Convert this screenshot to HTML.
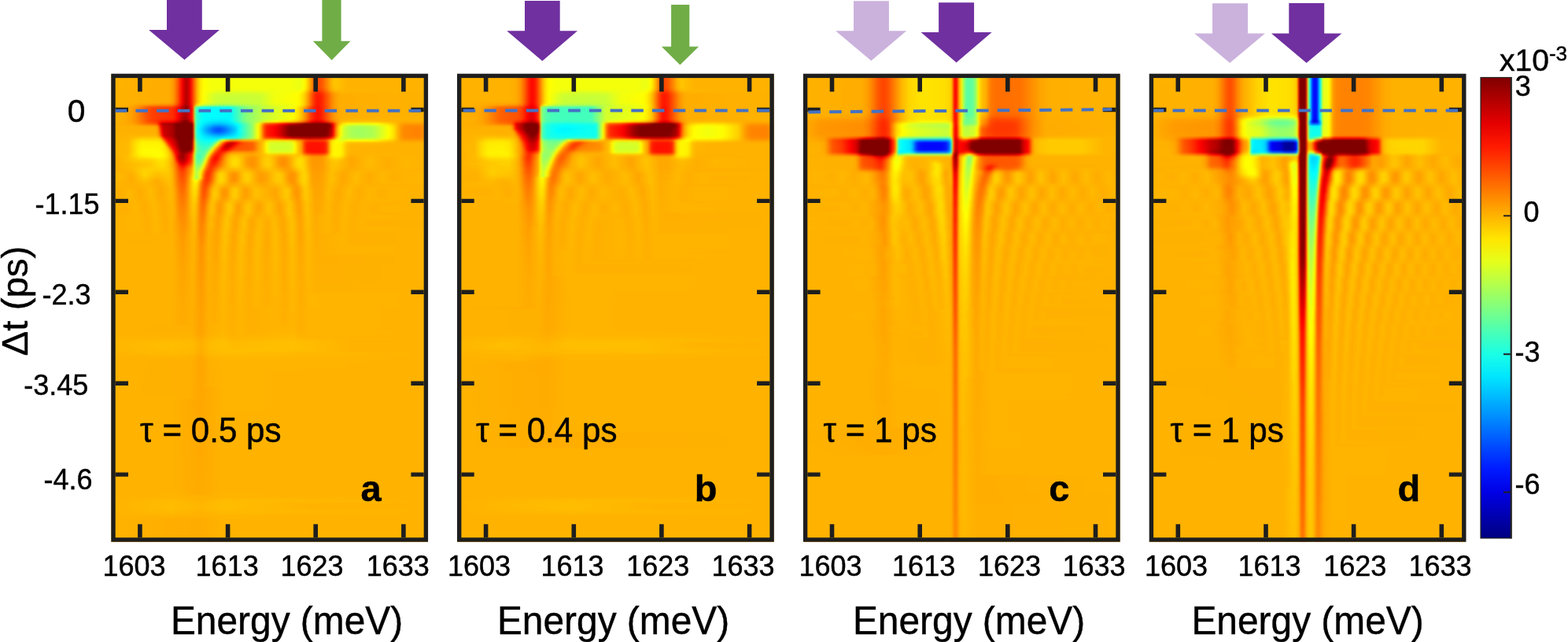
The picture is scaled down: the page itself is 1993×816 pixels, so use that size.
<!DOCTYPE html>
<html><head><meta charset="utf-8"><style>
html,body{margin:0;padding:0;background:#fff;}
body{width:1993px;height:816px;position:relative;overflow:hidden;}
.hm{position:absolute;overflow:hidden;}
.hm div{width:100%;}
svg{position:absolute;left:0;top:0;}
text{font-family:'Liberation Sans', Arial, sans-serif;fill:#000;stroke:#000;stroke-width:0.45px;}
</style></head><body>
<div class="hm" style="left:141.3px;top:93.7px;width:402.8px;height:595.0px"><div style="margin:-4px 0 0 0;filter:blur(1.2px)"><div style="height:3.00px;background:linear-gradient(90deg,#ffb300 0.0%,#ffad00 18.4%,#ffa000 19.4%,#ff8b00 20.1%,#ff5c00 21.1%,#ff0700 22.3%,#e20000 22.8%,#ba0000 23.6%,#b80000 24.1%,#d00000 24.6%,#fa0000 25.1%,#ff8300 26.6%,#ffba00 27.3%,#ffe900 28.3%,#ff0 29.3%,#f5ff0a 31.5%,#f5ff0a 56.6%,#ebff14 59.6%,#faff05 60.8%,#fffd00 61.0%,#ffdf00 61.8%,#ff6500 64.0%,#ff4e00 64.8%,#ff4800 65.5%,#ff5b00 66.7%,#ffb300 69.5%,#ffc500 70.7%,#ffb300 74.7%,#ffb300 100.0%)"></div><div style="height:12.00px;background:linear-gradient(90deg,#ffb300 0.0%,#ffad00 18.4%,#ffa000 19.4%,#ff8b00 20.1%,#ff5b00 21.1%,#ff0700 22.3%,#e20000 22.8%,#ba0000 23.6%,#b80000 24.1%,#d00000 24.6%,#fa0000 25.1%,#ff8300 26.6%,#ffba00 27.3%,#ffe900 28.3%,#ff0 29.3%,#f5ff0a 31.5%,#f5ff0a 56.6%,#ebff14 59.6%,#faff05 60.8%,#fffd00 61.0%,#ffdf00 61.8%,#ff6500 64.0%,#ff4e00 64.8%,#ff4800 65.5%,#ff5b00 66.7%,#ffb300 69.5%,#ffc500 70.7%,#ffb300 74.7%,#ffb300 100.0%)"></div><div style="height:3.00px;background:linear-gradient(90deg,#ffb300 0.0%,#ffad00 18.4%,#ffa000 19.4%,#ff8200 20.3%,#ff4c00 21.3%,#ff0700 22.3%,#f40000 22.6%,#c40000 23.3%,#b60000 23.8%,#c10000 24.3%,#fa0000 25.1%,#ff8300 26.6%,#ffba00 27.3%,#ffe900 28.3%,#ff0 29.3%,#f5ff0a 31.5%,#f5ff0a 56.6%,#ebff14 59.6%,#faff05 60.8%,#fffd00 61.0%,#ffdf00 61.8%,#ff6500 64.0%,#ff4e00 64.8%,#ff4800 65.5%,#ff5b00 66.7%,#ffb300 69.5%,#ffc500 70.7%,#ffb300 74.7%,#ffb200 100.0%)"></div><div style="height:3.00px;background:linear-gradient(90deg,#ffb200 0.0%,#ffad00 18.4%,#ffa000 19.4%,#ff8200 20.3%,#ff4c00 21.3%,#ff0700 22.3%,#f40000 22.6%,#c40000 23.3%,#b60000 23.8%,#c10000 24.3%,#fa0000 25.1%,#ff8300 26.6%,#ffba00 27.3%,#ffe900 28.3%,#ff0 29.3%,#f5ff0a 31.8%,#f5ff0a 56.6%,#ebff14 59.6%,#faff05 60.8%,#fffc00 61.0%,#ffde00 61.8%,#ff6500 64.0%,#ff4e00 64.8%,#ff4700 65.5%,#ff5b00 66.7%,#ffb200 69.5%,#ffc500 70.7%,#ffb300 74.7%,#ffb200 100.0%)"></div><div style="height:3.00px;background:linear-gradient(90deg,#ffb200 0.0%,#ffad00 18.4%,#ffa000 19.4%,#ff8200 20.3%,#ff4c00 21.3%,#ff0700 22.3%,#f40000 22.6%,#c40000 23.3%,#b60000 23.8%,#c10000 24.3%,#fa0000 25.1%,#ff8300 26.6%,#ffba00 27.3%,#ffea00 28.3%,#ff0 29.3%,#f4ff0b 32.5%,#f5ff0a 56.6%,#edff12 59.6%,#fdff02 60.8%,#ffdb00 61.8%,#ff6200 64.0%,#ff4b00 64.8%,#f40 65.5%,#ff5700 66.7%,#ffaf00 69.5%,#ffc200 70.7%,#ffb300 74.7%,#ffb200 100.0%)"></div><div style="height:3.00px;background:linear-gradient(90deg,#ffb200 0.0%,#ffad00 18.4%,#ffa000 19.4%,#ff8200 20.3%,#ff4c00 21.3%,#ff0700 22.3%,#f40000 22.6%,#c40000 23.3%,#b60000 23.8%,#c10000 24.3%,#fa0000 25.1%,#ff8300 26.6%,#ffba00 27.3%,#ffea00 28.3%,#feff01 29.3%,#ecff13 33.3%,#eaff15 43.7%,#f5ff0a 59.1%,#ff0 60.3%,#ffd800 61.5%,#ff5300 64.0%,#ff3c00 64.8%,#ff3500 65.5%,#ff4800 66.7%,#ffa700 69.7%,#ffb800 71.0%,#ffb200 100.0%)"></div><div style="height:3.00px;background:linear-gradient(90deg,#ffb200 0.0%,#ffad00 18.4%,#ffa000 19.4%,#ff8200 20.3%,#ff4c00 21.3%,#ff0700 22.3%,#f40000 22.6%,#c40000 23.3%,#b60000 23.8%,#c10000 24.3%,#fa0000 25.1%,#ff8300 26.6%,#ffba00 27.3%,#ffeb00 28.3%,#fcff03 29.3%,#e1ff1e 32.0%,#d8ff27 33.7%,#d5ff2a 43.4%,#d9ff26 47.4%,#f2ff0d 51.6%,#feff01 59.1%,#fff200 60.0%,#ffd700 61.0%,#fa0 62.0%,#ff3c00 64.0%,#ff2500 64.8%,#ff1e00 65.5%,#ff3200 66.7%,#ff9700 70.0%,#ffaf00 72.0%,#ffb200 100.0%)"></div><div style="height:3.00px;background:linear-gradient(90deg,#ffb200 0.0%,#ffad00 18.4%,#ffa000 19.4%,#ff8200 20.3%,#ff4c00 21.3%,#ff0700 22.3%,#f40000 22.6%,#c40000 23.3%,#b60000 23.8%,#c10000 24.3%,#fa0000 25.1%,#ff8300 26.6%,#ffba00 27.3%,#ffe200 28.0%,#ff0 29.0%,#dcff23 31.8%,#ceff31 33.5%,#caff35 40.4%,#cdff32 46.9%,#f0ff0f 51.4%,#ff0 58.8%,#fff100 59.8%,#ffd800 60.8%,#ffaf00 61.8%,#ff3400 64.0%,#ff1d00 64.8%,#ff1600 65.5%,#ff2a00 66.7%,#ff9000 70.0%,#ffa500 71.2%,#ffae00 72.5%,#ffb200 100.0%)"></div><div style="height:3.00px;background:linear-gradient(90deg,#ffb200 0.0%,#ffad00 18.4%,#ffa000 19.4%,#ff8200 20.3%,#ff4c00 21.3%,#ff0700 22.3%,#f40000 22.6%,#c40000 23.3%,#b60000 23.8%,#c10000 24.3%,#fa0000 25.1%,#ff8300 26.6%,#ffba00 27.3%,#ffe200 28.0%,#ff0 29.0%,#d8ff27 32.0%,#cf3 33.5%,#c7ff38 40.4%,#cbff34 46.9%,#f0ff0f 51.4%,#fffe00 58.8%,#fff000 59.8%,#ffd700 60.8%,#ffae00 61.8%,#f30 64.0%,#ff1c00 64.8%,#ff1500 65.5%,#ff2800 66.7%,#ff8f00 70.0%,#ffa400 71.2%,#ffae00 72.5%,#ffb200 100.0%)"></div><div style="height:3.00px;background:linear-gradient(90deg,#ffb200 0.0%,#ffad00 18.4%,#ffa000 19.4%,#ff8100 20.3%,#ff4c00 21.3%,#ff0700 22.3%,#f40000 22.6%,#c40000 23.3%,#b60000 23.8%,#c10000 24.3%,#fa0000 25.1%,#ff8300 26.6%,#ffba00 27.3%,#ffe200 28.0%,#ff0 29.0%,#d8ff27 32.0%,#cf3 33.5%,#c7ff38 40.4%,#cbff34 46.9%,#f0ff0f 51.4%,#fffe00 58.8%,#fff000 59.8%,#ffd700 60.8%,#ffae00 61.8%,#f30 64.0%,#ff1b00 64.8%,#ff1500 65.5%,#ff2800 66.7%,#ff8f00 70.0%,#ffa400 71.2%,#ffae00 72.5%,#ffb200 100.0%)"></div><div style="height:3.00px;background:linear-gradient(90deg,#ffb200 0.0%,#ffab00 18.4%,#ff9e00 19.4%,#ff7f00 20.3%,#ff4a00 21.3%,#ff0500 22.3%,#c30000 23.3%,#b50000 23.8%,#c00000 24.3%,#f90000 25.1%,#ff8400 26.6%,#fb0 27.3%,#ffe300 28.0%,#feff01 29.0%,#cdff32 33.3%,#c6ff39 38.2%,#caff35 46.7%,#efff10 51.4%,#fffe00 58.8%,#fff000 59.8%,#ffd700 60.8%,#ffae00 61.8%,#ff3200 64.0%,#ff1b00 64.8%,#ff1500 65.5%,#ff2800 66.7%,#ff8f00 70.0%,#ffa400 71.2%,#ffae00 72.5%,#ffb200 100.0%)"></div><div style="height:3.00px;background:linear-gradient(90deg,#ffb200 0.0%,#ffae00 6.0%,#ff9000 12.4%,#ff8600 18.6%,#ff7800 19.6%,#ff6200 20.3%,#ff3f00 21.1%,#ff0200 22.1%,#b40000 23.3%,#a80000 23.8%,#b60000 24.3%,#f10000 25.1%,#ff0b00 25.3%,#ff3b00 25.8%,#ff5800 26.1%,#ffaf00 26.6%,#ffe600 27.3%,#fcff03 27.8%,#d4ff2b 29.0%,#b0ff4f 32.0%,#a3ff5c 34.0%,#a0ff5f 37.2%,#beff41 46.7%,#e6ff19 51.4%,#f1ff0e 57.1%,#feff01 58.8%,#fff000 59.8%,#ffd500 60.8%,#fa0 61.8%,#ff3100 64.0%,#ff1b00 64.8%,#ff1400 65.5%,#ff2800 66.7%,#ff8f00 70.0%,#ffa400 71.2%,#ffae00 72.5%,#ffb200 100.0%)"></div><div style="height:3.00px;background:linear-gradient(90deg,#ffb200 0.0%,#ffa700 5.7%,#ff9500 7.7%,#ff5e00 11.2%,#ff4b00 12.9%,#ff3c00 19.1%,#ff2c00 20.1%,#ff0900 21.1%,#fc0000 21.3%,#9f0000 23.1%,#8e0000 23.8%,#a00000 24.3%,#f50000 25.3%,#ff0d00 25.6%,#ff2300 25.8%,#ff5e00 26.1%,#f4ff0b 26.3%,#70ff8f 26.6%,#45ffba 27.3%,#23ffdc 28.3%,#13ffec 29.3%,#0cfff3 30.8%,#05fffa 37.2%,#80ff7f 42.4%,#beff41 48.1%,#f0ff0f 56.8%,#fffd00 58.1%,#ffe200 59.3%,#fb0 60.5%,#ff3100 63.5%,#ff1700 64.5%,#ff1000 65.3%,#ff1600 66.0%,#ff2700 66.7%,#ff8f00 70.0%,#ffa400 71.2%,#ffae00 72.5%,#ffb200 100.0%)"></div><div style="height:3.00px;background:linear-gradient(90deg,#ffb200 0.0%,#ffae00 3.7%,#ffa200 6.2%,#ff9200 7.7%,#f50 11.2%,#ff4000 12.9%,#ff2f00 19.4%,#ff1b00 20.3%,#f00 21.1%,#a00 22.8%,#950000 23.6%,#960000 23.8%,#a70000 24.3%,#f40000 25.3%,#ff0b00 25.6%,#ff2000 25.8%,#ff5d00 26.1%,#e6ff19 26.3%,#57ffa8 26.6%,#2fffd0 27.3%,#16ffe9 28.0%,#00feff 29.8%,#00fcff 37.5%,#82ff7d 42.4%,#c5ff3a 48.1%,#ff0 57.6%,#ffe000 59.1%,#ffba00 60.3%,#ff9200 61.3%,#ff3c00 63.0%,#ff2c00 63.5%,#ff1500 64.5%,#ff0f00 65.3%,#ff1600 66.0%,#ff2700 66.7%,#ff8f00 70.0%,#ffa400 71.2%,#ffae00 72.5%,#ffb200 100.0%)"></div><div style="height:3.00px;background:linear-gradient(90deg,#ffb200 0.0%,#ffae00 3.7%,#ffa200 6.2%,#ff9100 7.7%,#ff5400 11.2%,#ff4000 12.9%,#ff2f00 19.4%,#ff2100 20.1%,#f00 21.1%,#bc0000 22.6%,#ae0000 23.1%,#a00 23.6%,#bd0000 24.3%,#fc0000 25.3%,#ff2300 25.8%,#ff5f00 26.1%,#e5ff1a 26.3%,#57ffa8 26.6%,#2fffd0 27.3%,#15ffea 28.0%,#00feff 29.8%,#00fbff 37.5%,#82ff7d 42.4%,#c5ff3a 48.1%,#ff0 57.6%,#ffe000 59.1%,#ffba00 60.3%,#ff9100 61.3%,#ff3c00 63.0%,#ff2c00 63.5%,#ff1500 64.5%,#ff0f00 65.3%,#ff1600 66.0%,#ff2700 66.7%,#ff8f00 70.0%,#ffa400 71.2%,#ffae00 72.5%,#ffb200 100.0%)"></div><div style="height:3.00px;background:linear-gradient(90deg,#ffb200 0.0%,#ffae00 3.7%,#ffa200 6.2%,#ff9100 7.7%,#ff5400 11.2%,#ff4000 12.9%,#ff2e00 19.4%,#ff2100 20.1%,#f00 21.1%,#bd0000 22.6%,#ad0000 23.3%,#b10000 23.8%,#c10000 24.3%,#fd0000 25.3%,#ff2300 25.8%,#ff5f00 26.1%,#e5ff1a 26.3%,#56ffa9 26.6%,#2fffd0 27.3%,#15ffea 28.0%,#07fff8 28.8%,#00feff 29.8%,#00fbff 37.5%,#82ff7d 42.4%,#c5ff3a 48.1%,#ff0 57.6%,#ffe000 59.1%,#ffba00 60.3%,#ff9100 61.3%,#ff3c00 63.0%,#ff2c00 63.5%,#ff1500 64.5%,#ff0f00 65.3%,#ff1600 66.0%,#ff2700 66.7%,#ff8f00 70.0%,#ffa400 71.2%,#ffae00 72.5%,#ffb200 100.0%)"></div><div style="height:3.00px;background:linear-gradient(90deg,#ffb200 0.0%,#ffae00 3.7%,#ffa200 6.2%,#ff9100 7.7%,#ff5400 11.2%,#ff4000 12.9%,#ff2e00 19.4%,#ff2100 20.1%,#fe0000 21.1%,#bc0000 22.6%,#ad0000 23.3%,#b00000 23.8%,#c00000 24.3%,#fd0000 25.3%,#ff2300 25.8%,#ff5f00 26.1%,#e5ff1a 26.3%,#56ffa9 26.6%,#2fffd0 27.3%,#15ffea 28.0%,#07fff8 28.8%,#00fdff 29.8%,#00fbff 37.5%,#82ff7d 42.4%,#c5ff3a 48.1%,#ff0 57.6%,#ffdf00 59.1%,#ffba00 60.3%,#ff9100 61.3%,#ff3c00 63.0%,#ff2c00 63.5%,#ff1500 64.5%,#ff0f00 65.3%,#ff1600 66.0%,#ff2700 66.7%,#ff8f00 70.0%,#ffa400 71.2%,#ffae00 72.5%,#ffb200 100.0%)"></div><div style="height:3.00px;background:linear-gradient(90deg,#ffb200 0.0%,#ffae00 3.7%,#ffa200 6.2%,#ff8e00 7.9%,#f40 12.4%,#ff3100 15.6%,#ff2c00 19.1%,#ff1c00 20.1%,#ff0500 20.8%,#b80000 22.6%,#a80000 23.3%,#ac0000 23.8%,#bc0000 24.3%,#f90000 25.3%,#ff2000 25.8%,#ff5d00 26.1%,#e7ff18 26.3%,#57ffa8 26.6%,#2effd1 27.3%,#14ffeb 28.0%,#02fffd 29.0%,#00fbff 29.8%,#00f3ff 34.7%,#00f5ff 37.2%,#00feff 37.7%,#82ff7d 42.4%,#c6ff39 48.1%,#fdff02 57.3%,#ffe300 58.8%,#ffc000 60.0%,#ff8f00 61.3%,#ff3a00 63.0%,#ff2900 63.5%,#ff1200 64.5%,#ff0d00 65.3%,#ff1400 66.0%,#ff2500 66.7%,#ff7100 69.0%,#ff9300 70.2%,#ffae00 72.5%,#ffb400 76.2%,#ffb200 100.0%)"></div><div style="height:3.00px;background:linear-gradient(90deg,#ffb200 0.0%,#ffae00 4.0%,#ffa000 6.5%,#ff8b00 8.2%,#ff4f00 11.7%,#ff3200 14.6%,#ff0d00 16.1%,#fe0000 19.6%,#dc0000 20.8%,#8f0000 22.6%,#800000 23.3%,#830000 23.8%,#9f0000 24.6%,#d20000 25.3%,#f00 25.8%,#ff4600 26.1%,#f3ff0c 26.3%,#5bffa4 26.6%,#48ffb7 26.8%,#21ffde 27.5%,#0afff5 28.3%,#0ff 28.8%,#00f3ff 29.8%,#00e4ff 32.3%,#00e1ff 34.5%,#00ebff 37.2%,#00fcff 38.0%,#7dff82 42.4%,#bcff43 46.7%,#e5ff1a 48.6%,#ff0 52.1%,#ffcf00 57.3%,#ffb600 58.6%,#ff7e00 60.5%,#ff0e00 63.0%,#fd0000 63.5%,#e60000 64.5%,#e10000 65.3%,#e90000 66.0%,#ff0300 67.0%,#ff9e00 71.2%,#ffb000 72.2%,#ffbd00 73.7%,#ffc200 81.6%,#ffad00 92.3%,#ffaf00 100.0%)"></div><div style="height:3.00px;background:linear-gradient(90deg,#ffb200 0.0%,#ffa600 6.5%,#ff6f00 11.4%,#ff5b00 13.9%,#ff4600 14.6%,#ff3500 14.9%,#f00 15.4%,#c00 15.9%,#b40000 16.4%,#a30000 19.1%,#970000 19.9%,#800000 20.6%,#800000 25.6%,#a10000 25.8%,#ff0300 26.1%,#ffe800 26.3%,#68ff97 26.6%,#4affb5 26.8%,#35ffca 27.0%,#1affe5 27.5%,#0ff 28.3%,#00e2ff 29.8%,#00c1ff 32.5%,#0bf 34.5%,#00d7ff 37.5%,#0ff 39.7%,#51ffae 42.2%,#8fff70 44.4%,#feff01 46.7%,#ffce00 47.4%,#ff9c00 47.9%,#ff7500 48.4%,#ff5b00 48.9%,#ff3400 52.1%,#fb0000 54.6%,#d40000 56.3%,#a80000 59.3%,#800000 61.3%,#800000 68.2%,#b40000 69.2%,#f30000 70.0%,#f10 70.2%,#ff5200 70.7%,#ff8600 71.2%,#ffb800 72.0%,#ffe700 73.2%,#feff01 74.7%,#f3ff0c 76.4%,#f0ff0f 79.2%,#ff0 83.9%,#ffd100 88.8%,#ffa500 91.3%,#ff9b00 92.6%,#f90 97.3%,#ffa300 100.0%)"></div><div style="height:3.00px;background:linear-gradient(90deg,#ffb200 0.0%,#ffb000 6.9%,#ffa300 13.9%,#f90 14.4%,#ff7b00 14.9%,#ff5e00 15.1%,#ff1300 15.6%,#f10000 15.9%,#d90000 16.1%,#c20000 16.6%,#ac0000 19.1%,#9b0000 19.9%,#800000 20.6%,#800000 25.8%,#ed0000 26.1%,#ffe000 26.3%,#6f9 26.6%,#42ffbd 26.8%,#2cffd3 27.0%,#04fffb 27.8%,#00c9ff 29.8%,#008fff 32.5%,#0085ff 33.5%,#0085ff 34.5%,#0094ff 35.7%,#00dbff 39.2%,#0ff 40.2%,#8cff73 44.4%,#feff01 46.4%,#fff100 46.7%,#ffb600 47.4%,#ff7900 47.9%,#ff4700 48.4%,#ff2700 48.9%,#ff1700 49.6%,#fc0000 51.9%,#e00000 53.1%,#950000 55.6%,#800000 56.6%,#800000 68.7%,#850000 69.0%,#a70000 69.5%,#db0000 70.0%,#f00 70.2%,#ff7500 71.0%,#ffac00 71.5%,#ffe700 72.2%,#fbff04 72.7%,#d6ff29 73.7%,#beff41 74.9%,#b1ff4e 76.7%,#adff52 79.2%,#bcff43 82.9%,#fffe00 87.3%,#ffdb00 89.3%,#ff9c00 91.3%,#ff8a00 92.8%,#ff8700 97.3%,#f90 100.0%)"></div><div style="height:3.00px;background:linear-gradient(90deg,#ffb200 0.0%,#ffaf00 13.9%,#ffa700 14.4%,#ff8e00 14.9%,#ff7400 15.1%,#ff0400 15.9%,#d40000 16.4%,#c90000 16.6%,#af0000 19.1%,#9e0000 19.9%,#810000 20.6%,#800000 20.8%,#800000 25.8%,#ec0000 26.1%,#ffe200 26.3%,#63ff9c 26.6%,#3effc1 26.8%,#26ffd9 27.0%,#07fff8 27.5%,#00fbff 27.8%,#00b4ff 29.8%,#0065ff 32.5%,#0057ff 33.5%,#0058ff 34.5%,#007aff 36.2%,#00d5ff 39.5%,#04fffb 40.4%,#3cffc3 41.9%,#8cff73 44.4%,#feff01 46.4%,#fff100 46.7%,#ffb500 47.4%,#f70 47.9%,#ff4500 48.4%,#ff2500 48.9%,#ff1400 49.6%,#fd0000 51.6%,#e30000 52.9%,#800000 56.3%,#800000 68.2%,#a60000 69.2%,#cb0000 69.7%,#e70000 70.0%,#ff0a00 70.2%,#ff5a00 70.7%,#ff9b00 71.2%,#ffcb00 71.7%,#ff0 72.5%,#d3ff2c 73.4%,#b7ff48 74.7%,#a7ff58 76.4%,#a2ff5d 78.9%,#b2ff4d 82.9%,#ff0 87.6%,#ffe400 89.1%,#ffa000 91.1%,#ff8900 92.3%,#ff8200 97.0%,#ff9700 100.0%)"></div><div style="height:3.00px;background:linear-gradient(90deg,#ffb200 0.0%,#ffaf00 14.1%,#ffa300 14.6%,#ff9600 14.9%,#ff8000 15.1%,#ff6000 15.4%,#f10 15.9%,#f00000 16.1%,#da0000 16.4%,#c50000 16.9%,#af0000 19.1%,#9e0000 19.9%,#810000 20.6%,#800000 20.8%,#800000 25.8%,#ec0000 26.1%,#ffe200 26.3%,#63ff9c 26.6%,#3dffc2 26.8%,#26ffd9 27.0%,#07fff8 27.5%,#00faff 27.8%,#00b2ff 29.8%,#0060ff 32.5%,#0052ff 33.5%,#0053ff 34.5%,#0076ff 36.2%,#00d4ff 39.5%,#03fffc 40.4%,#3cffc3 41.9%,#8cff73 44.4%,#feff01 46.4%,#fff100 46.7%,#ffb500 47.4%,#f70 47.9%,#ff4500 48.4%,#ff2500 48.9%,#ff1400 49.6%,#fd0000 51.6%,#e30000 52.9%,#800000 56.3%,#800000 68.0%,#950000 68.7%,#ab0000 69.2%,#cf0000 69.7%,#ea0000 70.0%,#ff0d00 70.2%,#ff5c00 70.7%,#ff9d00 71.2%,#fc0 71.7%,#feff01 72.5%,#d2ff2d 73.4%,#b6ff49 74.7%,#a6ff59 76.4%,#a1ff5e 78.9%,#b1ff4e 82.9%,#ff0 87.6%,#ffe400 89.1%,#ffa000 91.1%,#ff8900 92.3%,#ff8200 97.0%,#ff9600 100.0%)"></div><div style="height:3.00px;background:linear-gradient(90deg,#ffb300 0.0%,#ffb100 14.1%,#ffa800 14.6%,#ff8b00 15.1%,#ff6f00 15.4%,#fd0000 16.1%,#e30000 16.4%,#c90000 16.9%,#af0000 19.1%,#9e0000 19.9%,#810000 20.6%,#800000 20.8%,#800000 25.8%,#ea0000 26.1%,#ffdf00 26.3%,#6f9 26.6%,#41ffbe 26.8%,#2affd5 27.0%,#01fffe 27.8%,#00c4ff 29.8%,#0085ff 32.5%,#007aff 33.5%,#007aff 34.5%,#008bff 35.7%,#00d8ff 39.2%,#00fdff 40.2%,#8cff73 44.4%,#feff01 46.4%,#fff100 46.7%,#ffb500 47.4%,#f70 47.9%,#ff4500 48.4%,#ff2500 48.9%,#ff1400 49.6%,#fd0000 51.6%,#e30000 52.9%,#800000 56.3%,#800000 68.0%,#ad0000 69.2%,#d10000 69.7%,#eb0000 70.0%,#ff0f00 70.2%,#ff5d00 70.7%,#ff9e00 71.2%,#ffe100 72.0%,#fdff02 72.5%,#d2ff2d 73.4%,#b6ff49 74.7%,#a6ff59 76.4%,#a1ff5e 78.9%,#b1ff4e 82.9%,#ff0 87.6%,#ffe400 89.1%,#ffa000 91.1%,#ff8900 92.3%,#ff8200 97.0%,#ff9600 100.0%)"></div><div style="height:3.00px;background:linear-gradient(90deg,#ffb300 0.0%,#ffb900 14.1%,#ffb200 14.6%,#ff9c00 15.1%,#ff8500 15.4%,#ff6300 15.6%,#ff1500 16.1%,#f50000 16.4%,#e00000 16.6%,#c00 17.1%,#ad0000 19.4%,#820000 20.6%,#800000 20.8%,#800000 25.8%,#e80000 26.1%,#ffdc00 26.3%,#6aff95 26.6%,#46ffb9 26.8%,#2fffd0 27.0%,#02fffd 28.0%,#00dcff 29.8%,#00b7ff 32.5%,#00b2ff 34.5%,#00e8ff 39.2%,#00feff 40.0%,#8dff72 44.4%,#feff01 46.4%,#ffcd00 47.1%,#ff4800 48.4%,#ff2800 48.9%,#ff1b00 49.4%,#fd0000 51.9%,#e10000 53.1%,#900000 55.8%,#800000 56.8%,#810000 67.7%,#950000 68.5%,#b60000 69.2%,#da0000 69.7%,#f40000 70.0%,#ff1700 70.2%,#ff6400 70.7%,#ffa400 71.2%,#ffe500 72.0%,#f9ff06 72.5%,#d0ff2f 73.4%,#b4ff4b 74.9%,#a7ff58 76.7%,#a3ff5c 79.2%,#a7ff58 81.4%,#b5ff4a 83.1%,#ff0 87.6%,#ffe400 89.1%,#ffa000 91.1%,#ff8a00 92.3%,#ff8300 97.0%,#ff9700 100.0%)"></div><div style="height:3.00px;background:linear-gradient(90deg,#ffb300 0.0%,#ffb500 5.5%,#ffce00 9.9%,#fc0 14.6%,#ffc500 15.1%,#ffae00 15.6%,#ff9600 15.9%,#ff2a00 16.6%,#ff0e00 16.9%,#f90000 17.1%,#e40000 17.6%,#b90000 19.6%,#800000 21.1%,#800000 25.6%,#870000 25.8%,#f40000 26.1%,#ffdc00 26.3%,#71ff8e 26.6%,#4cffb3 26.8%,#35ffca 27.0%,#12ffed 27.8%,#0ff 28.5%,#00efff 29.8%,#00dfff 33.3%,#00feff 36.0%,#1cffe3 39.5%,#a0ff5f 44.4%,#f8ff07 46.2%,#fff900 46.4%,#fd0 46.9%,#ffba00 47.4%,#ff8a00 47.9%,#ff6900 48.4%,#ff5400 48.9%,#ff3700 52.1%,#fb0000 55.1%,#e10000 56.6%,#ce0000 58.3%,#ba0000 62.5%,#c70000 66.7%,#d70000 67.7%,#fa0000 68.7%,#ff0700 69.0%,#f30 69.7%,#ff6200 70.2%,#ffb600 71.0%,#ffe000 71.5%,#fdff02 72.0%,#dbff24 72.7%,#c6ff39 73.7%,#b5ff4a 76.4%,#b1ff4e 78.9%,#bfff40 82.9%,#ff0 87.1%,#ffe000 89.1%,#ff9d00 91.3%,#ff8b00 92.8%,#ff8900 97.3%,#ff9a00 100.0%)"></div><div style="height:3.00px;background:linear-gradient(90deg,#ffb300 0.0%,#ffb800 5.5%,#ffdc00 8.4%,#ffe500 9.9%,#ffe400 15.1%,#ffdc00 15.6%,#ffc300 16.1%,#ffab00 16.4%,#ff4100 17.1%,#ff2500 17.4%,#ff0300 17.9%,#c30000 19.9%,#800000 21.3%,#800000 25.6%,#b60000 25.8%,#ff2a00 26.1%,#ffca00 26.3%,#b2ff4d 26.6%,#6fff90 26.8%,#4cffb3 27.0%,#2bffd4 27.5%,#0dfff2 28.8%,#02fffd 31.0%,#08fff7 32.3%,#12ffed 32.8%,#27ffd8 33.3%,#4bffb4 33.7%,#d5ff2a 35.0%,#fffa00 35.5%,#fc0 36.2%,#ffaf00 37.0%,#ff9600 38.0%,#ff8b00 39.0%,#ffae00 42.4%,#ffac00 44.9%,#ffb700 46.7%,#ffb500 47.9%,#ffdb00 49.6%,#ffe200 50.4%,#ffd300 56.8%,#ffc800 57.6%,#ffa100 58.8%,#ff8600 60.0%,#ff4000 61.5%,#ff3700 62.8%,#ff3900 66.3%,#f40 67.5%,#ff6400 68.2%,#ffa600 69.0%,#ffc900 69.5%,#ffe500 70.2%,#fcff03 71.2%,#e2ff1d 72.7%,#feff01 74.9%,#fffd00 82.1%,#ffce00 88.6%,#ffa900 91.1%,#ff9f00 92.3%,#ff9c00 97.0%,#ffa500 100.0%)"></div><div style="height:3.00px;background:linear-gradient(90deg,#ffb300 0.0%,#ffb900 5.5%,#ffe600 8.4%,#fff200 9.9%,#fff100 15.4%,#ffe600 16.1%,#ffcd00 16.6%,#ffb500 16.9%,#ff3100 17.9%,#ff1c00 18.1%,#ff0100 18.6%,#ca0000 20.1%,#800000 21.6%,#830000 25.6%,#c70000 25.8%,#ff3800 26.1%,#ffc300 26.3%,#c8ff37 26.6%,#81ff7e 26.8%,#5cffa3 27.0%,#3bffc4 27.5%,#21ffde 28.5%,#17ffe8 30.3%,#20ffdf 31.5%,#38ffc7 32.3%,#74ff8b 33.0%,#f5ff0a 34.0%,#ffea00 34.2%,#ff3200 36.0%,#ff0a00 36.5%,#f80000 36.7%,#d70000 37.5%,#ce0000 38.0%,#d80000 38.7%,#ff0400 39.7%,#ff3200 40.7%,#ff4e00 41.7%,#ff6800 44.9%,#ffa600 46.7%,#ffc000 47.9%,#ffd300 48.4%,#fffe00 49.1%,#f4ff0b 49.4%,#e4ff1b 49.9%,#daff25 50.6%,#d8ff27 55.1%,#deff21 56.8%,#faff05 57.8%,#ffcd00 58.8%,#ff9f00 60.0%,#ff7800 60.5%,#ff4500 61.0%,#ff2500 61.5%,#ff1900 62.0%,#ff1500 62.8%,#ff1500 66.5%,#ff2000 67.5%,#ff3700 68.0%,#ff4c00 68.2%,#ffad00 69.0%,#ffdb00 69.5%,#fff400 70.2%,#fffb00 71.2%,#fff800 72.7%,#ffca00 74.4%,#ffc000 75.4%,#ffbd00 83.9%,#ffae00 92.6%,#ffaf00 100.0%)"></div><div style="height:3.00px;background:linear-gradient(90deg,#ffb300 0.0%,#ffba00 5.5%,#ffe900 8.4%,#fff600 9.9%,#fff500 15.6%,#ffe700 16.6%,#ffcf00 17.1%,#ff9b00 17.6%,#ff3700 18.4%,#ff2100 18.6%,#ff0400 19.1%,#cf0000 20.3%,#860000 21.6%,#800000 21.8%,#800000 25.3%,#900000 25.6%,#d20000 25.8%,#ff3d00 26.1%,#ffc100 26.3%,#cfff30 26.6%,#8cff73 26.8%,#68ff97 27.0%,#54ffab 27.3%,#32ffcd 28.3%,#26ffd9 29.8%,#32ffcd 31.0%,#52ffad 31.8%,#7dff82 32.3%,#fbff04 33.3%,#ff1400 35.5%,#fa0000 35.7%,#c50000 36.5%,#ba0000 37.0%,#c60000 37.7%,#ff0600 39.0%,#ff3400 40.0%,#ff4c00 40.9%,#ff6300 44.9%,#ffa500 46.7%,#ffca00 48.1%,#fdff02 49.1%,#dfff20 49.9%,#d5ff2a 50.6%,#d2ff2d 54.8%,#d8ff27 56.8%,#e1ff1e 57.3%,#fffc00 58.1%,#ffd000 58.8%,#ffa000 60.0%,#ff7800 60.5%,#ff4300 61.0%,#ff2100 61.5%,#ff1500 62.0%,#ff1000 62.8%,#f10 66.5%,#ff1c00 67.5%,#f30 68.0%,#ff4900 68.2%,#ffad00 69.0%,#ffdc00 69.5%,#fff000 70.0%,#fff800 70.7%,#fff100 72.7%,#ffc000 74.4%,#ffb500 75.7%,#ffb200 100.0%)"></div><div style="height:3.00px;background:linear-gradient(90deg,#ffb300 0.0%,#ffba00 5.5%,#ffea00 8.4%,#fff700 9.9%,#fff500 15.9%,#ffe900 16.9%,#ffcb00 17.6%,#ff9c00 18.1%,#ff3b00 18.9%,#ff2400 19.1%,#ff0400 19.6%,#d20000 20.6%,#860000 21.8%,#800000 22.1%,#800000 25.3%,#9e0000 25.6%,#d00 25.8%,#ff4300 26.1%,#ffc000 26.3%,#d5ff2a 26.6%,#95ff6a 26.8%,#72ff8d 27.0%,#5fffa0 27.3%,#3effc1 28.3%,#35ffca 29.5%,#3cffc3 30.3%,#56ffa9 31.0%,#96ff69 31.8%,#f6ff09 32.5%,#ffe700 32.8%,#ff9500 33.5%,#fe0000 35.2%,#d00000 36.0%,#ca0000 36.5%,#d60000 37.0%,#f90000 37.7%,#ff0700 38.0%,#ff3400 39.0%,#ff4c00 40.0%,#ff5600 41.2%,#ff5a00 44.2%,#ff6300 44.9%,#ffa500 46.7%,#ffca00 48.1%,#fdff02 49.1%,#dfff20 49.9%,#d4ff2b 50.6%,#d1ff2e 54.8%,#d8ff27 56.8%,#e1ff1e 57.3%,#fffc00 58.1%,#ffd000 58.8%,#ffa000 60.0%,#ff7800 60.5%,#ff4300 61.0%,#ff2100 61.5%,#ff1400 62.0%,#ff1000 62.8%,#f10 66.5%,#ff1b00 67.5%,#f30 68.0%,#ff4900 68.2%,#ffad00 69.0%,#ffdc00 69.5%,#fff000 70.0%,#fff800 70.7%,#fff100 72.7%,#ffbf00 74.4%,#ffb400 75.7%,#ffb200 100.0%)"></div><div style="height:3.00px;background:linear-gradient(90deg,#ffb300 0.0%,#ffba00 5.5%,#ffef00 8.7%,#fff900 9.9%,#fffd00 13.4%,#fff700 15.9%,#ffe800 17.1%,#ffc400 18.1%,#f90 18.6%,#ff2400 19.6%,#f00 20.1%,#850000 22.1%,#800000 22.3%,#800000 25.1%,#940000 25.3%,#b60000 25.6%,#f10000 25.8%,#ff5100 26.1%,#ffc500 26.3%,#d6ff29 26.6%,#9aff65 26.8%,#79ff86 27.0%,#67ff98 27.3%,#4effb1 28.0%,#4fb 29.0%,#4affb5 29.8%,#65ff9a 30.5%,#8cff73 31.0%,#e7ff18 31.8%,#fff500 32.0%,#ff9c00 32.8%,#ff5900 33.5%,#ff1a00 34.5%,#ff0300 35.0%,#f80000 35.2%,#ed0000 36.0%,#ff0300 36.7%,#ff3900 38.0%,#ff5600 39.2%,#ff6100 43.9%,#ff6a00 44.9%,#ffa600 46.7%,#ffca00 48.1%,#fdff02 49.1%,#dfff20 49.9%,#d5ff2a 50.6%,#d2ff2d 54.8%,#d8ff27 56.8%,#e2ff1d 57.3%,#fffb00 58.1%,#ffd000 58.8%,#ffa000 60.0%,#ff7800 60.5%,#ff4300 61.0%,#ff2100 61.5%,#ff1400 62.0%,#ff0f00 63.0%,#ff0f00 66.3%,#ff1b00 67.5%,#ff3200 68.0%,#ff4800 68.2%,#ffad00 69.0%,#ffdc00 69.5%,#fff000 70.0%,#fff800 70.7%,#fff100 72.7%,#ffbf00 74.4%,#ffb400 75.7%,#ffb200 100.0%)"></div><div style="height:3.00px;background:linear-gradient(90deg,#ffb200 0.0%,#fb0 5.5%,#fff000 8.7%,#fffb00 9.9%,#fffb00 15.9%,#ffe700 17.4%,#ffc700 18.4%,#ffa800 18.9%,#ff9000 19.1%,#ff1d00 20.1%,#ff0900 20.3%,#f60000 20.6%,#a00000 22.1%,#8f0000 22.6%,#8a0000 23.1%,#950000 23.8%,#b10000 24.6%,#d00 25.3%,#f90000 25.6%,#ff2d00 25.8%,#ff8200 26.1%,#ffec00 26.3%,#baff45 26.6%,#85ff7a 26.8%,#6bff94 27.0%,#56ffa9 27.5%,#4cffb3 28.5%,#53ffac 29.3%,#6eff91 30.0%,#96ff69 30.5%,#f2ff0d 31.3%,#ffe900 31.5%,#ff8d00 32.3%,#ff4c00 33.0%,#ff2500 33.7%,#ff1900 34.5%,#ff2b00 35.5%,#ff7300 37.2%,#ff8c00 38.2%,#ff9700 39.7%,#ff9100 43.7%,#ff9700 45.2%,#ffc100 47.9%,#faff05 49.4%,#e7ff18 50.1%,#e2ff1d 51.4%,#e7ff18 56.6%,#efff10 57.3%,#ff0 57.8%,#ffd000 58.8%,#ffa500 60.0%,#ff7e00 60.5%,#ff4b00 61.0%,#ff2900 61.5%,#ff1800 62.3%,#ff0f00 64.3%,#f10 66.5%,#ff1f00 67.5%,#ff3700 68.0%,#ff4d00 68.2%,#ffaf00 69.0%,#fd0 69.5%,#fff000 70.0%,#fff900 70.7%,#fff100 72.7%,#ffbe00 74.4%,#ffb300 75.7%,#ffb200 100.0%)"></div><div style="height:3.00px;background:linear-gradient(90deg,#ffb000 0.0%,#ffbd00 5.5%,#ffeb00 8.4%,#fff700 9.7%,#fffe00 16.1%,#ffe600 17.6%,#ffba00 18.9%,#ff9400 19.4%,#ff0100 20.6%,#ba0000 21.6%,#a50000 22.1%,#9e0000 22.6%,#ad0000 23.3%,#f90000 24.8%,#ff1800 25.3%,#ff3100 25.6%,#ff5f00 25.8%,#ffac00 26.1%,#f1ff0e 26.3%,#a0ff5f 26.6%,#71ff8e 26.8%,#5bffa4 27.0%,#51ffae 27.3%,#4affb5 28.0%,#51ffae 28.8%,#6dff92 29.5%,#94ff6b 30.0%,#f2ff0d 30.8%,#ffe700 31.0%,#ff8300 31.8%,#ff5100 32.3%,#ff2100 33.0%,#ff1300 33.7%,#ff2400 34.5%,#ff8000 36.2%,#ffa000 37.0%,#ffb700 38.0%,#ffbf00 39.0%,#ffa300 44.7%,#ffb400 47.1%,#ffd700 49.9%,#ffc100 54.1%,#ffcf00 57.8%,#ffba00 60.0%,#ff7e00 61.3%,#ff6900 62.0%,#ff5900 63.3%,#f50 64.8%,#ff5700 66.5%,#ff6500 67.5%,#ff8700 68.2%,#ffc600 69.0%,#ffe500 69.5%,#fff300 70.0%,#fffa00 70.7%,#fff300 72.5%,#ffe300 73.2%,#fb0 74.4%,#ffaf00 75.7%,#ffb600 81.6%,#ffb200 100.0%)"></div><div style="height:3.00px;background:linear-gradient(90deg,#ffae00 0.0%,#ffbd00 5.2%,#ffe800 9.4%,#fffa00 15.1%,#fff700 16.4%,#ffde00 17.9%,#ffb300 19.1%,#ff8f00 19.6%,#ff7500 19.9%,#f10 20.6%,#f30000 20.8%,#c70000 21.3%,#a00 21.8%,#9a0000 22.6%,#ae0000 23.3%,#f70000 24.6%,#ff1600 25.1%,#ff4000 25.6%,#ff6c00 25.8%,#ffb600 26.1%,#ecff13 26.3%,#9eff61 26.6%,#71ff8e 26.8%,#5bffa4 27.0%,#51ffae 27.3%,#4bffb4 27.8%,#52ffad 28.5%,#74ff8b 29.3%,#a1ff5e 29.8%,#e3ff1c 30.3%,#fff500 30.5%,#ff8700 31.3%,#ff3800 32.0%,#ff1800 32.5%,#ff0800 33.3%,#f10 33.7%,#ff2600 34.2%,#ff7d00 35.7%,#fa0 36.7%,#ffc500 37.7%,#ffd100 39.0%,#fc0 40.2%,#ffa300 42.9%,#f90 44.4%,#ff9f00 45.7%,#ffc100 48.1%,#ffca00 49.4%,#ffc300 50.6%,#ff9e00 53.3%,#ff9a00 54.8%,#ffca00 58.3%,#ffd300 59.6%,#ffcb00 60.5%,#ff9600 63.3%,#ff9400 66.3%,#ffa600 67.7%,#ffdf00 69.5%,#ffec00 70.7%,#ffe300 72.5%,#ffb500 74.4%,#fa0 75.9%,#ffb900 81.6%,#ffae00 87.1%,#ffb600 92.6%,#ffb100 100.0%)"></div><div style="height:3.00px;background:linear-gradient(90deg,#ffac00 0.0%,#ffb100 2.7%,#ffd200 8.9%,#ffd700 12.4%,#ffea00 15.4%,#ffe800 16.6%,#ffd200 18.1%,#ffa800 19.4%,#ff6f00 20.1%,#ff0f00 20.8%,#f00000 21.1%,#d80000 21.3%,#b70000 21.8%,#a60000 22.6%,#ba0000 23.3%,#f30000 24.3%,#ff0300 24.6%,#ff2000 25.1%,#ff4a00 25.6%,#ff7400 25.8%,#ffba00 26.1%,#ecff13 26.3%,#a2ff5d 26.6%,#7f8 26.8%,#62ff9d 27.0%,#58ffa7 27.3%,#52ffad 27.8%,#60ff9f 28.5%,#7cff83 29.0%,#acff53 29.5%,#f1ff0e 30.0%,#ffe700 30.3%,#ff7a00 31.0%,#ff4300 31.5%,#ff1e00 32.0%,#ff0700 32.8%,#ff0c00 33.3%,#ff1e00 33.7%,#ff8a00 35.7%,#ffb400 36.7%,#ffd300 38.0%,#ffdc00 39.0%,#ffd400 40.2%,#ff9e00 42.9%,#ff9100 44.4%,#f90 45.7%,#ffc600 48.1%,#ffd000 49.4%,#ffc700 50.6%,#ff9500 53.3%,#ff9000 54.8%,#ffa000 56.1%,#ffd500 58.6%,#ffde00 59.6%,#ffd700 60.5%,#ffa200 62.8%,#ff9700 63.8%,#ff9c00 67.0%,#ffc900 69.5%,#ffd100 70.7%,#ffca00 72.2%,#ffae00 74.4%,#ffa600 75.9%,#fb0 81.6%,#ffad00 87.1%,#ffb600 92.6%,#ffb100 100.0%)"></div><div style="height:3.00px;background:linear-gradient(90deg,#ffac00 0.0%,#ffc800 8.9%,#ffcb00 12.2%,#ffe000 15.6%,#fd0 16.9%,#ffc700 18.4%,#ff9e00 19.6%,#ff6b00 20.3%,#ff1500 21.1%,#f80000 21.3%,#d10000 21.8%,#bd0000 22.6%,#cf0000 23.3%,#f70000 24.1%,#ff0700 24.3%,#ff3100 25.1%,#ff5700 25.6%,#ff7f00 25.8%,#ffbf00 26.1%,#ef1 26.3%,#af5 26.6%,#82ff7d 26.8%,#6fff90 27.0%,#6f9 27.3%,#64ff9b 27.8%,#6fff90 28.3%,#8aff75 28.8%,#b9ff46 29.3%,#fcff03 29.8%,#ff7600 30.8%,#f40 31.3%,#ff2300 31.8%,#ff1300 32.5%,#ff1900 33.0%,#ff2b00 33.5%,#ff7f00 35.2%,#ffaf00 36.5%,#ffd000 37.7%,#fd0 39.0%,#ffd500 40.2%,#ff9e00 42.9%,#ff9000 44.4%,#f90 45.7%,#ffc600 48.1%,#ffd000 49.4%,#ffc700 50.6%,#ff9500 53.3%,#ff8f00 54.8%,#ffa000 56.1%,#ffd600 58.6%,#ffdf00 59.6%,#ffd800 60.5%,#ffa200 62.8%,#ff9800 63.8%,#ff9b00 66.7%,#ffc000 69.5%,#ffc600 70.7%,#ffa600 75.9%,#fb0 81.6%,#ffad00 87.1%,#ffb700 92.6%,#ffb100 100.0%)"></div><div style="height:3.00px;background:linear-gradient(90deg,#ffac00 0.0%,#ffc800 12.2%,#fd0 15.6%,#ffdb00 16.9%,#ffc600 18.4%,#ffa100 19.6%,#ff6800 20.6%,#ff0d00 21.6%,#f90000 21.8%,#ec0000 22.1%,#e20000 22.6%,#e90000 23.1%,#fd0000 23.6%,#ff4e00 25.1%,#ff7100 25.6%,#ff9300 25.8%,#ffcb00 26.1%,#ecff13 26.3%,#b0ff4f 26.6%,#8dff72 26.8%,#7cff83 27.0%,#75ff8a 27.5%,#7eff81 28.0%,#97ff68 28.5%,#c4ff3b 29.0%,#fffb00 29.5%,#ff9400 30.3%,#ff4900 31.0%,#ff2c00 31.5%,#ff1f00 32.3%,#ff2e00 33.0%,#f80 35.2%,#ffb900 36.7%,#ffd400 38.0%,#fd0 39.0%,#ffd500 40.2%,#ff9e00 42.9%,#ff9000 44.4%,#f90 45.7%,#ffc600 48.1%,#ffd000 49.4%,#ffc700 50.6%,#ff9500 53.3%,#ff8f00 54.8%,#ffa000 56.1%,#ffd600 58.6%,#ffdf00 59.6%,#ffd800 60.5%,#ffa300 62.8%,#f90 63.8%,#ff9b00 66.7%,#ffbf00 69.5%,#ffc400 70.7%,#ffa600 75.9%,#fb0 81.6%,#ffad00 87.1%,#ffb700 92.6%,#ffb100 100.0%)"></div><div style="height:3.00px;background:linear-gradient(90deg,#ffad00 0.0%,#ffc900 12.4%,#ffdb00 15.6%,#ffd800 16.9%,#ffc600 18.4%,#ffad00 19.4%,#ff8000 20.3%,#ff2300 21.8%,#ff0f00 22.6%,#ff1f00 23.3%,#ff8100 25.3%,#ff9200 25.6%,#ffae00 25.8%,#ffdc00 26.1%,#e7ff18 26.3%,#b5ff4a 26.6%,#98ff67 26.8%,#87ff78 27.3%,#8fff70 27.8%,#a6ff59 28.3%,#ecff13 29.0%,#fff200 29.3%,#ff9200 30.0%,#ff6000 30.5%,#ff3f00 31.0%,#ff2c00 31.8%,#ff3600 32.5%,#ff8500 34.7%,#ffae00 36.2%,#ffcb00 37.7%,#ffd500 39.0%,#ffd000 40.2%,#ff9f00 43.2%,#ff9500 44.7%,#ff9e00 45.9%,#ffc500 48.4%,#fc0 49.6%,#ffc200 50.9%,#ff9700 53.6%,#ff9400 55.1%,#ffa300 56.3%,#ffd500 58.8%,#ffdc00 59.8%,#ffd400 60.8%,#ffa500 62.8%,#ff9a00 63.8%,#ff9d00 66.7%,#ffbc00 69.2%,#ffc300 70.5%,#ffa800 75.7%,#ffba00 81.6%,#ffad00 87.1%,#ffb600 92.8%,#ffb100 100.0%)"></div><div style="height:3.00px;background:linear-gradient(90deg,#ffae00 0.0%,#ffba00 6.7%,#ffcd00 10.2%,#ffd300 17.1%,#ffc700 18.4%,#ffaf00 19.4%,#ff9200 20.1%,#ff3900 21.8%,#ff2c00 22.6%,#ff3c00 23.3%,#f90 25.3%,#ffc000 25.8%,#ffe600 26.1%,#e7ff18 26.3%,#bdff42 26.6%,#a4ff5b 26.8%,#9bff64 27.3%,#b7ff48 28.0%,#fbff04 28.8%,#f80 29.8%,#ff5900 30.3%,#ff3d00 30.8%,#f30 31.3%,#ff3e00 32.0%,#ff8c00 34.0%,#ffa500 35.0%,#ffb600 36.5%,#ffc100 39.5%,#ffbe00 41.4%,#ff9f00 45.4%,#ffbe00 48.9%,#ffc200 50.4%,#ff9c00 55.3%,#ffa400 56.8%,#ffd000 59.3%,#ffd700 60.3%,#fc0 61.3%,#ffa400 63.0%,#ff9c00 64.0%,#ff9e00 66.7%,#ffc100 70.0%,#ffab00 74.7%,#ffb600 82.1%,#ffaf00 88.1%,#ffb600 93.1%,#ffb100 100.0%)"></div><div style="height:3.00px;background:linear-gradient(90deg,#ffb000 0.0%,#ffb400 6.5%,#ffd200 10.4%,#ffca00 13.9%,#ffcd00 17.6%,#ffc300 18.6%,#ffb200 19.4%,#ff4e00 21.6%,#ff3f00 22.1%,#ff3b00 22.6%,#ff4900 23.3%,#ffa300 25.3%,#ffc600 25.8%,#ffe800 26.1%,#ebff14 26.3%,#c6ff39 26.6%,#b2ff4d 26.8%,#acff53 27.0%,#b7ff48 27.5%,#ecff13 28.3%,#fff900 28.5%,#ff8100 29.5%,#ff5300 30.0%,#ff3900 30.5%,#ff3200 31.0%,#ff4300 31.8%,#ff8d00 33.3%,#ffa900 34.0%,#ffba00 34.7%,#ffbe00 35.5%,#ffa900 38.7%,#ffc100 42.4%,#ffa300 46.4%,#ffbc00 50.4%,#ffbf00 52.1%,#ff9b00 56.3%,#ffa300 57.6%,#ffca00 59.6%,#ffd400 60.5%,#ffca00 61.5%,#ffa300 63.3%,#ff9d00 64.0%,#ffa000 66.7%,#ffc000 69.7%,#ffab00 73.7%,#ffb500 77.9%,#ffb200 100.0%)"></div><div style="height:3.00px;background:linear-gradient(90deg,#ffb200 0.0%,#ffb800 2.5%,#ffaf00 6.5%,#ffd500 10.7%,#ffc200 14.4%,#ffc800 18.1%,#ffb400 19.4%,#f50 21.6%,#ff4300 22.6%,#ff5a00 23.6%,#ffa900 25.3%,#ffcb00 25.8%,#ffea00 26.1%,#ecff13 26.3%,#cbff34 26.6%,#baff45 26.8%,#b7ff48 27.0%,#c8ff37 27.5%,#ef1 28.0%,#fff600 28.3%,#ff7e00 29.3%,#ff4e00 29.8%,#f30 30.3%,#ff2c00 30.8%,#ff4200 31.5%,#f90 33.0%,#ffbc00 33.7%,#ffcb00 34.2%,#ffd200 35.0%,#ffc700 36.0%,#ff9e00 37.7%,#ff9400 38.7%,#ff9b00 39.7%,#ffc700 41.9%,#ffcd00 42.9%,#ffc500 43.9%,#ffa600 45.9%,#ff9e00 47.1%,#ffa600 48.9%,#ffc700 52.1%,#ffc900 53.1%,#ffbf00 54.1%,#ff9a00 56.1%,#ff9300 57.1%,#ff9d00 58.1%,#ffc700 59.8%,#ffd400 60.8%,#ffce00 61.5%,#fa0 63.0%,#ff9f00 64.0%,#ffa000 66.5%,#ffbf00 69.5%,#ffa800 73.2%,#ffba00 77.4%,#ffad00 81.4%,#ffb700 85.4%,#ffaf00 89.3%,#ffb600 93.5%,#ffb300 100.0%)"></div><div style="height:3.00px;background:linear-gradient(90deg,#ffb200 0.0%,#ffb800 2.5%,#ffad00 6.5%,#ffd100 10.7%,#fb0 14.4%,#ffc700 18.1%,#ffb500 19.4%,#ff5a00 21.6%,#ff4a00 22.6%,#ff6000 23.6%,#ff9b00 24.8%,#ffc600 25.6%,#ffdc00 25.8%,#fffc00 26.1%,#bf4 26.6%,#acff53 26.8%,#af5 27.0%,#c2ff3d 27.5%,#f1ff0e 28.0%,#fff000 28.3%,#ff8f00 29.0%,#ff5a00 29.5%,#ff3a00 30.0%,#ff2f00 30.5%,#ff4000 31.3%,#ffbc00 33.5%,#ffd200 34.2%,#ffd800 34.7%,#ffcf00 35.7%,#ff9b00 37.7%,#ff8f00 38.7%,#ff9700 39.7%,#ffc400 41.7%,#ffd000 42.9%,#ffc900 43.9%,#ffa400 46.2%,#ff9d00 47.4%,#ffa300 48.9%,#ffc700 51.9%,#fc0 53.1%,#ffc200 54.1%,#ff9600 56.3%,#ff9100 57.1%,#ff9a00 58.1%,#ffcb00 60.0%,#ffd400 60.8%,#ffcf00 61.5%,#ffa600 63.3%,#ff9f00 64.0%,#ffa100 66.5%,#ffbf00 69.5%,#ffa700 73.2%,#fb0 77.2%,#ffac00 81.4%,#ffb800 85.4%,#ffaf00 89.3%,#ffb500 93.5%,#ffb300 100.0%)"></div><div style="height:3.00px;background:linear-gradient(90deg,#ffb200 0.0%,#ffb800 2.5%,#ffac00 6.5%,#ffc900 10.7%,#ffb300 14.6%,#ffc400 18.4%,#ffb500 19.4%,#ff5f00 21.6%,#ff5000 22.6%,#ff5d00 23.3%,#ff7b00 24.1%,#ffc100 25.3%,#ffea00 25.8%,#f5ff0a 26.1%,#b5ff4a 26.6%,#a8ff57 26.8%,#b2ff4d 27.3%,#c4ff3b 27.5%,#f8ff07 28.0%,#ffe700 28.3%,#ff8600 29.0%,#ff5600 29.5%,#ff3b00 30.0%,#ff3500 30.5%,#ff4900 31.3%,#ffbf00 33.5%,#ffd400 34.2%,#ffd800 34.7%,#ffcf00 35.7%,#ff9b00 37.7%,#ff8f00 38.7%,#ff9700 39.7%,#ffc400 41.7%,#ffd000 42.9%,#ffc900 43.9%,#ffa400 46.2%,#ff9d00 47.4%,#ffa300 48.9%,#ffc700 51.9%,#fc0 53.1%,#ffc200 54.1%,#ff9600 56.3%,#ff9100 57.1%,#ff9a00 58.1%,#ffcb00 60.0%,#ffd400 60.8%,#ffcf00 61.5%,#ffa700 63.3%,#ffa000 64.0%,#ffa200 66.5%,#ffc000 69.5%,#ffa700 73.2%,#fb0 77.2%,#ffac00 81.4%,#ffb800 85.4%,#ffaf00 89.3%,#ffb500 93.5%,#ffb300 100.0%)"></div><div style="height:3.00px;background:linear-gradient(90deg,#ffb200 0.0%,#ffb800 2.5%,#ffac00 6.5%,#ffc200 10.7%,#ffac00 14.6%,#ffc200 18.4%,#ffb500 19.4%,#ff6400 21.6%,#f50 22.6%,#ff6200 23.3%,#ff7f00 24.1%,#fffd00 26.3%,#f6ff09 26.8%,#faff05 27.0%,#fffa00 27.3%,#ffea00 27.5%,#ff7800 28.8%,#ff5200 29.3%,#ff3b00 29.8%,#ff3500 30.3%,#ff3e00 30.8%,#ff5100 31.3%,#ffa100 32.8%,#ffc200 33.5%,#ffd500 34.2%,#ffd900 34.7%,#ffcf00 35.7%,#ff9b00 37.7%,#ff8f00 38.7%,#ff9700 39.7%,#ffc400 41.7%,#ffd000 42.9%,#ffc900 43.9%,#ffa400 46.2%,#ff9d00 47.4%,#ffa300 48.9%,#ffc700 51.9%,#fc0 53.1%,#ffc200 54.1%,#ff9600 56.3%,#ff9100 57.1%,#ff9a00 58.1%,#ffcb00 60.0%,#ffd400 60.8%,#ffcf00 61.5%,#ffa700 63.3%,#ffa100 64.0%,#ffa400 66.7%,#ffc000 69.5%,#ffa700 73.2%,#fb0 77.2%,#ffac00 81.4%,#ffb800 85.4%,#ffaf00 89.3%,#ffb500 93.5%,#ffb300 100.0%)"></div><div style="height:3.00px;background:linear-gradient(90deg,#ffb300 0.0%,#ffae00 6.7%,#ffbc00 10.9%,#fa0 14.9%,#ffbf00 18.6%,#ffaf00 19.6%,#ff6800 21.6%,#ff5b00 22.6%,#ff6000 23.1%,#ff7800 23.8%,#ffe800 26.1%,#fff300 26.8%,#ffd200 27.5%,#ff5a00 29.0%,#ff4300 29.5%,#ff3d00 30.0%,#ff4e00 30.8%,#ffb500 33.0%,#ffc700 33.7%,#ffcd00 34.5%,#ffc500 35.5%,#ffa400 37.5%,#ff9e00 38.5%,#ffc400 42.9%,#ffa300 47.6%,#ffc500 53.3%,#ffbc00 54.6%,#f90 56.8%,#ff9600 57.6%,#ff9d00 58.3%,#ffc900 60.3%,#ffd000 61.0%,#ffca00 61.8%,#ffa900 63.3%,#ffa200 64.3%,#ffa300 66.5%,#ffbe00 69.2%,#ffa900 73.0%,#ffb900 76.9%,#ffae00 81.1%,#ffb600 85.6%,#ffb300 100.0%)"></div><div style="height:3.00px;background:linear-gradient(90deg,#ffb400 0.0%,#ffb100 7.9%,#ffb900 11.7%,#fa0 15.4%,#ffbd00 18.6%,#ffaf00 19.6%,#ff6700 21.8%,#ff6000 22.6%,#ff7200 23.6%,#ffdc00 25.8%,#fe0 26.6%,#ffd800 27.3%,#ff7600 28.5%,#ff5600 29.0%,#f40 29.8%,#ff5400 30.5%,#ffb000 32.5%,#ffc400 33.7%,#ffa800 37.2%,#ffba00 44.4%,#fa0 48.4%,#ffc000 54.3%,#ff9a00 57.8%,#ffa100 58.8%,#ffc600 60.5%,#ffcd00 61.3%,#ffc500 62.0%,#ffa700 63.5%,#ffa300 64.3%,#ffa500 66.5%,#ffbc00 69.0%,#fa0 72.5%,#ffb700 76.2%,#ffb100 79.7%,#ffb200 100.0%)"></div><div style="height:3.00px;background:linear-gradient(90deg,#ffb400 0.0%,#ffaf00 8.9%,#ffb900 12.4%,#ffa900 15.6%,#ffba00 18.9%,#fa0 19.9%,#ff7000 21.6%,#ff6400 22.6%,#ff7600 23.6%,#ffd900 25.8%,#ffe700 26.6%,#ffcf00 27.3%,#ff5f00 28.8%,#ff4900 29.5%,#ff5800 30.3%,#ffb700 32.3%,#ffc400 33.3%,#ff9f00 36.0%,#ffc100 39.2%,#ffa600 42.4%,#ffbc00 45.4%,#ffb000 48.1%,#ffac00 51.9%,#ffc300 55.1%,#f90 58.3%,#ff9e00 59.1%,#ffc400 60.8%,#ffca00 61.5%,#ffa800 63.5%,#ffa400 64.3%,#ffa600 66.5%,#fb0 69.0%,#fa0 72.0%,#ffb800 75.4%,#ffaf00 78.7%,#ffb500 81.9%,#ffb200 100.0%)"></div><div style="height:3.00px;background:linear-gradient(90deg,#ffb500 0.0%,#ffae00 2.7%,#ffb800 6.2%,#ffac00 9.2%,#fb0 12.7%,#ffa800 15.9%,#ffba00 18.9%,#ffab00 19.9%,#ff7400 21.6%,#ff6800 22.6%,#ff7900 23.6%,#ffd600 25.8%,#ffe100 26.6%,#ffc700 27.3%,#ff5c00 28.8%,#ff4c00 29.5%,#ff6100 30.3%,#ffb200 31.8%,#ffc900 32.8%,#ffc300 33.5%,#ff9e00 35.0%,#ff9500 35.7%,#f90 36.5%,#ffc300 38.2%,#ffcd00 39.2%,#ff9c00 42.4%,#ffc100 45.7%,#ffa500 51.9%,#ffc900 55.3%,#ffc200 56.1%,#ff9d00 57.8%,#ff9700 58.6%,#ff9d00 59.3%,#ffc000 60.8%,#ffc800 61.5%,#ffa500 64.3%,#ffa600 66.5%,#ffba00 68.7%,#ffa900 71.7%,#ffba00 75.2%,#ffad00 78.4%,#ffb700 81.9%,#ffaf00 85.1%,#ffb500 88.3%,#ffb200 100.0%)"></div><div style="height:3.00px;background:linear-gradient(90deg,#ffb500 0.0%,#ffae00 2.7%,#ffb800 6.2%,#ffac00 9.2%,#fb0 12.7%,#ffa800 15.9%,#ffba00 18.9%,#ffac00 19.9%,#f70 21.6%,#ff6c00 22.6%,#ff7c00 23.6%,#ffd300 25.8%,#fd0 26.6%,#ffc300 27.3%,#ff5d00 28.8%,#ff5000 29.3%,#ff5c00 30.0%,#ffb500 31.8%,#ffcb00 32.8%,#ffc400 33.5%,#ff9e00 35.0%,#ff9500 35.7%,#f90 36.5%,#ffc300 38.2%,#ffcd00 39.2%,#ff9c00 42.4%,#ffc100 45.7%,#ffa500 51.9%,#ffc900 55.3%,#ffc200 56.1%,#ff9d00 57.8%,#ff9700 58.6%,#ff9d00 59.3%,#ffc000 60.8%,#ffc900 61.5%,#ffa500 64.3%,#ffa700 66.5%,#fb0 68.7%,#ffa900 71.7%,#ffba00 75.2%,#ffad00 78.4%,#ffb700 81.9%,#ffaf00 85.1%,#ffb500 88.3%,#ffb200 100.0%)"></div><div style="height:3.00px;background:linear-gradient(90deg,#ffb500 0.0%,#ffae00 2.7%,#ffb800 6.2%,#ffac00 9.2%,#fb0 12.7%,#ffa800 15.9%,#ffba00 18.9%,#ffad00 19.9%,#ff7b00 21.6%,#ff7000 22.6%,#ff7f00 23.6%,#ffd100 25.8%,#ffda00 26.6%,#ffbf00 27.3%,#ff6b00 28.5%,#ff5300 29.3%,#ff6000 30.0%,#ffc000 32.0%,#fc0 32.8%,#ffc400 33.5%,#ff9e00 35.0%,#ff9500 35.7%,#f90 36.5%,#ffc300 38.2%,#ffcd00 39.2%,#ff9c00 42.4%,#ffc100 45.7%,#ffa500 51.9%,#ffc900 55.3%,#ffc200 56.1%,#ff9d00 57.8%,#ff9700 58.6%,#ff9d00 59.3%,#ffc000 60.8%,#ffc900 61.5%,#ffa600 64.3%,#ffa700 66.5%,#fb0 68.7%,#ffa900 71.7%,#ffba00 75.2%,#ffad00 78.4%,#ffb700 81.9%,#ffaf00 85.1%,#ffb500 88.3%,#ffb200 100.0%)"></div><div style="height:3.00px;background:linear-gradient(90deg,#ffb500 0.0%,#ffaf00 2.7%,#ffb700 6.2%,#ffac00 9.4%,#ffba00 12.7%,#ffa900 15.9%,#ffba00 18.9%,#ffad00 19.9%,#ff7e00 21.6%,#ff7400 22.6%,#ff8100 23.6%,#ffc700 25.6%,#ffd700 26.3%,#ffc800 27.0%,#ff6c00 28.5%,#ff5800 29.3%,#ff6700 30.0%,#ffb900 31.8%,#ffca00 32.8%,#ffc100 33.5%,#ff9e00 35.0%,#ff9700 35.7%,#ff9d00 36.5%,#ffc200 38.2%,#ffca00 39.0%,#ffc600 39.7%,#ffa700 41.4%,#ff9f00 42.4%,#ffbe00 45.7%,#ffa700 52.4%,#ffc600 54.8%,#ffc700 55.6%,#ff9800 58.6%,#ff9d00 59.3%,#ffbf00 60.8%,#ffc800 61.5%,#ffa600 64.3%,#ffa800 66.5%,#ffba00 68.7%,#fa0 71.7%,#ffb900 74.9%,#ffad00 78.4%,#ffb700 81.6%,#ffaf00 85.1%,#ffb500 88.3%,#ffb200 100.0%)"></div><div style="height:3.00px;background:linear-gradient(90deg,#ffb400 0.0%,#ffb600 6.7%,#ffae00 9.7%,#ffb900 13.2%,#fa0 16.1%,#ffb900 18.9%,#ffae00 19.9%,#ff8000 21.6%,#f70 22.6%,#ff8400 23.6%,#ffc500 25.6%,#ffd200 26.3%,#ffc300 27.0%,#ff6d00 28.5%,#ff5f00 29.3%,#ff7100 30.0%,#ffb400 31.5%,#ffc400 32.5%,#ff9d00 35.2%,#ffa100 36.0%,#ffc300 38.5%,#ffa700 41.7%,#ffb800 45.2%,#ffb500 49.9%,#ffa700 52.4%,#ffc500 55.8%,#ff9a00 58.8%,#ffa000 59.6%,#ffc000 61.0%,#ffc600 61.8%,#ffa700 64.3%,#ffa900 66.5%,#ffb900 68.7%,#ffab00 71.5%,#ffb800 74.7%,#ffae00 77.9%,#ffb500 81.1%,#ffb200 100.0%)"></div><div style="height:3.00px;background:linear-gradient(90deg,#ffb300 0.0%,#ffb500 7.2%,#ffae00 10.2%,#ffb900 13.4%,#fa0 16.4%,#ffb700 19.1%,#ffae00 19.9%,#ff8300 21.6%,#ff7a00 22.6%,#ff8600 23.6%,#ffc300 25.6%,#ffce00 26.3%,#ffbe00 27.0%,#ff7900 28.3%,#ff6500 29.0%,#ff7100 29.8%,#ffb700 31.5%,#ffc000 32.3%,#ff9e00 34.7%,#ffc200 38.0%,#ffa800 40.7%,#ffba00 43.7%,#ffac00 46.7%,#fb0 49.9%,#ffa500 52.9%,#ffc500 56.1%,#ff9b00 59.1%,#ffc400 61.8%,#ffa800 64.3%,#ffa900 66.5%,#ffb800 68.5%,#ffab00 71.2%,#ffb800 74.4%,#ffaf00 77.4%,#ffb500 80.6%,#ffb200 100.0%)"></div><div style="height:3.00px;background:linear-gradient(90deg,#ffb200 0.0%,#ffaf00 4.7%,#ffb700 7.7%,#ffad00 10.7%,#ffb900 13.6%,#ffab00 16.6%,#ffb600 19.1%,#ffae00 19.9%,#ff8600 21.6%,#ff7d00 22.6%,#f80 23.6%,#ffc100 25.6%,#ffca00 26.3%,#ffb900 27.0%,#ff7000 28.5%,#ff6a00 29.0%,#ff7a00 29.8%,#ffae00 31.0%,#ffbe00 31.8%,#ffbd00 32.3%,#ffa100 33.7%,#ff9b00 34.5%,#ffa200 35.2%,#ffc200 36.7%,#ffc800 37.5%,#ffa000 40.4%,#ffc300 43.4%,#ffa600 46.2%,#ffa700 47.1%,#ffc000 49.9%,#ffa200 53.1%,#ffc600 56.3%,#ffbf00 57.1%,#ffa100 58.6%,#ff9c00 59.3%,#ffc200 61.8%,#ffa800 64.3%,#ffa900 66.3%,#ffb800 68.5%,#ffab00 71.2%,#ffb800 74.2%,#ffae00 77.2%,#ffb600 80.1%,#ffb000 82.9%,#ffb200 100.0%)"></div><div style="height:3.00px;background:linear-gradient(90deg,#ffb200 0.0%,#ffaf00 5.0%,#ffb700 7.7%,#ffad00 10.7%,#ffb900 13.6%,#ffab00 16.6%,#ffb600 19.1%,#ffaf00 19.9%,#f80 21.6%,#ff8000 22.6%,#ff8b00 23.6%,#ffc000 25.6%,#ffc800 26.3%,#ffb700 27.0%,#ff7a00 28.3%,#ff6c00 29.0%,#ff7500 29.5%,#ffa900 30.8%,#ffbc00 31.5%,#ffbc00 32.3%,#ff9f00 33.7%,#ff9a00 34.5%,#ffc900 37.2%,#ffc500 38.0%,#ffa200 39.7%,#ff9e00 40.4%,#ffc000 42.7%,#ffc500 43.4%,#ffa400 46.2%,#ffa600 47.1%,#ffc100 49.9%,#ffa100 53.3%,#ffc700 56.3%,#ff9c00 59.3%,#ffc200 61.8%,#ffa900 64.3%,#fa0 66.3%,#ffb700 68.5%,#ffab00 71.0%,#ffb800 73.9%,#ffae00 76.9%,#ffb600 79.9%,#ffaf00 82.9%,#ffb500 85.9%,#ffb200 100.0%)"></div><div style="height:3.00px;background:linear-gradient(90deg,#ffb200 0.0%,#ffaf00 5.0%,#ffb700 7.7%,#ffad00 10.7%,#ffb900 13.6%,#ffab00 16.6%,#ffb600 19.1%,#ffaf00 19.9%,#ff8a00 21.6%,#ff8200 22.6%,#ff8c00 23.6%,#ffbf00 25.6%,#ffc600 26.3%,#ffb500 27.0%,#ff7b00 28.3%,#ff6e00 29.0%,#ff7800 29.5%,#fa0 30.8%,#ffbe00 31.5%,#ffbd00 32.3%,#ff9f00 33.7%,#ff9a00 34.5%,#ffc900 37.2%,#ffc500 38.0%,#ffa200 39.7%,#ff9e00 40.4%,#ffc000 42.7%,#ffc500 43.4%,#ffa400 46.2%,#ffa600 47.1%,#ffc100 49.9%,#ffa100 53.3%,#ffc700 56.3%,#ff9c00 59.3%,#ffc200 61.8%,#ffa900 64.3%,#fa0 66.3%,#ffb800 68.5%,#ffab00 71.0%,#ffb800 73.9%,#ffae00 76.9%,#ffb600 79.9%,#ffaf00 82.9%,#ffb500 85.9%,#ffb200 100.0%)"></div><div style="height:3.00px;background:linear-gradient(90deg,#ffb200 0.0%,#ffaf00 5.0%,#ffb700 7.7%,#ffad00 10.7%,#ffb900 13.6%,#ffab00 16.6%,#ffb600 19.1%,#ffb000 19.9%,#ff8c00 21.6%,#ff8500 22.6%,#ff8e00 23.6%,#ffbe00 25.6%,#ffc500 26.3%,#ffb400 27.0%,#ff7b00 28.3%,#ff7000 29.0%,#ff7a00 29.5%,#ffac00 30.8%,#ffbf00 31.5%,#ffbd00 32.3%,#ff9f00 33.7%,#ff9a00 34.5%,#ffc900 37.2%,#ffc500 38.0%,#ffa200 39.7%,#ff9e00 40.4%,#ffc000 42.7%,#ffc500 43.4%,#ffa400 46.2%,#ffa600 47.1%,#ffc100 49.9%,#ffa100 53.3%,#ffc700 56.3%,#ff9c00 59.3%,#ffa300 60.0%,#ffbd00 61.3%,#ffc200 62.0%,#ffa900 64.3%,#fa0 66.3%,#ffb800 68.5%,#ffab00 71.0%,#ffb800 73.9%,#ffae00 76.9%,#ffb600 79.9%,#ffaf00 82.9%,#ffb500 85.9%,#ffb200 100.0%)"></div><div style="height:3.00px;background:linear-gradient(90deg,#ffb200 0.0%,#ffb000 5.2%,#ffb600 7.9%,#ffae00 10.9%,#ffb800 13.9%,#ffab00 16.6%,#ffb600 19.1%,#ffb000 19.9%,#ff8e00 21.6%,#ff8700 22.6%,#ff9000 23.6%,#ffbd00 25.6%,#ffc300 26.3%,#ffba00 26.8%,#ff7d00 28.3%,#ff7400 28.8%,#ff7f00 29.5%,#ffae00 30.8%,#ffbd00 31.5%,#ffba00 32.3%,#ffa200 33.5%,#ff9c00 34.2%,#ffa300 35.0%,#ffc100 36.5%,#ffc600 37.2%,#ffa500 39.5%,#ffa100 40.2%,#ffc100 43.2%,#ffa800 45.9%,#ffbd00 50.1%,#ffa400 53.6%,#ffc500 56.3%,#ffc100 57.1%,#ff9d00 59.3%,#ffc100 62.0%,#fa0 64.3%,#ffab00 66.3%,#ffb700 68.5%,#ffac00 71.0%,#ffb800 73.9%,#ffae00 76.9%,#ffb600 79.9%,#ffb000 82.6%,#ffb200 100.0%)"></div><div style="height:3.00px;background:linear-gradient(90deg,#ffb100 0.0%,#ffb600 8.2%,#ffae00 11.2%,#ffb800 13.9%,#ffac00 16.9%,#ffb500 19.1%,#ffb000 19.9%,#ff9000 21.6%,#ff8900 22.6%,#ff9200 23.6%,#ffbc00 25.6%,#ffc100 26.3%,#ffb000 27.0%,#ff7f00 28.3%,#ff7800 28.8%,#ff8300 29.5%,#ffaf00 30.8%,#ffb900 31.3%,#ffb900 32.0%,#ff9e00 34.0%,#ffc400 37.0%,#ffa300 39.7%,#ffbe00 42.7%,#ffab00 45.4%,#ffb900 51.1%,#ffa600 53.8%,#ffc300 56.6%,#ff9f00 59.6%,#ffbf00 62.0%,#fa0 64.3%,#ffb700 68.5%,#ffac00 71.0%,#ffb700 73.7%,#ffaf00 76.7%,#ffb500 79.7%,#ffb200 100.0%)"></div><div style="height:3.00px;background:linear-gradient(90deg,#ffb100 0.0%,#ffb600 8.4%,#ffaf00 11.4%,#ffb800 14.1%,#ffac00 16.9%,#ffb500 19.1%,#ffac00 20.1%,#ff9200 21.6%,#ff8b00 22.6%,#ff9300 23.6%,#ffbf00 26.1%,#ffb600 26.8%,#f80 28.0%,#ff7b00 28.8%,#ff8100 29.3%,#fa0 30.5%,#ffb800 31.3%,#ff9f00 34.0%,#ffc400 36.5%,#ffa300 39.5%,#ffbf00 42.2%,#fa0 44.7%,#ffb600 47.1%,#ffb000 49.4%,#ffba00 51.4%,#ffa600 54.1%,#ffc300 56.8%,#ffa000 59.6%,#ffbe00 62.0%,#ffab00 64.5%,#ffb600 68.2%,#ffad00 70.7%,#ffb700 73.7%,#ffaf00 76.4%,#ffb500 79.2%,#ffb200 100.0%)"></div><div style="height:3.00px;background:linear-gradient(90deg,#ffb100 0.0%,#ffb600 8.7%,#ffae00 11.4%,#ffb700 14.1%,#ffad00 17.1%,#ffb400 19.1%,#ff8d00 22.6%,#ff9500 23.6%,#ffbe00 26.1%,#ffb400 26.8%,#ff8900 28.0%,#ff7e00 28.8%,#ff8500 29.3%,#ffb500 31.0%,#ffb600 31.8%,#ff9f00 33.7%,#ffc500 36.5%,#ffa200 39.2%,#ffc100 41.9%,#ffa700 44.4%,#ffba00 46.9%,#ffac00 49.4%,#fb0 51.6%,#ffa600 54.3%,#ffc200 57.1%,#ffa100 59.6%,#ffbd00 62.0%,#ffab00 64.5%,#ffb600 68.2%,#ffad00 71.0%,#ffb700 73.4%,#ffaf00 76.2%,#ffb500 79.2%,#ffb000 81.9%,#ffb200 100.0%)"></div><div style="height:3.00px;background:linear-gradient(90deg,#ffb100 0.0%,#ffb600 8.7%,#ffae00 11.4%,#ffb700 14.1%,#ffad00 17.1%,#ffb400 19.1%,#ff8f00 22.6%,#ff9600 23.6%,#ffbd00 26.1%,#ffb400 26.8%,#ff8a00 28.0%,#ff8000 28.8%,#ff8700 29.3%,#ffb600 31.0%,#ffb600 31.8%,#ff9f00 33.7%,#ffc500 36.5%,#ffa200 39.2%,#ffc100 41.9%,#ffa700 44.4%,#ffba00 46.9%,#ffac00 49.4%,#fb0 51.6%,#ffa600 54.3%,#ffc200 57.1%,#ffa100 59.6%,#ffbd00 62.0%,#ffac00 64.5%,#ffb600 68.2%,#ffad00 71.0%,#ffb700 73.4%,#ffaf00 76.2%,#ffb500 79.2%,#ffb000 81.9%,#ffb200 100.0%)"></div><div style="height:3.00px;background:linear-gradient(90deg,#ffb100 0.0%,#ffb600 8.7%,#ffae00 11.4%,#ffb700 14.1%,#ffad00 17.1%,#ffb400 19.1%,#ff9100 22.6%,#ff9700 23.6%,#ffbc00 26.1%,#ffb300 26.8%,#ff8400 28.3%,#ff8100 28.8%,#ffb700 31.0%,#ffb700 31.8%,#ff9f00 33.7%,#ffc500 36.5%,#ffa200 39.2%,#ffc100 41.9%,#ffa700 44.4%,#ffba00 46.9%,#ffac00 49.4%,#fb0 51.6%,#ffa600 54.3%,#ffc200 57.1%,#ffa100 59.6%,#ffbd00 62.0%,#ffac00 64.5%,#ffb600 68.2%,#ffad00 71.0%,#ffb700 73.4%,#ffaf00 76.2%,#ffb500 79.2%,#ffb000 81.9%,#ffb200 100.0%)"></div><div style="height:3.00px;background:linear-gradient(90deg,#ffb100 0.0%,#ffb600 8.7%,#ffaf00 11.4%,#ffb700 14.1%,#ffad00 17.1%,#ffb400 19.1%,#ff9200 22.6%,#ff9800 23.6%,#fb0 26.1%,#ffb200 26.8%,#ff8600 28.3%,#ff8300 28.8%,#ffb700 31.0%,#ffb600 31.8%,#ff9f00 33.7%,#ffbf00 35.7%,#ffc400 36.5%,#ffa200 39.2%,#ffc100 41.9%,#ffa700 44.4%,#ffba00 46.9%,#ffac00 49.4%,#fb0 51.6%,#ffa600 54.3%,#ffc200 57.1%,#ffa100 59.6%,#ffbd00 62.0%,#ffac00 64.5%,#ffb600 68.2%,#ffae00 71.0%,#ffb700 73.4%,#ffaf00 76.2%,#ffb500 79.2%,#ffb200 100.0%)"></div><div style="height:3.00px;background:linear-gradient(90deg,#ffb100 0.0%,#ffb500 8.9%,#ffaf00 11.7%,#ffb700 14.4%,#ffad00 17.1%,#ffb400 19.1%,#ff9400 22.6%,#ff9a00 23.6%,#ffba00 26.1%,#ffb100 26.8%,#ff8c00 28.0%,#ff8500 28.5%,#ff8c00 29.3%,#ffb600 31.0%,#ffa100 33.5%,#ffc300 36.2%,#ffa400 39.0%,#ffbf00 41.7%,#ffa800 44.2%,#ffba00 46.7%,#ffab00 49.4%,#ffbc00 51.9%,#ffa600 54.3%,#ffc100 57.1%,#ffa200 59.8%,#ffbc00 62.0%,#ffac00 64.5%,#ffb500 68.2%,#ffae00 71.0%,#ffb600 73.4%,#ffaf00 76.2%,#ffb500 78.9%,#ffb300 100.0%)"></div><div style="height:3.00px;background:linear-gradient(90deg,#ffb100 0.0%,#ffb500 8.9%,#ffaf00 11.7%,#ffb600 14.4%,#ffae00 17.1%,#ffb300 19.4%,#ff9500 22.6%,#ffb900 26.1%,#ffb000 26.8%,#ff8e00 28.0%,#ff8700 28.5%,#ff8a00 29.0%,#ffb500 31.0%,#ffa200 33.5%,#ffc200 36.2%,#ffa500 39.0%,#ffbf00 41.7%,#ffa800 44.2%,#ffbc00 46.7%,#fa0 49.4%,#ffbd00 51.9%,#ffa600 54.3%,#ffc000 57.1%,#ffa300 59.8%,#ffbc00 62.0%,#ffad00 64.5%,#ffb500 68.2%,#ffae00 70.7%,#ffb600 73.4%,#ffb000 76.2%,#ffb300 100.0%)"></div><div style="height:3.00px;background:linear-gradient(90deg,#ffb200 0.0%,#ffb300 19.4%,#ff9600 22.6%,#ffb800 26.1%,#ffb000 26.8%,#ff8f00 28.0%,#ff8900 28.5%,#ff8c00 29.0%,#ffb400 31.0%,#ffa300 33.5%,#ffc100 36.0%,#ffa500 38.7%,#ffbf00 41.4%,#ffa700 43.9%,#ffbc00 46.4%,#ffa900 49.4%,#ffbd00 51.9%,#ffa700 54.6%,#ffc000 57.3%,#ffa400 59.8%,#fb0 62.3%,#ffad00 64.5%,#ffb600 73.2%,#ffb000 75.9%,#ffb300 100.0%)"></div><div style="height:3.00px;background:linear-gradient(90deg,#ffb200 0.0%,#ffb300 19.4%,#ff9800 22.6%,#ffb800 26.1%,#ffaf00 26.8%,#ff9000 28.0%,#ff8a00 28.5%,#ff8e00 29.0%,#ffb200 30.8%,#ffa300 33.5%,#ffc100 36.0%,#ffa500 38.7%,#ffbf00 41.4%,#ffa700 43.9%,#ffbc00 46.4%,#ffa800 49.4%,#ffbd00 51.9%,#ffa700 54.6%,#ffc000 57.1%,#ffa400 59.8%,#fb0 62.3%,#ffad00 64.5%,#ffb600 73.2%,#ffb000 75.9%,#ffb300 100.0%)"></div><div style="height:3.00px;background:linear-gradient(90deg,#ffb200 0.0%,#ffb300 19.4%,#f90 22.6%,#ffb700 26.1%,#ff8b00 28.5%,#ff8f00 29.0%,#ffb300 30.8%,#ffa300 33.5%,#ffc100 36.0%,#ffa500 38.7%,#ffbf00 41.4%,#ffa700 43.9%,#ffbc00 46.4%,#ffa800 49.4%,#ffbd00 51.9%,#ffa700 54.6%,#ffc000 57.1%,#ffa400 59.8%,#fb0 62.3%,#ffae00 64.5%,#ffb600 73.2%,#ffb000 75.9%,#ffb300 100.0%)"></div><div style="height:3.00px;background:linear-gradient(90deg,#ffb200 0.0%,#ffb000 11.9%,#ffb600 14.6%,#ffae00 17.1%,#ffb300 19.4%,#ff9a00 22.6%,#ffb700 26.1%,#ff8c00 28.5%,#ff8f00 29.0%,#ffb300 30.8%,#ffa300 33.5%,#ffc100 36.0%,#ffa500 38.7%,#ffbf00 41.4%,#ffa700 43.9%,#ffbc00 46.4%,#ffa800 49.4%,#ffbd00 51.9%,#ffa700 54.6%,#ffc000 57.1%,#ffa400 59.8%,#fb0 62.3%,#ffae00 64.5%,#ffb600 73.2%,#ffb000 75.9%,#ffb300 100.0%)"></div><div style="height:3.00px;background:linear-gradient(90deg,#ffb200 0.0%,#ffb300 19.4%,#ff9b00 22.6%,#ffb600 26.1%,#ff8d00 28.5%,#ffb300 30.8%,#ffa300 33.3%,#ffc000 36.0%,#ffa600 38.7%,#ffbe00 41.2%,#ffa800 43.9%,#ffbc00 46.4%,#ffa900 49.4%,#ffbd00 51.9%,#ffa700 54.6%,#ffbf00 57.1%,#ffa500 59.8%,#ffba00 62.3%,#ffae00 64.5%,#ffb500 73.2%,#ffb000 75.9%,#ffb300 100.0%)"></div><div style="height:3.00px;background:linear-gradient(90deg,#ffb200 0.0%,#ffb300 19.4%,#ff9c00 22.6%,#ffb600 26.1%,#ff8f00 28.5%,#ffb200 30.8%,#ffa400 33.3%,#ffbf00 35.7%,#ffa700 38.5%,#ffbd00 41.2%,#ffa800 43.9%,#ffbc00 46.4%,#ffa900 49.1%,#ffbc00 51.9%,#ffa800 54.6%,#ffbe00 57.3%,#ffa600 59.8%,#ffba00 62.3%,#ffae00 64.5%,#ffb500 73.2%,#ffb300 100.0%)"></div><div style="height:3.00px;background:linear-gradient(90deg,#ffb200 0.0%,#ffb300 19.4%,#ff9d00 22.6%,#ffb500 26.1%,#ff9000 28.5%,#ffb200 30.8%,#ffa500 33.3%,#ffbe00 35.7%,#ffa700 38.5%,#ffbd00 41.2%,#ffa900 43.7%,#fb0 46.4%,#fa0 49.4%,#ffbc00 51.9%,#ffa900 54.6%,#ffbd00 57.3%,#ffa700 59.8%,#ffb900 62.3%,#ffae00 64.5%,#ffb500 73.2%,#ffb300 100.0%)"></div><div style="height:3.00px;background:linear-gradient(90deg,#ffb200 0.0%,#ffb300 19.4%,#ff9e00 22.6%,#ffb500 26.1%,#ff9100 28.5%,#ffb100 30.8%,#ffa600 33.3%,#ffbe00 35.7%,#ffa800 38.5%,#ffbc00 40.9%,#ffa900 43.7%,#ffba00 46.2%,#fa0 49.1%,#fb0 51.9%,#ffa900 54.8%,#ffbd00 57.3%,#ffa700 59.8%,#ffb900 62.3%,#ffaf00 64.5%,#ffb500 73.2%,#ffb300 100.0%)"></div><div style="height:3.00px;background:linear-gradient(90deg,#ffb200 0.0%,#ffb300 19.4%,#ff9f00 22.6%,#ffb400 26.1%,#ff9200 28.5%,#ffb200 30.8%,#ffa600 33.3%,#ffbe00 35.7%,#ffa800 38.5%,#ffbc00 40.9%,#ffa900 43.7%,#ffba00 46.2%,#fa0 49.1%,#fb0 51.9%,#ffa900 54.8%,#ffbd00 57.3%,#ffa700 59.8%,#ffb900 62.3%,#ffaf00 64.5%,#ffb500 73.2%,#ffb300 100.0%)"></div><div style="height:3.00px;background:linear-gradient(90deg,#ffb200 0.0%,#ffb300 19.4%,#ffa000 22.6%,#ffb400 26.1%,#ff9200 28.5%,#ffb200 30.8%,#ffa600 33.3%,#ffbe00 35.7%,#ffa800 38.5%,#ffbc00 40.9%,#ffa900 43.7%,#ffba00 46.2%,#fa0 49.1%,#fb0 51.9%,#ffa900 54.8%,#ffbd00 57.3%,#ffa700 59.8%,#ffb900 62.3%,#ffaf00 64.5%,#ffb300 100.0%)"></div><div style="height:3.00px;background:linear-gradient(90deg,#ffb200 0.0%,#ffb300 19.4%,#ffa000 22.6%,#ffb400 26.1%,#ff9300 28.5%,#ffb200 30.8%,#ffa600 33.3%,#ffbe00 35.7%,#ffa800 38.5%,#ffbc00 40.9%,#fa0 43.7%,#ffba00 46.2%,#ffab00 49.1%,#fb0 51.9%,#fa0 54.8%,#ffbd00 57.3%,#ffa800 59.8%,#ffb900 62.3%,#ffaf00 64.5%,#ffb300 100.0%)"></div><div style="height:3.00px;background:linear-gradient(90deg,#ffb300 0.0%,#ffb300 19.4%,#ffa100 22.6%,#ffb300 26.1%,#ff9400 28.5%,#ffb200 30.8%,#ffa700 33.3%,#ffbd00 35.7%,#ffa900 38.5%,#fb0 40.9%,#fa0 43.7%,#ffba00 46.2%,#ffab00 49.1%,#ffba00 51.9%,#fa0 54.8%,#ffbc00 57.3%,#ffa800 59.8%,#ffb900 62.3%,#ffaf00 64.5%,#ffb300 100.0%)"></div><div style="height:3.00px;background:linear-gradient(90deg,#ffb300 0.0%,#ffb300 19.4%,#ffa200 22.6%,#ffb300 25.8%,#ff9500 28.5%,#ffb100 30.8%,#ffa800 33.3%,#ffbc00 35.7%,#ffa900 38.2%,#fb0 40.9%,#ffab00 43.7%,#ffb900 46.2%,#ffac00 49.1%,#ffba00 51.9%,#ffab00 54.8%,#fb0 57.3%,#ffa900 59.8%,#ffb800 62.3%,#ffaf00 64.5%,#ffb300 100.0%)"></div><div style="height:3.00px;background:linear-gradient(90deg,#ffb300 0.0%,#ffb300 19.4%,#ffa200 22.6%,#ffb300 25.8%,#ff9600 28.5%,#ffb100 30.8%,#ffa900 33.3%,#ffbc00 35.7%,#fa0 38.2%,#ffba00 40.9%,#ffab00 43.7%,#ffb900 46.2%,#ffac00 49.1%,#ffb900 51.9%,#ffab00 54.8%,#fb0 57.3%,#fa0 60.0%,#ffb800 62.3%,#ffb000 64.5%,#ffb300 100.0%)"></div><div style="height:3.00px;background:linear-gradient(90deg,#ffb300 0.0%,#ffb300 19.4%,#ffa300 22.6%,#ffb300 25.8%,#ff9600 28.5%,#ffb100 30.8%,#ffa900 33.3%,#fb0 35.7%,#fa0 38.2%,#ffba00 40.9%,#ffac00 43.7%,#ffb900 46.2%,#ffac00 49.1%,#ffb900 51.9%,#ffab00 54.8%,#fb0 57.3%,#fa0 60.0%,#ffb800 62.3%,#ffb000 64.5%,#ffb300 100.0%)"></div><div style="height:3.00px;background:linear-gradient(90deg,#ffb300 0.0%,#ffb300 19.4%,#ffa300 22.6%,#ffb300 25.8%,#ff9700 28.5%,#ffb100 30.8%,#ffa900 33.3%,#fb0 35.7%,#fa0 38.2%,#ffba00 40.9%,#ffac00 43.7%,#ffb900 46.2%,#ffac00 49.1%,#ffb900 51.9%,#ffab00 54.8%,#fb0 57.3%,#fa0 60.0%,#ffb800 62.3%,#ffb000 64.5%,#ffb300 100.0%)"></div><div style="height:3.00px;background:linear-gradient(90deg,#ffb300 0.0%,#ffb300 19.4%,#ffa400 22.6%,#ffb300 25.8%,#ff9700 28.5%,#ffb100 30.8%,#ffa900 33.0%,#fb0 35.7%,#fa0 38.2%,#ffba00 40.9%,#ffac00 43.7%,#ffb900 46.2%,#ffac00 49.1%,#ffb900 51.9%,#ffab00 54.8%,#fb0 57.3%,#fa0 60.0%,#ffb800 62.3%,#ffb000 64.5%,#ffb300 100.0%)"></div><div style="height:3.00px;background:linear-gradient(90deg,#ffb300 0.0%,#ffb300 19.4%,#ffa500 22.6%,#ffb200 25.8%,#ff9800 28.5%,#ffb100 30.8%,#fa0 33.3%,#fb0 35.5%,#ffab00 38.2%,#ffba00 40.9%,#ffac00 43.4%,#ffb800 46.2%,#ffad00 49.1%,#ffb900 51.9%,#ffac00 54.8%,#ffba00 57.3%,#fa0 60.0%,#ffb700 62.3%,#ffb000 64.5%,#ffb300 100.0%)"></div><div style="height:3.00px;background:linear-gradient(90deg,#ffb300 0.0%,#ffb300 19.4%,#ffa500 22.6%,#ffb200 25.8%,#f90 28.5%,#ffb100 30.8%,#fa0 33.0%,#ffba00 35.5%,#ffab00 38.2%,#ffb900 40.9%,#ffac00 43.4%,#ffb800 46.2%,#ffad00 49.1%,#ffb800 51.9%,#ffac00 54.8%,#ffba00 57.3%,#ffab00 60.0%,#ffb700 62.3%,#ffb000 64.5%,#ffb300 100.0%)"></div><div style="height:3.00px;background:linear-gradient(90deg,#ffb300 0.0%,#ffb200 19.4%,#ffa500 22.6%,#ffb200 25.8%,#f90 28.5%,#ffb000 30.8%,#fa0 33.0%,#ffba00 35.5%,#ffac00 38.2%,#ffb900 40.9%,#ffad00 43.4%,#ffb800 46.2%,#ffae00 49.1%,#ffb800 51.9%,#ffad00 54.8%,#ffb900 57.3%,#ffab00 60.0%,#ffb700 62.3%,#ffb000 64.5%,#ffb300 100.0%)"></div><div style="height:3.00px;background:linear-gradient(90deg,#ffb300 0.0%,#ffb200 19.4%,#ffa600 22.6%,#ffb200 25.8%,#ff9a00 28.5%,#ffb000 30.8%,#ffab00 33.0%,#ffba00 35.5%,#ffac00 38.2%,#ffb800 40.9%,#ffad00 43.4%,#ffb700 45.9%,#ffae00 49.1%,#ffb700 52.1%,#ffad00 54.8%,#ffb900 57.3%,#ffac00 60.0%,#ffb600 62.3%,#ffb000 64.5%,#ffb300 100.0%)"></div><div style="height:3.00px;background:linear-gradient(90deg,#ffb300 0.0%,#ffb200 19.4%,#ffa600 22.6%,#ffb200 25.8%,#ff9a00 28.5%,#ffb000 30.8%,#ffab00 33.0%,#ffba00 35.5%,#ffac00 38.2%,#ffb800 40.9%,#ffad00 43.4%,#ffb700 45.9%,#ffae00 49.1%,#ffb700 52.1%,#ffad00 54.8%,#ffb900 57.3%,#ffac00 60.0%,#ffb700 62.3%,#ffb100 64.5%,#ffb300 100.0%)"></div><div style="height:3.00px;background:linear-gradient(90deg,#ffb300 0.0%,#ffb200 19.4%,#ffa700 22.6%,#ffb200 25.8%,#ff9b00 28.5%,#ffb100 30.8%,#ffab00 33.0%,#ffba00 35.5%,#ffac00 38.2%,#ffb800 40.9%,#ffad00 43.4%,#ffb700 45.9%,#ffae00 49.1%,#ffb700 52.1%,#ffad00 54.8%,#ffb900 57.3%,#ffac00 60.0%,#ffb700 62.3%,#ffb100 64.5%,#ffb300 100.0%)"></div><div style="height:3.00px;background:linear-gradient(90deg,#ffb300 0.0%,#ffb200 19.4%,#ffa700 22.6%,#ffb100 25.8%,#ff9b00 28.5%,#ffb100 30.8%,#ffab00 33.0%,#ffb900 35.5%,#ffac00 38.2%,#ffb800 40.9%,#ffad00 43.4%,#ffb700 45.9%,#ffae00 49.1%,#ffb700 52.1%,#ffad00 54.8%,#ffb900 57.3%,#ffac00 60.0%,#ffb600 62.3%,#ffb100 64.5%,#ffb300 100.0%)"></div><div style="height:3.00px;background:linear-gradient(90deg,#ffb300 0.0%,#ffb200 19.4%,#ffa700 22.6%,#ffb100 25.8%,#ff9c00 28.5%,#ffb000 30.8%,#ffab00 33.0%,#ffb900 35.5%,#ffac00 38.2%,#ffb800 40.7%,#ffae00 43.4%,#ffb700 45.9%,#ffae00 49.1%,#ffb700 52.1%,#ffad00 54.8%,#ffb800 57.3%,#ffac00 60.0%,#ffb600 62.3%,#ffb100 64.5%,#ffb300 100.0%)"></div><div style="height:3.00px;background:linear-gradient(90deg,#ffb300 0.0%,#ffb200 19.4%,#ffa800 22.6%,#ffb100 25.8%,#ff9c00 28.5%,#ffb000 30.8%,#ffac00 33.0%,#ffb900 35.5%,#ffad00 38.2%,#ffb800 40.7%,#ffae00 43.4%,#ffb600 45.9%,#ffaf00 49.1%,#ffb700 52.1%,#ffae00 54.8%,#ffb800 57.3%,#ffad00 60.0%,#ffb600 62.3%,#ffb300 100.0%)"></div><div style="height:3.00px;background:linear-gradient(90deg,#ffb300 0.0%,#ffb200 19.4%,#ffa800 22.6%,#ffb100 25.8%,#ff9d00 28.5%,#ffb000 30.8%,#ffac00 33.0%,#ffb800 35.5%,#ffad00 38.2%,#ffb700 40.7%,#ffae00 43.4%,#ffb600 45.9%,#ffaf00 49.1%,#ffb600 52.1%,#ffae00 54.8%,#ffb800 57.3%,#ffad00 60.0%,#ffb600 62.3%,#ffb300 100.0%)"></div><div style="height:3.00px;background:linear-gradient(90deg,#ffb300 0.0%,#ffb200 19.4%,#ffa800 22.6%,#ffb100 25.8%,#ff9d00 28.5%,#ffb000 30.8%,#ffac00 33.0%,#ffb800 35.5%,#ffad00 38.2%,#ffb700 40.7%,#ffae00 43.4%,#ffb600 45.9%,#ffaf00 49.1%,#ffb600 52.1%,#ffae00 54.8%,#ffb700 57.3%,#ffad00 60.0%,#ffb600 62.3%,#ffb300 100.0%)"></div><div style="height:3.00px;background:linear-gradient(90deg,#ffb300 0.0%,#ffb200 19.4%,#ffa900 22.6%,#ffb100 25.8%,#ff9d00 28.5%,#ffb000 30.8%,#ffac00 33.0%,#ffb800 35.5%,#ffad00 38.2%,#ffb700 40.7%,#ffae00 43.4%,#ffb600 45.9%,#ffaf00 49.1%,#ffb600 52.1%,#ffae00 54.8%,#ffb700 57.3%,#ffad00 60.0%,#ffb600 62.3%,#ffb300 100.0%)"></div><div style="height:3.00px;background:linear-gradient(90deg,#ffb300 0.0%,#ffb200 19.4%,#ffa900 22.6%,#ffb100 25.8%,#ff9e00 28.5%,#ffb000 30.8%,#ffac00 33.0%,#ffb800 35.5%,#ffad00 38.2%,#ffb700 40.7%,#ffae00 43.4%,#ffb600 45.9%,#ffaf00 49.1%,#ffb600 52.1%,#ffae00 54.8%,#ffb700 57.3%,#ffad00 60.0%,#ffb600 62.3%,#ffb300 100.0%)"></div><div style="height:3.00px;background:linear-gradient(90deg,#ffb300 0.0%,#ffb200 19.4%,#ffa900 22.6%,#ffb100 25.8%,#ff9e00 28.5%,#ffb000 30.8%,#ffad00 33.0%,#ffb800 35.5%,#ffae00 38.2%,#ffb700 40.7%,#ffae00 43.4%,#ffb600 45.9%,#ffaf00 49.1%,#ffb600 52.1%,#ffae00 54.8%,#ffb700 57.3%,#ffad00 60.0%,#ffb600 62.3%,#ffb300 100.0%)"></div><div style="height:3.00px;background:linear-gradient(90deg,#ffb300 0.0%,#ffb200 19.1%,#fa0 22.6%,#ffb000 25.8%,#ff9f00 28.5%,#ffb000 30.8%,#ffad00 33.0%,#ffb700 35.5%,#ffae00 38.2%,#ffb700 40.7%,#ffaf00 43.4%,#ffb600 52.1%,#ffaf00 54.8%,#ffb700 57.3%,#ffae00 60.0%,#ffb500 62.3%,#ffb300 100.0%)"></div><div style="height:3.00px;background:linear-gradient(90deg,#ffb300 0.0%,#ffb200 19.1%,#fa0 22.6%,#ffb000 25.8%,#ff9f00 28.5%,#ffb000 30.8%,#ffad00 33.0%,#ffb700 35.5%,#ffae00 38.2%,#ffb600 40.7%,#ffaf00 43.4%,#ffb600 52.1%,#ffaf00 54.8%,#ffb700 57.3%,#ffae00 60.0%,#ffb500 62.3%,#ffb300 100.0%)"></div><div style="height:3.00px;background:linear-gradient(90deg,#ffb300 0.0%,#ffb200 19.1%,#fa0 22.6%,#ffb000 25.8%,#ff9f00 28.5%,#ffb000 30.8%,#ffae00 33.0%,#ffb700 35.5%,#ffae00 38.2%,#ffb600 40.7%,#ffaf00 43.4%,#ffb500 52.1%,#ffaf00 54.8%,#ffb600 57.3%,#ffae00 60.0%,#ffb500 62.3%,#ffb300 100.0%)"></div><div style="height:3.00px;background:linear-gradient(90deg,#ffb300 0.0%,#ffb200 19.1%,#fa0 22.6%,#ffb000 25.6%,#ffa000 28.5%,#ffb000 30.8%,#ffae00 33.0%,#ffb700 35.5%,#ffae00 38.2%,#ffb600 40.7%,#ffaf00 43.4%,#ffb500 52.1%,#ffaf00 54.8%,#ffb600 57.3%,#ffae00 60.0%,#ffb500 62.3%,#ffb300 100.0%)"></div><div style="height:3.00px;background:linear-gradient(90deg,#ffb300 0.0%,#ffb200 19.1%,#fa0 22.6%,#ffb000 25.6%,#ffa000 28.3%,#ffb000 30.8%,#ffae00 33.0%,#ffb700 35.5%,#ffae00 38.2%,#ffb600 40.7%,#ffaf00 43.4%,#ffb500 52.1%,#ffaf00 54.8%,#ffb600 57.3%,#ffae00 60.0%,#ffb500 62.3%,#ffb300 100.0%)"></div><div style="height:3.00px;background:linear-gradient(90deg,#ffb300 0.0%,#ffb200 19.1%,#ffab00 22.6%,#ffb000 25.6%,#ffa000 28.3%,#ffb000 30.8%,#ffae00 33.0%,#ffb700 35.5%,#ffaf00 38.2%,#ffb600 40.7%,#ffaf00 43.4%,#ffb500 52.1%,#ffaf00 54.8%,#ffb600 57.3%,#ffae00 60.0%,#ffb500 62.3%,#ffb300 100.0%)"></div><div style="height:3.00px;background:linear-gradient(90deg,#ffb300 0.0%,#ffb200 19.1%,#ffab00 22.6%,#ffb000 25.6%,#ffa000 28.3%,#ffb000 30.8%,#ffae00 33.0%,#ffb600 35.5%,#ffaf00 38.2%,#ffb600 40.7%,#ffaf00 43.4%,#ffb500 52.1%,#ffaf00 54.8%,#ffb600 57.3%,#ffaf00 60.0%,#ffb500 62.3%,#ffb300 100.0%)"></div><div style="height:3.00px;background:linear-gradient(90deg,#ffb300 0.0%,#ffb200 19.1%,#ffab00 22.6%,#ffb000 25.6%,#ffa100 28.3%,#ffb000 30.8%,#ffb600 35.5%,#ffaf00 38.2%,#ffb600 40.7%,#ffb000 43.4%,#ffb500 52.1%,#ffb000 54.8%,#ffb600 57.3%,#ffaf00 60.0%,#ffb500 62.3%,#ffb300 100.0%)"></div><div style="height:3.00px;background:linear-gradient(90deg,#ffb300 0.0%,#ffb000 25.6%,#ffa100 28.3%,#ffb000 30.8%,#ffb600 35.5%,#ffaf00 38.2%,#ffb600 40.7%,#ffb000 43.4%,#ffb600 57.3%,#ffaf00 60.0%,#ffb500 62.3%,#ffb300 100.0%)"></div><div style="height:3.00px;background:linear-gradient(90deg,#ffb300 0.0%,#ffb000 25.6%,#ffa200 28.3%,#ffb000 30.8%,#ffb600 35.5%,#ffb000 38.2%,#ffb600 40.7%,#ffb000 43.4%,#ffb600 57.3%,#ffaf00 60.0%,#ffb500 62.3%,#ffb300 100.0%)"></div><div style="height:3.00px;background:linear-gradient(90deg,#ffb300 0.0%,#ffb100 25.6%,#ffa200 28.3%,#ffb000 30.8%,#ffb700 35.5%,#ffb000 38.2%,#ffb600 40.7%,#ffb100 43.4%,#ffb600 57.3%,#ffb000 60.0%,#ffb500 62.3%,#ffb300 100.0%)"></div><div style="height:3.00px;background:linear-gradient(90deg,#ffb300 0.0%,#ffb100 25.6%,#ffa300 28.3%,#ffb100 30.8%,#ffb700 35.5%,#ffb100 38.2%,#ffb700 40.7%,#ffb100 43.4%,#ffb700 57.3%,#ffb100 60.0%,#ffb600 62.3%,#ffb300 100.0%)"></div><div style="height:3.00px;background:linear-gradient(90deg,#ffb400 0.0%,#ffb300 25.6%,#ffa500 28.3%,#ffb300 30.8%,#ffb900 35.5%,#ffb300 38.2%,#ffb900 57.3%,#ffb300 60.0%,#ffb300 100.0%)"></div><div style="height:3.00px;background:linear-gradient(90deg,#ffb500 0.0%,#ffb600 25.6%,#ffa900 28.3%,#ffb600 30.8%,#ffbc00 35.5%,#ffb600 38.2%,#fb0 57.3%,#ffb600 60.0%,#ffb300 100.0%)"></div><div style="height:3.00px;background:linear-gradient(90deg,#ffb600 0.0%,#fb0 19.1%,#ffb800 25.8%,#ffac00 28.3%,#ffb900 30.8%,#ffbe00 35.5%,#ffb900 38.2%,#ffbe00 57.3%,#ffb300 75.7%,#ffb300 100.0%)"></div><div style="height:3.00px;background:linear-gradient(90deg,#ffb600 0.0%,#ffbd00 19.1%,#ffba00 25.8%,#ffae00 28.3%,#ffba00 30.8%,#ffc000 35.5%,#fb0 38.2%,#ffbf00 57.3%,#ffb300 75.7%,#ffb300 100.0%)"></div><div style="height:3.00px;background:linear-gradient(90deg,#ffb600 0.0%,#ffbe00 19.1%,#fb0 25.8%,#ffae00 28.3%,#fb0 30.8%,#ffc100 35.5%,#fb0 38.2%,#ffc000 57.3%,#ffb300 75.7%,#ffb300 100.0%)"></div><div style="height:3.00px;background:linear-gradient(90deg,#ffb600 0.0%,#ffbd00 19.1%,#ffba00 25.8%,#ffae00 28.3%,#fb0 30.8%,#ffc000 35.5%,#fb0 38.2%,#ffc000 57.3%,#ffb300 75.7%,#ffb300 100.0%)"></div><div style="height:3.00px;background:linear-gradient(90deg,#ffb600 0.0%,#ffbc00 19.1%,#ffb900 25.8%,#ffad00 28.3%,#ffba00 30.8%,#ffbf00 35.5%,#ffbf00 57.3%,#ffb300 75.7%,#ffb300 100.0%)"></div><div style="height:3.00px;background:linear-gradient(90deg,#ffb500 0.0%,#ffba00 19.1%,#ffb700 25.8%,#ffab00 28.3%,#ffb800 30.8%,#ffbd00 35.5%,#ffb300 100.0%)"></div><div style="height:3.00px;background:linear-gradient(90deg,#ffb400 0.0%,#ffb700 19.1%,#ffb400 25.6%,#ffa900 28.3%,#ffb500 31.0%,#ffba00 35.5%,#ffb300 100.0%)"></div><div style="height:3.00px;background:linear-gradient(90deg,#ffb300 0.0%,#ffb200 25.3%,#ffa600 28.3%,#ffb300 31.0%,#ffb700 35.5%,#ffb300 100.0%)"></div><div style="height:3.00px;background:linear-gradient(90deg,#ffb300 0.0%,#ffb100 25.3%,#ffa500 28.3%,#ffb100 31.0%,#ffb600 35.5%,#ffb300 100.0%)"></div><div style="height:6.00px;background:linear-gradient(90deg,#ffb300 0.0%,#ffb000 25.3%,#ffa500 28.3%,#ffb100 31.0%,#ffb500 35.5%,#ffb300 100.0%)"></div><div style="height:3.00px;background:linear-gradient(90deg,#ffb300 0.0%,#ffb000 25.3%,#ffa500 28.3%,#ffb000 31.0%,#ffb500 35.5%,#ffb300 100.0%)"></div><div style="height:12.00px;background:linear-gradient(90deg,#ffb300 0.0%,#ffb000 25.3%,#ffa500 28.3%,#ffb000 31.0%,#ffb400 35.5%,#ffb300 100.0%)"></div><div style="height:3.00px;background:linear-gradient(90deg,#ffb300 0.0%,#ffb000 25.3%,#ffa600 28.3%,#ffb000 31.0%,#ffb400 35.5%,#ffb300 100.0%)"></div><div style="height:9.00px;background:linear-gradient(90deg,#ffb300 0.0%,#ffb000 25.1%,#ffa600 28.3%,#ffb000 31.0%,#ffb400 35.5%,#ffb300 100.0%)"></div><div style="height:9.00px;background:linear-gradient(90deg,#ffb300 0.0%,#ffb000 25.1%,#ffa600 28.3%,#ffb400 35.5%,#ffb300 100.0%)"></div><div style="height:3.00px;background:linear-gradient(90deg,#ffb300 0.0%,#ffb000 25.1%,#ffa700 28.3%,#ffb400 35.5%,#ffb300 100.0%)"></div><div style="height:3.00px;background:linear-gradient(90deg,#ffb300 0.0%,#ffb200 19.4%,#ffb000 25.3%,#ffa700 28.3%,#ffb400 35.5%,#ffb300 100.0%)"></div><div style="height:15.00px;background:linear-gradient(90deg,#ffb300 0.0%,#ffb200 19.4%,#ffa700 28.3%,#ffb400 35.5%,#ffb300 100.0%)"></div><div style="height:27.00px;background:linear-gradient(90deg,#ffb300 0.0%,#ffb200 19.4%,#ffa800 28.3%,#ffb300 35.5%,#ffb300 100.0%)"></div><div style="height:24.00px;background:linear-gradient(90deg,#ffb300 0.0%,#ffb200 19.4%,#ffa900 28.3%,#ffb300 35.5%,#ffb300 100.0%)"></div><div style="height:3.00px;background:linear-gradient(90deg,#ffb300 0.0%,#ffb200 19.4%,#ffa900 28.3%,#ffb300 35.2%,#ffb300 100.0%)"></div><div style="height:3.00px;background:linear-gradient(90deg,#ffb300 0.0%,#ffb200 19.4%,#ffa900 28.3%,#ffb300 35.5%,#ffb300 100.0%)"></div><div style="height:3.00px;background:linear-gradient(90deg,#ffb300 0.0%,#ffb200 19.4%,#fa0 28.3%,#ffb300 35.5%,#ffb300 100.0%)"></div><div style="height:15.00px;background:linear-gradient(90deg,#ffb300 0.0%,#ffb200 19.4%,#fa0 28.3%,#ffb300 35.2%,#ffb300 100.0%)"></div><div style="height:15.00px;background:linear-gradient(90deg,#ffb300 0.0%,#ffb200 19.4%,#fa0 28.0%,#ffb300 35.2%,#ffb300 100.0%)"></div><div style="height:9.00px;background:linear-gradient(90deg,#ffb300 0.0%,#ffb200 19.4%,#ffab00 28.0%,#ffb300 35.2%,#ffb300 100.0%)"></div><div style="height:6.00px;background:linear-gradient(90deg,#ffb300 0.0%,#ffb300 19.4%,#ffab00 28.0%,#ffb300 35.2%,#ffb300 100.0%)"></div><div style="height:3.00px;background:linear-gradient(90deg,#ffb300 0.0%,#ffb400 19.4%,#ffac00 28.0%,#ffb400 35.2%,#ffb300 100.0%)"></div><div style="height:3.00px;background:#ffb300"></div><div style="height:3.00px;background:linear-gradient(90deg,#ffb300 0.0%,#ffb800 19.1%,#ffb100 28.3%,#ffb900 35.5%,#ffb300 100.0%)"></div><div style="height:3.00px;background:linear-gradient(90deg,#ffb300 0.0%,#fb0 19.1%,#ffb400 28.3%,#ffbc00 35.5%,#ffb300 100.0%)"></div><div style="height:3.00px;background:linear-gradient(90deg,#ffb300 0.0%,#ffbc00 19.1%,#ffb600 28.3%,#ffbd00 35.5%,#ffb300 64.0%,#ffb300 100.0%)"></div><div style="height:3.00px;background:linear-gradient(90deg,#ffb300 0.0%,#ffbc00 19.1%,#ffb600 28.3%,#ffbe00 35.5%,#ffb300 64.0%,#ffb300 100.0%)"></div><div style="height:3.00px;background:linear-gradient(90deg,#ffb300 0.0%,#ffbc00 19.1%,#ffb600 28.3%,#ffbd00 35.5%,#ffb300 64.0%,#ffb300 100.0%)"></div><div style="height:3.00px;background:linear-gradient(90deg,#ffb300 0.0%,#ffba00 19.1%,#ffb400 28.3%,#fb0 35.5%,#ffb300 100.0%)"></div><div style="height:3.00px;background:linear-gradient(90deg,#ffb300 0.0%,#ffb800 19.4%,#ffb100 28.3%,#ffb900 35.5%,#ffb300 100.0%)"></div><div style="height:3.00px;background:#ffb300"></div><div style="height:3.00px;background:linear-gradient(90deg,#ffb300 0.0%,#ffad00 28.0%,#ffb400 35.2%,#ffb300 100.0%)"></div><div style="height:9.00px;background:linear-gradient(90deg,#ffb300 0.0%,#ffac00 28.0%,#ffb300 35.2%,#ffb300 100.0%)"></div><div style="height:24.00px;background:linear-gradient(90deg,#ffb300 0.0%,#ffac00 28.0%,#ffb300 35.0%,#ffb300 100.0%)"></div></div></div>
<div class="hm" style="left:581.0px;top:93.7px;width:402.8px;height:595.0px"><div style="margin:-4px 0 0 0;filter:blur(1.2px)"><div style="height:15.00px;background:linear-gradient(90deg,#ffb300 0.0%,#ffb200 16.4%,#ffac00 18.6%,#ff9300 20.1%,#ff7800 20.8%,#ff1800 22.8%,#ff0a00 23.3%,#ff0700 23.8%,#ff1000 24.3%,#ff2f00 25.1%,#ffb300 27.0%,#ffdb00 27.8%,#fff300 28.5%,#feff01 29.3%,#f5ff0a 32.0%,#f4ff0b 56.8%,#ebff14 59.6%,#faff05 60.8%,#fffd00 61.0%,#ffdf00 61.8%,#ff6500 64.0%,#ff4e00 64.8%,#ff4800 65.5%,#ff5b00 66.7%,#ffb300 69.5%,#ffc500 70.7%,#ffb300 74.7%,#ffb300 100.0%)"></div><div style="height:3.00px;background:linear-gradient(90deg,#ffb300 0.0%,#ffb200 16.4%,#ffac00 18.6%,#ff9300 20.1%,#ff7800 20.8%,#ff1800 22.8%,#ff0a00 23.3%,#ff0700 23.8%,#ff1000 24.3%,#ff2f00 25.1%,#ffb300 27.0%,#ffdb00 27.8%,#fff300 28.5%,#feff01 29.3%,#f5ff0a 32.0%,#f4ff0b 56.8%,#ebff14 59.6%,#faff05 60.8%,#fffd00 61.0%,#ffdf00 61.8%,#ff6500 64.0%,#ff4e00 64.8%,#ff4800 65.5%,#ff5b00 66.7%,#ffb300 69.5%,#ffc500 70.7%,#ffb300 74.7%,#ffb200 100.0%)"></div><div style="height:3.00px;background:linear-gradient(90deg,#ffb200 0.0%,#ffb200 16.4%,#ffac00 18.6%,#ff9300 20.1%,#ff7800 20.8%,#ff1800 22.8%,#ff0a00 23.3%,#ff0700 23.8%,#ff1000 24.3%,#ff2f00 25.1%,#ffb300 27.0%,#ffdb00 27.8%,#fff300 28.5%,#feff01 29.3%,#f5ff0a 31.8%,#f5ff0a 56.6%,#ebff14 59.6%,#faff05 60.8%,#fffc00 61.0%,#ffde00 61.8%,#ff6500 64.0%,#ff4e00 64.8%,#ff4700 65.5%,#ff5b00 66.7%,#ffb200 69.5%,#ffc500 70.7%,#ffb300 74.7%,#ffb200 100.0%)"></div><div style="height:3.00px;background:linear-gradient(90deg,#ffb200 0.0%,#ffb200 16.4%,#ffac00 18.6%,#ff9300 20.1%,#ff7800 20.8%,#ff1800 22.8%,#ff0a00 23.3%,#ff0700 23.8%,#ff1000 24.3%,#ff2f00 25.1%,#ffb300 27.0%,#ffdb00 27.8%,#fff300 28.5%,#feff01 29.3%,#f4ff0b 32.5%,#f5ff0a 56.6%,#edff12 59.6%,#fdff02 60.8%,#ffdb00 61.8%,#ff6200 64.0%,#ff4b00 64.8%,#f40 65.5%,#ff5700 66.7%,#ffaf00 69.5%,#ffc200 70.7%,#ffb300 74.7%,#ffb200 100.0%)"></div><div style="height:3.00px;background:linear-gradient(90deg,#ffb200 0.0%,#ffb200 16.4%,#ffac00 18.6%,#ff9300 20.1%,#ff7800 20.8%,#ff1800 22.8%,#ff0a00 23.3%,#ff0700 23.8%,#ff1000 24.3%,#ff2f00 25.1%,#ffb300 27.0%,#ffdb00 27.8%,#fff400 28.5%,#fdff02 29.3%,#ecff13 33.3%,#eaff15 44.2%,#f5ff0a 59.1%,#ff0 60.3%,#ffd800 61.5%,#ff5300 64.0%,#ff3c00 64.8%,#ff3500 65.5%,#ff4800 66.7%,#ffa700 69.7%,#ffb800 71.0%,#ffb200 100.0%)"></div><div style="height:3.00px;background:linear-gradient(90deg,#ffb200 0.0%,#ffb200 16.4%,#ffac00 18.6%,#ff9300 20.1%,#ff7800 20.8%,#ff1800 22.8%,#ff0a00 23.3%,#ff0700 23.8%,#ff1000 24.3%,#ff2f00 25.1%,#ffd000 27.5%,#fe0 28.3%,#ff0 29.0%,#daff25 33.3%,#d5ff2a 39.0%,#d7ff28 46.7%,#f1ff0e 51.4%,#feff01 59.1%,#fff200 60.0%,#ffd700 61.0%,#fa0 62.0%,#ff3c00 64.0%,#ff2500 64.8%,#ff1e00 65.5%,#ff3200 66.7%,#ff9700 70.0%,#ffaf00 72.0%,#ffb200 100.0%)"></div><div style="height:3.00px;background:linear-gradient(90deg,#ffb200 0.0%,#ffb200 16.4%,#ffac00 18.6%,#ff9300 20.1%,#ff7800 20.8%,#ff1800 22.8%,#ff0a00 23.3%,#ff0700 23.8%,#ff1000 24.3%,#ff2f00 25.1%,#ffd000 27.5%,#fe0 28.3%,#feff01 29.0%,#daff25 32.0%,#cdff32 33.7%,#caff35 42.2%,#cdff32 46.9%,#f0ff0f 51.4%,#ff0 58.8%,#fff100 59.8%,#ffd800 60.8%,#ffaf00 61.8%,#ff3400 64.0%,#ff1d00 64.8%,#ff1600 65.5%,#ff2a00 66.7%,#ff9000 70.0%,#ffa500 71.2%,#ffae00 72.5%,#ffb200 100.0%)"></div><div style="height:3.00px;background:linear-gradient(90deg,#ffb200 0.0%,#ffb200 16.4%,#ffac00 18.6%,#ff9300 20.1%,#ff7800 20.8%,#ff1800 22.8%,#ff0a00 23.3%,#ff0700 23.8%,#ff1000 24.3%,#ff2f00 25.1%,#ffd000 27.5%,#fe0 28.3%,#feff01 29.0%,#d8ff27 32.0%,#cbff34 33.7%,#c7ff38 42.4%,#cbff34 46.9%,#f0ff0f 51.4%,#fffe00 58.8%,#fff000 59.8%,#ffd700 60.8%,#ffae00 61.8%,#f30 64.0%,#ff1c00 64.8%,#ff1500 65.5%,#ff2800 66.7%,#ff8f00 70.0%,#ffa400 71.2%,#ffae00 72.5%,#ffb200 100.0%)"></div><div style="height:3.00px;background:linear-gradient(90deg,#ffb200 0.0%,#ffb200 16.4%,#ffac00 18.6%,#ff9300 20.1%,#f70 20.8%,#ff1800 22.8%,#ff0a00 23.3%,#ff0700 23.8%,#ff1000 24.3%,#ff2f00 25.1%,#ffd000 27.5%,#fe0 28.3%,#feff01 29.0%,#d8ff27 32.0%,#cbff34 33.7%,#c7ff38 42.4%,#cbff34 46.9%,#f0ff0f 51.4%,#fffe00 58.8%,#fff000 59.8%,#ffd700 60.8%,#ffae00 61.8%,#f30 64.0%,#ff1b00 64.8%,#ff1500 65.5%,#ff2800 66.7%,#ff8f00 70.0%,#ffa400 71.2%,#ffae00 72.5%,#ffb200 100.0%)"></div><div style="height:3.00px;background:linear-gradient(90deg,#ffb200 0.0%,#ffab00 18.6%,#ff9100 20.1%,#ff7600 20.8%,#ff1700 22.8%,#ff0a00 23.3%,#ff0700 23.8%,#ff0f00 24.3%,#ff2f00 25.1%,#ffd100 27.5%,#ffef00 28.3%,#fdff02 29.0%,#d7ff28 32.0%,#cbff34 33.7%,#c6ff39 42.4%,#caff35 46.9%,#efff10 51.4%,#fffe00 58.8%,#fff000 59.8%,#ffd700 60.8%,#ffae00 61.8%,#f30 64.0%,#ff1b00 64.8%,#ff1500 65.5%,#ff2800 66.7%,#ff8f00 70.0%,#ffa400 71.2%,#ffae00 72.5%,#ffb200 100.0%)"></div><div style="height:3.00px;background:linear-gradient(90deg,#ffb200 0.0%,#ffaf00 7.2%,#ff9200 18.6%,#ff7b00 20.1%,#ff6200 20.8%,#ff0a00 22.8%,#fe0000 23.3%,#fd0000 23.8%,#ff1000 24.6%,#ff3800 25.3%,#ff6f00 26.1%,#ffb500 26.6%,#fff100 27.5%,#f7ff08 28.0%,#d6ff29 29.5%,#b1ff4e 33.3%,#abff54 42.2%,#c9ff36 47.9%,#e7ff18 51.4%,#f1ff0e 57.3%,#fffe00 59.3%,#ffeb00 60.3%,#ffca00 61.3%,#ffa600 62.0%,#ff4c00 63.5%,#ff2900 64.3%,#ff1b00 64.8%,#ff1400 65.5%,#ff2800 66.7%,#ff8f00 70.0%,#ffa400 71.2%,#ffae00 72.5%,#ffb200 100.0%)"></div><div style="height:3.00px;background:linear-gradient(90deg,#ffb200 0.0%,#fa0 6.9%,#ff9d00 8.9%,#ff6a00 13.6%,#ff5c00 19.1%,#ff4000 20.6%,#fe0000 22.3%,#ea0000 23.1%,#e60000 23.6%,#fe0000 24.6%,#f40 25.8%,#ff7100 26.1%,#fff800 26.3%,#9eff61 26.6%,#6bff94 27.8%,#51ffae 29.5%,#47ffb8 33.3%,#46ffb9 40.9%,#47ffb8 42.4%,#cbff34 46.9%,#ebff14 56.8%,#ff0 59.3%,#ffe500 60.5%,#ffc500 61.5%,#ff2700 64.3%,#ff1300 64.8%,#ff1000 65.3%,#ff1600 66.0%,#ff2700 66.7%,#ff8f00 70.0%,#ffa400 71.2%,#ffae00 72.5%,#ffb200 100.0%)"></div><div style="height:3.00px;background:linear-gradient(90deg,#ffb200 0.0%,#ffa900 6.9%,#ff9a00 8.9%,#ff6300 13.6%,#ff5400 19.1%,#ff3a00 20.6%,#ff0300 22.1%,#e30000 23.3%,#e50000 23.8%,#fb0000 24.6%,#ff0800 24.8%,#ff4000 25.8%,#ff6f00 26.1%,#fcff03 26.3%,#8cff73 26.6%,#64ff9b 27.5%,#4cffb3 28.8%,#43ffbc 31.3%,#42ffbd 42.2%,#4fb 42.4%,#d4ff2b 46.9%,#ef1 56.3%,#fffc00 59.1%,#ffe600 60.3%,#ffc100 61.5%,#ff2500 64.3%,#ff1200 64.8%,#ff0f00 65.3%,#ff1600 66.0%,#ff2700 66.7%,#ff8f00 70.0%,#ffa400 71.2%,#ffae00 72.5%,#ffb200 100.0%)"></div><div style="height:3.00px;background:linear-gradient(90deg,#ffb200 0.0%,#ffa900 6.9%,#ff9a00 8.9%,#ff6200 13.6%,#ff5300 19.1%,#ff3900 20.6%,#ff0300 22.1%,#e30000 23.3%,#e50000 23.8%,#fb0000 24.6%,#ff0800 24.8%,#ff4000 25.8%,#ff6f00 26.1%,#fcff03 26.3%,#8cff73 26.6%,#64ff9b 27.5%,#4cffb3 28.8%,#43ffbc 31.0%,#42ffbd 42.2%,#4fb 42.4%,#d4ff2b 46.9%,#edff12 56.1%,#fffc00 59.1%,#ffe600 60.3%,#ffc100 61.5%,#ff2500 64.3%,#ff1200 64.8%,#ff0f00 65.3%,#ff1600 66.0%,#ff2700 66.7%,#ff8f00 70.0%,#ffa400 71.2%,#ffae00 72.5%,#ffb200 100.0%)"></div><div style="height:3.00px;background:linear-gradient(90deg,#ffb200 0.0%,#ffa900 6.9%,#ff9a00 8.9%,#ff6200 13.6%,#ff5300 19.1%,#ff3900 20.6%,#ff0300 22.1%,#e30000 23.3%,#e50000 23.8%,#fb0000 24.6%,#ff0700 24.8%,#ff4000 25.8%,#ff6f00 26.1%,#fcff03 26.3%,#8cff73 26.6%,#6cff93 27.3%,#53ffac 28.3%,#4fb 30.3%,#42ffbd 37.7%,#4fb 42.4%,#d4ff2b 46.9%,#ef1 56.3%,#feff01 58.8%,#ffe600 60.3%,#ffc100 61.5%,#ff2500 64.3%,#ff1200 64.8%,#ff0f00 65.3%,#ff1600 66.0%,#ff2700 66.7%,#ff8f00 70.0%,#ffa400 71.2%,#ffae00 72.5%,#ffb200 100.0%)"></div><div style="height:3.00px;background:linear-gradient(90deg,#ffb200 0.0%,#ffa900 6.9%,#ff9a00 8.9%,#ff6200 13.6%,#ff5300 19.1%,#ff3900 20.6%,#ff0200 22.1%,#e20000 23.3%,#e50000 23.8%,#fb0000 24.6%,#ff0700 24.8%,#ff4000 25.8%,#ff6f00 26.1%,#fcff03 26.3%,#8cff73 26.6%,#6cff93 27.3%,#57ffa8 28.0%,#45ffba 30.0%,#42ffbd 35.2%,#4fb 42.4%,#d4ff2b 46.9%,#ef1 56.3%,#ff0 58.8%,#ffe600 60.3%,#ffc100 61.5%,#ff2500 64.3%,#f10 64.8%,#ff0f00 65.3%,#ff1600 66.0%,#ff2700 66.7%,#ff8f00 70.0%,#ffa400 71.2%,#ffae00 72.5%,#ffb200 100.0%)"></div><div style="height:3.00px;background:linear-gradient(90deg,#ffb200 0.0%,#ffaf00 5.2%,#ffa300 7.9%,#ff6200 13.6%,#ff4d00 19.4%,#ff3500 20.6%,#fd0000 22.1%,#e60000 22.8%,#de0000 23.3%,#e10000 23.8%,#f70000 24.6%,#ff0300 24.8%,#ff3c00 25.8%,#ff6d00 26.1%,#feff01 26.3%,#8cff73 26.6%,#5dffa2 27.8%,#4bffb4 28.8%,#45ffba 29.8%,#41ffbe 34.5%,#4fb 42.4%,#d5ff2a 46.9%,#f0ff0f 56.1%,#ff0 58.6%,#ffe900 60.0%,#ffbe00 61.5%,#ff2300 64.3%,#ff0f00 64.8%,#ff0d00 65.3%,#ff1e00 66.5%,#ff7100 69.0%,#ff9300 70.2%,#ffae00 72.5%,#ffb200 100.0%)"></div><div style="height:3.00px;background:linear-gradient(90deg,#ffb200 0.0%,#ffae00 5.5%,#ffa000 8.4%,#ff6800 13.2%,#ff5400 17.4%,#ff3600 18.6%,#ff1e00 20.1%,#ff0100 21.1%,#c90000 22.6%,#ba0000 23.6%,#c90000 24.3%,#fa0000 25.3%,#ff2000 25.8%,#ff5900 26.1%,#fff700 26.3%,#8eff71 26.6%,#60ff9f 27.5%,#47ffb8 28.8%,#3effc1 30.5%,#3affc5 34.2%,#40ffbf 42.4%,#6dff92 43.9%,#e3ff1c 46.9%,#f4ff0b 48.1%,#fffd00 51.4%,#ffd300 58.1%,#ffbc00 59.8%,#ff8d00 61.5%,#f10 63.8%,#f80000 64.3%,#e60000 64.8%,#e40000 65.3%,#eb0000 66.0%,#fd0000 66.7%,#ff9500 71.0%,#ffa900 72.0%,#ffb500 73.4%,#fb0 81.4%,#ffac00 92.6%,#ffaf00 100.0%)"></div><div style="height:3.00px;background:linear-gradient(90deg,#ffb200 0.0%,#fa0 7.4%,#ff7e00 13.2%,#ff7000 16.6%,#ff5e00 17.4%,#ff3800 17.9%,#ff0500 18.4%,#da0000 19.1%,#bc0000 20.3%,#820000 21.8%,#800000 22.1%,#810000 25.1%,#a90000 25.6%,#cb0000 25.8%,#ff2000 26.1%,#ffe900 26.3%,#7dff82 26.6%,#64ff9b 26.8%,#47ffb8 27.3%,#28ffd7 28.5%,#19ffe6 30.5%,#1fe 34.5%,#1fffe0 43.7%,#25ffda 43.9%,#fbff04 46.2%,#ffac00 46.9%,#ff7900 47.6%,#ff6200 48.1%,#ff4000 51.9%,#fb0000 55.1%,#de0000 56.6%,#b00000 60.0%,#800000 62.0%,#800000 68.0%,#bc0000 69.2%,#f50000 70.0%,#f10 70.2%,#ff4c00 70.7%,#ff7900 71.2%,#ffab00 72.2%,#ffcd00 73.7%,#ffdf00 75.9%,#ffe300 79.9%,#ffdc00 83.6%,#ffc200 88.6%,#ffa200 91.3%,#ff9a00 92.8%,#f90 97.3%,#ffa300 100.0%)"></div><div style="height:3.00px;background:linear-gradient(90deg,#ffb200 0.0%,#ffa700 16.4%,#ffa100 16.9%,#ff8c00 17.4%,#ff5900 17.9%,#ff1500 18.4%,#f90000 18.6%,#da0000 19.1%,#ab0000 20.6%,#800000 21.6%,#800000 25.3%,#820000 25.6%,#a00 25.8%,#ff0b00 26.1%,#ffe300 26.3%,#78ff87 26.6%,#5bffa4 26.8%,#3dffc2 27.3%,#1dffe2 28.5%,#0bfff4 30.8%,#0ff 34.2%,#10ffef 43.7%,#15ffea 43.9%,#ebff14 45.9%,#fff600 46.2%,#ff9100 46.9%,#ff5000 47.6%,#ff3200 48.1%,#ff2700 48.6%,#ff1600 50.9%,#fe0000 52.4%,#a00000 55.8%,#800000 57.8%,#800000 68.5%,#830000 68.7%,#ad0000 69.5%,#db0000 70.0%,#fb0000 70.2%,#ff6100 71.0%,#ff7a00 71.2%,#ff9f00 71.7%,#ffba00 72.2%,#ffd600 73.0%,#ffe800 73.7%,#ff0 75.7%,#f8ff07 79.2%,#fffa00 83.6%,#ffcd00 88.6%,#ff9700 91.3%,#ff8900 92.8%,#ff8700 97.3%,#f90 100.0%)"></div><div style="height:3.00px;background:linear-gradient(90deg,#ffb200 0.0%,#ffb000 16.4%,#fa0 16.9%,#ff9500 17.4%,#ff6300 17.9%,#ff0100 18.6%,#df0000 19.1%,#ad0000 20.6%,#800000 21.6%,#800000 25.6%,#a80000 25.8%,#ff0a00 26.1%,#ffe300 26.3%,#7f8 26.6%,#59ffa6 26.8%,#3bffc4 27.3%,#1bffe4 28.5%,#01fffe 31.5%,#00f8ff 33.5%,#0ffff0 43.7%,#15ffea 43.9%,#ebff14 45.9%,#fff600 46.2%,#ff9000 46.9%,#ff4e00 47.6%,#ff3000 48.1%,#ff2400 48.6%,#fc0000 52.4%,#9c0000 55.8%,#800000 57.6%,#800000 67.7%,#910000 68.5%,#ae0000 69.2%,#ce0000 69.7%,#e60000 70.0%,#ff0500 70.2%,#ff6800 71.0%,#ff9500 71.5%,#ffb300 72.0%,#ffe200 73.2%,#ff0 74.9%,#f2ff0d 79.2%,#fffd00 83.9%,#ffcf00 88.6%,#ff9400 91.3%,#ff8500 92.8%,#ff8300 97.3%,#ff9700 100.0%)"></div><div style="height:3.00px;background:linear-gradient(90deg,#ffb300 0.0%,#ffb000 16.9%,#ffa900 17.4%,#ff9300 17.9%,#ff7e00 18.1%,#ff2300 18.9%,#ff0c00 19.1%,#fa0000 19.4%,#be0000 20.8%,#800000 22.1%,#800000 25.3%,#980000 25.6%,#bd0000 25.8%,#ff1900 26.1%,#ffeb00 26.3%,#73ff8c 26.6%,#58ffa7 26.8%,#3bffc4 27.3%,#1bffe4 28.5%,#0ff 31.5%,#00f7ff 33.5%,#0ff 37.0%,#0dfff2 40.2%,#0ffff0 43.7%,#15ffea 43.9%,#ebff14 45.9%,#fff600 46.2%,#ff9000 46.9%,#ff4e00 47.6%,#ff3000 48.1%,#ff2400 48.6%,#fb0000 52.4%,#9b0000 55.8%,#800000 57.6%,#800000 67.2%,#a80000 69.0%,#c00000 69.5%,#e90000 70.0%,#ff0800 70.2%,#ff6a00 71.0%,#ff9600 71.5%,#ffb400 72.0%,#ffe300 73.2%,#feff01 74.9%,#f2ff0d 79.2%,#fffe00 83.9%,#ffcf00 88.6%,#ff9300 91.3%,#ff8400 92.8%,#ff8200 97.3%,#ff9600 100.0%)"></div><div style="height:3.00px;background:linear-gradient(90deg,#ffb300 0.0%,#ffb000 17.4%,#ffa800 17.9%,#ff9100 18.4%,#ff2a00 19.4%,#ff0700 19.9%,#fa0000 20.1%,#820000 22.6%,#800000 22.8%,#800000 24.8%,#9a0000 25.3%,#b00000 25.6%,#d20000 25.8%,#ff2800 26.1%,#fff400 26.3%,#70ff8f 26.6%,#57ffa8 26.8%,#3bffc4 27.3%,#1cffe3 28.5%,#0bfff4 30.5%,#00feff 33.5%,#0ffff0 43.7%,#15ffea 43.9%,#ebff14 45.9%,#fff600 46.2%,#ff9000 46.9%,#ff4e00 47.6%,#ff3000 48.1%,#ff2400 48.6%,#fc0000 52.4%,#9c0000 55.8%,#800000 57.6%,#820000 67.2%,#a00 69.0%,#c20000 69.5%,#eb0000 70.0%,#ff0900 70.2%,#ff4e00 70.7%,#ff8300 71.2%,#ffb500 72.0%,#ffe400 73.2%,#feff01 74.9%,#f2ff0d 79.2%,#fffe00 83.9%,#ffcf00 88.6%,#ff9300 91.3%,#ff8400 92.8%,#ff8200 97.3%,#ff9600 100.0%)"></div><div style="height:3.00px;background:linear-gradient(90deg,#ffb300 0.0%,#ffba00 11.2%,#ffb500 17.6%,#ff9e00 18.6%,#ff7900 19.1%,#ff3000 19.9%,#ff0300 20.6%,#9d0000 22.6%,#820000 23.6%,#830000 24.1%,#900 24.8%,#b40000 25.3%,#e60000 25.8%,#ff3600 26.1%,#fffc00 26.3%,#6dff92 26.6%,#47ffb8 27.0%,#34ffcb 27.5%,#1fffe0 28.5%,#15ffea 29.5%,#08fff7 34.2%,#10ffef 43.7%,#16ffe9 43.9%,#ebff14 45.9%,#fff600 46.2%,#ff9100 46.9%,#ff5000 47.6%,#f30 48.1%,#ff2700 48.6%,#ff1700 50.9%,#fa0000 52.6%,#9c0000 56.1%,#800000 58.3%,#820000 66.7%,#900000 67.7%,#a90000 68.7%,#ca0000 69.5%,#f30000 70.0%,#ff1200 70.2%,#ff5400 70.7%,#ff8900 71.2%,#ffba00 72.0%,#ffe700 73.2%,#ff0 74.9%,#f2ff0d 79.2%,#ff0 83.6%,#ffcf00 88.6%,#ff9400 91.3%,#ff8500 92.8%,#ff8300 97.3%,#ff9700 100.0%)"></div><div style="height:3.00px;background:linear-gradient(90deg,#ffb300 0.0%,#ffb500 5.5%,#ffca00 10.2%,#ffc400 17.1%,#ffba00 18.1%,#ffa600 18.9%,#f80 19.4%,#ff2f00 20.3%,#ff0200 21.1%,#a80000 22.8%,#970000 23.8%,#9d0000 24.3%,#ba0000 25.1%,#dc0000 25.6%,#f90000 25.8%,#ff4500 26.1%,#fffd00 26.3%,#75ff8a 26.6%,#5effa1 26.8%,#4fb 27.3%,#2fffd0 28.0%,#2fd 29.0%,#19ffe6 32.8%,#2fffd0 38.0%,#2bffd4 43.7%,#30ffcf 43.9%,#f3ff0c 45.9%,#fff100 46.2%,#ff9b00 46.9%,#ff6e00 47.6%,#ff5a00 48.1%,#ff4200 51.9%,#fd0000 55.6%,#da0000 58.6%,#c80000 62.8%,#d30000 66.7%,#e10000 67.7%,#ff0100 68.7%,#ff3200 69.7%,#ffa100 71.0%,#ffc200 71.5%,#ffe900 72.5%,#fff800 73.4%,#feff01 75.9%,#fffb00 83.1%,#ffcd00 88.6%,#ff9800 91.3%,#ff8a00 93.1%,#ff8900 97.5%,#ff9a00 100.0%)"></div><div style="height:3.00px;background:linear-gradient(90deg,#ffb300 0.0%,#ffb700 5.5%,#ffde00 9.9%,#ffe000 14.4%,#ffd900 16.6%,#ffc500 18.1%,#ffab00 19.1%,#ff9200 19.6%,#ff2a00 20.8%,#fc0000 21.6%,#be0000 22.8%,#ac0000 23.8%,#b30000 24.3%,#c40000 24.8%,#e10000 25.3%,#fa0000 25.6%,#ff2300 25.8%,#ff6a00 26.1%,#ffd200 26.3%,#d6ff29 26.6%,#acff53 26.8%,#94ff6b 27.0%,#76ff89 27.8%,#64ff9b 29.0%,#5fffa0 31.3%,#67ff98 32.5%,#79ff86 33.3%,#92ff6d 33.7%,#fdff02 35.2%,#fff300 35.5%,#ffcd00 36.7%,#ffb700 38.7%,#ffd600 43.7%,#ffaf00 46.9%,#ffae00 47.6%,#ffb800 48.4%,#ffdc00 49.6%,#ffe300 50.4%,#ffd600 56.6%,#ffca00 57.6%,#ffa300 58.8%,#f80 60.0%,#ff4200 61.5%,#ff3900 62.8%,#ff3b00 66.3%,#f40 67.5%,#ff6300 68.2%,#ffb700 69.2%,#ffd000 69.7%,#ffef00 71.0%,#feff01 72.2%,#ff0 73.0%,#fd0 74.9%,#ffd500 83.9%,#ffc000 88.6%,#ff9e00 92.3%,#ff9c00 97.0%,#ffa500 100.0%)"></div><div style="height:3.00px;background:linear-gradient(90deg,#ffb300 0.0%,#ffb800 5.5%,#ffdf00 8.4%,#ffe900 9.9%,#ffeb00 14.1%,#ffe400 16.4%,#ffcb00 18.1%,#ffa100 19.6%,#ff8400 20.1%,#ff2400 21.3%,#ff0500 21.8%,#f60000 22.1%,#cb0000 23.1%,#c10000 23.8%,#cf0000 24.6%,#f60000 25.3%,#ff1000 25.6%,#ff3800 25.8%,#ff7900 26.1%,#ffca00 26.3%,#ef1 26.6%,#c2ff3d 26.8%,#a9ff56 27.0%,#91ff6e 27.5%,#7bff84 28.8%,#76ff89 30.5%,#7cff83 31.5%,#8dff72 32.3%,#b6ff49 33.0%,#f7ff08 33.7%,#fff100 34.0%,#ffba00 34.7%,#ff7500 36.0%,#ff5000 37.0%,#ff4200 38.0%,#ff4c00 39.0%,#ff8200 41.4%,#ff9200 44.9%,#fb0 47.6%,#ffd400 48.4%,#fffe00 49.1%,#dfff20 50.1%,#d7ff28 51.6%,#daff25 56.3%,#e1ff1e 57.1%,#f9ff06 57.8%,#ffcd00 58.8%,#ff9f00 60.0%,#ff7800 60.5%,#ff4500 61.0%,#ff2500 61.5%,#ff1900 62.0%,#ff1400 63.0%,#ff1500 66.5%,#ff2000 67.5%,#ff3600 68.0%,#ff4c00 68.2%,#ffad00 69.0%,#ffda00 69.5%,#fe0 70.0%,#fff800 71.0%,#fff300 72.7%,#ffc400 74.4%,#ffba00 75.7%,#ffae00 92.8%,#ffaf00 100.0%)"></div><div style="height:3.00px;background:linear-gradient(90deg,#ffb300 0.0%,#ffb900 5.5%,#ffe100 8.4%,#ffec00 9.9%,#ffef00 14.1%,#ffe700 16.4%,#ffd200 17.9%,#ffa500 19.6%,#ff8100 20.3%,#f10 21.8%,#ff0300 22.1%,#f40000 22.3%,#d60000 23.1%,#c00 23.8%,#da0000 24.6%,#ff0100 25.3%,#ff1900 25.6%,#ff4000 25.8%,#ff7d00 26.1%,#ffc900 26.3%,#f2ff0d 26.6%,#c7ff38 26.8%,#b0ff4f 27.0%,#98ff67 27.5%,#84ff7b 28.5%,#7eff81 30.0%,#86ff79 31.0%,#9cff63 31.8%,#baff45 32.3%,#faff05 33.0%,#ffb700 34.0%,#ff5700 35.7%,#ff3c00 36.5%,#ff3700 37.0%,#ff3e00 37.7%,#ff7200 39.7%,#ff8200 40.7%,#ff8c00 44.4%,#ff9600 45.4%,#ffc200 47.9%,#fdff02 49.1%,#e6ff19 49.6%,#daff25 50.1%,#d2ff2d 51.6%,#d4ff2b 56.3%,#dcff23 57.1%,#f5ff0a 57.8%,#fffc00 58.1%,#ffd000 58.8%,#ffa000 60.0%,#ff7800 60.5%,#ff4300 61.0%,#ff2100 61.5%,#ff1500 62.0%,#ff1000 63.0%,#f10 66.5%,#ff1c00 67.5%,#f30 68.0%,#ff4900 68.2%,#ffad00 69.0%,#ffdc00 69.5%,#fff000 70.0%,#fff800 70.7%,#fff100 72.7%,#ffbf00 74.4%,#ffb400 75.7%,#ffb200 100.0%)"></div><div style="height:3.00px;background:linear-gradient(90deg,#ffb300 0.0%,#ffb900 5.5%,#ffe200 8.4%,#fe0 9.9%,#fff000 14.1%,#ffe800 16.4%,#ffd200 17.9%,#ff9e00 19.9%,#ff7900 20.6%,#ff1a00 21.8%,#fc0000 22.3%,#d00 23.1%,#d30000 23.8%,#e10000 24.6%,#f70000 25.1%,#ff0800 25.3%,#ff1f00 25.6%,#f40 25.8%,#ff7f00 26.1%,#ffc900 26.3%,#f5ff0a 26.6%,#cf3 26.8%,#a7ff58 27.3%,#8eff71 28.3%,#86ff79 29.5%,#8bff74 30.3%,#9dff62 31.0%,#b7ff48 31.5%,#f4ff0b 32.3%,#fff300 32.5%,#ffb800 33.3%,#ff8e00 34.0%,#ff4d00 35.5%,#ff3e00 36.2%,#ff4500 37.0%,#ff7200 38.7%,#ff8200 39.7%,#ff9200 45.2%,#ffc200 47.9%,#fdff02 49.1%,#e6ff19 49.6%,#daff25 50.1%,#d2ff2d 51.6%,#d4ff2b 56.3%,#dbff24 57.1%,#f4ff0b 57.8%,#fffc00 58.1%,#ffd000 58.8%,#ffa000 60.0%,#ff7800 60.5%,#ff4300 61.0%,#ff2100 61.5%,#ff1400 62.0%,#ff1000 63.0%,#f10 66.5%,#ff1b00 67.5%,#f30 68.0%,#ff4900 68.2%,#ffad00 69.0%,#ffdc00 69.5%,#fff000 70.0%,#fff800 70.7%,#fff100 72.7%,#ffbf00 74.4%,#ffb400 75.7%,#ffb200 100.0%)"></div><div style="height:3.00px;background:linear-gradient(90deg,#ffb300 0.0%,#ffb900 5.5%,#ffe600 8.7%,#ffef00 9.9%,#fff200 13.6%,#ffec00 16.1%,#ffd300 17.9%,#ffa000 19.9%,#ff7f00 20.6%,#ff1400 22.1%,#f90000 22.6%,#e30000 23.3%,#e20000 23.8%,#fc0000 24.8%,#ff1800 25.3%,#ff2e00 25.6%,#ff5100 25.8%,#f80 26.1%,#ffcd00 26.3%,#f4ff0b 26.6%,#cdff32 26.8%,#abff54 27.3%,#94ff6b 28.3%,#8fff70 29.3%,#97ff68 30.0%,#a5ff5a 30.5%,#c0ff3f 31.0%,#ff0 31.8%,#ffae00 32.8%,#ff8600 33.5%,#ff5d00 34.7%,#ff4f00 35.7%,#ff5700 36.5%,#ff7e00 38.2%,#ff8900 39.2%,#ff9500 45.2%,#ffc200 47.9%,#fdff02 49.1%,#e7ff18 49.6%,#dbff24 50.1%,#d3ff2c 51.6%,#d4ff2b 56.3%,#dcff23 57.1%,#f5ff0a 57.8%,#fffb00 58.1%,#ffd000 58.8%,#ffa000 60.0%,#ff7800 60.5%,#ff4300 61.0%,#ff2100 61.5%,#ff1500 62.0%,#ff1000 63.0%,#ff1000 66.5%,#ff1b00 67.5%,#f30 68.0%,#ff4900 68.2%,#ffad00 69.0%,#ffdc00 69.5%,#fff000 70.0%,#fff800 70.7%,#fff100 72.7%,#ffbf00 74.4%,#ffb400 75.7%,#ffb200 100.0%)"></div><div style="height:3.00px;background:linear-gradient(90deg,#ffb200 0.0%,#ffb900 5.5%,#ffe700 8.7%,#fff200 10.2%,#fff500 13.9%,#ffef00 16.1%,#ffda00 17.6%,#fa0 19.6%,#ff8400 20.6%,#ff1f00 22.3%,#f10 23.1%,#ff2100 24.1%,#ff5200 25.3%,#ff6400 25.6%,#ff8100 25.8%,#ffb100 26.1%,#ffed00 26.3%,#dcff23 26.6%,#bf4 26.8%,#a1ff5e 27.3%,#95ff6a 28.0%,#95ff6a 29.0%,#a2ff5d 29.8%,#b6ff49 30.3%,#fffa00 31.3%,#ffb900 32.0%,#ff8a00 32.8%,#ff6f00 33.5%,#ff6200 34.5%,#ff6800 35.2%,#ff9300 37.2%,#ffa200 38.5%,#ffa500 44.7%,#ffb500 47.1%,#ffc800 48.1%,#fcff03 49.4%,#edff12 49.9%,#e4ff1b 50.6%,#e4ff1b 55.6%,#e8ff17 56.8%,#fffe00 57.8%,#ffce00 58.8%,#ffa200 60.0%,#ff7c00 60.5%,#ff4a00 61.0%,#ff2900 61.5%,#ff1a00 62.3%,#ff1500 63.8%,#ff1600 66.5%,#f20 67.5%,#ff3900 68.0%,#ff4f00 68.2%,#ffaf00 69.0%,#fd0 69.5%,#fff000 70.0%,#fff800 70.7%,#fff000 72.7%,#ffbe00 74.4%,#ffb300 75.7%,#ffb200 100.0%)"></div><div style="height:3.00px;background:linear-gradient(90deg,#ffb200 0.0%,#ffba00 5.5%,#ffe600 8.7%,#fff100 10.2%,#fff200 15.9%,#ffe000 17.4%,#ffb200 19.4%,#ff8c00 20.3%,#ff3400 22.1%,#ff2900 22.6%,#ff3400 23.3%,#f80 25.3%,#ffae00 25.8%,#ffd700 26.1%,#f3ff0c 26.3%,#c5ff3a 26.6%,#af5 26.8%,#96ff69 27.3%,#92ff6d 28.0%,#97ff68 28.8%,#af5 29.5%,#c4ff3b 30.0%,#fffc00 30.8%,#ffb600 31.5%,#ff8500 32.3%,#ff6900 33.0%,#ff6100 33.7%,#ff6a00 34.5%,#ffa300 36.7%,#ffb300 38.0%,#ffb700 39.7%,#ffad00 45.4%,#ffb700 47.6%,#ffd100 50.4%,#ffc900 54.1%,#fc0 57.6%,#ffb000 60.0%,#ff7a00 61.3%,#ff6a00 62.0%,#ff6200 63.8%,#ff6300 66.5%,#ff6c00 67.5%,#ff7c00 68.0%,#ffc600 69.0%,#ffe300 69.5%,#fff000 70.0%,#fff600 71.0%,#ffed00 72.7%,#ffbd00 74.4%,#ffb200 75.7%,#ffb200 100.0%)"></div><div style="height:3.00px;background:linear-gradient(90deg,#ffb100 0.0%,#ffba00 5.5%,#ffe600 10.2%,#ffe900 16.1%,#ffd700 17.6%,#ffaf00 19.4%,#ff8700 20.3%,#ff3900 21.8%,#ff2900 22.6%,#ff3900 23.3%,#ffa600 25.6%,#ffbc00 25.8%,#ffe100 26.1%,#edff12 26.3%,#c2ff3d 26.6%,#a9ff56 26.8%,#97ff68 27.3%,#95ff6a 28.0%,#9fff60 28.8%,#b0ff4f 29.3%,#ceff31 29.8%,#f9ff06 30.3%,#ffa700 31.3%,#ff8500 31.8%,#ff6700 32.5%,#ff5e00 33.3%,#ff6700 34.0%,#ffad00 36.7%,#ffbf00 39.0%,#ffa800 44.4%,#ffbd00 49.6%,#fa0 54.8%,#ffbf00 59.6%,#ffa300 63.3%,#ffa300 66.3%,#ffad00 67.7%,#ffde00 69.7%,#ffe400 71.0%,#ffdc00 72.7%,#ffb800 74.4%,#ffb000 75.7%,#ffb200 100.0%)"></div><div style="height:3.00px;background:linear-gradient(90deg,#ffb000 0.0%,#ffba00 5.7%,#ffd400 10.2%,#ffd900 16.4%,#ffc600 18.1%,#ffac00 19.4%,#ff9100 20.1%,#ff3d00 21.8%,#ff3000 22.6%,#ff4100 23.3%,#ffac00 25.6%,#ffc100 25.8%,#ffe300 26.1%,#edff12 26.3%,#c5ff3a 26.6%,#adff52 26.8%,#9cff63 27.3%,#9aff65 27.8%,#a4ff5b 28.5%,#b6ff49 29.0%,#fffb00 30.0%,#ffb300 30.8%,#ff7f00 31.5%,#ff6a00 32.0%,#ff5e00 32.8%,#ff6a00 33.7%,#ffae00 36.5%,#ffc300 39.0%,#ffa500 44.4%,#ffbe00 49.4%,#ffa500 54.8%,#ffc400 59.6%,#ffa900 63.3%,#ffa800 66.5%,#ffc700 70.7%,#ffae00 75.9%,#ffb600 81.6%,#ffb200 100.0%)"></div><div style="height:3.00px;background:linear-gradient(90deg,#ffb000 0.0%,#ffb900 6.0%,#ffcb00 10.2%,#ffd100 16.4%,#ffc100 18.1%,#ffab00 19.4%,#ff9200 20.1%,#f40 21.8%,#ff3800 22.6%,#ff4800 23.3%,#ffae00 25.6%,#ffc200 25.8%,#ffe300 26.1%,#f0ff0f 26.3%,#caff35 26.6%,#b3ff4c 26.8%,#a8ff57 27.0%,#a3ff5c 27.5%,#b4ff4b 28.5%,#cdff32 29.0%,#f3ff0c 29.5%,#fff400 29.8%,#ffaf00 30.5%,#ff7e00 31.3%,#ff6c00 31.8%,#ff6400 32.5%,#ff6c00 33.3%,#ffad00 36.2%,#ffc300 39.0%,#ffa500 44.4%,#ffbe00 49.4%,#ffa400 54.8%,#ffc400 59.6%,#ffa800 63.8%,#fa0 67.0%,#ffbc00 70.7%,#ffae00 75.9%,#ffb600 81.6%,#ffb200 100.0%)"></div><div style="height:3.00px;background:linear-gradient(90deg,#ffb000 0.0%,#ffd100 14.6%,#ffcf00 16.4%,#ffc000 18.1%,#ffab00 19.4%,#ff9400 20.1%,#ff4b00 21.8%,#ff4000 22.6%,#ff4f00 23.3%,#ffae00 25.6%,#ffc100 25.8%,#ffe100 26.1%,#f4ff0b 26.3%,#cfff30 26.6%,#baff45 26.8%,#b0ff4f 27.0%,#adff52 27.5%,#b4ff4b 28.0%,#c6ff39 28.5%,#f8ff07 29.3%,#fff000 29.5%,#ffae00 30.3%,#ff8c00 30.8%,#f70 31.3%,#ff6a00 32.0%,#ff7300 33.0%,#ffaf00 36.2%,#ffc300 39.0%,#ffa500 44.4%,#ffbe00 49.4%,#ffa400 54.8%,#ffc400 59.6%,#ffa800 63.8%,#ffa900 66.7%,#ffba00 70.7%,#ffae00 75.9%,#ffb600 81.6%,#ffb200 100.0%)"></div><div style="height:3.00px;background:linear-gradient(90deg,#ffb000 0.0%,#ffb900 6.5%,#ffc900 10.4%,#ffcd00 16.4%,#ffc000 18.1%,#ffac00 19.4%,#ff9600 20.1%,#ff5200 21.8%,#ff4800 22.6%,#ff5600 23.3%,#ffaf00 25.6%,#ffc100 25.8%,#f8ff07 26.3%,#d5ff2a 26.6%,#c1ff3e 26.8%,#b6ff49 27.3%,#bcff43 27.8%,#cdff32 28.3%,#fcff03 29.0%,#ffad00 30.0%,#ff8d00 30.5%,#ff7a00 31.0%,#ff7000 31.8%,#ff7600 32.5%,#ffab00 35.7%,#ffc000 39.0%,#ffa700 44.7%,#ffbd00 49.6%,#ffa600 55.1%,#ffc300 59.8%,#ffa900 63.8%,#fa0 66.7%,#ffb900 70.5%,#ffae00 75.7%,#ffb500 81.6%,#ffb200 100.0%)"></div><div style="height:3.00px;background:linear-gradient(90deg,#ffb100 0.0%,#ffb700 6.5%,#ffcb00 10.7%,#ffca00 16.6%,#ffbd00 18.4%,#ffad00 19.4%,#f90 20.1%,#ff5800 21.8%,#ff4f00 22.6%,#ff5c00 23.3%,#ffb000 25.6%,#ffc100 25.8%,#fbff04 26.3%,#dbff24 26.6%,#c9ff36 26.8%,#c1ff3e 27.3%,#d4ff2b 28.0%,#fffc00 28.8%,#f90 30.0%,#ff8100 30.5%,#ff7400 31.3%,#ff7900 32.0%,#ff9c00 33.7%,#ffac00 35.0%,#ffb800 39.0%,#ffab00 45.4%,#ffb900 50.4%,#ffa900 55.3%,#ffc100 60.3%,#ffa900 64.0%,#fa0 66.7%,#ffb800 70.0%,#ffb000 74.7%,#ffb200 100.0%)"></div><div style="height:3.00px;background:linear-gradient(90deg,#ffb200 0.0%,#ffb500 6.5%,#ffcd00 10.9%,#ffc600 16.9%,#ffaf00 19.4%,#ff5e00 21.8%,#f50 22.6%,#ff6100 23.3%,#ffb100 25.6%,#ffc100 25.8%,#ff0 26.3%,#e1ff1e 26.6%,#d0ff2f 26.8%,#cbff34 27.0%,#daff25 27.8%,#fffa00 28.5%,#ffa900 29.5%,#ff8b00 30.0%,#ff7a00 30.5%,#ff7400 31.0%,#ff7c00 31.8%,#ffad00 34.0%,#ffb700 35.5%,#ffaf00 38.7%,#ffb800 42.4%,#ffac00 46.4%,#ffb700 52.1%,#ffa900 56.3%,#ffc000 60.5%,#fa0 64.0%,#ffab00 66.7%,#ffb800 69.7%,#ffaf00 73.7%,#ffb200 100.0%)"></div><div style="height:3.00px;background:linear-gradient(90deg,#ffb200 0.0%,#ffb200 6.5%,#ffcd00 10.9%,#ffc100 17.6%,#ffb000 19.4%,#ff6300 21.8%,#ff5b00 22.6%,#ff6e00 23.6%,#ffb500 25.6%,#ffc500 25.8%,#fdff02 26.3%,#e1ff1e 26.6%,#d2ff2d 26.8%,#ceff31 27.0%,#d8ff27 27.5%,#fffc00 28.3%,#ffac00 29.3%,#ff8c00 29.8%,#ff7900 30.3%,#ff7300 30.8%,#ff7c00 31.5%,#ffb400 33.7%,#ffbe00 35.0%,#ffa700 38.7%,#ffbd00 42.9%,#ffab00 47.1%,#fb0 53.1%,#ffa600 57.1%,#ffbf00 60.8%,#ffab00 64.0%,#ffab00 66.5%,#ffb800 69.5%,#ffae00 73.2%,#ffb600 77.4%,#ffb300 100.0%)"></div><div style="height:3.00px;background:linear-gradient(90deg,#ffb200 0.0%,#ffb100 6.5%,#ffc800 10.9%,#ffbe00 17.9%,#ffab00 19.6%,#ff6e00 21.6%,#ff6100 22.6%,#ff7300 23.6%,#ffac00 25.1%,#ffc400 25.6%,#fff000 26.1%,#ef1 26.3%,#d3ff2c 26.6%,#c6ff39 26.8%,#c3ff3c 27.0%,#d2ff2d 27.5%,#fff800 28.3%,#ff9300 29.5%,#ff7d00 30.0%,#ff7500 30.5%,#ff7c00 31.3%,#ffb400 33.5%,#ffc000 34.7%,#ffa500 38.7%,#ffbe00 42.9%,#fa0 47.4%,#ffbc00 53.1%,#ffa600 57.1%,#ffbf00 60.8%,#ffab00 64.3%,#ffb800 69.5%,#ffae00 73.2%,#ffb600 77.2%,#ffb000 81.4%,#ffb300 100.0%)"></div><div style="height:3.00px;background:linear-gradient(90deg,#ffb200 0.0%,#ffb100 6.5%,#ffc100 10.7%,#ffb900 14.4%,#fb0 18.1%,#ffac00 19.6%,#ff7200 21.6%,#f60 22.6%,#ff6b00 23.1%,#ff8000 23.8%,#fff200 26.3%,#ff0 26.8%,#fe0 27.5%,#ff8900 29.3%,#ff7900 29.8%,#ff7300 30.3%,#ff7a00 31.0%,#ffb600 33.5%,#ffc100 34.7%,#ffa500 38.7%,#ffbe00 42.9%,#fa0 47.4%,#ffbc00 53.1%,#ffa600 57.1%,#ffbf00 60.8%,#ffab00 64.0%,#ffac00 66.5%,#ffb800 69.5%,#ffae00 73.2%,#ffb600 77.2%,#ffb000 81.4%,#ffb300 100.0%)"></div><div style="height:3.00px;background:linear-gradient(90deg,#ffb200 0.0%,#ffb000 6.5%,#ffbc00 10.4%,#ffb300 14.4%,#ffb900 18.4%,#ffac00 19.6%,#ff7600 21.6%,#ff6b00 22.6%,#ff8300 23.8%,#ffe600 26.1%,#fff500 26.8%,#ffe300 27.5%,#ff8500 29.3%,#ff7600 30.3%,#ff7f00 31.0%,#ffb300 33.3%,#ffc100 34.7%,#ffa500 38.7%,#ffbe00 42.9%,#fa0 47.4%,#ffbc00 53.1%,#ffa600 57.1%,#ffbf00 60.8%,#ffac00 64.0%,#ffb800 69.5%,#ffae00 73.2%,#ffb600 77.2%,#ffb000 81.4%,#ffb300 100.0%)"></div><div style="height:3.00px;background:linear-gradient(90deg,#ffb300 0.0%,#ffb800 10.9%,#ffb000 14.9%,#ffb700 18.4%,#ffac00 19.6%,#ff7a00 21.6%,#ff6f00 22.6%,#ff8700 23.8%,#ffe600 26.1%,#fff400 26.8%,#ffe000 27.5%,#ff8e00 29.0%,#ff7f00 29.5%,#ff7b00 30.0%,#ff8200 30.8%,#ffb200 33.0%,#ffbc00 34.5%,#fa0 38.5%,#ffb900 42.9%,#ffad00 47.6%,#ffba00 53.3%,#ffa800 57.6%,#ffbe00 61.0%,#ffac00 64.3%,#ffb700 69.2%,#ffaf00 73.0%,#ffb500 76.9%,#ffb300 100.0%)"></div><div style="height:3.00px;background:linear-gradient(90deg,#ffb300 0.0%,#ffb600 11.7%,#ffb000 15.4%,#ffb600 18.6%,#ffad00 19.6%,#ff7e00 21.6%,#ff7300 22.6%,#ff8900 23.8%,#ffe300 26.1%,#ffef00 26.8%,#ffdb00 27.5%,#ff8d00 29.0%,#ff7f00 29.8%,#ff8500 30.5%,#ffaf00 32.5%,#ffb900 33.7%,#ffaf00 37.2%,#ffb500 44.4%,#ffaf00 48.4%,#ffb800 54.3%,#ffa900 57.8%,#ffbc00 61.3%,#ffac00 64.3%,#ffb600 69.0%,#ffaf00 72.5%,#ffb200 100.0%)"></div><div style="height:3.00px;background:linear-gradient(90deg,#ffb300 0.0%,#ffb500 12.4%,#ffaf00 15.6%,#ffb500 18.6%,#ffad00 19.6%,#ff8100 21.6%,#f70 22.6%,#ff8c00 23.8%,#ffd800 25.8%,#ffea00 26.6%,#ffdf00 27.3%,#ff8c00 29.0%,#ff8200 29.8%,#ffb100 32.3%,#ffb800 33.3%,#ffab00 36.2%,#ffb800 39.2%,#ffae00 42.4%,#ffb600 45.4%,#ffb000 51.9%,#ffb900 55.1%,#ffa900 58.3%,#fb0 61.5%,#ffad00 64.3%,#ffb600 69.0%,#ffaf00 72.0%,#ffb500 75.4%,#ffb200 100.0%)"></div><div style="height:3.00px;background:linear-gradient(90deg,#ffb300 0.0%,#ffb000 9.2%,#ffb600 12.7%,#ffae00 15.9%,#ffb400 18.9%,#fa0 19.9%,#ff8000 21.8%,#ff7b00 22.6%,#ff8e00 23.8%,#ffd500 25.8%,#ffe600 26.6%,#ffda00 27.3%,#ff9300 28.8%,#ff8400 29.5%,#ff8b00 30.3%,#ffb300 32.0%,#ffba00 33.0%,#ffa700 35.7%,#ffbc00 39.2%,#fa0 42.4%,#ffb800 45.7%,#ffae00 51.9%,#fb0 55.3%,#ffa800 58.6%,#fb0 61.5%,#ffad00 64.3%,#ffb600 68.7%,#ffaf00 71.7%,#ffb500 75.2%,#ffb200 100.0%)"></div><div style="height:3.00px;background:linear-gradient(90deg,#ffb300 0.0%,#ffb000 9.2%,#ffb600 12.7%,#ffae00 15.9%,#ffb400 18.9%,#ffab00 19.9%,#ff8300 21.8%,#ff7e00 22.6%,#ff9000 23.8%,#ffd300 25.8%,#ffe200 26.6%,#ffd600 27.3%,#ff9300 28.8%,#ff8600 29.5%,#ff8e00 30.3%,#ffb400 32.0%,#ffba00 33.0%,#ffa700 35.7%,#ffbc00 39.2%,#fa0 42.4%,#ffb800 45.7%,#ffae00 51.9%,#fb0 55.3%,#ffa800 58.6%,#fb0 61.5%,#ffad00 64.3%,#ffb600 68.7%,#ffaf00 71.7%,#ffb500 75.2%,#ffb200 100.0%)"></div><div style="height:3.00px;background:linear-gradient(90deg,#ffb300 0.0%,#ffb000 9.2%,#ffb600 12.7%,#ffae00 15.9%,#ffb400 18.9%,#ffac00 19.9%,#ff8600 21.8%,#ff8100 22.6%,#ff9200 23.8%,#ffd100 25.8%,#ffdf00 26.6%,#ffd300 27.3%,#ff9400 28.8%,#f80 29.5%,#ff9000 30.3%,#ffb100 31.8%,#fb0 32.8%,#ffa700 35.7%,#ffbc00 39.2%,#fa0 42.4%,#ffb800 45.7%,#ffae00 51.9%,#fb0 55.3%,#ffa800 58.6%,#fb0 61.5%,#ffad00 64.3%,#ffb600 68.7%,#ffaf00 71.7%,#ffb500 75.2%,#ffb200 100.0%)"></div><div style="height:3.00px;background:linear-gradient(90deg,#ffb300 0.0%,#ffb600 12.7%,#ffaf00 15.9%,#ffb400 18.9%,#ffac00 19.9%,#f80 21.8%,#ff8400 22.6%,#ff9400 23.8%,#ffcf00 25.8%,#ffdb00 26.6%,#ffd000 27.3%,#ff9400 28.8%,#ff8a00 29.5%,#ffb200 31.8%,#ffba00 32.8%,#ffa800 35.7%,#fb0 39.0%,#ffab00 42.4%,#ffb700 45.7%,#ffae00 52.4%,#ffba00 55.6%,#ffa900 58.6%,#ffba00 61.5%,#ffae00 64.3%,#ffb600 68.7%,#ffaf00 71.7%,#ffb500 74.9%,#ffb200 100.0%)"></div><div style="height:3.00px;background:linear-gradient(90deg,#ffb300 0.0%,#ffb400 18.9%,#ffad00 19.9%,#ff8b00 21.8%,#ff8700 22.6%,#ff9600 23.8%,#ffcd00 25.8%,#ffd800 26.6%,#fc0 27.3%,#ff9500 28.8%,#ff8e00 29.5%,#ffb000 31.5%,#ffb800 32.5%,#ffab00 35.2%,#ffb900 38.7%,#ffae00 41.7%,#ffb500 45.2%,#ffae00 52.4%,#ffb900 55.8%,#fa0 58.8%,#ffb900 61.8%,#ffae00 64.3%,#ffb500 68.7%,#ffaf00 71.5%,#ffb500 74.7%,#ffb200 100.0%)"></div><div style="height:3.00px;background:linear-gradient(90deg,#ffb300 0.0%,#ffb400 18.9%,#ff8900 22.6%,#ff9700 23.8%,#ffca00 25.8%,#ffd400 26.6%,#ffcf00 27.0%,#ff9d00 28.5%,#ff9100 29.3%,#ffb600 32.3%,#ffab00 34.7%,#ffb800 38.0%,#ffaf00 40.7%,#ffb500 49.9%,#ffae00 52.9%,#ffb900 56.1%,#fa0 59.1%,#ffb900 61.8%,#ffae00 64.3%,#ffb500 68.5%,#ffb000 71.2%,#ffb200 100.0%)"></div><div style="height:3.00px;background:linear-gradient(90deg,#ffb200 0.0%,#ffb300 18.9%,#ff8c00 22.6%,#f90 23.8%,#ffc900 25.8%,#ffd100 26.6%,#ffc600 27.3%,#ff9d00 28.5%,#ff9400 29.3%,#ffb400 31.8%,#fa0 34.5%,#ffba00 37.5%,#ffac00 40.4%,#ffb800 43.4%,#ffae00 46.2%,#ffb700 49.9%,#ffad00 53.1%,#ffba00 56.3%,#fa0 59.3%,#ffb800 61.8%,#ffae00 64.5%,#ffb500 68.5%,#ffb200 100.0%)"></div><div style="height:3.00px;background:linear-gradient(90deg,#ffb200 0.0%,#ffb300 18.9%,#ff8e00 22.6%,#ff9a00 23.8%,#ffc700 25.8%,#ffcf00 26.6%,#ffc400 27.3%,#ff9d00 28.5%,#ff9500 29.3%,#ffb500 31.8%,#fa0 34.5%,#fb0 37.2%,#ffab00 40.4%,#ffb900 43.4%,#ffad00 46.2%,#ffb800 49.9%,#ffac00 53.3%,#ffba00 56.3%,#fa0 59.3%,#ffb800 61.8%,#ffaf00 64.5%,#ffb400 68.5%,#ffb200 100.0%)"></div><div style="height:3.00px;background:linear-gradient(90deg,#ffb200 0.0%,#ffb300 18.9%,#ff9000 22.6%,#ff9b00 23.8%,#ffc600 25.8%,#ffcd00 26.6%,#ffc200 27.3%,#ff9d00 28.5%,#ff9600 29.3%,#ffb500 31.8%,#fa0 34.5%,#fb0 37.2%,#ffab00 40.4%,#ffb900 43.4%,#ffad00 46.2%,#ffb800 49.9%,#ffac00 53.3%,#ffba00 56.3%,#fa0 59.3%,#ffb800 61.8%,#ffaf00 64.5%,#ffb500 68.5%,#ffb200 100.0%)"></div><div style="height:3.00px;background:linear-gradient(90deg,#ffb200 0.0%,#ffb300 18.9%,#ff9200 22.6%,#ff9d00 23.8%,#ffc400 25.8%,#ffcb00 26.6%,#ffc000 27.3%,#ff9d00 28.5%,#ff9700 29.3%,#ffb600 31.8%,#fa0 34.5%,#fb0 37.2%,#ffab00 40.4%,#ffb900 43.4%,#ffad00 46.2%,#ffb800 49.9%,#ffac00 53.3%,#ffba00 56.3%,#fa0 59.3%,#ffb800 61.8%,#ffaf00 64.3%,#ffb500 68.5%,#ffb200 100.0%)"></div><div style="height:3.00px;background:linear-gradient(90deg,#ffb200 0.0%,#ffb300 19.1%,#ff9400 22.6%,#ff9a00 23.6%,#ffc300 25.8%,#ffc900 26.6%,#f90 29.0%,#ffb400 31.5%,#ffab00 34.2%,#ffba00 37.2%,#ffac00 40.2%,#ffb800 43.2%,#ffaf00 45.9%,#ffb600 50.1%,#ffad00 53.6%,#ffb900 56.3%,#ffab00 59.3%,#ffb700 62.0%,#ffaf00 64.5%,#ffb200 100.0%)"></div><div style="height:3.00px;background:linear-gradient(90deg,#ffb200 0.0%,#ffb300 19.1%,#ff9500 22.6%,#ff9c00 23.6%,#ffc200 25.8%,#ffc700 26.6%,#ff9a00 29.0%,#ffb400 31.5%,#ffab00 34.2%,#ffb900 37.0%,#ffad00 39.7%,#ffb700 42.7%,#ffae00 53.8%,#ffb800 56.6%,#ffac00 59.6%,#ffb700 62.0%,#ffaf00 64.5%,#ffb200 100.0%)"></div><div style="height:3.00px;background:linear-gradient(90deg,#ffb200 0.0%,#ffb200 19.1%,#ff9700 22.6%,#ff9d00 23.6%,#ffc000 25.8%,#ffc500 26.6%,#ff9c00 29.0%,#ffb200 31.3%,#ffac00 34.0%,#ffb800 36.5%,#ffad00 39.5%,#ffb700 42.2%,#ffb000 44.7%,#ffb500 51.4%,#ffae00 54.1%,#ffb800 56.8%,#ffac00 59.6%,#ffb600 62.0%,#ffaf00 64.5%,#ffb200 100.0%)"></div><div style="height:3.00px;background:linear-gradient(90deg,#ffb200 0.0%,#ffb200 19.1%,#ff9800 22.6%,#ffa100 23.8%,#ffc300 26.3%,#ffbf00 27.0%,#ffa400 28.3%,#ff9d00 29.0%,#ffb200 31.3%,#ffac00 33.7%,#ffb900 36.5%,#ffad00 39.2%,#ffb700 41.9%,#ffaf00 44.4%,#ffb600 51.6%,#ffae00 54.3%,#ffb800 57.1%,#ffac00 59.6%,#ffb600 62.0%,#ffb000 64.5%,#ffb200 100.0%)"></div><div style="height:3.00px;background:linear-gradient(90deg,#ffb200 0.0%,#ffb200 19.1%,#ff9a00 22.6%,#ffa200 23.8%,#ffc200 26.3%,#ffbe00 27.0%,#ffa400 28.3%,#ff9e00 29.0%,#ffb200 31.3%,#ffac00 33.7%,#ffb900 36.5%,#ffad00 39.2%,#ffb700 41.9%,#ffaf00 44.4%,#ffb600 51.6%,#ffae00 54.3%,#ffb800 57.1%,#ffac00 59.6%,#ffb600 62.0%,#ffb000 64.5%,#ffb200 100.0%)"></div><div style="height:3.00px;background:linear-gradient(90deg,#ffb200 0.0%,#ffb300 19.1%,#ff9b00 22.6%,#ffa200 23.8%,#ffc100 26.3%,#ff9e00 29.0%,#ffb300 31.3%,#ffac00 33.7%,#ffb900 36.5%,#ffad00 39.2%,#ffb700 41.9%,#ffaf00 44.4%,#ffb600 51.6%,#ffae00 54.3%,#ffb800 57.1%,#ffac00 59.6%,#ffb600 62.0%,#ffb000 64.5%,#ffb200 100.0%)"></div><div style="height:3.00px;background:linear-gradient(90deg,#ffb200 0.0%,#ffb300 19.1%,#ff9c00 22.6%,#ffc000 26.3%,#ff9f00 29.0%,#ffb300 31.3%,#ffac00 33.7%,#ffb900 36.5%,#ffad00 39.2%,#ffb700 41.9%,#ffaf00 44.4%,#ffb600 51.6%,#ffae00 54.3%,#ffb800 57.1%,#ffad00 59.6%,#ffb600 62.0%,#ffb000 64.5%,#ffb200 100.0%)"></div><div style="height:3.00px;background:linear-gradient(90deg,#ffb200 0.0%,#ffb200 19.1%,#ff9d00 22.6%,#ffbf00 26.3%,#ffa000 29.0%,#ffb200 31.3%,#ffad00 33.7%,#ffb800 36.2%,#ffad00 39.0%,#ffb700 41.7%,#ffaf00 44.2%,#ffb600 51.9%,#ffae00 54.3%,#ffb700 57.1%,#ffad00 59.8%,#ffb600 62.0%,#ffb000 64.5%,#ffb300 100.0%)"></div><div style="height:3.00px;background:linear-gradient(90deg,#ffb200 0.0%,#ffb200 19.1%,#ff9e00 22.6%,#ffbe00 26.3%,#ffa100 29.0%,#ffb100 31.0%,#ffad00 33.5%,#ffb800 36.2%,#ffae00 39.0%,#ffb700 41.7%,#ffaf00 44.2%,#ffb600 51.9%,#ffae00 54.3%,#ffb700 57.1%,#ffad00 59.8%,#ffb500 62.0%,#ffb000 64.5%,#ffb300 100.0%)"></div><div style="height:3.00px;background:linear-gradient(90deg,#ffb200 0.0%,#ffb200 19.1%,#ff9f00 22.6%,#ffbd00 26.3%,#ffa200 29.0%,#ffb100 31.0%,#ffad00 33.5%,#ffb700 36.0%,#ffae00 38.7%,#ffb700 41.4%,#ffaf00 43.9%,#ffb600 51.9%,#ffaf00 54.6%,#ffb700 57.3%,#ffae00 59.8%,#ffb500 62.3%,#ffb300 100.0%)"></div><div style="height:3.00px;background:linear-gradient(90deg,#ffb200 0.0%,#ffb200 19.1%,#ffa000 22.6%,#ffbc00 26.3%,#ffa200 29.0%,#ffb100 31.0%,#ffad00 33.5%,#ffb700 36.0%,#ffae00 38.7%,#ffb700 41.4%,#ffaf00 43.9%,#ffb600 51.9%,#ffaf00 54.6%,#ffb700 57.1%,#ffae00 59.8%,#ffb500 62.3%,#ffb300 100.0%)"></div><div style="height:3.00px;background:linear-gradient(90deg,#ffb200 0.0%,#ffb200 19.1%,#ffa100 22.6%,#fb0 26.3%,#ffa200 28.8%,#ffb100 31.0%,#ffad00 33.5%,#ffb700 36.0%,#ffae00 38.7%,#ffb700 41.4%,#ffaf00 43.9%,#ffb600 51.9%,#ffaf00 54.6%,#ffb700 57.1%,#ffae00 59.8%,#ffb500 62.3%,#ffb300 100.0%)"></div><div style="height:3.00px;background:linear-gradient(90deg,#ffb200 0.0%,#ffb200 19.1%,#ffa200 22.6%,#fb0 26.3%,#ffa300 28.8%,#ffb100 31.0%,#ffad00 33.5%,#ffb700 36.0%,#ffae00 38.7%,#ffb700 41.4%,#ffaf00 43.9%,#ffb600 51.9%,#ffaf00 54.6%,#ffb700 57.1%,#ffae00 59.8%,#ffb500 62.3%,#ffb300 100.0%)"></div><div style="height:3.00px;background:linear-gradient(90deg,#ffb200 0.0%,#ffb200 19.1%,#ffa200 22.6%,#ffba00 26.3%,#ffa300 28.8%,#ffb100 31.0%,#ffae00 33.5%,#ffb700 36.0%,#ffae00 38.7%,#ffb600 41.2%,#ffaf00 43.9%,#ffb600 51.9%,#ffaf00 54.6%,#ffb700 57.1%,#ffae00 59.8%,#ffb500 62.3%,#ffb300 100.0%)"></div><div style="height:3.00px;background:linear-gradient(90deg,#ffb200 0.0%,#ffb200 19.1%,#ffa300 22.6%,#ffb900 26.3%,#ffa400 28.8%,#ffb100 31.0%,#ffae00 33.3%,#ffb700 35.7%,#ffaf00 38.5%,#ffb600 41.2%,#ffaf00 43.9%,#ffb600 51.9%,#ffaf00 54.6%,#ffb600 57.3%,#ffae00 59.8%,#ffb500 62.3%,#ffb300 100.0%)"></div><div style="height:3.00px;background:linear-gradient(90deg,#ffb200 0.0%,#ffb200 19.1%,#ffa400 22.6%,#ffb900 26.3%,#ffa400 28.8%,#ffb100 31.0%,#ffae00 33.3%,#ffb600 35.7%,#ffaf00 38.5%,#ffb600 41.2%,#ffaf00 43.9%,#ffb500 51.9%,#ffaf00 54.6%,#ffb600 57.3%,#ffaf00 59.8%,#ffb500 62.3%,#ffb300 100.0%)"></div><div style="height:3.00px;background:linear-gradient(90deg,#ffb200 0.0%,#ffb200 19.1%,#ffa400 22.6%,#ffb800 26.3%,#ffa400 28.8%,#ffb000 31.0%,#ffb600 35.7%,#ffaf00 38.5%,#ffb600 40.9%,#ffb000 43.7%,#ffb500 51.9%,#ffb000 54.8%,#ffb600 57.3%,#ffaf00 59.8%,#ffb400 62.3%,#ffb300 100.0%)"></div><div style="height:3.00px;background:linear-gradient(90deg,#ffb200 0.0%,#ffb200 19.1%,#ffa500 22.6%,#ffb800 26.3%,#ffa500 28.8%,#ffb100 31.0%,#ffb600 35.7%,#ffaf00 38.5%,#ffb600 40.9%,#ffb000 43.7%,#ffb500 51.9%,#ffb000 54.8%,#ffb600 57.3%,#ffaf00 59.8%,#ffb400 62.3%,#ffb300 100.0%)"></div><div style="height:3.00px;background:linear-gradient(90deg,#ffb200 0.0%,#ffb200 19.1%,#ffa600 22.6%,#ffb700 26.3%,#ffa500 28.8%,#ffb100 31.0%,#ffb600 35.7%,#ffaf00 38.5%,#ffb600 40.9%,#ffb000 43.7%,#ffb500 51.9%,#ffb000 54.8%,#ffb600 57.3%,#ffaf00 59.8%,#ffb500 62.3%,#ffb300 100.0%)"></div><div style="height:3.00px;background:linear-gradient(90deg,#ffb200 0.0%,#ffb200 19.1%,#ffa600 22.6%,#ffb700 26.3%,#ffa500 28.8%,#ffb100 31.0%,#ffb600 35.7%,#ffaf00 38.5%,#ffb600 40.9%,#ffb000 43.7%,#ffb500 51.9%,#ffb000 54.8%,#ffb600 57.3%,#ffaf00 59.8%,#ffb400 62.3%,#ffb300 100.0%)"></div><div style="height:3.00px;background:linear-gradient(90deg,#ffb300 0.0%,#ffb200 19.1%,#ffa700 22.6%,#ffb600 26.3%,#ffa500 28.8%,#ffb100 31.0%,#ffb600 35.7%,#ffaf00 38.5%,#ffb500 40.9%,#ffb000 43.7%,#ffb300 100.0%)"></div><div style="height:3.00px;background:linear-gradient(90deg,#ffb300 0.0%,#ffb200 19.1%,#ffa700 22.6%,#ffb600 26.3%,#ffa600 28.8%,#ffb100 31.0%,#ffb600 35.7%,#ffb000 38.2%,#ffb500 40.9%,#ffb300 100.0%)"></div><div style="height:3.00px;background:linear-gradient(90deg,#ffb300 0.0%,#ffb200 19.1%,#ffa800 22.6%,#ffb500 26.3%,#ffa600 28.8%,#ffb000 31.0%,#ffb500 35.7%,#ffb000 38.2%,#ffb300 100.0%)"></div><div style="height:3.00px;background:linear-gradient(90deg,#ffb300 0.0%,#ffb200 19.1%,#ffa800 22.6%,#ffb500 26.3%,#ffa600 28.8%,#ffb000 31.0%,#ffb500 35.5%,#ffb000 38.2%,#ffb300 100.0%)"></div><div style="height:3.00px;background:linear-gradient(90deg,#ffb300 0.0%,#ffb200 19.1%,#ffa800 22.6%,#ffb500 26.3%,#ffa600 28.8%,#ffb100 31.0%,#ffb500 35.5%,#ffb000 38.2%,#ffb300 100.0%)"></div><div style="height:3.00px;background:linear-gradient(90deg,#ffb300 0.0%,#ffb200 19.1%,#ffa900 22.6%,#ffb400 26.3%,#ffa600 28.8%,#ffb100 31.0%,#ffb500 35.5%,#ffb000 38.2%,#ffb300 100.0%)"></div><div style="height:3.00px;background:linear-gradient(90deg,#ffb300 0.0%,#ffb200 19.1%,#ffa900 22.6%,#ffb400 26.3%,#ffa700 28.8%,#ffb100 31.0%,#ffb500 35.5%,#ffb300 100.0%)"></div><div style="height:3.00px;background:linear-gradient(90deg,#ffb300 0.0%,#ffb200 19.1%,#ffa900 22.6%,#ffb400 26.1%,#ffa700 28.8%,#ffb500 35.5%,#ffb300 100.0%)"></div><div style="height:3.00px;background:linear-gradient(90deg,#ffb300 0.0%,#ffb200 19.1%,#fa0 22.6%,#ffb400 26.1%,#ffa700 28.8%,#ffb500 35.5%,#ffb300 100.0%)"></div><div style="height:6.00px;background:linear-gradient(90deg,#ffb300 0.0%,#ffb200 19.1%,#fa0 22.6%,#ffb300 26.1%,#ffa700 28.8%,#ffb500 35.5%,#ffb300 100.0%)"></div><div style="height:6.00px;background:linear-gradient(90deg,#ffb300 0.0%,#ffb200 19.1%,#ffab00 22.6%,#ffb300 26.1%,#ffa800 28.8%,#ffb500 35.5%,#ffb300 100.0%)"></div><div style="height:3.00px;background:linear-gradient(90deg,#ffb300 0.0%,#ffb200 19.1%,#ffab00 22.6%,#ffb200 26.1%,#ffa800 28.8%,#ffb400 35.5%,#ffb300 100.0%)"></div><div style="height:3.00px;background:linear-gradient(90deg,#ffb300 0.0%,#ffb200 19.1%,#ffab00 22.6%,#ffb200 26.1%,#ffa800 28.5%,#ffb400 35.5%,#ffb300 100.0%)"></div><div style="height:9.00px;background:linear-gradient(90deg,#ffb300 0.0%,#ffb200 19.1%,#ffac00 22.6%,#ffb200 26.1%,#ffa800 28.5%,#ffb400 35.5%,#ffb300 100.0%)"></div><div style="height:3.00px;background:linear-gradient(90deg,#ffb300 0.0%,#ffb200 19.1%,#ffac00 22.6%,#ffb200 26.1%,#ffa900 28.5%,#ffb400 35.5%,#ffb300 100.0%)"></div><div style="height:3.00px;background:linear-gradient(90deg,#ffb300 0.0%,#ffb200 19.1%,#ffac00 22.6%,#ffb100 26.1%,#ffa900 28.5%,#ffb400 35.5%,#ffb300 100.0%)"></div><div style="height:3.00px;background:linear-gradient(90deg,#ffb300 0.0%,#ffac00 22.6%,#ffb100 25.8%,#ffa900 28.5%,#ffb400 35.5%,#ffb300 100.0%)"></div><div style="height:15.00px;background:linear-gradient(90deg,#ffb300 0.0%,#ffb100 25.8%,#ffa900 28.5%,#ffb400 35.5%,#ffb300 100.0%)"></div><div style="height:12.00px;background:linear-gradient(90deg,#ffb300 0.0%,#ffb100 25.8%,#fa0 28.5%,#ffb400 35.5%,#ffb300 100.0%)"></div><div style="height:3.00px;background:linear-gradient(90deg,#ffb300 0.0%,#ffb100 25.6%,#ffab00 28.5%,#ffb400 35.5%,#ffb300 100.0%)"></div><div style="height:3.00px;background:linear-gradient(90deg,#ffb300 0.0%,#ffb200 25.6%,#ffac00 28.5%,#ffb500 35.5%,#ffb300 100.0%)"></div><div style="height:3.00px;background:linear-gradient(90deg,#ffb400 0.0%,#ffb600 19.1%,#ffae00 28.5%,#ffb700 35.5%,#ffb300 100.0%)"></div><div style="height:3.00px;background:linear-gradient(90deg,#ffb500 0.0%,#ffb900 18.9%,#ffb100 28.5%,#ffba00 35.2%,#ffb900 57.3%,#ffb300 100.0%)"></div><div style="height:3.00px;background:linear-gradient(90deg,#ffb600 0.0%,#fb0 18.9%,#ffb300 28.5%,#ffbc00 35.2%,#ffbc00 57.3%,#ffb300 100.0%)"></div><div style="height:3.00px;background:linear-gradient(90deg,#ffb600 0.0%,#ffbd00 14.4%,#ffb500 28.5%,#ffbe00 35.2%,#ffbe00 57.3%,#ffb300 75.9%,#ffb300 100.0%)"></div><div style="height:3.00px;background:linear-gradient(90deg,#ffb600 0.0%,#ffbe00 14.4%,#ffb600 28.5%,#ffbf00 35.2%,#ffbe00 57.3%,#ffb400 75.9%,#ffb300 100.0%)"></div><div style="height:3.00px;background:linear-gradient(90deg,#ffb600 0.0%,#ffbe00 14.4%,#ffb600 28.5%,#ffbe00 35.2%,#ffbe00 57.3%,#ffb400 75.9%,#ffb300 100.0%)"></div><div style="height:3.00px;background:linear-gradient(90deg,#ffb600 0.0%,#ffbd00 57.3%,#ffb300 100.0%)"></div><div style="height:3.00px;background:linear-gradient(90deg,#ffb500 0.0%,#ffba00 18.9%,#ffb300 28.5%,#fb0 35.2%,#fb0 57.3%,#ffb300 100.0%)"></div><div style="height:3.00px;background:#ffb400"></div><div style="height:3.00px;background:linear-gradient(90deg,#ffb300 0.0%,#ffb500 19.1%,#ffad00 28.3%,#ffb500 35.5%,#ffb300 100.0%)"></div><div style="height:3.00px;background:linear-gradient(90deg,#ffb300 0.0%,#ffb300 19.1%,#ffac00 28.3%,#ffb400 35.5%,#ffb300 100.0%)"></div><div style="height:3.00px;background:linear-gradient(90deg,#ffb300 0.0%,#ffac00 28.3%,#ffb300 35.5%,#ffb300 100.0%)"></div><div style="height:12.00px;background:linear-gradient(90deg,#ffb300 0.0%,#ffab00 28.3%,#ffb300 35.5%,#ffb300 100.0%)"></div><div style="height:15.00px;background:linear-gradient(90deg,#ffb300 0.0%,#ffac00 28.3%,#ffb300 35.5%,#ffb300 100.0%)"></div><div style="height:30.00px;background:linear-gradient(90deg,#ffb300 0.0%,#ffac00 28.3%,#ffb300 35.2%,#ffb300 100.0%)"></div><div style="height:30.00px;background:linear-gradient(90deg,#ffb300 0.0%,#ffad00 28.3%,#ffb300 35.2%,#ffb300 100.0%)"></div><div style="height:3.00px;background:linear-gradient(90deg,#ffb300 0.0%,#ffad00 28.3%,#ffb300 100.0%)"></div><div style="height:18.00px;background:linear-gradient(90deg,#ffb300 0.0%,#ffad00 28.0%,#ffb300 100.0%)"></div><div style="height:63.00px;background:#ffb300"></div><div style="height:3.00px;background:linear-gradient(90deg,#ffb300 0.0%,#ffb900 35.5%,#ffb300 100.0%)"></div><div style="height:3.00px;background:linear-gradient(90deg,#ffb300 0.0%,#ffbc00 35.5%,#ffb300 100.0%)"></div><div style="height:3.00px;background:linear-gradient(90deg,#ffb300 0.0%,#ffbd00 35.5%,#ffb300 63.8%,#ffb300 100.0%)"></div><div style="height:3.00px;background:linear-gradient(90deg,#ffb300 0.0%,#ffbe00 35.5%,#ffb300 63.8%,#ffb300 100.0%)"></div><div style="height:3.00px;background:linear-gradient(90deg,#ffb300 0.0%,#ffbd00 35.5%,#ffb300 63.8%,#ffb300 100.0%)"></div><div style="height:3.00px;background:linear-gradient(90deg,#ffb300 0.0%,#fb0 35.5%,#ffb300 100.0%)"></div><div style="height:3.00px;background:linear-gradient(90deg,#ffb300 0.0%,#ffb800 35.5%,#ffb300 100.0%)"></div><div style="height:39.00px;background:#ffb300"></div></div></div>
<div class="hm" style="left:1020.9px;top:93.7px;width:402.8px;height:595.0px"><div style="margin:-4px 0 0 0;filter:blur(1.2px)"><div style="height:3.00px;background:linear-gradient(90deg,#ffb300 0.0%,#ffad00 18.6%,#ff9a00 20.6%,#ff5300 23.8%,#ff4300 25.3%,#ff5300 26.8%,#ffb600 31.0%,#ffd600 33.5%,#ffe400 37.5%,#ffdf00 44.4%,#ffd500 46.2%,#ffc900 46.7%,#ffb300 46.9%,#ff8300 47.1%,#ff4000 47.4%,#f10 47.6%,#fc0000 47.9%,#fa0000 48.1%,#ff0b00 48.4%,#ff3700 48.6%,#f70 48.9%,#ffa700 49.1%,#ffef00 49.9%,#eaff15 50.1%,#a2ff5d 50.6%,#75ff8a 51.1%,#5cffa3 51.6%,#58ffa7 52.1%,#63ff9c 53.3%,#72ff8d 53.8%,#abff54 54.6%,#fff800 55.3%,#ffde00 55.6%,#ffc500 56.1%,#ffaf00 57.6%,#ff7900 59.1%,#ff6e00 60.8%,#ff7200 68.5%,#ffa400 74.7%,#ffaf00 77.7%,#ffb200 100.0%)"></div><div style="height:3.00px;background:linear-gradient(90deg,#ffb300 0.0%,#ffad00 18.6%,#ff9a00 20.6%,#ff5300 23.8%,#ff4300 25.3%,#ff5300 26.8%,#ffb600 31.0%,#ffd600 33.5%,#ffe400 37.5%,#ffdf00 44.4%,#ffd500 46.2%,#ffc900 46.7%,#ffb300 46.9%,#ff8300 47.1%,#ff4100 47.4%,#f10 47.6%,#fd0000 47.9%,#fb0000 48.1%,#ff0b00 48.4%,#ff3700 48.6%,#f70 48.9%,#ffa700 49.1%,#ffef00 49.9%,#eaff15 50.1%,#a2ff5d 50.6%,#75ff8a 51.1%,#5cffa3 51.6%,#58ffa7 52.1%,#63ff9c 53.3%,#72ff8d 53.8%,#abff54 54.6%,#fff800 55.3%,#ffde00 55.6%,#ffc500 56.1%,#ffaf00 57.6%,#ff7900 59.1%,#ff6e00 60.8%,#ff7200 68.5%,#ffa400 74.7%,#ffaf00 77.7%,#ffb200 100.0%)"></div><div style="height:3.00px;background:linear-gradient(90deg,#ffb300 0.0%,#ffad00 18.6%,#ff9a00 20.6%,#ff5300 23.8%,#ff4300 25.3%,#ff5300 26.8%,#ffb600 31.0%,#ffd600 33.5%,#ffe400 37.5%,#ffdf00 44.4%,#ffd500 46.2%,#ffc900 46.7%,#ffb300 46.9%,#ff8300 47.1%,#ff4100 47.4%,#f10 47.6%,#fd0000 47.9%,#fb0000 48.1%,#ff0c00 48.4%,#ff3800 48.6%,#ff7800 48.9%,#ffa700 49.1%,#ffef00 49.9%,#eaff15 50.1%,#a2ff5d 50.6%,#75ff8a 51.1%,#5cffa3 51.6%,#58ffa7 52.1%,#63ff9c 53.3%,#72ff8d 53.8%,#abff54 54.6%,#fff800 55.3%,#ffde00 55.6%,#ffc500 56.1%,#ffaf00 57.6%,#ff7900 59.1%,#ff6e00 60.8%,#ff7200 68.5%,#ffa400 74.7%,#ffaf00 77.7%,#ffb200 100.0%)"></div><div style="height:3.00px;background:linear-gradient(90deg,#ffb300 0.0%,#ffad00 18.6%,#ff9a00 20.6%,#ff5300 23.8%,#ff4300 25.3%,#ff5300 26.8%,#ffb600 31.0%,#ffd600 33.5%,#ffe400 37.5%,#ffdf00 44.4%,#ffd500 46.2%,#ffc900 46.7%,#ffb300 46.9%,#ff8300 47.1%,#ff4100 47.4%,#ff1200 47.6%,#fd0000 47.9%,#fb0000 48.1%,#ff0c00 48.4%,#ff3800 48.6%,#ff7800 48.9%,#ffa700 49.1%,#ffef00 49.9%,#eaff15 50.1%,#a2ff5d 50.6%,#75ff8a 51.1%,#5cffa3 51.6%,#58ffa7 52.1%,#63ff9c 53.3%,#72ff8d 53.8%,#abff54 54.6%,#fff800 55.3%,#ffde00 55.6%,#ffc500 56.1%,#ffaf00 57.6%,#ff7900 59.1%,#ff6e00 60.8%,#ff7200 68.5%,#ffa400 74.7%,#ffaf00 77.7%,#ffb200 100.0%)"></div><div style="height:3.00px;background:linear-gradient(90deg,#ffb200 0.0%,#ffad00 18.6%,#ff9a00 20.6%,#ff5300 23.8%,#ff4300 25.3%,#ff5300 26.8%,#ffb600 31.0%,#ffd600 33.5%,#ffe400 37.5%,#ffdf00 44.4%,#ffd500 46.2%,#ffc900 46.7%,#ffb400 46.9%,#ff8300 47.1%,#ff4100 47.4%,#ff1200 47.6%,#fd0000 47.9%,#fb0000 48.1%,#ff0c00 48.4%,#ff3800 48.6%,#ff7800 48.9%,#ffa700 49.1%,#ffef00 49.9%,#eaff15 50.1%,#a2ff5d 50.6%,#75ff8a 51.1%,#5cffa3 51.6%,#58ffa7 52.1%,#63ff9c 53.3%,#72ff8d 53.8%,#abff54 54.6%,#fff800 55.3%,#ffde00 55.6%,#ffc500 56.1%,#ffaf00 57.6%,#ff7900 59.1%,#ff6e00 60.8%,#ff7200 68.5%,#ffa400 74.7%,#ffaf00 77.7%,#ffb200 100.0%)"></div><div style="height:3.00px;background:linear-gradient(90deg,#ffb200 0.0%,#ffad00 18.6%,#ff9a00 20.6%,#ff5300 23.8%,#ff4300 25.3%,#ff5300 26.8%,#ffb600 31.0%,#ffd600 33.5%,#ffe400 37.5%,#ffdf00 44.4%,#ffd500 46.2%,#ffc900 46.7%,#ffb400 46.9%,#ff8400 47.1%,#ff4100 47.4%,#ff1200 47.6%,#fe0000 47.9%,#fc0000 48.1%,#ff0c00 48.4%,#ff3800 48.6%,#ff7800 48.9%,#ffa700 49.1%,#ffef00 49.9%,#eaff15 50.1%,#a2ff5d 50.6%,#75ff8a 51.1%,#5cffa3 51.6%,#58ffa7 52.1%,#63ff9c 53.3%,#72ff8d 53.8%,#abff54 54.6%,#fff800 55.3%,#ffde00 55.6%,#ffc500 56.1%,#ffaf00 57.6%,#ff7900 59.1%,#ff6e00 60.8%,#ff7200 68.5%,#ffa400 74.7%,#ffaf00 77.7%,#ffb200 100.0%)"></div><div style="height:3.00px;background:linear-gradient(90deg,#ffb200 0.0%,#ffad00 18.6%,#ff9a00 20.6%,#ff5300 23.8%,#ff4300 25.3%,#ff5300 26.8%,#ffb600 31.0%,#ffd600 33.5%,#ffe400 37.5%,#ffdf00 44.4%,#ffd500 46.2%,#ffc900 46.7%,#ffb400 46.9%,#ff8400 47.1%,#ff4200 47.4%,#ff1200 47.6%,#fe0000 47.9%,#fc0000 48.1%,#ff0d00 48.4%,#ff3800 48.6%,#ff7800 48.9%,#ffa700 49.1%,#ffef00 49.9%,#eaff15 50.1%,#a2ff5d 50.6%,#75ff8a 51.1%,#5cffa3 51.6%,#58ffa7 52.1%,#63ff9c 53.3%,#72ff8d 53.8%,#abff54 54.6%,#fff800 55.3%,#ffde00 55.6%,#ffc500 56.1%,#ffaf00 57.6%,#ff7900 59.1%,#ff6e00 60.8%,#ff7200 68.5%,#ffa400 74.7%,#ffaf00 77.7%,#ffb200 100.0%)"></div><div style="height:6.00px;background:linear-gradient(90deg,#ffb200 0.0%,#ffad00 18.6%,#ff9a00 20.6%,#ff5300 23.8%,#ff4300 25.3%,#ff5300 26.8%,#ffb600 31.0%,#ffd600 33.5%,#ffe400 37.5%,#ffdf00 44.4%,#ffd500 46.2%,#ffc900 46.7%,#ffb400 46.9%,#ff8400 47.1%,#ff4200 47.4%,#ff1300 47.6%,#fe0000 47.9%,#fc0000 48.1%,#ff0d00 48.4%,#ff3900 48.6%,#ff7800 48.9%,#ffa700 49.1%,#ffef00 49.9%,#eaff15 50.1%,#a2ff5d 50.6%,#75ff8a 51.1%,#5cffa3 51.6%,#58ffa7 52.1%,#63ff9c 53.3%,#72ff8d 53.8%,#abff54 54.6%,#fff800 55.3%,#ffde00 55.6%,#ffc500 56.1%,#ffaf00 57.6%,#ff7900 59.1%,#ff6e00 60.8%,#ff7200 68.5%,#ffa400 74.7%,#ffaf00 77.7%,#ffb200 100.0%)"></div><div style="height:3.00px;background:linear-gradient(90deg,#ffb200 0.0%,#ffad00 18.6%,#ff9a00 20.6%,#ff5300 23.8%,#ff4300 25.3%,#ff5300 26.8%,#ffb600 31.0%,#ffd600 33.5%,#ffe400 37.5%,#ffdf00 44.4%,#ffd500 46.2%,#ffc900 46.7%,#ffb400 46.9%,#ff8400 47.1%,#ff4200 47.4%,#ff1300 47.6%,#f00 47.9%,#fd0000 48.1%,#ff0d00 48.4%,#ff3900 48.6%,#ff7800 48.9%,#ffa700 49.1%,#ffef00 49.9%,#eaff15 50.1%,#a2ff5d 50.6%,#75ff8a 51.1%,#5cffa3 51.6%,#58ffa7 52.1%,#63ff9c 53.3%,#72ff8d 53.8%,#abff54 54.6%,#fff800 55.3%,#ffde00 55.6%,#ffc500 56.1%,#ffaf00 57.6%,#ff7900 59.1%,#ff6e00 60.8%,#ff7200 68.5%,#ffa400 74.7%,#ffaf00 77.7%,#ffb200 100.0%)"></div><div style="height:3.00px;background:linear-gradient(90deg,#ffb200 0.0%,#ffad00 18.6%,#ff9a00 20.6%,#ff5300 23.8%,#ff4300 25.3%,#ff5300 26.8%,#ffb600 31.0%,#ffd600 33.5%,#ffe400 37.5%,#ffdf00 44.4%,#ffd500 46.2%,#ffc900 46.7%,#ffb400 46.9%,#ff8400 47.1%,#ff4200 47.4%,#ff1300 47.6%,#f00 47.9%,#fd0000 48.1%,#ff0e00 48.4%,#ff3900 48.6%,#ff7800 48.9%,#ffa700 49.1%,#ffef00 49.9%,#eaff15 50.1%,#a2ff5d 50.6%,#75ff8a 51.1%,#5cffa3 51.6%,#58ffa7 52.1%,#63ff9c 53.3%,#72ff8d 53.8%,#abff54 54.6%,#fff800 55.3%,#ffde00 55.6%,#ffc500 56.1%,#ffaf00 57.6%,#ff7900 59.1%,#ff6e00 60.8%,#ff7200 68.5%,#ffa400 74.7%,#ffaf00 77.7%,#ffb200 100.0%)"></div><div style="height:3.00px;background:linear-gradient(90deg,#ffb200 0.0%,#ffad00 18.6%,#ff9a00 20.6%,#ff5300 23.8%,#ff4300 25.3%,#ff5300 26.8%,#ffb600 31.0%,#ffd600 33.5%,#ffe400 37.5%,#ffdf00 44.4%,#ffd500 46.2%,#ffc900 46.7%,#ffb400 46.9%,#ff8400 47.1%,#ff4200 47.4%,#ff1400 47.6%,#f00 47.9%,#fd0000 48.1%,#ff0e00 48.4%,#ff3900 48.6%,#ff7800 48.9%,#ffa700 49.1%,#ffef00 49.9%,#eaff15 50.1%,#a2ff5d 50.6%,#75ff8a 51.1%,#5cffa3 51.6%,#58ffa7 52.1%,#63ff9c 53.3%,#72ff8d 53.8%,#abff54 54.6%,#fff800 55.3%,#ffde00 55.6%,#ffc500 56.1%,#ffaf00 57.6%,#ff7900 59.1%,#ff6e00 60.8%,#ff7200 68.5%,#ffa400 74.7%,#ffaf00 77.7%,#ffb200 100.0%)"></div><div style="height:3.00px;background:linear-gradient(90deg,#ffb200 0.0%,#ffad00 18.6%,#ff9a00 20.6%,#ff5300 23.8%,#ff4300 25.3%,#ff5300 26.8%,#ffb600 31.0%,#ffd600 33.5%,#ffe400 37.5%,#ffdf00 44.4%,#ffd500 46.2%,#ffc900 46.7%,#ffb400 46.9%,#ff8400 47.1%,#ff4300 47.4%,#ff1400 47.6%,#ff0100 47.9%,#fe0000 48.1%,#ff0e00 48.4%,#ff3900 48.6%,#ff7900 48.9%,#ffa700 49.1%,#ffef00 49.9%,#eaff15 50.1%,#a2ff5d 50.6%,#75ff8a 51.1%,#5cffa3 51.6%,#58ffa7 52.1%,#63ff9c 53.3%,#72ff8d 53.8%,#abff54 54.6%,#fff800 55.3%,#ffde00 55.6%,#ffc500 56.1%,#ffaf00 57.6%,#ff7900 59.1%,#ff6e00 60.8%,#ff7200 68.5%,#ffa400 74.7%,#ffaf00 77.7%,#ffb200 100.0%)"></div><div style="height:3.00px;background:linear-gradient(90deg,#ffb200 0.0%,#ffad00 18.6%,#ff9a00 20.6%,#ff5300 23.8%,#ff4300 25.3%,#ff5300 26.8%,#ffb600 31.0%,#ffd600 33.5%,#ffe400 37.5%,#ffdf00 44.4%,#ffd500 46.2%,#ffc900 46.7%,#ffb400 46.9%,#ff8400 47.1%,#ff4300 47.4%,#ff1400 47.6%,#ff0100 47.9%,#fe0000 48.1%,#ff0e00 48.4%,#ff3a00 48.6%,#ff7900 48.9%,#ffa700 49.1%,#ffef00 49.9%,#eaff15 50.1%,#a2ff5d 50.6%,#75ff8a 51.1%,#5cffa3 51.6%,#58ffa7 52.1%,#63ff9c 53.3%,#72ff8d 53.8%,#abff54 54.6%,#fff800 55.3%,#ffde00 55.6%,#ffc500 56.1%,#ffaf00 57.6%,#ff7900 59.1%,#ff6e00 60.8%,#ff7200 68.5%,#ffa400 74.7%,#ffaf00 77.7%,#ffb200 100.0%)"></div><div style="height:3.00px;background:linear-gradient(90deg,#ffb200 0.0%,#ffad00 18.6%,#ff9a00 20.6%,#ff5300 23.8%,#ff4300 25.3%,#ff5300 26.8%,#ffb600 31.0%,#ffd600 33.5%,#ffe400 37.5%,#ffdf00 44.4%,#ffd500 46.2%,#ffc900 46.7%,#ffb400 46.9%,#ff8400 47.1%,#ff4300 47.4%,#ff1400 47.6%,#ff0100 47.9%,#fe0000 48.1%,#ff0e00 48.4%,#ff3a00 48.6%,#ff7900 48.9%,#ffa800 49.1%,#ffef00 49.9%,#eaff15 50.1%,#a2ff5d 50.6%,#75ff8a 51.1%,#5cffa3 51.6%,#58ffa7 52.1%,#63ff9c 53.3%,#72ff8d 53.8%,#abff54 54.6%,#fff800 55.3%,#ffde00 55.6%,#ffc500 56.1%,#ffae00 57.6%,#ff7900 59.1%,#ff6e00 60.8%,#ff7200 68.5%,#ffa400 74.7%,#ffaf00 77.7%,#ffb200 100.0%)"></div><div style="height:3.00px;background:linear-gradient(90deg,#ffb200 0.0%,#ffad00 18.6%,#ff9a00 20.6%,#ff5300 23.8%,#ff4300 25.3%,#ff5200 26.8%,#ffb600 31.0%,#ffd600 33.5%,#ffe400 37.5%,#ffdf00 44.4%,#ffd500 46.2%,#ffc900 46.7%,#ffb400 46.9%,#ff8500 47.1%,#ff4300 47.4%,#ff1500 47.6%,#ff0100 47.9%,#fe0000 48.1%,#ff0f00 48.4%,#ff3a00 48.6%,#ff7900 48.9%,#ffa800 49.1%,#ffef00 49.9%,#eaff15 50.1%,#a2ff5d 50.6%,#75ff8a 51.1%,#5cffa3 51.6%,#58ffa7 52.1%,#63ff9c 53.3%,#72ff8d 53.8%,#abff54 54.6%,#fff800 55.3%,#ffde00 55.6%,#ffc500 56.1%,#ffae00 57.6%,#ff7900 59.1%,#ff6d00 60.8%,#ff7200 68.5%,#ffa400 74.7%,#ffaf00 77.7%,#ffb200 100.0%)"></div><div style="height:3.00px;background:linear-gradient(90deg,#ffb200 0.0%,#ffad00 18.6%,#f90 20.6%,#ff5200 23.8%,#ff4200 25.3%,#ff5200 26.8%,#ffb200 30.8%,#ffd600 33.5%,#ffe400 37.5%,#ffdf00 44.4%,#ffd500 46.2%,#ffc900 46.7%,#ffb400 46.9%,#ff8500 47.1%,#ff4300 47.4%,#ff1500 47.6%,#ff0200 47.9%,#f00 48.1%,#ff0f00 48.4%,#ff3a00 48.6%,#ff7900 48.9%,#ffa800 49.1%,#ffef00 49.9%,#eaff15 50.1%,#a2ff5d 50.6%,#75ff8a 51.1%,#5cffa3 51.6%,#58ffa7 52.1%,#63ff9c 53.3%,#72ff8d 53.8%,#abff54 54.6%,#fff800 55.3%,#ffde00 55.6%,#ffc500 56.1%,#ffae00 57.6%,#ff7900 59.1%,#ff6d00 60.8%,#ff7200 68.5%,#ffa400 74.7%,#ffaf00 77.7%,#ffb200 100.0%)"></div><div style="height:3.00px;background:linear-gradient(90deg,#ffb200 0.0%,#ffac00 18.6%,#f90 20.6%,#ff5100 23.8%,#ff4200 25.3%,#ff5200 26.8%,#ffb200 30.8%,#ffd600 33.5%,#ffe400 37.5%,#ffdf00 44.4%,#ffd500 46.2%,#ffc900 46.7%,#ffb400 46.9%,#ff8500 47.1%,#f40 47.4%,#ff1500 47.6%,#ff0200 47.9%,#f00 48.1%,#ff0f00 48.4%,#ff3a00 48.6%,#ff7900 48.9%,#ffa800 49.1%,#ffef00 49.9%,#eaff15 50.1%,#a2ff5d 50.6%,#75ff8a 51.1%,#5cffa3 51.6%,#58ffa7 52.1%,#63ff9c 53.3%,#73ff8c 53.8%,#abff54 54.6%,#e6ff19 55.1%,#fff700 55.3%,#fd0 55.6%,#ffc400 56.1%,#ffac00 57.6%,#f70 59.1%,#ff6b00 60.8%,#ff7100 68.5%,#ffa300 74.4%,#ffaf00 77.4%,#ffb200 100.0%)"></div><div style="height:3.00px;background:linear-gradient(90deg,#ffb200 0.0%,#ffa900 18.6%,#ff9600 20.6%,#ff4f00 23.8%,#ff3f00 25.3%,#ff5000 26.8%,#ffb200 30.8%,#ffd600 33.5%,#ffe400 37.5%,#ffdf00 44.4%,#ffd500 46.2%,#ffc900 46.7%,#ffb400 46.9%,#ff8500 47.1%,#f40 47.4%,#ff1500 47.6%,#ff0200 47.9%,#f00 48.1%,#ff0f00 48.4%,#ff3b00 48.6%,#ff7900 48.9%,#ffa800 49.1%,#ffef00 49.9%,#eaff15 50.1%,#a2ff5d 50.6%,#76ff89 51.1%,#5effa1 51.6%,#5affa5 52.1%,#65ff9a 53.3%,#75ff8a 53.8%,#adff52 54.6%,#e7ff18 55.1%,#fff500 55.3%,#ffdb00 55.6%,#ffc100 56.1%,#ffa800 57.6%,#ff7200 59.1%,#f60 60.8%,#ff6b00 68.0%,#ffa300 74.4%,#ffaf00 77.4%,#ffb200 100.0%)"></div><div style="height:3.00px;background:linear-gradient(90deg,#ffb100 0.0%,#ffa300 18.6%,#ff9000 20.6%,#ff4900 23.8%,#ff3a00 25.3%,#ff4b00 26.8%,#ffb100 30.8%,#ffd600 33.5%,#ffe400 37.5%,#ffe000 44.4%,#ffd500 46.2%,#ffc900 46.7%,#ffb400 46.9%,#ff8500 47.1%,#f40 47.4%,#ff1600 47.6%,#ff0200 47.9%,#f00 48.1%,#ff1000 48.4%,#ff3b00 48.6%,#ff7900 48.9%,#ffa800 49.1%,#fff000 49.9%,#eaff15 50.1%,#a2ff5d 50.6%,#7aff85 51.1%,#6f9 51.6%,#63ff9c 52.1%,#6eff91 53.3%,#7dff82 53.8%,#b0ff4f 54.6%,#ebff14 55.1%,#fff100 55.3%,#ffd600 55.6%,#ffba00 56.1%,#ff9800 57.8%,#ff6800 59.1%,#ff5b00 60.8%,#ff6100 67.7%,#ff9f00 73.9%,#ffae00 77.2%,#ffb200 100.0%)"></div><div style="height:3.00px;background:linear-gradient(90deg,#ffb000 0.0%,#ffa100 5.2%,#ff9a00 18.6%,#ff8700 20.6%,#ff4000 23.8%,#ff3100 25.3%,#f40 26.8%,#ffb100 30.8%,#ffd600 33.3%,#ffe600 37.2%,#ffe200 44.4%,#ffda00 45.9%,#ffcb00 46.7%,#ffb500 46.9%,#ff8600 47.1%,#ff4500 47.4%,#ff1600 47.6%,#ff0300 47.9%,#ff0100 48.1%,#ff1000 48.4%,#ff3b00 48.6%,#ff7a00 48.9%,#ffa800 49.1%,#fff300 49.9%,#e5ff1a 50.1%,#9fff60 50.6%,#8bff74 50.9%,#7f8 51.4%,#73ff8c 51.9%,#80ff7f 53.3%,#94ff6b 54.1%,#b2ff4d 54.6%,#ecff13 55.1%,#fe0 55.3%,#ffd000 55.6%,#ffb100 56.1%,#ff8900 57.8%,#ff5f00 58.8%,#ff5000 59.6%,#ff4b00 60.8%,#ff4a00 65.0%,#ff5200 67.5%,#ff9a00 73.4%,#ffae00 76.9%,#ffb200 100.0%)"></div><div style="height:3.00px;background:linear-gradient(90deg,#ffaf00 0.0%,#ff9b00 5.5%,#ff9300 18.6%,#ff8000 20.6%,#ff3a00 23.8%,#ff2b00 25.3%,#ff3100 26.1%,#ff4500 27.0%,#ffa000 29.5%,#ffba00 30.5%,#ffe500 33.3%,#fff800 37.2%,#fff600 44.7%,#fff200 45.7%,#ffd800 46.7%,#ffc000 46.9%,#ff8f00 47.1%,#ff4c00 47.4%,#ff1b00 47.6%,#ff0500 47.9%,#ff0100 48.1%,#ff1000 48.4%,#ff3b00 48.6%,#ff7b00 48.9%,#ffab00 49.1%,#fdff02 49.9%,#a9ff56 50.4%,#8aff75 50.6%,#6eff91 51.1%,#69ff96 51.6%,#78ff87 53.3%,#91ff6e 54.3%,#baff45 54.8%,#fff800 55.3%,#ffd500 55.6%,#fb0 55.8%,#ffa100 56.3%,#ff7d00 57.8%,#ff4b00 59.1%,#ff3e00 61.0%,#ff4500 67.2%,#ff9500 73.0%,#ffad00 76.7%,#ffb200 100.0%)"></div><div style="height:3.00px;background:linear-gradient(90deg,#ffae00 0.0%,#ff9800 5.2%,#ff8f00 18.9%,#ff7900 20.8%,#ff3200 24.1%,#ff2800 25.3%,#ff2e00 26.1%,#ff4200 27.0%,#ffc900 29.5%,#ff0 31.8%,#e4ff1b 33.7%,#d4ff2b 36.0%,#c6ff39 43.4%,#caff35 45.7%,#ff0 46.7%,#ffe100 46.9%,#ffa800 47.1%,#ff5e00 47.4%,#ff2700 47.6%,#ff0b00 47.9%,#ff0100 48.1%,#ff0f00 48.4%,#ff3a00 48.6%,#ff7a00 48.9%,#ffab00 49.1%,#ffe500 49.6%,#f5ff0a 49.9%,#a9ff56 50.4%,#8fff70 50.6%,#7bff84 51.1%,#79ff86 51.6%,#8f7 53.3%,#9eff61 54.3%,#bfff40 54.8%,#fffa00 55.3%,#ffb700 55.8%,#ff9800 56.3%,#ff7200 57.8%,#ff4500 59.1%,#ff3800 61.0%,#ff3800 65.0%,#ff4000 67.2%,#ff9200 72.7%,#ffac00 76.4%,#ffb200 100.0%)"></div><div style="height:3.00px;background:linear-gradient(90deg,#ffae00 0.0%,#ff9700 5.5%,#ff8e00 18.9%,#ff7800 20.8%,#ff3100 24.1%,#ff2700 25.3%,#ff2d00 26.1%,#ff4100 27.0%,#ffd900 29.5%,#ff0 31.0%,#e2ff1d 33.0%,#ceff31 35.7%,#b9ff46 44.4%,#baff45 45.7%,#d4ff2b 46.2%,#f8ff07 46.7%,#ffe500 46.9%,#fa0 47.1%,#ff5e00 47.4%,#ff2500 47.6%,#ff0700 47.9%,#f90000 48.1%,#ff0800 48.4%,#ff3400 48.6%,#ff7400 48.9%,#ffa600 49.1%,#fffc00 49.9%,#e2ff1d 50.1%,#c8ff37 50.4%,#afff50 50.9%,#adff52 51.9%,#c8ff37 54.1%,#d9ff26 54.6%,#fffd00 55.1%,#ff9f00 55.8%,#ff7f00 56.3%,#ff4000 59.1%,#ff3700 60.8%,#ff3600 65.0%,#ff3e00 67.2%,#ff9200 72.7%,#ffac00 76.4%,#ffb200 100.0%)"></div><div style="height:3.00px;background:linear-gradient(90deg,#ffae00 0.0%,#ff9600 5.5%,#ff8e00 18.9%,#ff7c00 20.6%,#ff3500 23.8%,#ff2700 25.3%,#ff2c00 26.1%,#ff4000 27.0%,#ffd800 29.5%,#ff0 31.3%,#eaff15 33.3%,#d7ff28 37.0%,#c4ff3b 45.7%,#edff12 46.4%,#fffd00 46.7%,#ffdc00 46.9%,#ffa200 47.1%,#ff5600 47.4%,#ff1d00 47.6%,#f00 47.9%,#f20000 48.1%,#ff0100 48.4%,#ff2e00 48.6%,#ff6f00 48.9%,#ffa100 49.1%,#fff600 49.9%,#eaff15 50.1%,#c5ff3a 50.6%,#bf4 51.6%,#d2ff2d 53.8%,#deff21 54.3%,#f9ff06 54.8%,#ffec00 55.1%,#ff8a00 55.8%,#ff7600 56.1%,#ff6000 56.6%,#ff4100 58.6%,#ff3600 60.8%,#ff3600 65.0%,#ff3e00 67.2%,#ff9200 72.7%,#ffac00 76.4%,#ffb200 100.0%)"></div><div style="height:3.00px;background:linear-gradient(90deg,#ffae00 0.0%,#ff9700 5.5%,#ff8e00 18.9%,#ff7c00 20.6%,#ff3500 23.8%,#ff2700 25.3%,#ff2c00 26.1%,#ff4000 27.0%,#ffd800 29.5%,#fffe00 31.3%,#edff12 33.3%,#dbff24 37.0%,#c7ff38 45.7%,#f0ff0f 46.4%,#fffa00 46.7%,#ffda00 46.9%,#ffa000 47.1%,#ff5400 47.4%,#ff1c00 47.6%,#fd0000 47.9%,#f00000 48.1%,#f00 48.4%,#ff2d00 48.6%,#ff6e00 48.9%,#ffa000 49.1%,#fff400 49.9%,#ecff13 50.1%,#c7ff38 50.6%,#bdff42 51.6%,#d4ff2b 53.8%,#e1ff1e 54.3%,#fcff03 54.8%,#ffe800 55.1%,#ff8600 55.8%,#ff7100 56.1%,#ff5b00 56.6%,#ff4100 58.3%,#ff3700 60.8%,#ff3600 65.0%,#ff3e00 67.2%,#ff9200 72.7%,#ffac00 76.4%,#ffb200 100.0%)"></div><div style="height:3.00px;background:linear-gradient(90deg,#ffae00 0.0%,#ff9800 5.2%,#ff8f00 18.9%,#ff7d00 20.6%,#ff3600 23.8%,#ff2800 25.3%,#ff2d00 26.1%,#ff4100 27.0%,#ffd800 29.5%,#fffe00 31.3%,#edff12 33.3%,#dbff24 37.0%,#c7ff38 45.7%,#f0ff0f 46.4%,#fffa00 46.7%,#ffda00 46.9%,#ff9f00 47.1%,#ff5400 47.4%,#ff1b00 47.6%,#fd0000 47.9%,#f00000 48.1%,#f00 48.4%,#ff2d00 48.6%,#ff6e00 48.9%,#ff9f00 49.1%,#fff400 49.9%,#ecff13 50.1%,#c8ff37 50.6%,#beff41 51.6%,#d5ff2a 53.8%,#e1ff1e 54.3%,#fcff03 54.8%,#ffe800 55.1%,#ff8600 55.8%,#ff7200 56.1%,#ff5d00 56.6%,#ff4500 58.1%,#ff3a00 60.8%,#ff3900 65.0%,#ff4100 67.2%,#ff9200 72.7%,#ffad00 76.4%,#ffb300 100.0%)"></div><div style="height:3.00px;background:linear-gradient(90deg,#ffaf00 0.0%,#ff9c00 5.0%,#ff8c00 18.6%,#ff7800 20.6%,#ff3200 23.8%,#ff2300 25.3%,#ff2900 26.1%,#ff3f00 27.0%,#ffda00 29.5%,#ffec00 30.0%,#feff01 31.0%,#e9ff16 33.0%,#d6ff29 37.0%,#c3ff3c 45.7%,#dbff24 46.2%,#ff0 46.7%,#ffdc00 46.9%,#ffa000 47.1%,#ff5400 47.4%,#ff1b00 47.6%,#fc0000 47.9%,#f00000 48.1%,#fe0000 48.4%,#ff2b00 48.6%,#ff6b00 48.9%,#ff9c00 49.1%,#ffef00 49.9%,#f2ff0d 50.1%,#ceff31 50.6%,#c5ff3a 51.6%,#dcff23 53.8%,#e8ff17 54.3%,#fffc00 54.8%,#ffe400 55.1%,#ff8500 55.8%,#ff6500 56.3%,#ff4a00 57.8%,#ff3e00 60.5%,#ff3d00 64.8%,#f40 67.2%,#ff9500 72.7%,#ffae00 76.4%,#ffb300 100.0%)"></div><div style="height:3.00px;background:linear-gradient(90deg,#ffb000 0.0%,#ff9e00 6.5%,#ff7b00 9.2%,#ff6e00 12.2%,#ff4f00 15.9%,#ff4300 16.9%,#ff1a00 18.6%,#f00 20.3%,#b50000 23.8%,#ab0000 24.8%,#ba0000 25.8%,#ce0000 26.3%,#f90000 27.0%,#ff1000 27.3%,#ffa700 29.0%,#ffc800 29.3%,#fffe00 29.5%,#cbff34 29.8%,#abff54 30.0%,#9dff62 30.3%,#81ff7e 31.8%,#65ff9a 37.0%,#58ffa7 44.4%,#57ffa8 45.7%,#6cff93 46.2%,#7eff81 46.4%,#a0ff5f 46.7%,#e4ff1b 46.9%,#ffb600 47.1%,#ff5400 47.4%,#ff1400 47.6%,#f30000 47.9%,#e30000 48.1%,#e90000 48.4%,#ff0a00 48.6%,#ff3e00 48.9%,#ff6400 49.1%,#ffba00 50.1%,#ffd800 50.6%,#fd0 51.1%,#ffd100 51.9%,#f80 54.6%,#f60 55.1%,#ff1600 55.8%,#fc0000 56.3%,#e80000 58.1%,#e20000 62.3%,#e50000 66.3%,#f90000 68.0%,#ff0100 68.2%,#ff3400 69.7%,#ff5300 71.0%,#ff9b00 72.5%,#ffa900 73.2%,#ffb200 74.4%,#fb0 77.4%,#ffbd00 83.9%,#ffb300 100.0%)"></div><div style="height:3.00px;background:linear-gradient(90deg,#ffb100 0.0%,#ffa200 6.5%,#ff9400 7.2%,#ff5300 9.2%,#ff3500 12.2%,#f00 14.9%,#d00 16.6%,#850000 18.4%,#800000 18.6%,#800000 26.8%,#f60000 27.8%,#ff1300 28.0%,#ff7e00 29.0%,#ffb600 29.3%,#e1ff1e 29.5%,#71ff8e 29.8%,#32ffcd 30.0%,#18ffe7 30.3%,#01fffe 31.0%,#00eaff 33.5%,#00d4ff 34.5%,#0098ff 36.0%,#008bff 38.0%,#008eff 44.9%,#009fff 45.7%,#00beff 46.2%,#00dbff 46.4%,#17ffe8 46.7%,#8eff71 46.9%,#ffd300 47.1%,#ff5300 47.4%,#ff0900 47.6%,#e50000 47.9%,#d20000 48.1%,#c00 48.4%,#dc0000 48.6%,#fe0000 48.9%,#ff1500 49.1%,#ff3d00 50.6%,#ff3200 51.4%,#f00 52.4%,#c90000 53.3%,#a10000 54.8%,#800000 55.6%,#800000 68.0%,#870000 68.2%,#e00000 69.7%,#ff0500 70.7%,#ff2000 71.2%,#ff8c00 72.2%,#ff9f00 72.5%,#ffb300 73.0%,#ffc000 74.2%,#ffca00 77.7%,#ffca00 87.6%,#ffb500 94.8%,#ffb300 100.0%)"></div><div style="height:3.00px;background:linear-gradient(90deg,#ffb200 0.0%,#ffaf00 5.0%,#ffa700 6.5%,#ff9800 7.2%,#f50 9.2%,#ff3900 11.9%,#fc0000 14.9%,#d90000 16.6%,#800000 18.4%,#800000 26.8%,#960000 27.0%,#f00000 27.8%,#ff0c00 28.0%,#f50 28.8%,#ff7300 29.0%,#ffac00 29.3%,#e8ff17 29.5%,#74ff8b 29.8%,#32ffcd 30.0%,#17ffe8 30.3%,#01fffe 31.0%,#00e6ff 33.5%,#00c8ff 34.2%,#009dff 34.7%,#0036ff 35.7%,#0015ff 36.5%,#000aff 38.0%,#000aff 43.4%,#0013ff 44.7%,#0030ff 45.4%,#005cff 45.9%,#007cff 46.2%,#00a7ff 46.4%,#00f1ff 46.7%,#7f8 46.9%,#ffdf00 47.1%,#ff5800 47.4%,#ff0b00 47.6%,#e60000 47.9%,#d20000 48.1%,#ca0000 48.4%,#d80000 48.6%,#f80000 48.9%,#ff0b00 49.1%,#fe0000 50.9%,#e70000 51.6%,#8f0000 53.1%,#800000 53.6%,#800000 68.0%,#820000 68.2%,#dc0000 69.7%,#fe0000 70.7%,#ff1c00 71.2%,#ff8c00 72.2%,#ff9f00 72.5%,#ffb300 73.0%,#ffc100 74.2%,#ffcb00 77.9%,#ffcb00 87.8%,#ffb500 94.8%,#ffb300 100.0%)"></div><div style="height:3.00px;background:linear-gradient(90deg,#ffb200 0.0%,#ffb100 5.0%,#ffa900 6.5%,#ff9a00 7.2%,#ff5700 9.2%,#ff3800 12.2%,#fe0000 14.9%,#db0000 16.6%,#800000 18.4%,#800000 26.8%,#f00000 27.8%,#ff0d00 28.0%,#f50 28.8%,#ff7300 29.0%,#ffac00 29.3%,#e9ff16 29.5%,#74ff8b 29.8%,#32ffcd 30.0%,#18ffe7 30.3%,#06fff9 30.8%,#00fdff 31.3%,#00e7ff 33.5%,#00d7ff 34.0%,#00b5ff 34.5%,#0048ff 35.5%,#0023ff 36.0%,#000dff 36.7%,#0005ff 38.2%,#0006ff 43.7%,#0015ff 44.9%,#002dff 45.4%,#005aff 45.9%,#007aff 46.2%,#00a6ff 46.4%,#00f0ff 46.7%,#76ff89 46.9%,#ffdf00 47.1%,#ff5800 47.4%,#ff0b00 47.6%,#e60000 47.9%,#d20000 48.1%,#ca0000 48.4%,#d80000 48.6%,#f70000 48.9%,#ff0a00 49.1%,#f00 49.9%,#f00000 50.9%,#d90000 51.6%,#820000 53.1%,#800000 53.3%,#800000 68.0%,#850000 68.2%,#d00 69.7%,#f00 70.7%,#ff1c00 71.2%,#ff8c00 72.2%,#ff9f00 72.5%,#ffb400 73.0%,#ffc100 74.2%,#ffcb00 77.9%,#ffcb00 87.8%,#ffb500 94.8%,#ffb300 100.0%)"></div><div style="height:3.00px;background:linear-gradient(90deg,#ffb200 0.0%,#ffb100 5.0%,#fa0 6.5%,#ff9b00 7.2%,#ff5800 9.2%,#ff3800 12.2%,#f00 14.9%,#db0000 16.6%,#800000 18.4%,#800000 26.8%,#f10000 27.8%,#ff0e00 28.0%,#ff5600 28.8%,#ff7400 29.0%,#ffad00 29.3%,#e7ff18 29.5%,#73ff8c 29.8%,#31ffce 30.0%,#17ffe8 30.3%,#01fffe 31.0%,#00e7ff 33.5%,#00d7ff 34.0%,#00b5ff 34.5%,#0048ff 35.5%,#0023ff 36.0%,#000dff 36.7%,#0006ff 38.2%,#0007ff 43.7%,#0015ff 44.9%,#002dff 45.4%,#005aff 45.9%,#007bff 46.2%,#00a6ff 46.4%,#00f0ff 46.7%,#7f8 46.9%,#ffde00 47.1%,#ff5700 47.4%,#ff0a00 47.6%,#e50000 47.9%,#d20000 48.1%,#ca0000 48.4%,#d70000 48.6%,#f60000 48.9%,#ff0a00 49.1%,#fe0000 49.9%,#f00000 50.9%,#da0000 51.6%,#830000 53.1%,#800000 53.3%,#800000 68.0%,#850000 68.2%,#d00 69.7%,#f00 70.7%,#ff1c00 71.2%,#ff8c00 72.2%,#ff9f00 72.5%,#ffb400 73.0%,#ffc100 74.2%,#ffcb00 77.9%,#ffcb00 87.8%,#ffb500 94.8%,#ffb300 100.0%)"></div><div style="height:3.00px;background:linear-gradient(90deg,#ffb200 0.0%,#ffb200 5.0%,#fa0 6.5%,#ff9b00 7.2%,#ff5800 9.2%,#ff3900 12.2%,#f00 14.9%,#db0000 16.6%,#c40000 17.1%,#870000 18.1%,#800000 18.4%,#800000 26.8%,#f40000 27.8%,#ff1200 28.0%,#ff5d00 28.8%,#ff7b00 29.0%,#ffb400 29.3%,#e0ff1f 29.5%,#6cff93 29.8%,#2bffd4 30.0%,#1fe 30.3%,#0ff 30.8%,#00e7ff 33.5%,#00c9ff 34.2%,#009eff 34.7%,#0036ff 35.7%,#0014ff 36.5%,#0009ff 38.0%,#0009ff 43.4%,#0013ff 44.7%,#0030ff 45.4%,#005cff 45.9%,#007dff 46.2%,#00a8ff 46.4%,#00f2ff 46.7%,#7aff85 46.9%,#ffd900 47.1%,#ff5000 47.4%,#ff0400 47.6%,#df0000 47.9%,#cb0000 48.1%,#c30000 48.4%,#d20000 48.6%,#f20000 48.9%,#ff0800 49.1%,#f50000 51.1%,#e10000 51.9%,#8e0000 53.3%,#800000 53.8%,#800000 68.0%,#810000 68.2%,#dc0000 69.7%,#f00 70.7%,#ff1c00 71.2%,#ff8c00 72.2%,#ff9f00 72.5%,#ffb400 73.0%,#ffc100 74.2%,#ffcb00 77.9%,#ffcb00 87.8%,#ffb500 94.8%,#ffb300 100.0%)"></div><div style="height:3.00px;background:linear-gradient(90deg,#ffb300 0.0%,#ffb200 5.0%,#ffab00 6.5%,#ff9d00 7.2%,#ff5c00 9.2%,#ff3e00 12.2%,#f00 15.4%,#e10000 16.6%,#c60000 17.1%,#800000 18.1%,#800000 26.8%,#e10000 27.5%,#ff0400 27.8%,#ff7b00 28.8%,#ff9c00 29.0%,#ffd500 29.3%,#c2ff3d 29.5%,#53ffac 29.8%,#15ffea 30.0%,#00fdff 30.3%,#00f3ff 30.8%,#00fcff 32.8%,#00f5ff 33.7%,#00dcff 34.5%,#009bff 35.5%,#0085ff 36.0%,#007aff 36.5%,#0073ff 37.5%,#0079ff 44.7%,#0082ff 45.2%,#0096ff 45.7%,#00baff 46.2%,#00dbff 46.4%,#1dffe2 46.7%,#9eff61 46.9%,#ffb500 47.1%,#ff2d00 47.4%,#e00000 47.6%,#be0000 47.9%,#ac0000 48.1%,#a70000 48.4%,#b90000 48.6%,#e20000 48.9%,#ff0400 49.1%,#ff0f00 49.4%,#ff1200 50.4%,#ff2e00 51.9%,#ff2500 52.4%,#ff0a00 52.9%,#f80000 53.1%,#980000 54.3%,#800000 54.8%,#800000 68.2%,#870000 68.5%,#db0000 69.7%,#ff0400 70.7%,#ff2100 71.2%,#ff8d00 72.2%,#ffa000 72.5%,#ffb300 73.0%,#ffc000 74.2%,#ffcb00 78.2%,#ffcb00 87.6%,#ffb500 94.8%,#ffb200 100.0%)"></div><div style="height:3.00px;background:linear-gradient(90deg,#ffb300 0.0%,#ffaf00 6.5%,#ff8a00 9.2%,#ff7c00 12.2%,#ff5d00 15.6%,#ff4a00 16.6%,#ff3400 17.1%,#ff0300 17.9%,#f20000 18.1%,#cb0000 19.1%,#a80000 21.1%,#800000 22.6%,#800000 25.6%,#800000 25.8%,#920000 26.1%,#f30000 27.0%,#f10 27.3%,#f80 28.3%,#ffd300 29.0%,#fff400 29.3%,#d5ff2a 29.5%,#a0ff5f 29.8%,#83ff7c 30.0%,#7bff84 30.3%,#80ff7f 30.8%,#a4ff5b 32.3%,#b0ff4f 33.5%,#af5 39.5%,#aeff51 45.9%,#bf4 46.4%,#dbff24 46.7%,#ffd400 46.9%,#ff5c00 47.1%,#f00000 47.4%,#b20000 47.6%,#900 47.9%,#920000 48.1%,#9a0000 48.4%,#c00000 48.6%,#ff0300 48.9%,#ff4000 49.1%,#ff5f00 49.4%,#ff8400 50.4%,#ffe500 51.9%,#fff200 52.4%,#fe0 52.6%,#ffd100 53.1%,#ff3e00 54.6%,#ff1a00 55.1%,#fe0000 55.6%,#e40000 56.3%,#d40000 57.3%,#cd0000 60.5%,#d00000 66.7%,#df0000 67.7%,#fb0000 68.5%,#f40 70.0%,#ff6c00 71.2%,#ffa100 72.2%,#ffaf00 72.7%,#ffb600 73.4%,#ffbe00 78.2%,#ffbe00 86.8%,#ffb200 100.0%)"></div><div style="height:3.00px;background:linear-gradient(90deg,#ffb300 0.0%,#ffa900 16.1%,#ff9200 17.1%,#ff5000 18.6%,#ff2a00 21.3%,#f90000 23.1%,#db0000 24.1%,#d80000 24.6%,#e30000 25.1%,#f90000 25.6%,#ff0600 25.8%,#ff4300 26.8%,#ffe500 28.8%,#fffe00 29.3%,#f8ff07 29.5%,#f2ff0d 30.0%,#fcff03 30.5%,#fc0 32.3%,#ffbd00 33.7%,#ffbc00 46.2%,#ffb800 46.4%,#ffa900 46.7%,#ff8000 46.9%,#f30 47.1%,#e00000 47.4%,#ad0000 47.6%,#9a0000 47.9%,#9a0000 48.1%,#ac0000 48.4%,#de0000 48.6%,#ff3000 48.9%,#ff7a00 49.1%,#ffa300 49.4%,#ffdb00 50.4%,#fdff02 50.9%,#a6ff59 51.9%,#92ff6d 52.4%,#93ff6c 52.6%,#abff54 53.1%,#f2ff0d 53.8%,#fff300 54.1%,#ffa200 55.1%,#ff7200 56.1%,#ff5b00 57.1%,#ff5100 58.8%,#ff5300 67.2%,#ff6100 68.2%,#ffa000 70.5%,#ffb200 72.5%,#ffb200 100.0%)"></div><div style="height:3.00px;background:linear-gradient(90deg,#ffb300 0.0%,#ffb000 15.9%,#ffa100 16.9%,#ff6800 18.1%,#ff5300 18.9%,#ff3c00 21.8%,#ff0d00 24.3%,#ff1d00 25.1%,#ff5800 26.3%,#fffc00 28.8%,#efff10 29.5%,#faff05 30.3%,#ffc800 32.0%,#ffb500 33.5%,#ffb100 36.2%,#fb0 41.4%,#ffb000 46.4%,#ffa300 46.7%,#ff7d00 46.9%,#ff3500 47.1%,#e50000 47.4%,#b40000 47.6%,#a20000 47.9%,#a20000 48.1%,#b40000 48.4%,#e60000 48.6%,#ff3700 48.9%,#ff8100 49.1%,#fa0 49.4%,#fff800 50.6%,#f1ff0e 50.9%,#9eff61 51.9%,#8fff70 52.4%,#9dff62 52.9%,#c4ff3b 53.3%,#f5ff0a 53.8%,#fff100 54.1%,#ffa600 55.1%,#ff7900 56.1%,#ff5f00 57.3%,#ff5800 58.8%,#ff5a00 67.2%,#ff6d00 68.5%,#ffa500 70.5%,#ffb200 72.0%,#ffb200 100.0%)"></div><div style="height:3.00px;background:linear-gradient(90deg,#ffb300 0.0%,#ffb000 15.9%,#ffa100 16.9%,#ff6900 18.1%,#ff5400 18.9%,#f40 21.8%,#ff2000 24.3%,#ff3100 25.1%,#ff6c00 26.3%,#fff700 28.5%,#fcff03 28.8%,#efff10 29.5%,#fdff02 30.3%,#ffc600 32.0%,#ffb400 33.5%,#ffb500 38.5%,#ffd300 41.7%,#ffb500 44.2%,#ffb000 46.4%,#ffa300 46.7%,#ff7f00 46.9%,#ff3a00 47.1%,#ec0000 47.4%,#b00 47.6%,#a00 47.9%,#a00 48.1%,#bc0000 48.4%,#ed0000 48.6%,#ff3d00 48.9%,#ff8400 49.1%,#ffad00 49.4%,#fffe00 50.6%,#ebff14 50.9%,#adff52 51.6%,#96ff69 52.1%,#95ff6a 52.4%,#a9ff56 52.9%,#fffd00 53.8%,#ffb100 54.8%,#ff7900 56.1%,#ff5e00 57.3%,#ff5400 59.1%,#ff5a00 67.2%,#ff6d00 68.5%,#ffa500 70.5%,#ffb200 72.0%,#ffb200 100.0%)"></div><div style="height:3.00px;background:linear-gradient(90deg,#ffb300 0.0%,#ffb000 15.9%,#ffa100 16.9%,#ff6a00 18.1%,#f50 18.9%,#ff4600 21.8%,#ff2600 24.3%,#ff3800 25.1%,#f60 26.1%,#ff8d00 26.8%,#ffea00 28.3%,#feff01 28.8%,#f4ff0b 29.3%,#fbff04 30.0%,#ffc000 32.3%,#ffb100 34.5%,#ffb700 39.0%,#ffc200 40.0%,#ffe100 41.4%,#ffe500 42.2%,#ffb800 44.4%,#ffb000 46.4%,#ffa400 46.7%,#ff8100 46.9%,#ff3f00 47.1%,#f20000 47.4%,#c30000 47.6%,#b10000 47.9%,#b20000 48.1%,#c40000 48.4%,#f40000 48.6%,#ff4200 48.9%,#f80 49.1%,#ffaf00 49.4%,#fbff04 50.6%,#adff52 51.6%,#9cff63 52.1%,#a6ff59 52.6%,#c8ff37 53.1%,#f5ff0a 53.6%,#fff300 53.8%,#ffad00 54.8%,#ff7800 56.1%,#ff5400 57.6%,#ff4300 59.1%,#ff5a00 62.5%,#ff5600 66.3%,#ff5c00 67.5%,#ff6d00 68.5%,#ffa500 70.5%,#ffb100 71.7%,#ffb200 100.0%)"></div><div style="height:3.00px;background:linear-gradient(90deg,#ffb300 0.0%,#ffb000 15.9%,#ffa200 16.9%,#ff6c00 18.1%,#ff5800 18.9%,#ff4900 21.8%,#ff2b00 24.3%,#ff3d00 25.1%,#ff6b00 26.1%,#ffdc00 28.0%,#fffd00 28.8%,#f9ff06 29.3%,#fffc00 30.0%,#ffcd00 31.5%,#fb0 32.5%,#ffb100 35.2%,#ffb800 39.2%,#ffe900 42.2%,#ffdf00 42.9%,#ffba00 44.4%,#ffb300 46.2%,#ffa500 46.7%,#ff8500 46.9%,#fa0000 47.4%,#c00 47.6%,#b00 47.9%,#b00 48.1%,#cd0000 48.4%,#fc0000 48.6%,#ff8c00 49.1%,#ffb200 49.4%,#fff300 50.4%,#f8ff07 50.6%,#aeff51 51.6%,#a2ff5d 52.1%,#b0ff4f 52.6%,#ff0 53.6%,#ffc600 54.3%,#ff9400 55.3%,#ff2f00 58.1%,#ff1d00 59.1%,#ff2300 59.6%,#ff4c00 61.0%,#ff5a00 62.0%,#ff5a00 66.3%,#ff6300 67.7%,#ffa000 70.2%,#ffb000 71.7%,#ffb200 100.0%)"></div><div style="height:3.00px;background:linear-gradient(90deg,#ffb300 0.0%,#ffaf00 15.9%,#ffa400 16.9%,#ff6f00 18.6%,#ff5e00 21.6%,#ff3c00 24.3%,#ff4300 24.8%,#ff5e00 25.6%,#ff8a00 26.6%,#ffe900 28.3%,#fffd00 29.0%,#fff900 29.8%,#ffce00 31.3%,#ffbe00 32.3%,#ffab00 37.0%,#ffba00 39.5%,#ffea00 42.2%,#ffe000 42.9%,#ffb200 44.7%,#ffb200 46.4%,#fa0 46.7%,#ff8c00 46.9%,#ff0900 47.4%,#db0000 47.6%,#cb0000 47.9%,#cb0000 48.1%,#dc0000 48.4%,#ff0b00 48.6%,#ff9400 49.1%,#ffb700 49.4%,#fff600 50.4%,#f5ff0a 50.6%,#bdff42 51.4%,#a9ff56 51.9%,#a8ff57 52.1%,#baff45 52.6%,#f2ff0d 53.3%,#fff700 53.6%,#ffd300 54.1%,#ffac00 54.8%,#ff2b00 57.8%,#ff1a00 58.6%,#ff2000 59.1%,#ff6000 60.5%,#ff6f00 61.3%,#ff7100 62.0%,#ff6400 64.3%,#f60 65.5%,#ff7d00 68.0%,#ffa400 70.5%,#ffb600 74.2%,#ffae00 78.4%,#ffb600 82.1%,#ffaf00 85.4%,#ffb600 89.1%,#ffb000 100.0%)"></div><div style="height:3.00px;background:linear-gradient(90deg,#ffb200 0.0%,#ffb500 12.7%,#ffad00 16.4%,#ff9b00 18.4%,#ff8f00 21.3%,#ff6300 24.6%,#ff6b00 25.3%,#ff7f00 26.1%,#fd0 28.0%,#fff700 29.0%,#fff000 29.8%,#ffc100 31.8%,#ffbc00 34.2%,#ffa600 37.2%,#ffb300 39.0%,#ffe200 41.4%,#ffe900 42.2%,#ffdf00 42.9%,#ffac00 44.7%,#fa0 45.4%,#ffb400 46.4%,#ffae00 46.7%,#ff9300 46.9%,#ff5a00 47.1%,#ff1600 47.4%,#ea0000 47.6%,#db0000 47.9%,#db0000 48.1%,#ec0000 48.4%,#ff1900 48.6%,#ff9b00 49.1%,#fb0 49.4%,#fff900 50.4%,#f2ff0d 50.6%,#beff41 51.4%,#aeff51 51.9%,#b6ff49 52.4%,#faff05 53.3%,#fff200 53.6%,#ffbc00 54.6%,#ff8d00 56.1%,#ff4e00 57.6%,#ff4300 58.3%,#f50 59.1%,#ff9500 60.3%,#ffa600 61.3%,#ff8500 64.5%,#ffa900 68.0%,#ffa500 71.7%,#ffbd00 74.9%,#fa0 78.4%,#ffba00 82.1%,#ffac00 85.6%,#ffb800 89.3%,#ffae00 92.6%,#ffb700 96.3%,#ffaf00 100.0%)"></div><div style="height:3.00px;background:linear-gradient(90deg,#ffb200 0.0%,#ffb500 5.5%,#ffaf00 8.9%,#ffb700 12.4%,#ffad00 16.1%,#ffb300 19.9%,#ffa600 21.6%,#f70 24.8%,#f80 26.1%,#ffde00 28.0%,#fff000 28.8%,#ffed00 29.5%,#ffc100 31.5%,#ffc000 34.2%,#ffa000 37.2%,#ffa900 38.5%,#ffdf00 41.2%,#ffe800 42.2%,#fd0 42.9%,#ffa700 44.7%,#ffa600 45.4%,#ffb600 46.4%,#ffb200 46.7%,#ff9a00 46.9%,#ff6400 47.1%,#ff2400 47.4%,#f90000 47.6%,#eb0000 47.9%,#eb0000 48.1%,#fb0000 48.4%,#ff2700 48.6%,#ff6a00 48.9%,#ffa300 49.1%,#ffc000 49.4%,#fffb00 50.4%,#f0ff0f 50.6%,#bfff40 51.4%,#b3ff4c 51.9%,#beff41 52.4%,#fffd00 53.3%,#ffc500 54.3%,#ff9a00 55.8%,#ff6a00 57.1%,#ff5c00 57.8%,#ff7000 58.8%,#ffbd00 60.3%,#ffc800 61.0%,#ffc100 61.8%,#ff9a00 63.5%,#ff9300 64.3%,#ff9700 65.0%,#ffbc00 67.0%,#ffc400 68.0%,#ff9f00 71.5%,#ffc200 74.9%,#ffa500 78.7%,#ffbe00 82.1%,#ffa900 85.6%,#fb0 89.3%,#ffac00 92.6%,#ffb900 96.3%,#ffad00 100.0%)"></div><div style="height:3.00px;background:linear-gradient(90deg,#ffb200 0.0%,#ffb500 5.5%,#ffaf00 8.9%,#ffb700 12.4%,#ffad00 16.1%,#ffb800 19.9%,#ffae00 21.3%,#ff8300 24.1%,#ff7c00 25.1%,#ff8b00 26.1%,#fd0 28.0%,#ffed00 28.8%,#ffe900 29.5%,#ffbf00 31.5%,#ffc100 34.2%,#ffa000 37.2%,#ffa600 38.2%,#ffdb00 41.2%,#ffe400 42.2%,#ffdb00 42.9%,#ffb400 44.2%,#ffa600 44.9%,#ffb600 46.4%,#ffb300 46.7%,#ff9c00 46.9%,#ff6800 47.1%,#ff2900 47.4%,#f00 47.6%,#f10000 47.9%,#f20000 48.1%,#ff0200 48.4%,#ff2d00 48.6%,#ff6e00 48.9%,#ffa600 49.1%,#ffc200 49.4%,#fffc00 50.4%,#efff10 50.6%,#c2ff3d 51.4%,#b9ff46 51.9%,#c6ff39 52.4%,#f6ff09 53.1%,#fff600 53.3%,#ffc200 54.3%,#ff6f00 56.8%,#ff6400 57.6%,#ff7a00 58.6%,#ffc000 60.0%,#ffce00 60.8%,#ffca00 61.5%,#ffa300 63.3%,#ff9700 64.3%,#ff9b00 65.0%,#ffc100 67.0%,#ffc800 68.0%,#ff9f00 71.5%,#ffc300 74.9%,#ffa400 78.7%,#ffbe00 82.1%,#ffa800 85.6%,#fb0 89.3%,#ffab00 92.6%,#ffb900 96.3%,#ffad00 100.0%)"></div><div style="height:3.00px;background:linear-gradient(90deg,#ffb200 0.0%,#ffb500 5.5%,#ffaf00 8.9%,#ffb700 12.4%,#ffad00 16.1%,#ffb900 19.9%,#ffaf00 21.3%,#ff8500 24.1%,#ff7f00 25.1%,#ff8d00 26.1%,#ffdb00 28.0%,#ffea00 28.8%,#ffe500 29.5%,#ffbe00 31.5%,#ffc100 34.2%,#ffa000 37.2%,#ffa900 38.5%,#ffd800 41.2%,#ffdf00 42.4%,#ffd400 43.2%,#ffa800 44.9%,#ffb700 46.4%,#ffb300 46.7%,#ff9e00 46.9%,#ff6b00 47.1%,#ff2e00 47.4%,#ff0600 47.6%,#f70000 47.9%,#ff0800 48.4%,#ff3200 48.6%,#ff7200 48.9%,#ffa800 49.1%,#ffc400 49.4%,#fffe00 50.4%,#ef1 50.6%,#c4ff3b 51.4%,#beff41 51.9%,#ceff31 52.4%,#fdff02 53.1%,#ffbd00 54.3%,#ff7800 56.3%,#ff6700 57.1%,#ff6f00 57.8%,#ff8f00 58.8%,#ffc400 60.0%,#ffd000 60.8%,#ffcb00 61.5%,#ffa400 63.3%,#ff9800 64.3%,#ff9c00 65.0%,#ffc100 67.0%,#ffc900 68.0%,#ff9f00 71.5%,#ffc300 74.9%,#ffa400 78.7%,#ffbe00 82.1%,#ffa800 85.6%,#fb0 89.3%,#ffab00 92.6%,#ffb900 96.3%,#ffad00 100.0%)"></div><div style="height:3.00px;background:linear-gradient(90deg,#ffb200 0.0%,#ffb500 5.5%,#ffaf00 8.9%,#ffb700 12.4%,#ffad00 16.1%,#ffb900 19.9%,#ffaf00 21.3%,#ff8700 24.1%,#ff8100 25.1%,#ff8f00 26.1%,#ffda00 28.0%,#ffe700 28.8%,#ffe200 29.5%,#ffbe00 31.3%,#ffc000 34.2%,#ffa000 37.2%,#ffa600 38.2%,#ffd300 40.9%,#ffdc00 42.4%,#ffd200 43.2%,#ffa900 44.9%,#ffb400 46.7%,#ff9f00 46.9%,#ff6e00 47.1%,#ff3200 47.4%,#ff0b00 47.6%,#fc0000 47.9%,#fd0000 48.1%,#ff0d00 48.4%,#ff3600 48.6%,#ff7600 48.9%,#fa0 49.1%,#ffc500 49.4%,#ff0 50.4%,#d1ff2e 51.1%,#c3ff3c 51.6%,#caff35 52.1%,#fffa00 53.1%,#ffb900 54.3%,#ff7a00 56.1%,#ff6a00 56.8%,#ff7200 57.6%,#ffc700 60.0%,#ffd100 60.8%,#ffcb00 61.5%,#ffa400 63.3%,#ff9800 64.3%,#ff9c00 65.0%,#ffc200 67.0%,#ffc900 68.0%,#ff9f00 71.5%,#ffc300 74.9%,#ffa400 78.7%,#ffbe00 82.1%,#ffa800 85.6%,#fb0 89.3%,#ffab00 92.6%,#ffb900 96.3%,#ffad00 100.0%)"></div><div style="height:3.00px;background:linear-gradient(90deg,#ffb200 0.0%,#ffb500 12.4%,#ffaf00 15.9%,#ffb600 20.1%,#ffab00 21.8%,#ff8100 25.1%,#ff8e00 26.1%,#ffd900 28.0%,#ffe700 28.8%,#ffe200 29.5%,#ffba00 31.5%,#ffbe00 34.5%,#ffa200 37.5%,#ffab00 38.7%,#ffd500 41.4%,#ffda00 42.7%,#ffab00 44.9%,#ffb200 46.7%,#ff9e00 46.9%,#ff6f00 47.1%,#ff3400 47.4%,#ff0e00 47.6%,#ff0100 47.9%,#ff0200 48.1%,#f10 48.4%,#ff3b00 48.6%,#ff7900 48.9%,#ffad00 49.1%,#ffc700 49.4%,#ff0 50.4%,#d3ff2c 51.1%,#c8ff37 51.6%,#d1ff2e 52.1%,#faff05 52.9%,#ffb400 54.3%,#ff7c00 55.8%,#ff6c00 56.6%,#ff7300 57.3%,#ffbc00 59.6%,#ffcb00 60.5%,#ff9f00 64.0%,#ffc200 67.7%,#ffa600 71.2%,#ffbd00 74.9%,#fa0 78.7%,#ffba00 82.4%,#ffac00 85.9%,#ffb900 89.6%,#ffad00 92.8%,#ffb800 96.8%,#ffae00 100.0%)"></div><div style="height:3.00px;background:linear-gradient(90deg,#ffb100 0.0%,#ffb200 20.8%,#fa0 22.3%,#ff8400 24.6%,#ff8000 25.3%,#ff9200 26.3%,#ffd900 28.0%,#ffe900 28.8%,#ffe500 29.5%,#ffb500 31.8%,#ffbc00 35.0%,#ffa400 38.0%,#fa0 39.0%,#ffd600 41.7%,#ffdc00 42.7%,#ffd400 43.4%,#fa0 45.2%,#ffae00 46.7%,#ff9b00 46.9%,#ff6d00 47.1%,#ff3400 47.4%,#ff0f00 47.6%,#ff0300 47.9%,#ff0500 48.1%,#ff1500 48.4%,#ff3f00 48.6%,#ff7d00 48.9%,#ffb000 49.1%,#ffca00 49.4%,#ff0 50.4%,#d6ff29 51.1%,#cf3 51.6%,#d7ff28 52.1%,#fffe00 52.9%,#ffc400 53.8%,#ff9b00 54.8%,#ff7800 55.8%,#ff6e00 56.6%,#ff7b00 57.3%,#ffb300 58.8%,#ffc600 60.0%,#ffa400 63.3%,#ffbc00 66.7%,#ffad00 70.0%,#ffb500 73.2%,#ffb500 83.9%,#ffaf00 87.1%,#ffb700 90.3%,#ffae00 93.5%,#ffb700 97.0%,#ffaf00 100.0%)"></div><div style="height:3.00px;background:linear-gradient(90deg,#ffb100 0.0%,#ffb200 21.6%,#ffa800 22.8%,#ff8600 24.6%,#ff7f00 25.3%,#ff8e00 26.3%,#ffd800 28.0%,#ffeb00 28.8%,#ffe800 29.5%,#ffba00 31.3%,#ffaf00 32.0%,#ffbe00 35.2%,#ffa300 38.5%,#ffae00 39.7%,#ffd800 41.9%,#ffde00 42.9%,#ffd200 43.7%,#ffab00 45.2%,#ffab00 46.7%,#ff9800 46.9%,#ff6c00 47.1%,#ff3400 47.4%,#ff1000 47.6%,#ff0500 47.9%,#ff0800 48.1%,#ff1900 48.4%,#ff4200 48.6%,#ff8000 48.9%,#ffb300 49.1%,#fc0 49.4%,#ff0 50.4%,#d8ff27 51.1%,#d1ff2e 51.6%,#df2 52.1%,#f6ff09 52.6%,#fff800 52.9%,#ffc000 53.8%,#ff9600 54.8%,#ff7c00 55.6%,#ff7100 56.3%,#ff8200 57.3%,#ffb900 58.6%,#ffc700 59.6%,#ffa000 62.5%,#ffc200 65.8%,#ffa600 69.0%,#ffbc00 72.2%,#fa0 75.2%,#ffba00 78.4%,#ffac00 81.6%,#ffb800 84.6%,#ffad00 87.8%,#ffb800 91.1%,#ffae00 94.3%,#ffb700 97.5%,#ffb000 100.0%)"></div><div style="height:3.00px;background:linear-gradient(90deg,#ffb100 0.0%,#ffb600 9.7%,#ffaf00 12.9%,#ffb700 16.1%,#ffad00 19.4%,#ffb300 21.8%,#ffab00 22.8%,#ff7e00 25.3%,#ff8c00 26.3%,#ffd800 28.0%,#ffec00 29.0%,#ffe300 29.8%,#ffb900 31.3%,#ffac00 32.0%,#ffab00 33.0%,#ffc000 35.5%,#ffa200 38.5%,#ffa700 39.5%,#ffd700 41.9%,#ffdf00 42.9%,#ffd400 43.7%,#ffab00 45.2%,#ffa900 46.7%,#ff9700 46.9%,#ff6c00 47.1%,#ff3600 47.4%,#ff1300 47.6%,#ff0800 47.9%,#ff0b00 48.1%,#ff1c00 48.4%,#ff4600 48.6%,#ff8300 48.9%,#ffb500 49.1%,#ffce00 49.4%,#fffe00 50.4%,#dbff24 51.1%,#d5ff2a 51.6%,#e2ff1d 52.1%,#fcff03 52.6%,#ffc800 53.6%,#ff9b00 54.6%,#ff8000 55.3%,#ff7300 56.1%,#ff8100 57.1%,#ffc000 58.6%,#ffcb00 59.3%,#ff9b00 62.3%,#ff9f00 63.0%,#ffc100 64.8%,#ffc700 65.5%,#ffa100 68.7%,#ffc200 72.0%,#ffa500 75.2%,#ffbe00 78.4%,#ffa800 81.6%,#fb0 84.9%,#ffab00 88.1%,#ffb900 91.3%,#ffad00 94.5%,#ffb700 97.8%,#ffb000 100.0%)"></div><div style="height:3.00px;background:linear-gradient(90deg,#ffb100 0.0%,#ffb600 9.7%,#ffaf00 12.9%,#ffb700 16.1%,#ffad00 19.4%,#ffb300 21.8%,#ffab00 22.8%,#ff8000 25.3%,#ff8e00 26.3%,#ffd600 28.0%,#ffea00 29.0%,#ffe100 29.8%,#ffb800 31.3%,#ffac00 32.0%,#ffab00 33.0%,#ffc000 35.5%,#ffa200 38.5%,#ffa700 39.5%,#ffd500 41.9%,#ffdc00 42.9%,#ffd300 43.7%,#ffac00 45.2%,#ffa900 46.7%,#ff9800 46.9%,#ff6f00 47.1%,#ff3900 47.4%,#ff1700 47.6%,#ff0c00 47.9%,#ff1000 48.1%,#ff2100 48.4%,#ff4900 48.6%,#ff8600 48.9%,#ffb600 49.1%,#ffcf00 49.4%,#fffe00 50.4%,#f2ff0d 50.6%,#deff21 51.1%,#daff25 51.6%,#fffd00 52.6%,#ffa100 54.3%,#ff8500 55.1%,#ff7600 55.8%,#ff8100 56.8%,#ff9800 57.6%,#ffc200 58.6%,#fc0 59.3%,#ffc400 60.0%,#ffa200 61.5%,#ff9b00 62.3%,#ff9f00 63.0%,#ffc100 64.8%,#ffc700 65.5%,#ffa100 68.7%,#ffc200 72.0%,#ffa500 75.2%,#ffbe00 78.4%,#ffa800 81.6%,#fb0 84.9%,#ffab00 88.1%,#ffb900 91.3%,#ffad00 94.5%,#ffb700 97.8%,#ffb000 100.0%)"></div><div style="height:3.00px;background:linear-gradient(90deg,#ffb100 0.0%,#ffb600 9.7%,#ffaf00 12.9%,#ffb700 16.1%,#ffad00 19.4%,#ffb300 21.8%,#ffac00 22.8%,#ff8200 25.3%,#ff8f00 26.3%,#ffd500 28.0%,#ffe600 28.8%,#ffe300 29.5%,#ffb700 31.3%,#ffac00 32.0%,#ffab00 33.0%,#ffc000 35.5%,#ffa200 38.7%,#fa0 39.7%,#ffd400 41.9%,#ffda00 42.9%,#ffd100 43.7%,#ffad00 45.2%,#fa0 46.7%,#ff9a00 46.9%,#ff7100 47.1%,#ff3c00 47.4%,#ff1b00 47.6%,#ff1000 47.9%,#ff1400 48.1%,#ff2400 48.4%,#ff4d00 48.6%,#f80 48.9%,#ffb800 49.1%,#ffcf00 49.4%,#fffd00 50.4%,#f4ff0b 50.6%,#df2 51.4%,#e4ff1b 51.9%,#f9ff06 52.4%,#fff800 52.6%,#ffbf00 53.6%,#ff9300 54.6%,#ff7d00 55.3%,#f70 55.8%,#ff7c00 56.3%,#ff9400 57.3%,#ffc400 58.6%,#fc0 59.3%,#ffc400 60.0%,#ffa200 61.5%,#ff9b00 62.3%,#ff9f00 63.0%,#ffc100 64.8%,#ffc700 65.5%,#ffa100 68.7%,#ffc200 72.0%,#ffa500 75.2%,#ffbe00 78.4%,#ffa800 81.6%,#fb0 84.9%,#ffab00 88.1%,#ffb900 91.3%,#ffad00 94.5%,#ffb700 97.8%,#ffb000 100.0%)"></div><div style="height:3.00px;background:linear-gradient(90deg,#ffb100 0.0%,#ffb500 9.7%,#ffaf00 12.9%,#ffb700 16.1%,#ffae00 19.4%,#ffb300 21.8%,#ffac00 22.8%,#ff8400 25.3%,#ff9000 26.3%,#ffd200 28.0%,#ffe400 29.0%,#ffdc00 29.8%,#ffac00 32.0%,#ffab00 33.0%,#ffc000 35.5%,#ffa200 38.7%,#fa0 39.7%,#ffd200 41.9%,#ffd800 42.9%,#ffd100 43.7%,#fa0 45.4%,#fa0 46.7%,#ff9a00 46.9%,#ff7200 47.1%,#ff3f00 47.4%,#ff1e00 47.6%,#ff1400 47.9%,#ff1700 48.1%,#ff2800 48.4%,#ff5000 48.6%,#ff8a00 48.9%,#ffb900 49.1%,#ffd000 49.4%,#fffc00 50.4%,#f5ff0a 50.6%,#e1ff1e 51.4%,#e8ff17 51.9%,#fdff02 52.4%,#ff9a00 54.3%,#ff8100 55.1%,#ff7a00 55.6%,#ff8500 56.6%,#ffbf00 58.3%,#fc0 59.1%,#ffc700 59.8%,#ffa200 61.5%,#ff9c00 62.3%,#ffc600 65.5%,#ffa200 68.7%,#ffc100 72.0%,#ffa600 75.2%,#ffbd00 78.4%,#fa0 81.6%,#ffba00 84.9%,#ffac00 88.1%,#ffb800 91.3%,#ffad00 94.5%,#ffb700 97.8%,#ffb100 100.0%)"></div><div style="height:3.00px;background:linear-gradient(90deg,#ffb100 0.0%,#ffb000 21.6%,#ffa900 22.8%,#ff8900 25.3%,#ff9400 26.3%,#ffd400 28.3%,#ffde00 29.0%,#ffd900 29.8%,#ffb700 31.5%,#ffad00 32.5%,#ffbd00 36.0%,#ffa500 39.0%,#ffab00 40.0%,#ffd200 42.2%,#ffd800 43.2%,#ffcf00 43.9%,#ffac00 45.4%,#ffa800 46.7%,#ff9800 46.9%,#ff7100 47.1%,#ff3f00 47.4%,#ff1e00 47.6%,#ff1500 47.9%,#ff1900 48.1%,#ff2a00 48.4%,#ff5200 48.6%,#ff8c00 48.9%,#ffba00 49.1%,#ffd100 49.4%,#fffb00 50.4%,#f7ff08 50.6%,#e5ff1a 51.4%,#edff12 51.9%,#fffc00 52.4%,#ff9700 54.3%,#ff8100 55.1%,#ff7b00 55.6%,#ff8300 56.3%,#fb0 58.1%,#ffc800 58.8%,#ffc300 59.6%,#ffa000 61.8%,#ffc100 65.0%,#ffa700 68.2%,#fb0 71.5%,#ffad00 74.7%,#ffb700 78.2%,#ffaf00 81.6%,#ffb600 85.1%,#ffaf00 88.6%,#ffb600 91.8%,#ffaf00 95.0%,#ffb200 100.0%)"></div><div style="height:3.00px;background:linear-gradient(90deg,#ffb200 0.0%,#ffb300 19.6%,#fa0 22.3%,#ff8f00 25.3%,#ff9700 26.3%,#ffce00 28.3%,#ffd800 29.0%,#ffd600 29.8%,#ffac00 33.0%,#ffbd00 36.5%,#ffa500 39.5%,#ffad00 40.4%,#ffd300 42.4%,#ffda00 43.2%,#ffd200 43.9%,#ffad00 45.4%,#ffa500 46.7%,#ff9600 46.9%,#ff7000 47.1%,#ff3e00 47.4%,#ff1f00 47.6%,#ff1600 47.9%,#ff1a00 48.1%,#ff2c00 48.4%,#ff5400 48.6%,#ff8e00 48.9%,#fb0 49.1%,#ffd200 49.4%,#f9ff06 50.6%,#e8ff17 51.4%,#faff05 52.1%,#ff9500 54.3%,#ff8100 55.1%,#ff7d00 55.6%,#ff8700 56.3%,#ffba00 57.8%,#ffc600 58.6%,#ffa100 61.5%,#ffc100 64.5%,#ffa800 67.5%,#ffba00 70.5%,#ffad00 73.4%,#ffb600 76.2%,#ffb000 78.9%,#ffb400 100.0%)"></div><div style="height:3.00px;background:linear-gradient(90deg,#ffb300 0.0%,#ffb600 13.4%,#ffaf00 16.4%,#ffb700 19.4%,#ff9400 25.6%,#ff9e00 26.6%,#ffc800 28.3%,#ffd400 29.3%,#ffd000 30.3%,#ffa900 33.5%,#ffbf00 37.0%,#ffa400 39.7%,#ffac00 40.7%,#ffd600 42.7%,#ffdb00 43.4%,#ffd000 44.2%,#ffae00 45.4%,#ffa300 46.7%,#ff9300 46.9%,#ff6e00 47.1%,#ff3e00 47.4%,#ff1f00 47.6%,#ff1600 47.9%,#ff1b00 48.1%,#ff2d00 48.4%,#ff5600 48.6%,#ff8f00 48.9%,#ffbc00 49.1%,#ffd300 49.4%,#fbff04 50.6%,#ecff13 51.4%,#feff01 52.1%,#ff9c00 54.1%,#ff8500 54.8%,#ff7f00 55.3%,#ff8a00 56.3%,#ffba00 57.6%,#ffc700 58.3%,#ff9e00 61.0%,#ffc400 64.0%,#ffa300 67.0%,#ffc000 70.0%,#ffa700 73.0%,#ffbd00 75.7%,#ffa900 78.7%,#ffba00 81.6%,#ffac00 84.6%,#ffb900 87.6%,#ffad00 90.6%,#ffb700 93.3%,#ffae00 96.3%,#ffb500 100.0%)"></div><div style="height:3.00px;background:linear-gradient(90deg,#ffb300 0.0%,#ffb000 10.4%,#ffb600 13.4%,#ffaf00 16.4%,#ffb700 19.4%,#ff9600 25.6%,#ff9f00 26.6%,#ffc600 28.3%,#ffd200 29.3%,#fc0 30.5%,#ffa900 33.5%,#ffbf00 37.0%,#ffa400 39.7%,#ffac00 40.7%,#ffd500 42.7%,#ffda00 43.4%,#ffcf00 44.2%,#ffae00 45.4%,#ffa300 46.7%,#ff9400 46.9%,#ff7000 47.1%,#ff4000 47.4%,#f20 47.6%,#ff1a00 47.9%,#ff1e00 48.1%,#ff3000 48.4%,#ff5800 48.6%,#ff9100 48.9%,#ffbd00 49.1%,#ffd300 49.4%,#fdff02 50.6%,#efff10 51.4%,#fffc00 52.1%,#ff9b00 54.1%,#ff8500 54.8%,#ff8100 55.3%,#ff8d00 56.3%,#ffbc00 57.6%,#ffc700 58.3%,#ff9e00 61.0%,#ffc500 64.0%,#ffa300 67.0%,#ffc000 70.0%,#ffa600 73.0%,#ffbd00 75.7%,#ffa900 78.7%,#fb0 81.6%,#ffab00 84.6%,#ffb900 87.6%,#ffad00 90.6%,#ffb700 93.3%,#ffae00 96.3%,#ffb500 100.0%)"></div><div style="height:3.00px;background:linear-gradient(90deg,#ffb300 0.0%,#ffb000 10.4%,#ffb600 13.4%,#ffaf00 16.4%,#ffb700 19.4%,#ff9700 25.6%,#ff9f00 26.6%,#ffc400 28.3%,#ffd000 29.3%,#ffcb00 30.5%,#ffa900 33.5%,#ffbf00 37.0%,#ffa400 39.7%,#ffab00 40.7%,#ffd400 42.7%,#ffd800 43.4%,#ffce00 44.2%,#ffae00 45.4%,#ffa300 46.7%,#ff9500 46.9%,#ff7100 47.1%,#ff4200 47.4%,#ff2500 47.6%,#ff1d00 47.9%,#f20 48.1%,#f30 48.4%,#ff5b00 48.6%,#ff9200 48.9%,#ffbe00 49.1%,#ffd300 49.4%,#ff0 50.6%,#f2ff0d 51.4%,#fcff03 51.9%,#f90 54.1%,#ff8600 54.8%,#ff8300 55.3%,#ff9000 56.3%,#ffbd00 57.6%,#ffc800 58.3%,#ff9e00 61.0%,#ffc500 64.0%,#ffa300 67.0%,#ffc000 70.0%,#ffa600 73.0%,#ffbd00 75.7%,#ffa900 78.7%,#fb0 81.6%,#ffab00 84.6%,#ffb900 87.6%,#ffad00 90.6%,#ffb700 93.3%,#ffae00 96.3%,#ffb500 100.0%)"></div><div style="height:3.00px;background:linear-gradient(90deg,#ffb300 0.0%,#ffb000 10.4%,#ffb600 13.4%,#ffaf00 16.4%,#ffb700 19.4%,#ff9800 25.6%,#ffa000 26.6%,#ffc300 28.3%,#ffce00 29.3%,#ffca00 30.5%,#ffa900 33.5%,#ffbf00 37.0%,#ffa400 39.7%,#ffab00 40.7%,#ffcf00 42.4%,#ffd700 43.4%,#ffcd00 44.2%,#fa0 45.7%,#ffa300 46.7%,#ff9500 46.9%,#ff7300 47.1%,#ff4500 47.4%,#ff2700 47.6%,#ff2000 47.9%,#ff2500 48.1%,#ff3600 48.4%,#ff5d00 48.6%,#ff9400 48.9%,#ffbe00 49.1%,#ffd300 49.4%,#fffd00 50.6%,#faff05 50.9%,#f6ff09 51.4%,#fffe00 51.9%,#ffa100 53.8%,#ff8a00 54.6%,#ff8400 55.1%,#ff9300 56.3%,#ffbe00 57.6%,#ffc800 58.3%,#ff9e00 61.0%,#ffc500 64.0%,#ffa300 67.0%,#ffc000 70.0%,#ffa600 73.0%,#ffbd00 75.7%,#ffa900 78.7%,#fb0 81.6%,#ffab00 84.6%,#ffb900 87.6%,#ffad00 90.6%,#ffb700 93.3%,#ffae00 96.3%,#ffb500 100.0%)"></div><div style="height:3.00px;background:linear-gradient(90deg,#ffb300 0.0%,#ffb500 19.6%,#ff9700 25.3%,#ff9e00 26.3%,#ffcb00 29.0%,#ffc800 30.3%,#ffab00 33.7%,#ffbd00 37.0%,#ffa500 40.0%,#ffae00 40.9%,#ffd000 42.7%,#ffd600 43.4%,#ffcf00 44.2%,#ffab00 45.7%,#ffa300 46.7%,#ff9500 46.9%,#ff7300 47.1%,#ff4500 47.4%,#ff2800 47.6%,#ff2100 47.9%,#ff2600 48.1%,#ff3800 48.4%,#ff5e00 48.6%,#ff9400 48.9%,#ffbe00 49.1%,#ffd300 49.4%,#fcff03 50.9%,#fffb00 51.9%,#ffa000 53.8%,#ff8b00 54.6%,#ff8600 55.1%,#ff9000 56.1%,#ffbf00 57.6%,#ffc600 58.1%,#ffc100 58.8%,#ffa000 60.8%,#ffc200 63.8%,#ffa500 66.7%,#ffbd00 69.7%,#fa0 72.7%,#ffba00 75.7%,#ffac00 78.7%,#ffb800 81.6%,#ffae00 84.6%,#ffb600 87.6%,#ffaf00 90.6%,#ffb500 100.0%)"></div><div style="height:3.00px;background:linear-gradient(90deg,#ffb300 0.0%,#ffb300 20.6%,#ff9500 25.1%,#ff9b00 26.1%,#ffc100 28.0%,#ffc900 28.8%,#ffac00 34.5%,#fb0 37.7%,#ffa700 40.2%,#ffab00 40.9%,#ffd100 42.9%,#ffd600 43.7%,#fc0 44.4%,#ffad00 45.7%,#ffa200 46.7%,#ff9400 46.9%,#ff7200 47.1%,#ff4500 47.4%,#ff2800 47.6%,#ff2100 47.9%,#ff2600 48.1%,#ff3800 48.4%,#ff5f00 48.6%,#ff9500 48.9%,#ffbf00 49.1%,#ffd300 49.4%,#feff01 50.9%,#ff0 51.6%,#fff800 51.9%,#ff9f00 53.8%,#ff8b00 54.6%,#ff8700 55.1%,#ff9300 56.1%,#fb0 57.3%,#ffc400 58.1%,#ffa100 60.5%,#ffc100 63.5%,#ffa700 66.3%,#fb0 69.0%,#ffac00 72.0%,#ffb700 74.7%,#ffb000 77.7%,#ffb500 100.0%)"></div><div style="height:3.00px;background:linear-gradient(90deg,#ffb400 0.0%,#ffb300 21.3%,#ff9300 25.1%,#ff9c00 26.1%,#ffc000 27.8%,#ffc800 28.5%,#ffab00 35.0%,#ffbc00 38.0%,#ffa700 40.4%,#ffaf00 41.4%,#ffcf00 42.9%,#ffd700 43.7%,#ffce00 44.4%,#ffaf00 45.7%,#ffa100 46.7%,#ff9200 46.9%,#ff7100 47.1%,#f40 47.4%,#ff2800 47.6%,#ff2100 47.9%,#ff2700 48.1%,#ff3900 48.4%,#ff6000 48.6%,#ff9500 48.9%,#ffbf00 49.1%,#ffd300 49.4%,#feff01 51.1%,#fff500 51.9%,#ff9700 54.1%,#ff8900 55.1%,#ff9500 56.1%,#ffb700 57.1%,#ffc300 57.8%,#ffa100 60.3%,#ffc100 63.0%,#ffa600 65.8%,#ffbd00 68.5%,#fa0 71.2%,#ffba00 73.9%,#ffad00 76.7%,#ffb700 79.2%,#ffae00 81.9%,#ffb600 84.6%,#ffaf00 87.3%,#ffb600 89.8%,#ffb000 92.6%,#ffb400 100.0%)"></div><div style="height:3.00px;background:linear-gradient(90deg,#ffb400 0.0%,#ffb000 13.6%,#ffb600 16.4%,#ffaf00 19.1%,#ffb400 21.6%,#ff9200 25.1%,#ff9800 25.8%,#ffc700 28.3%,#ffb900 30.8%,#ffba00 33.0%,#ffa900 35.2%,#ffbd00 38.2%,#ffa600 40.7%,#ffb100 41.7%,#ffd200 43.2%,#ffd600 43.9%,#ffa000 46.7%,#ff9200 46.9%,#ff7100 47.1%,#ff4500 47.4%,#ff2900 47.6%,#ff2300 47.9%,#ff2800 48.1%,#ff3a00 48.4%,#ff6100 48.6%,#ff9600 48.9%,#ffbf00 49.1%,#ffd300 49.4%,#fffe00 51.1%,#fff200 51.9%,#ff9e00 53.8%,#ff8a00 54.8%,#ff9100 55.8%,#ffba00 57.1%,#ffc300 57.8%,#ffa100 60.3%,#ffc200 63.0%,#ffa500 65.8%,#ffbf00 68.2%,#ffa800 71.0%,#ffbc00 73.7%,#fa0 76.4%,#ffba00 79.2%,#ffac00 81.9%,#ffb800 84.6%,#ffad00 87.3%,#ffb700 90.1%,#ffae00 92.8%,#ffb600 95.3%,#ffaf00 98.0%,#ffb400 100.0%)"></div><div style="height:3.00px;background:linear-gradient(90deg,#ffb400 0.0%,#ffb000 13.6%,#ffb600 16.4%,#ffaf00 19.1%,#ffb500 21.6%,#ff9300 25.1%,#f90 25.8%,#ffc500 28.3%,#ffb900 30.8%,#fb0 32.8%,#ffa900 35.2%,#ffbd00 38.2%,#ffa600 40.7%,#ffb000 41.7%,#ffd100 43.2%,#ffd500 43.9%,#ffa000 46.7%,#ff9200 46.9%,#ff7200 47.1%,#ff4700 47.4%,#ff2c00 47.6%,#ff2500 47.9%,#ff2b00 48.1%,#ff3d00 48.4%,#ff6300 48.6%,#ff9700 48.9%,#ffbf00 49.1%,#ffd300 49.4%,#fffb00 51.1%,#ffef00 51.9%,#ff9e00 53.8%,#ff8b00 54.8%,#ff9300 55.8%,#fb0 57.1%,#ffc300 57.8%,#ffa100 60.3%,#ffc200 63.0%,#ffa500 65.8%,#ffbf00 68.2%,#ffa800 71.0%,#ffbc00 73.7%,#fa0 76.4%,#ffba00 79.2%,#ffac00 81.9%,#ffb800 84.6%,#ffad00 87.3%,#ffb700 90.1%,#ffae00 92.8%,#ffb600 95.3%,#ffaf00 98.0%,#ffb400 100.0%)"></div><div style="height:3.00px;background:linear-gradient(90deg,#ffb400 0.0%,#ffb000 13.6%,#ffb600 16.4%,#ffaf00 19.1%,#ffb500 21.6%,#ff9400 25.1%,#f90 25.8%,#ffc400 28.3%,#ffb800 30.8%,#fb0 32.8%,#ffa900 35.2%,#ffbd00 38.2%,#ffa600 40.7%,#ffb000 41.7%,#ffd000 43.2%,#ffd400 43.9%,#ffa000 46.7%,#ff9300 46.9%,#ff7300 47.1%,#ff4900 47.4%,#ff2e00 47.6%,#ff2800 47.9%,#ff2d00 48.1%,#ff3f00 48.4%,#ff6400 48.6%,#ff9800 48.9%,#ffbf00 49.1%,#ffd300 49.4%,#fff900 51.1%,#ffed00 51.9%,#ff9d00 53.8%,#ff8d00 54.8%,#ff9500 55.8%,#fb0 57.1%,#ffc300 57.8%,#ffa100 60.3%,#ffc200 63.0%,#ffa500 65.8%,#ffbf00 68.2%,#ffa800 71.0%,#ffbc00 73.7%,#fa0 76.4%,#ffba00 79.2%,#ffac00 81.9%,#ffb800 84.6%,#ffad00 87.3%,#ffb700 90.1%,#ffae00 92.8%,#ffb600 95.3%,#ffaf00 98.0%,#ffb400 100.0%)"></div><div style="height:3.00px;background:linear-gradient(90deg,#ffb400 0.0%,#ffb400 21.6%,#ff9500 25.1%,#ff9a00 25.8%,#ffc400 28.3%,#ffb800 30.8%,#ffba00 33.0%,#fa0 35.2%,#ffbd00 38.2%,#ffa600 40.7%,#ffb000 41.7%,#ffcf00 43.2%,#ffd300 43.9%,#ffa000 46.7%,#ff9300 46.9%,#ff7400 47.1%,#ff4a00 47.4%,#ff3000 47.6%,#ff2a00 47.9%,#ff2f00 48.1%,#ff4100 48.4%,#f60 48.6%,#f90 48.9%,#ffbf00 49.1%,#ffd200 49.4%,#fff700 51.1%,#ffeb00 51.9%,#ff9d00 53.8%,#ff8e00 54.8%,#ff9600 55.8%,#ffbc00 57.1%,#ffc300 57.6%,#ffa100 60.3%,#ffc200 62.8%,#ffa500 65.5%,#ffbe00 68.2%,#ffa800 71.0%,#fb0 73.7%,#ffab00 76.4%,#ffb900 79.2%,#ffac00 81.9%,#ffb800 84.6%,#ffae00 87.3%,#ffb700 90.1%,#ffaf00 92.8%,#ffb600 95.3%,#ffb000 98.0%,#ffb400 100.0%)"></div><div style="height:3.00px;background:linear-gradient(90deg,#ffb300 0.0%,#ffb200 21.3%,#ff9700 25.3%,#ff9c00 26.1%,#ffc500 28.5%,#ffb600 31.0%,#ffb800 33.3%,#ffac00 35.5%,#fb0 38.5%,#ffa800 40.9%,#ffae00 41.7%,#fc0 43.2%,#ffd300 43.9%,#ffca00 44.7%,#ffa100 46.7%,#ff9300 46.9%,#ff7400 47.1%,#ff4a00 47.4%,#ff3000 47.6%,#ff2a00 47.9%,#ff3000 48.1%,#ff4100 48.4%,#f60 48.6%,#f90 48.9%,#ffbf00 49.1%,#ffd200 49.4%,#fff400 51.1%,#ffe800 51.9%,#ff9d00 53.8%,#ff8f00 54.8%,#ff9800 55.8%,#ffbc00 57.1%,#ffc200 57.6%,#ffa300 60.0%,#ffc000 62.8%,#ffa700 65.3%,#ffbc00 68.0%,#ffab00 70.7%,#ffb800 73.2%,#ffae00 75.9%,#ffb600 78.7%,#ffb000 81.6%,#ffb300 100.0%)"></div><div style="height:3.00px;background:linear-gradient(90deg,#ffb300 0.0%,#ffb300 19.4%,#ffad00 22.6%,#ff9800 25.6%,#ffc700 28.8%,#ffb300 31.3%,#ffb800 33.7%,#ffac00 36.2%,#fb0 38.7%,#ffa900 41.2%,#ffaf00 41.9%,#ffcd00 43.4%,#ffd200 44.2%,#ffa100 46.7%,#ff9300 46.9%,#ff7400 47.1%,#ff4a00 47.4%,#ff3000 47.6%,#ff2a00 47.9%,#ff3000 48.1%,#ff4200 48.4%,#ffbe00 49.1%,#ffd100 49.4%,#fff200 51.1%,#ffe600 51.9%,#ff9d00 53.8%,#ff9000 54.8%,#f90 55.8%,#ffb800 56.8%,#ffc000 57.6%,#ffa400 59.8%,#ffbf00 62.5%,#ffa800 65.0%,#fb0 67.5%,#ffab00 70.0%,#ffb800 72.7%,#ffae00 75.2%,#ffb600 77.7%,#ffb000 80.1%,#ffb100 100.0%)"></div><div style="height:3.00px;background:linear-gradient(90deg,#ffb300 0.0%,#ffb500 19.1%,#ffab00 23.1%,#ff9800 25.8%,#ffc800 28.8%,#ffb000 31.5%,#ffba00 34.0%,#fa0 36.5%,#ffbc00 39.0%,#ffa900 41.4%,#ffd200 44.2%,#ffc900 44.9%,#ffa100 46.7%,#ff9200 46.9%,#ff4a00 47.4%,#ff3000 47.6%,#ff2a00 47.9%,#ff3000 48.1%,#ff4200 48.4%,#ffbe00 49.1%,#ffd100 49.4%,#fff000 51.1%,#ffe400 51.9%,#ff9d00 53.8%,#ff9100 54.8%,#ff9b00 55.8%,#ffb900 56.8%,#ffbf00 57.3%,#ffa400 59.6%,#ffc000 62.3%,#ffa700 64.8%,#ffbd00 67.2%,#ffa900 69.7%,#fb0 72.2%,#ffab00 74.7%,#ffb900 77.2%,#ffad00 79.7%,#ffb800 82.1%,#ffae00 84.6%,#ffb700 87.3%,#ffaf00 89.6%,#ffb600 92.3%,#ffb000 100.0%)"></div><div style="height:3.00px;background:linear-gradient(90deg,#ffb300 0.0%,#ffb000 16.4%,#ffb500 19.1%,#fa0 23.3%,#f90 25.8%,#ffc700 28.8%,#ffaf00 31.5%,#ffba00 34.0%,#fa0 36.5%,#ffbc00 39.0%,#ffa900 41.4%,#ffd100 44.2%,#ffc800 44.9%,#ffa100 46.7%,#ff9300 46.9%,#ff4c00 47.4%,#ff3200 47.6%,#ff2c00 47.9%,#ff3200 48.1%,#f40 48.4%,#ffbe00 49.1%,#ffd000 49.4%,#fe0 51.1%,#ffe300 51.9%,#ff9e00 53.8%,#ff9200 54.8%,#ff9c00 55.8%,#ffba00 56.8%,#ffbf00 57.3%,#ffa400 59.6%,#ffc000 62.3%,#ffa700 64.8%,#ffbd00 67.2%,#ffa900 69.7%,#fb0 72.2%,#ffab00 74.7%,#ffb900 77.2%,#ffac00 79.7%,#ffb800 82.1%,#ffae00 84.6%,#ffb700 87.3%,#ffaf00 89.8%,#ffb600 92.3%,#ffb000 100.0%)"></div><div style="height:3.00px;background:linear-gradient(90deg,#ffb300 0.0%,#ffb000 16.4%,#ffb500 19.1%,#ffab00 23.3%,#f90 25.8%,#ffc600 28.8%,#ffaf00 31.5%,#ffba00 34.0%,#fa0 36.5%,#ffbc00 39.0%,#ffa900 41.4%,#ffd000 44.2%,#ffc800 44.9%,#ffa100 46.7%,#ff9300 46.9%,#ff4d00 47.4%,#ff3400 47.6%,#ff2e00 47.9%,#ff3400 48.1%,#ff4600 48.4%,#ffbe00 49.1%,#ffd000 49.4%,#ffec00 51.1%,#ffe100 51.9%,#ff9e00 53.8%,#ff9300 54.8%,#ff9d00 55.8%,#ffba00 56.8%,#ffc000 57.3%,#ffa400 59.6%,#ffc000 62.3%,#ffa700 64.8%,#ffbd00 67.2%,#ffa900 69.7%,#fb0 72.2%,#ffab00 74.7%,#ffb900 77.2%,#ffac00 79.7%,#ffb800 82.1%,#ffae00 84.6%,#ffb700 87.3%,#ffaf00 89.8%,#ffb600 92.3%,#ffb000 100.0%)"></div><div style="height:3.00px;background:linear-gradient(90deg,#ffb300 0.0%,#ffb000 16.4%,#ffb500 19.1%,#ffab00 23.3%,#ff9a00 25.8%,#ffc600 28.8%,#ffaf00 31.5%,#ffba00 34.0%,#ffab00 36.7%,#ffbc00 39.0%,#ffa900 41.4%,#ffd000 44.2%,#ffc700 44.9%,#ffa100 46.7%,#ff9300 46.9%,#ff4f00 47.4%,#ff3600 47.6%,#ff3100 47.9%,#ff3600 48.1%,#ff4800 48.4%,#ffbe00 49.1%,#ffd000 49.4%,#ffeb00 51.1%,#ffdf00 51.9%,#ff9e00 53.8%,#ff9400 54.8%,#ff9e00 55.8%,#fb0 56.8%,#ffc000 57.3%,#ffa400 59.6%,#ffc000 62.3%,#ffa700 64.8%,#ffbd00 67.2%,#ffa900 69.7%,#fb0 72.2%,#ffab00 74.7%,#ffb900 77.2%,#ffac00 79.7%,#ffb800 82.1%,#ffae00 84.6%,#ffb700 87.3%,#ffaf00 89.8%,#ffb600 92.3%,#ffb000 100.0%)"></div><div style="height:3.00px;background:linear-gradient(90deg,#ffb200 0.0%,#ffb400 19.4%,#ffab00 23.1%,#ff9c00 25.6%,#ffa100 26.6%,#ffbf00 28.3%,#ffc400 29.0%,#ffb000 31.8%,#ffb800 34.2%,#ffab00 36.7%,#fb0 39.2%,#fa0 41.4%,#ffae00 42.2%,#ffcb00 43.7%,#ffce00 44.4%,#ffa100 46.7%,#ff9400 46.9%,#ff5000 47.4%,#ff3700 47.6%,#ff3200 47.9%,#ff3700 48.1%,#ff4800 48.4%,#ffbe00 49.1%,#ffcf00 49.4%,#ffe900 51.1%,#fd0 51.9%,#ffa400 53.6%,#ff9500 54.6%,#ff9a00 55.6%,#fb0 56.8%,#ffbf00 57.3%,#ffa400 59.6%,#ffbf00 62.0%,#ffa800 64.5%,#ffbc00 67.0%,#ffab00 69.5%,#ffb900 72.0%,#ffad00 74.4%,#ffb700 76.9%,#ffae00 79.7%,#ffb600 82.1%,#ffaf00 84.6%,#ffb500 87.3%,#ffb100 100.0%)"></div><div style="height:3.00px;background:linear-gradient(90deg,#ffb200 0.0%,#ffb300 20.3%,#ff9e00 25.6%,#ffc200 29.3%,#ffb000 32.0%,#ffb700 34.7%,#ffac00 37.0%,#ffba00 39.5%,#ffab00 41.7%,#ffcd00 44.4%,#ffa200 46.7%,#ff9400 46.9%,#ff5100 47.4%,#ff3800 47.6%,#ff3200 47.9%,#ff3800 48.1%,#ff4900 48.4%,#ffbd00 49.1%,#ffce00 49.4%,#ffe700 51.1%,#ffdc00 51.9%,#ffa400 53.6%,#ff9600 54.6%,#ff9b00 55.6%,#ffb600 56.6%,#ffbe00 57.3%,#ffa500 59.6%,#ffbe00 61.8%,#ffa900 64.3%,#fb0 66.7%,#ffac00 69.2%,#ffb800 71.5%,#ffae00 73.9%,#ffb600 76.4%,#ffb000 78.9%,#ffb200 100.0%)"></div><div style="height:3.00px;background:linear-gradient(90deg,#ffb200 0.0%,#ffb400 20.8%,#ffa000 25.3%,#ffc000 29.5%,#ffaf00 32.5%,#ffb800 35.0%,#ffac00 37.5%,#ffba00 39.7%,#ffab00 41.9%,#ffcd00 44.4%,#ffc500 45.2%,#ffa300 46.7%,#ff9500 46.9%,#ff5100 47.4%,#ff3900 47.6%,#f30 47.9%,#ff3800 48.1%,#ff4900 48.4%,#ffbc00 49.1%,#ffcd00 49.4%,#ffe500 51.1%,#ffdb00 51.9%,#ffa400 53.6%,#ff9700 54.6%,#ff9c00 55.6%,#ffbd00 57.1%,#ffa600 59.3%,#ffbe00 61.8%,#ffa900 64.0%,#fb0 66.5%,#ffab00 68.7%,#ffb900 71.2%,#ffad00 73.4%,#ffb700 75.7%,#ffaf00 78.2%,#ffb600 80.4%,#ffb000 82.9%,#ffb300 100.0%)"></div><div style="height:3.00px;background:linear-gradient(90deg,#ffb200 0.0%,#ffb500 21.1%,#ffa000 24.8%,#ffbf00 29.8%,#ffad00 32.8%,#ffb900 35.2%,#ffac00 37.7%,#fb0 39.7%,#ffab00 41.9%,#ffb100 42.7%,#ffc800 43.9%,#ffcb00 44.7%,#ffa400 46.7%,#ff9500 46.9%,#ff5200 47.4%,#ff3a00 47.6%,#ff3400 47.9%,#ff3900 48.1%,#ff4a00 48.4%,#ffbc00 49.1%,#ffcd00 49.4%,#ffe400 51.1%,#ffd900 51.9%,#ffa500 53.6%,#ff9700 54.6%,#ff9d00 55.6%,#ffb700 56.6%,#ffbc00 57.1%,#ffa600 59.3%,#ffbe00 61.5%,#ffa800 64.0%,#ffbc00 66.3%,#fa0 68.5%,#ffba00 71.0%,#ffac00 73.2%,#ffb900 75.7%,#ffad00 77.9%,#ffb700 80.4%,#ffae00 82.6%,#ffb600 85.1%,#ffaf00 87.3%,#ffb600 89.6%,#ffb000 92.1%,#ffb300 100.0%)"></div><div style="height:3.00px;background:linear-gradient(90deg,#ffb200 0.0%,#ffb500 21.1%,#ffa100 24.8%,#ffbf00 29.8%,#ffad00 32.8%,#ffb900 35.2%,#ffac00 37.7%,#fb0 39.7%,#ffac00 42.2%,#ffc700 43.9%,#ffcb00 44.7%,#ffa400 46.7%,#ff9600 46.9%,#ff5400 47.4%,#ff3c00 47.6%,#ff3600 47.9%,#ff3b00 48.1%,#ff4b00 48.4%,#ffbc00 49.1%,#fc0 49.4%,#ffe200 51.1%,#ffd800 51.9%,#ffa500 53.6%,#ff9800 54.6%,#ff9e00 55.6%,#ffb700 56.6%,#ffbc00 57.1%,#ffa600 59.3%,#ffbe00 61.5%,#ffa800 64.0%,#ffbc00 66.3%,#fa0 68.5%,#ffba00 71.0%,#ffac00 73.2%,#ffb900 75.7%,#ffad00 77.9%,#ffb700 80.4%,#ffae00 82.6%,#ffb600 85.1%,#ffaf00 87.3%,#ffb600 89.6%,#ffb000 92.1%,#ffb300 100.0%)"></div><div style="height:3.00px;background:linear-gradient(90deg,#ffb200 0.0%,#ffb500 21.1%,#ffa100 24.8%,#ffbe00 29.8%,#ffad00 32.8%,#ffb900 35.2%,#ffac00 37.7%,#fb0 39.7%,#ffac00 42.2%,#ffc700 43.9%,#ffca00 44.7%,#ffa400 46.7%,#ff9600 46.9%,#f50 47.4%,#ff3d00 47.6%,#ff3800 47.9%,#ff3d00 48.1%,#ff4d00 48.4%,#ffbc00 49.1%,#fc0 49.4%,#ffe100 51.1%,#ffd700 51.9%,#ffa500 53.6%,#f90 54.6%,#ff9f00 55.6%,#ffb800 56.6%,#ffbd00 57.1%,#ffa600 59.3%,#ffbe00 61.5%,#ffa800 64.0%,#ffbc00 66.3%,#fa0 68.5%,#ffba00 71.0%,#ffac00 73.2%,#ffb900 75.7%,#ffad00 77.9%,#ffb700 80.4%,#ffae00 82.6%,#ffb600 85.1%,#ffaf00 87.3%,#ffb600 89.6%,#ffb000 92.1%,#ffb300 100.0%)"></div><div style="height:3.00px;background:linear-gradient(90deg,#ffb200 0.0%,#ffb400 21.1%,#ffa100 24.8%,#ffbe00 29.8%,#ffae00 32.8%,#ffb800 35.2%,#ffac00 37.7%,#ffba00 40.0%,#ffac00 42.2%,#ffc600 43.9%,#ffca00 44.7%,#ffa400 46.7%,#ff9600 46.9%,#ff5600 47.4%,#ff3f00 47.6%,#ff3900 47.9%,#ff3f00 48.1%,#ff4f00 48.4%,#ffbc00 49.1%,#fc0 49.4%,#ffe000 51.1%,#ffd500 51.9%,#ffa500 53.6%,#ff9a00 54.6%,#ff9f00 55.6%,#ffb800 56.6%,#ffbd00 57.1%,#ffa600 59.3%,#ffbe00 61.5%,#ffa900 63.8%,#fb0 66.3%,#ffab00 68.5%,#ffba00 71.0%,#ffac00 73.2%,#ffb800 75.7%,#ffad00 77.9%,#ffb700 80.4%,#ffaf00 82.6%,#ffb600 84.9%,#ffaf00 87.3%,#ffb500 89.6%,#ffb300 100.0%)"></div><div style="height:3.00px;background:linear-gradient(90deg,#ffb200 0.0%,#ffb300 21.1%,#ffa000 25.1%,#fb0 29.8%,#ffaf00 33.0%,#ffb700 35.7%,#ffad00 37.7%,#ffb900 40.2%,#ffad00 42.2%,#ffc900 44.7%,#ffc100 45.4%,#ffa500 46.7%,#ff9700 46.9%,#ff5700 47.4%,#ff4000 47.6%,#ff3a00 47.9%,#ff3f00 48.1%,#ff4f00 48.4%,#fb0 49.1%,#ffcb00 49.4%,#ffde00 51.1%,#ffd400 51.9%,#ffa500 53.6%,#ff9a00 54.6%,#ffa000 55.6%,#ffb800 56.6%,#ffbc00 57.1%,#ffa700 59.1%,#ffbd00 61.3%,#fa0 63.8%,#ffba00 66.0%,#ffac00 68.2%,#ffb800 70.7%,#ffae00 73.0%,#ffb600 75.2%,#ffaf00 77.7%,#ffb500 79.9%,#ffb300 100.0%)"></div><div style="height:3.00px;background:linear-gradient(90deg,#ffb200 0.0%,#ffb200 21.6%,#ff9f00 25.3%,#ffb900 29.0%,#ffaf00 33.5%,#ffb700 36.0%,#ffad00 38.0%,#ffb900 40.4%,#ffae00 42.4%,#ffc800 44.7%,#ffc100 45.4%,#ffa600 46.7%,#ff9800 46.9%,#ff5900 47.4%,#ff4100 47.6%,#ff3b00 47.9%,#ff4000 48.1%,#ff5000 48.4%,#ffba00 49.1%,#ffca00 49.4%,#fd0 50.9%,#ffd800 51.6%,#ffa600 53.6%,#ff9b00 54.6%,#ff9e00 55.3%,#ffb800 56.6%,#fb0 57.1%,#ffa800 59.1%,#ffbc00 61.3%,#fa0 63.5%,#ffba00 65.8%,#ffac00 68.0%,#ffb800 70.2%,#ffae00 72.5%,#ffb600 74.7%,#ffb000 76.9%,#ffb500 79.2%,#ffb300 100.0%)"></div><div style="height:3.00px;background:linear-gradient(90deg,#ffb300 0.0%,#ffb400 18.6%,#ffb100 22.6%,#ff9e00 25.3%,#ffb800 28.3%,#ffb800 31.8%,#ffae00 33.7%,#ffb800 36.2%,#ffac00 38.2%,#ffba00 40.4%,#ffae00 42.4%,#ffc700 44.9%,#ffa700 46.7%,#f90 46.9%,#ff5a00 47.4%,#ff4200 47.6%,#ff3c00 47.9%,#ff4100 48.1%,#ff5000 48.4%,#ffb900 49.1%,#ffc900 49.4%,#ffdb00 50.9%,#ffd700 51.6%,#ffa600 53.6%,#ff9b00 54.6%,#ff9e00 55.3%,#ffba00 56.8%,#ffa800 59.1%,#ffbc00 61.0%,#fa0 63.3%,#ffba00 65.5%,#ffab00 67.7%,#ffb900 70.0%,#ffad00 72.2%,#ffb800 74.4%,#ffae00 76.7%,#ffb700 78.7%,#ffaf00 80.9%,#ffb600 83.1%,#ffaf00 85.4%,#ffb500 87.6%,#ffb300 100.0%)"></div><div style="height:3.00px;background:linear-gradient(90deg,#ffb300 0.0%,#ffb400 18.6%,#ffb100 22.6%,#ff9e00 25.3%,#ffb800 28.3%,#ffb800 31.8%,#ffae00 34.0%,#ffb800 36.2%,#ffac00 38.2%,#ffba00 40.4%,#ffae00 42.4%,#ffc600 44.9%,#ffa700 46.7%,#ff9a00 46.9%,#ff5b00 47.4%,#f40 47.6%,#ff3e00 47.9%,#ff4200 48.1%,#ff5100 48.4%,#ffb900 49.1%,#ffc900 49.4%,#ffda00 50.9%,#ffd600 51.6%,#ffa600 53.6%,#ff9c00 54.6%,#ff9f00 55.3%,#ffba00 56.8%,#ffa800 59.1%,#ffbc00 61.0%,#fa0 63.3%,#ffba00 65.5%,#ffab00 67.7%,#ffb900 70.0%,#ffad00 72.2%,#ffb800 74.4%,#ffae00 76.4%,#ffb700 78.7%,#ffaf00 80.9%,#ffb600 83.1%,#ffaf00 85.4%,#ffb500 87.6%,#ffb000 89.8%,#ffb300 100.0%)"></div><div style="height:3.00px;background:linear-gradient(90deg,#ffb300 0.0%,#ffb400 18.6%,#ffb100 22.6%,#ff9f00 25.3%,#ffb700 28.3%,#ffb800 31.8%,#ffae00 34.0%,#ffb800 36.2%,#ffac00 38.2%,#ffba00 40.4%,#ffae00 42.7%,#ffc600 44.9%,#ffa700 46.7%,#ff9a00 46.9%,#ff5c00 47.4%,#ff4600 47.6%,#ff4000 47.9%,#f40 48.1%,#ff5300 48.4%,#ffb900 49.1%,#ffc800 49.4%,#ffd900 50.9%,#ffd500 51.6%,#ffa600 53.6%,#ff9d00 54.6%,#ff9f00 55.3%,#ffba00 56.8%,#ffa800 59.1%,#ffbc00 61.0%,#fa0 63.3%,#ffba00 65.5%,#ffab00 67.7%,#ffb900 70.0%,#ffad00 72.2%,#ffb800 74.4%,#ffae00 76.4%,#ffb700 78.7%,#ffaf00 80.9%,#ffb600 83.1%,#ffaf00 85.4%,#ffb500 87.6%,#ffb000 89.8%,#ffb300 100.0%)"></div><div style="height:3.00px;background:linear-gradient(90deg,#ffb300 0.0%,#ffb400 18.6%,#ffb100 22.6%,#ff9f00 25.3%,#ffb700 28.3%,#ffb800 31.8%,#ffae00 34.0%,#ffb800 36.2%,#ffac00 38.2%,#ffba00 40.4%,#ffae00 42.7%,#ffc500 44.9%,#ffa700 46.7%,#ff9a00 46.9%,#ff5d00 47.4%,#ff4700 47.6%,#ff4100 47.9%,#ff4600 48.1%,#f50 48.4%,#ffb900 49.1%,#ffc800 49.4%,#ffd800 50.9%,#ffd400 51.6%,#ffa700 53.6%,#ff9d00 54.6%,#ffa000 55.3%,#ffba00 56.8%,#ffa800 58.8%,#ffbc00 61.0%,#fa0 63.3%,#ffba00 65.5%,#ffab00 67.7%,#ffb900 70.0%,#ffad00 72.2%,#ffb800 74.4%,#ffae00 76.4%,#ffb700 78.7%,#ffaf00 80.9%,#ffb600 83.1%,#ffaf00 85.4%,#ffb500 87.6%,#ffb000 89.8%,#ffb300 100.0%)"></div><div style="height:3.00px;background:linear-gradient(90deg,#ffb300 0.0%,#ffb400 18.9%,#ffb000 22.6%,#ffa000 25.3%,#ffb700 28.5%,#ffae00 34.0%,#ffb700 36.2%,#ffad00 38.5%,#ffb900 40.7%,#ffaf00 42.7%,#ffc500 44.9%,#ffbe00 45.7%,#ffa800 46.7%,#ff9b00 46.9%,#ff5f00 47.4%,#ff4900 47.6%,#ff4300 47.9%,#ff5600 48.4%,#ffb900 49.1%,#ffc700 49.4%,#ffd700 50.9%,#ffd300 51.6%,#ffa700 53.6%,#ff9e00 54.6%,#ffa000 55.3%,#ffba00 56.8%,#ffa800 58.8%,#fb0 61.0%,#fa0 63.3%,#ffba00 65.5%,#ffac00 67.5%,#ffb800 69.7%,#ffae00 72.0%,#ffb700 74.2%,#ffaf00 76.4%,#ffb600 78.7%,#ffb000 80.9%,#ffb300 100.0%)"></div><div style="height:3.00px;background:linear-gradient(90deg,#ffb300 0.0%,#ffb300 19.9%,#ffa100 25.6%,#ffb800 28.5%,#ffaf00 34.2%,#ffb700 36.5%,#ffae00 38.7%,#ffb800 40.9%,#ffaf00 42.7%,#ffc400 44.9%,#ffbe00 45.7%,#ffa900 46.7%,#ff9c00 46.9%,#ff6000 47.4%,#ff4a00 47.6%,#f40 47.9%,#ff5600 48.4%,#ffb800 49.1%,#ffc700 49.4%,#ffd600 50.9%,#ffd200 51.6%,#ffa700 53.6%,#ff9e00 54.6%,#ffa100 55.3%,#ffb900 56.8%,#ffa900 58.8%,#fb0 60.8%,#ffab00 63.0%,#ffb900 65.3%,#ffad00 67.2%,#ffb700 69.5%,#ffae00 71.7%,#ffb600 73.7%,#ffb000 75.9%,#ffb200 100.0%)"></div><div style="height:3.00px;background:linear-gradient(90deg,#ffb300 0.0%,#ffb400 20.1%,#ffa200 25.8%,#ffba00 28.8%,#ffaf00 34.7%,#ffb700 37.0%,#ffad00 39.0%,#ffb800 40.9%,#ffb000 42.9%,#ffc200 45.2%,#ffab00 46.7%,#ff9d00 46.9%,#ff6100 47.4%,#ff4b00 47.6%,#ff4500 47.9%,#ff5600 48.4%,#ffb700 49.1%,#ffc600 49.4%,#ffd500 50.9%,#ffd100 51.6%,#ffa700 53.6%,#ff9f00 54.6%,#ffa100 55.3%,#ffb700 56.6%,#fa0 58.8%,#fb0 60.8%,#ffab00 63.0%,#ffb900 65.0%,#ffad00 67.0%,#ffb800 69.2%,#ffae00 71.2%,#ffb600 73.4%,#ffaf00 75.4%,#ffb500 77.7%,#ffb000 79.7%,#ffb200 100.0%)"></div><div style="height:3.00px;background:linear-gradient(90deg,#ffb300 0.0%,#ffb400 20.3%,#ffa200 25.8%,#ffba00 28.8%,#ffae00 34.7%,#ffb700 37.0%,#ffad00 39.0%,#ffb900 40.9%,#ffb100 43.2%,#ffc200 45.2%,#ffab00 46.7%,#ff9e00 46.9%,#ff6200 47.4%,#ff4c00 47.6%,#ff4600 47.9%,#ff5700 48.4%,#ffb700 49.1%,#ffc500 49.4%,#ffd400 50.9%,#ffd000 51.6%,#ffa700 53.6%,#ff9f00 54.6%,#ffa200 55.3%,#ffb700 56.6%,#fa0 58.8%,#ffba00 60.8%,#ffab00 62.8%,#ffb900 65.0%,#ffac00 67.0%,#ffb800 69.0%,#ffae00 71.2%,#ffb700 73.2%,#ffae00 75.4%,#ffb600 77.4%,#ffaf00 79.4%,#ffb600 81.6%,#ffb000 83.6%,#ffb500 85.9%,#ffb100 100.0%)"></div><div style="height:3.00px;background:linear-gradient(90deg,#ffb300 0.0%,#ffb400 20.3%,#ffa200 25.8%,#ffba00 28.8%,#ffae00 34.7%,#ffb700 37.0%,#ffad00 39.0%,#ffb900 40.9%,#ffb100 43.2%,#ffc200 45.2%,#ffab00 46.7%,#ff9e00 46.9%,#ff4d00 47.6%,#ff4700 47.9%,#ff5800 48.4%,#ffb700 49.1%,#ffc500 49.4%,#ffd300 50.9%,#ffd000 51.6%,#ffa800 53.6%,#ffa000 54.6%,#ffa200 55.3%,#ffb700 56.6%,#fa0 58.8%,#ffba00 60.8%,#ffab00 62.8%,#ffb900 65.0%,#ffac00 67.0%,#ffb800 69.0%,#ffae00 71.2%,#ffb700 73.2%,#ffae00 75.4%,#ffb600 77.4%,#ffaf00 79.4%,#ffb600 81.6%,#ffb000 83.6%,#ffb500 85.9%,#ffb100 100.0%)"></div><div style="height:3.00px;background:linear-gradient(90deg,#ffb300 0.0%,#ffb400 20.3%,#ffa300 25.8%,#ffb900 28.8%,#ffae00 34.7%,#ffb700 37.0%,#ffad00 39.0%,#ffb900 40.9%,#ffb000 43.2%,#ffc100 45.2%,#ffab00 46.7%,#ff9e00 46.9%,#ff4e00 47.6%,#ff4800 47.9%,#ff5900 48.4%,#ffb700 49.1%,#ffc500 49.4%,#ffd200 50.9%,#ffcf00 51.6%,#ffa800 53.6%,#ffa000 54.6%,#ffa300 55.3%,#ffb700 56.6%,#fa0 58.8%,#ffba00 60.8%,#ffab00 62.8%,#ffb900 65.0%,#ffac00 67.0%,#ffb800 69.0%,#ffae00 71.2%,#ffb700 73.2%,#ffae00 75.4%,#ffb600 77.4%,#ffaf00 79.4%,#ffb600 81.6%,#ffb000 83.6%,#ffb500 85.9%,#ffb100 100.0%)"></div><div style="height:3.00px;background:linear-gradient(90deg,#ffb300 0.0%,#ffb400 20.3%,#ffa300 25.8%,#ffb900 28.8%,#ffaf00 34.7%,#ffb700 37.0%,#ffad00 39.0%,#ffb900 41.2%,#ffb000 43.2%,#ffc100 45.2%,#ffab00 46.7%,#ff9f00 46.9%,#ff5000 47.6%,#ff4900 47.9%,#ff5a00 48.4%,#ffb600 49.1%,#ffc400 49.4%,#ffd200 50.9%,#ffce00 51.6%,#ffa800 53.6%,#ffa100 54.6%,#ffa300 55.3%,#ffb700 56.6%,#fa0 58.6%,#ffba00 60.8%,#ffab00 62.8%,#ffb900 65.0%,#ffad00 67.0%,#ffb800 69.0%,#ffae00 71.2%,#ffb700 73.2%,#ffaf00 75.4%,#ffb600 77.4%,#ffaf00 79.4%,#ffb500 81.6%,#ffb000 83.6%,#ffb200 100.0%)"></div><div style="height:3.00px;background:linear-gradient(90deg,#ffb300 0.0%,#ffb300 20.6%,#ffa400 25.8%,#ffb800 29.0%,#ffaf00 35.0%,#ffb600 37.2%,#ffae00 39.2%,#ffb800 41.2%,#ffb100 43.2%,#ffc000 45.2%,#ffac00 46.7%,#ffa000 46.9%,#ff5100 47.6%,#ff4a00 47.9%,#ff5b00 48.4%,#ffb600 49.1%,#ffc300 49.4%,#ffd100 50.9%,#ffcd00 51.6%,#ffa800 53.6%,#ffa100 54.6%,#ffa400 55.3%,#ffb700 56.6%,#fa0 58.6%,#ffba00 60.5%,#ffac00 62.8%,#ffb800 64.8%,#ffad00 66.7%,#ffb700 69.0%,#ffaf00 71.0%,#ffb600 73.0%,#ffb000 74.9%,#ffb500 77.2%,#ffb200 100.0%)"></div><div style="height:3.00px;background:linear-gradient(90deg,#ffb200 0.0%,#ffb300 21.1%,#ffa600 25.6%,#ffb800 29.0%,#ffaf00 35.2%,#ffb600 37.5%,#ffae00 39.5%,#ffb800 41.4%,#ffb200 43.4%,#ffbf00 45.4%,#ffad00 46.7%,#ffa100 46.9%,#ff5200 47.6%,#ff4c00 47.9%,#ff5b00 48.4%,#ffb500 49.1%,#ffc300 49.4%,#ffd000 50.9%,#ffcd00 51.6%,#ffa900 53.6%,#ffa100 54.6%,#ffa400 55.3%,#ffb700 56.6%,#ffab00 58.6%,#ffb900 60.5%,#ffac00 62.5%,#ffb800 64.5%,#ffae00 66.5%,#ffb700 68.7%,#ffaf00 70.7%,#ffb600 72.7%,#ffb000 74.7%,#ffb300 100.0%)"></div><div style="height:3.00px;background:linear-gradient(90deg,#ffb200 0.0%,#ffb300 21.3%,#ffa600 25.1%,#ffb800 29.3%,#ffaf00 35.5%,#ffb600 37.7%,#ffae00 39.7%,#ffb800 41.4%,#ffb200 43.4%,#ffbe00 45.4%,#ffae00 46.7%,#ffa200 46.9%,#ff5400 47.6%,#ff4d00 47.9%,#ff5c00 48.4%,#ffb400 49.1%,#ffc200 49.4%,#ffcb00 49.9%,#ffcf00 50.9%,#fc0 51.6%,#ffa900 53.6%,#ffa200 54.6%,#ffb600 56.6%,#ffab00 58.6%,#ffb900 60.5%,#ffac00 62.5%,#ffb800 64.5%,#ffad00 66.5%,#ffb700 68.5%,#ffae00 70.5%,#ffb600 72.5%,#ffaf00 74.4%,#ffb600 76.4%,#ffb000 78.4%,#ffb500 80.4%,#ffb300 100.0%)"></div><div style="height:3.00px;background:linear-gradient(90deg,#ffb200 0.0%,#ffb300 21.3%,#ffa600 24.8%,#fa0 27.0%,#ffb800 29.3%,#ffaf00 35.5%,#ffb600 37.7%,#ffae00 39.7%,#ffb800 41.4%,#ffb200 43.4%,#ffbe00 45.4%,#ffae00 46.7%,#ffa200 46.9%,#f50 47.6%,#ff4e00 47.9%,#ff5d00 48.4%,#ffb400 49.1%,#ffc200 49.4%,#ffcb00 49.9%,#ffcf00 50.9%,#ffcb00 51.6%,#ffa900 53.6%,#ffa200 54.6%,#ffb600 56.6%,#ffab00 58.6%,#ffb900 60.3%,#ffac00 62.5%,#ffb800 64.5%,#ffad00 66.5%,#ffb700 68.5%,#ffae00 70.5%,#ffb600 72.5%,#ffaf00 74.4%,#ffb600 76.4%,#ffb000 78.4%,#ffb500 80.4%,#ffb000 82.4%,#ffb400 100.0%)"></div><div style="height:3.00px;background:linear-gradient(90deg,#ffb200 0.0%,#ffb300 21.3%,#ffa700 24.8%,#ffb800 29.5%,#ffaf00 35.5%,#ffb600 37.7%,#ffae00 39.7%,#ffb800 41.4%,#ffb100 43.4%,#ffbe00 45.4%,#ffae00 46.7%,#ffa200 46.9%,#ff5600 47.6%,#ff4f00 47.9%,#ff5e00 48.4%,#ffb400 49.1%,#ffc100 49.4%,#ffce00 50.9%,#ffcb00 51.6%,#ffa900 53.6%,#ffa300 54.6%,#ffb600 56.6%,#ffab00 58.6%,#ffb900 60.3%,#ffac00 62.5%,#ffb800 64.5%,#ffad00 66.5%,#ffb700 68.5%,#ffae00 70.5%,#ffb600 72.5%,#ffaf00 74.4%,#ffb600 76.4%,#ffb000 78.4%,#ffb500 80.4%,#ffb000 82.4%,#ffb400 100.0%)"></div><div style="height:3.00px;background:linear-gradient(90deg,#ffb200 0.0%,#ffb300 21.6%,#ffa700 24.8%,#ffb800 29.5%,#ffaf00 35.5%,#ffb600 37.7%,#ffae00 39.7%,#ffb800 41.4%,#ffb100 43.4%,#ffbe00 45.4%,#ffae00 46.7%,#ffa200 46.9%,#ff5700 47.6%,#ff5000 47.9%,#ff5f00 48.4%,#ffb400 49.1%,#ffc100 49.4%,#ffcd00 50.9%,#ffca00 51.6%,#ffa900 53.6%,#ffa300 54.6%,#ffb600 56.6%,#ffab00 58.6%,#ffb900 60.3%,#ffac00 62.5%,#ffb800 64.5%,#ffad00 66.5%,#ffb700 68.5%,#ffae00 70.5%,#ffb600 72.5%,#ffaf00 74.4%,#ffb600 76.4%,#ffb000 78.4%,#ffb500 80.4%,#ffb000 82.4%,#ffb400 100.0%)"></div><div style="height:3.00px;background:linear-gradient(90deg,#ffb200 0.0%,#ffb300 21.6%,#ffa700 25.1%,#ffb700 29.5%,#ffaf00 35.7%,#ffb600 37.7%,#ffae00 39.7%,#ffb800 41.7%,#ffb200 43.7%,#ffbd00 45.4%,#ffaf00 46.7%,#ffa300 46.9%,#ff5800 47.6%,#ff5200 47.9%,#ff6000 48.4%,#ffb400 49.1%,#ffc100 49.4%,#ffcd00 50.9%,#ffc900 51.6%,#fa0 53.6%,#ffa300 54.6%,#ffb600 56.6%,#ffac00 58.6%,#ffb900 60.3%,#ffad00 62.3%,#ffb800 64.3%,#ffae00 66.3%,#ffb700 68.2%,#ffaf00 70.2%,#ffb600 72.2%,#ffaf00 74.2%,#ffb500 76.2%,#ffb300 100.0%)"></div><div style="height:3.00px;background:linear-gradient(90deg,#ffb200 0.0%,#ffb200 21.8%,#ffa600 25.1%,#ffb700 29.8%,#ffb000 36.0%,#ffb600 38.0%,#ffaf00 40.0%,#ffb700 41.7%,#ffb200 43.7%,#ffbc00 45.7%,#ffb500 46.4%,#ffa400 46.9%,#ff5a00 47.6%,#ff5300 47.9%,#ff6000 48.4%,#ffb300 49.1%,#ffc000 49.4%,#fc0 50.9%,#ffc900 51.6%,#fa0 53.6%,#ffa400 54.6%,#ffb600 56.6%,#ffac00 58.3%,#ffb800 60.3%,#ffad00 62.3%,#ffb700 64.3%,#ffae00 66.3%,#ffb600 68.0%,#ffaf00 70.0%,#ffb500 72.0%,#ffb000 73.9%,#ffb300 100.0%)"></div><div style="height:3.00px;background:linear-gradient(90deg,#ffb300 0.0%,#ffb300 19.1%,#ffb100 22.6%,#ffa500 25.1%,#ffb600 30.0%,#ffb000 36.2%,#ffb600 38.2%,#ffaf00 40.0%,#ffbc00 45.7%,#ffb600 46.4%,#ffa500 46.9%,#ff5b00 47.6%,#ff5400 47.9%,#ff6100 48.4%,#ffb300 49.1%,#ffbf00 49.4%,#ffc800 49.9%,#ffcb00 50.9%,#ffa400 54.6%,#ffb500 56.6%,#ffac00 58.3%,#ffb800 60.3%,#ffad00 62.0%,#ffb700 64.0%,#ffae00 66.0%,#ffb600 68.0%,#ffaf00 69.7%,#ffb600 71.7%,#ffb000 73.7%,#ffb200 100.0%)"></div><div style="height:3.00px;background:linear-gradient(90deg,#ffb300 0.0%,#ffb400 19.1%,#ffb100 22.6%,#ffa500 25.1%,#ffb600 30.0%,#ffaf00 36.2%,#ffb600 38.2%,#ffaf00 40.2%,#fb0 45.7%,#ffb600 46.4%,#ffa500 46.9%,#ff5c00 47.6%,#f50 47.9%,#ff6200 48.4%,#ffb300 49.1%,#ffbf00 49.4%,#ffc800 49.9%,#ffcb00 50.9%,#ffa400 54.6%,#ffb500 56.6%,#ffac00 58.3%,#ffb800 60.0%,#ffad00 62.0%,#ffb700 64.0%,#ffae00 66.0%,#ffb600 67.7%,#ffaf00 69.7%,#ffb600 71.7%,#ffb000 73.4%,#ffb500 75.4%,#ffb000 77.4%,#ffb200 100.0%)"></div><div style="height:3.00px;background:linear-gradient(90deg,#ffb300 0.0%,#ffb400 19.1%,#ffb100 22.6%,#ffa500 25.1%,#ffb600 30.0%,#ffaf00 36.2%,#ffb600 38.2%,#ffaf00 40.2%,#fb0 45.7%,#ffb600 46.4%,#ffa500 46.9%,#ff5e00 47.6%,#ff5700 47.9%,#ff6300 48.4%,#ffb300 49.1%,#ffbf00 49.4%,#ffca00 50.9%,#ffa500 54.6%,#ffb500 56.6%,#ffac00 58.3%,#ffb800 60.0%,#ffad00 62.0%,#ffb700 64.0%,#ffae00 66.0%,#ffb600 67.7%,#ffaf00 69.7%,#ffb600 71.7%,#ffb000 73.4%,#ffb500 75.4%,#ffb000 77.4%,#ffb200 100.0%)"></div><div style="height:3.00px;background:linear-gradient(90deg,#ffb300 0.0%,#ffb400 19.1%,#ffb100 22.6%,#ffa600 25.1%,#ffb600 30.0%,#ffaf00 36.2%,#ffb600 38.2%,#ffaf00 40.2%,#fb0 45.7%,#ffb600 46.4%,#ffa500 46.9%,#ff5f00 47.6%,#ff5800 47.9%,#ff6400 48.4%,#ffb300 49.1%,#ffbf00 49.4%,#ffca00 50.9%,#ffa500 54.6%,#ffb500 56.6%,#ffac00 58.3%,#ffb800 60.0%,#ffad00 62.0%,#ffb700 64.0%,#ffae00 66.0%,#ffb600 67.7%,#ffaf00 69.7%,#ffb600 71.7%,#ffb000 73.4%,#ffb500 75.4%,#ffb000 77.4%,#ffb200 100.0%)"></div><div style="height:3.00px;background:linear-gradient(90deg,#ffb300 0.0%,#ffb300 19.4%,#ffb000 22.8%,#ffa600 25.1%,#ffb600 30.3%,#ffb000 36.2%,#ffb600 38.2%,#ffaf00 40.2%,#fb0 45.7%,#ffb600 46.4%,#ffa600 46.9%,#ff6000 47.6%,#ff5900 47.9%,#ff6500 48.4%,#ffb200 49.1%,#ffc400 49.6%,#ffc800 50.1%,#ffc800 51.4%,#ffab00 53.6%,#ffa500 54.6%,#ffb500 56.6%,#ffac00 58.3%,#ffb800 60.0%,#ffae00 62.0%,#ffb700 64.0%,#ffae00 66.0%,#ffb600 67.7%,#ffaf00 69.7%,#ffb600 71.7%,#ffb000 73.4%,#ffb500 75.4%,#ffb200 100.0%)"></div><div style="height:3.00px;background:linear-gradient(90deg,#ffb300 0.0%,#ffb300 19.6%,#ffa600 25.3%,#ffb500 30.3%,#ffb000 36.5%,#ffb500 38.5%,#ffaf00 40.2%,#ffba00 45.9%,#ffb600 46.4%,#ffa600 46.9%,#ff6100 47.6%,#ff5a00 47.9%,#f60 48.4%,#ffb200 49.1%,#ffc300 49.6%,#ffc800 50.1%,#ffc800 51.4%,#ffab00 53.6%,#ffa500 54.6%,#ffb500 56.6%,#ffad00 58.3%,#ffb800 60.0%,#ffae00 62.0%,#ffb700 63.8%,#ffaf00 65.8%,#ffb600 67.7%,#ffaf00 69.5%,#ffb500 71.5%,#ffb200 100.0%)"></div><div style="height:3.00px;background:linear-gradient(90deg,#ffb200 0.0%,#ffb300 20.1%,#ffa600 25.6%,#ffb500 30.5%,#ffaf00 40.4%,#ffba00 45.9%,#ffb600 46.4%,#ffa700 46.9%,#ff6300 47.6%,#ff5c00 47.9%,#ff6700 48.4%,#ffb200 49.1%,#ffc300 49.6%,#ffc700 50.1%,#ffc700 51.4%,#ffab00 53.6%,#ffa600 54.6%,#ffb400 56.3%,#ffad00 58.3%,#ffb700 60.0%,#ffae00 62.0%,#ffb600 63.8%,#ffaf00 65.8%,#ffb600 67.5%,#ffb000 69.5%,#ffb500 71.2%,#ffb300 100.0%)"></div><div style="height:3.00px;background:linear-gradient(90deg,#ffb200 0.0%,#ffb300 20.3%,#ffa600 25.6%,#ffb300 28.3%,#ffb500 38.7%,#ffaf00 40.4%,#ffb900 45.9%,#ffb600 46.4%,#ffa800 46.9%,#ff6400 47.6%,#ff5d00 47.9%,#ff6800 48.4%,#ffb100 49.1%,#ffbd00 49.4%,#ffc700 50.4%,#ffc500 51.6%,#ffab00 53.6%,#ffa600 54.6%,#ffb400 56.3%,#ffad00 58.1%,#ffb700 60.0%,#ffae00 61.8%,#ffb600 63.8%,#ffaf00 65.5%,#ffb600 67.2%,#ffaf00 69.2%,#ffb500 71.0%,#ffb000 73.0%,#ffb300 100.0%)"></div><div style="height:3.00px;background:linear-gradient(90deg,#ffb200 0.0%,#ffb300 20.3%,#ffa600 25.6%,#ffb200 28.3%,#ffb500 38.7%,#ffaf00 40.4%,#ffb900 45.9%,#ffb600 46.4%,#ffa800 46.9%,#ff6500 47.6%,#ff5e00 47.9%,#ff6900 48.4%,#ffb100 49.1%,#ffc200 49.6%,#ffc600 50.1%,#ffc700 51.4%,#ffa600 54.6%,#ffb400 56.3%,#ffad00 58.1%,#ffb700 60.0%,#ffae00 61.8%,#ffb600 63.8%,#ffaf00 65.5%,#ffb600 67.2%,#ffaf00 69.2%,#ffb500 71.0%,#ffb000 73.0%,#ffb300 100.0%)"></div><div style="height:3.00px;background:linear-gradient(90deg,#ffb200 0.0%,#ffb300 20.3%,#ffa700 25.6%,#ffb200 28.0%,#ffb500 31.0%,#ffb000 36.7%,#ffb500 38.7%,#ffaf00 40.4%,#ffb900 45.9%,#ffb600 46.4%,#ffa800 46.9%,#f60 47.6%,#ff6000 47.9%,#ff6a00 48.4%,#ffb100 49.1%,#ffc200 49.6%,#ffc600 50.1%,#ffc600 51.4%,#ffa600 54.6%,#ffb400 56.3%,#ffad00 58.1%,#ffb700 60.0%,#ffae00 61.8%,#ffb600 63.8%,#ffaf00 65.5%,#ffb600 67.2%,#ffaf00 69.2%,#ffb500 71.0%,#ffb000 73.0%,#ffb300 100.0%)"></div><div style="height:3.00px;background:linear-gradient(90deg,#ffb200 0.0%,#ffb300 20.3%,#ffa700 25.6%,#ffb500 31.0%,#ffb000 36.7%,#ffb500 38.7%,#ffaf00 40.4%,#ffb900 45.9%,#ffb600 46.4%,#ffa800 46.9%,#ff6700 47.6%,#ff6100 47.9%,#ff6b00 48.4%,#ffb100 49.1%,#ffc200 49.6%,#ffc600 50.1%,#ffc400 51.6%,#ffa700 54.6%,#ffb400 56.3%,#ffad00 58.1%,#ffb700 60.0%,#ffae00 61.8%,#ffb600 63.8%,#ffaf00 65.5%,#ffb600 67.2%,#ffaf00 69.2%,#ffb500 71.0%,#ffb000 73.0%,#ffb300 100.0%)"></div><div style="height:3.00px;background:linear-gradient(90deg,#ffb200 0.0%,#ffb300 20.3%,#ffa700 25.6%,#ffb200 28.3%,#ffb500 38.7%,#ffb000 40.4%,#ffb900 45.9%,#ffb600 46.4%,#ffa800 46.9%,#ff6900 47.6%,#ff6200 47.9%,#ff6c00 48.4%,#ffb100 49.1%,#ffc100 49.6%,#ffc500 50.1%,#ffc400 51.6%,#ffa700 54.6%,#ffb400 56.3%,#ffae00 58.1%,#ffb700 60.0%,#ffae00 61.8%,#ffb600 63.5%,#ffaf00 65.5%,#ffb600 67.2%,#ffb000 69.0%,#ffb500 71.0%,#ffb300 100.0%)"></div><div style="height:3.00px;background:linear-gradient(90deg,#ffb200 0.0%,#ffb300 20.6%,#ffa800 25.8%,#ffb300 28.5%,#ffb000 40.7%,#ffb800 45.9%,#ffb600 46.4%,#ffa900 46.9%,#ff6a00 47.6%,#ff6300 47.9%,#ff6d00 48.4%,#ffb100 49.1%,#ffc100 49.6%,#ffc500 50.1%,#ffc500 51.4%,#ffa700 54.6%,#ffb400 56.3%,#ffae00 58.1%,#ffb700 59.8%,#ffaf00 61.8%,#ffb600 63.5%,#ffaf00 65.3%,#ffb500 67.2%,#ffb000 69.0%,#ffb300 100.0%)"></div><div style="height:3.00px;background:linear-gradient(90deg,#ffb300 0.0%,#ffb300 21.1%,#ffa800 25.8%,#ffb300 28.5%,#ffb000 40.7%,#ffb800 46.2%,#ffa900 46.9%,#ff6b00 47.6%,#ff6500 47.9%,#ff6e00 48.4%,#ffb100 49.1%,#fb0 49.4%,#ffc500 50.4%,#ffc300 51.6%,#ffa700 54.6%,#ffb300 56.3%,#ffae00 58.1%,#ffb600 59.8%,#ffaf00 61.5%,#ffb600 63.5%,#ffaf00 65.3%,#ffb500 67.0%,#ffb000 68.7%,#ffb300 100.0%)"></div><div style="height:3.00px;background:linear-gradient(90deg,#ffb300 0.0%,#ffb300 21.1%,#ffa800 26.1%,#ffb300 28.5%,#ffb000 40.7%,#ffb700 46.2%,#fa0 46.9%,#ff6d00 47.6%,#f60 47.9%,#ff6f00 48.4%,#ffb100 49.1%,#fb0 49.4%,#ffc400 50.4%,#ffc300 51.6%,#ffa800 54.6%,#ffb300 56.3%,#ffae00 58.1%,#ffb600 59.8%,#ffaf00 61.5%,#ffb600 63.3%,#ffb000 65.3%,#ffb500 67.0%,#ffb000 68.7%,#ffb200 100.0%)"></div><div style="height:3.00px;background:linear-gradient(90deg,#ffb300 0.0%,#ffb300 21.1%,#ffa900 26.1%,#ffb300 28.5%,#ffb000 40.7%,#ffb700 46.2%,#fa0 46.9%,#ff6e00 47.6%,#ff6700 47.9%,#ff7000 48.4%,#ffb100 49.1%,#fb0 49.4%,#ffc400 50.4%,#ffc200 51.6%,#ffa800 54.6%,#ffb300 56.3%,#ffae00 58.1%,#ffb600 59.8%,#ffaf00 61.5%,#ffb600 63.3%,#ffb000 65.3%,#ffb500 67.0%,#ffb000 68.7%,#ffb200 100.0%)"></div><div style="height:3.00px;background:linear-gradient(90deg,#ffb300 0.0%,#ffb300 21.1%,#ffa900 26.1%,#ffb300 28.5%,#ffb000 40.7%,#ffb700 46.2%,#fa0 46.9%,#ff6f00 47.6%,#ff6900 47.9%,#ff7100 48.4%,#ffb100 49.1%,#fb0 49.4%,#ffc400 50.4%,#ffc200 51.6%,#ffa800 54.6%,#ffb300 56.3%,#ffae00 58.1%,#ffb600 59.8%,#ffaf00 61.5%,#ffb600 63.3%,#ffb000 65.3%,#ffb500 67.0%,#ffb000 68.7%,#ffb200 100.0%)"></div><div style="height:3.00px;background:linear-gradient(90deg,#ffb300 0.0%,#ffb300 21.1%,#ffa900 26.1%,#ffb300 28.8%,#ffb000 40.9%,#ffb700 46.2%,#fa0 46.9%,#ff7000 47.6%,#ff6a00 47.9%,#ff7200 48.4%,#ffb100 49.1%,#ffbf00 49.6%,#ffc300 50.1%,#ffc200 51.6%,#ffa800 54.6%,#ffb300 56.3%,#ffae00 58.1%,#ffb600 59.8%,#ffaf00 61.5%,#ffb600 63.3%,#ffb000 65.3%,#ffb500 67.0%,#ffb000 68.7%,#ffb200 100.0%)"></div><div style="height:3.00px;background:linear-gradient(90deg,#ffb300 0.0%,#ffb300 21.3%,#ffa900 26.1%,#ffb300 28.8%,#ffb000 40.9%,#ffb700 46.2%,#fa0 46.9%,#ff7100 47.6%,#ff6b00 47.9%,#ff7300 48.4%,#ffb000 49.1%,#ffba00 49.4%,#ffc300 50.4%,#ffc100 51.6%,#ffa800 54.6%,#ffb300 56.3%,#ffaf00 58.1%,#ffb600 59.8%,#ffaf00 61.5%,#ffb500 63.3%,#ffb000 65.0%,#ffb500 66.7%,#ffb200 100.0%)"></div><div style="height:3.00px;background:linear-gradient(90deg,#ffb300 0.0%,#ffb200 21.6%,#fa0 26.1%,#ffb400 29.0%,#ffb000 40.9%,#ffb700 46.2%,#ffab00 46.9%,#ff7200 47.6%,#ff6c00 47.9%,#ff7400 48.4%,#ffb000 49.1%,#ffba00 49.4%,#ffc300 50.4%,#ffc100 51.6%,#ffa900 54.6%,#ffb300 56.3%,#ffaf00 58.1%,#ffb600 59.8%,#ffaf00 61.5%,#ffb500 63.3%,#ffb000 65.0%,#ffb200 100.0%)"></div><div style="height:3.00px;background:linear-gradient(90deg,#ffb200 0.0%,#ffb200 21.6%,#fa0 25.8%,#ffb400 29.0%,#ffb000 41.2%,#ffb600 46.2%,#ffab00 46.9%,#ff7300 47.6%,#ff6d00 47.9%,#ff7400 48.4%,#ffb000 49.1%,#ffb900 49.4%,#ffc300 50.4%,#ffc100 51.6%,#ffa900 54.6%,#ffb300 56.3%,#ffaf00 58.1%,#ffb600 59.6%,#ffb000 61.3%,#ffb500 63.0%,#ffb200 100.0%)"></div><div style="height:3.00px;background:linear-gradient(90deg,#ffb200 0.0%,#ffb200 21.6%,#ffab00 26.1%,#ffb400 29.0%,#ffb000 41.2%,#ffb600 46.2%,#ffab00 46.9%,#ff7300 47.6%,#ff6d00 47.9%,#ff7500 48.4%,#ffb000 49.1%,#ffb900 49.4%,#ffc200 50.4%,#ffc000 51.6%,#ffa900 54.6%,#ffb300 56.3%,#ffaf00 58.1%,#ffb600 59.6%,#ffb000 61.3%,#ffb500 63.0%,#ffb200 100.0%)"></div><div style="height:6.00px;background:linear-gradient(90deg,#ffb200 0.0%,#ffb200 21.6%,#ffab00 26.1%,#ffb400 29.0%,#ffb000 41.2%,#ffb600 46.2%,#ffab00 46.9%,#ff7400 47.6%,#ff6e00 47.9%,#ff7500 48.4%,#ffb000 49.1%,#ffb900 49.4%,#ffc200 50.4%,#ffc000 51.6%,#ffa900 54.6%,#ffb300 56.3%,#ffaf00 58.1%,#ffb600 59.6%,#ffb000 61.3%,#ffb500 63.0%,#ffb200 100.0%)"></div><div style="height:3.00px;background:linear-gradient(90deg,#ffb200 0.0%,#ffb200 21.8%,#ffab00 25.6%,#ffb400 29.0%,#ffb600 46.2%,#ffab00 46.9%,#ff7400 47.6%,#ff6e00 47.9%,#ff7600 48.4%,#ffb000 49.1%,#ffb900 49.4%,#ffc100 50.4%,#ffc000 51.6%,#ffa900 54.6%,#ffb300 56.3%,#ffaf00 58.1%,#ffb500 59.6%,#ffb000 61.3%,#ffb500 63.0%,#ffb200 100.0%)"></div><div style="height:3.00px;background:linear-gradient(90deg,#ffb200 0.0%,#ffb300 19.1%,#ffab00 25.1%,#ffb400 29.3%,#ffb600 46.2%,#ffab00 46.9%,#ff7500 47.6%,#ff6f00 47.9%,#ff7600 48.4%,#ffb000 49.1%,#ffb900 49.4%,#ffc100 50.4%,#ffbf00 51.6%,#fa0 54.6%,#ffb300 56.3%,#ffb500 59.6%,#ffb000 61.3%,#ffb300 100.0%)"></div><div style="height:3.00px;background:linear-gradient(90deg,#ffb200 0.0%,#ffb300 19.4%,#ffab00 25.1%,#ffb400 29.3%,#ffb600 46.2%,#ffab00 46.9%,#ff7600 47.6%,#ff6f00 47.9%,#ff7600 48.4%,#ffaf00 49.1%,#ffb800 49.4%,#ffc100 50.4%,#ffbf00 51.6%,#fa0 54.6%,#ffb500 59.6%,#ffb000 61.3%,#ffb300 100.0%)"></div><div style="height:3.00px;background:linear-gradient(90deg,#ffb200 0.0%,#ffb300 19.4%,#ffab00 25.1%,#ffb400 29.5%,#ffb500 46.2%,#ffab00 46.9%,#ff7600 47.6%,#ff7000 47.9%,#f70 48.4%,#ffaf00 49.1%,#ffb800 49.4%,#ffc100 50.4%,#ffbf00 51.6%,#fa0 54.6%,#ffb500 59.6%,#ffb300 100.0%)"></div><div style="height:3.00px;background:linear-gradient(90deg,#ffb200 0.0%,#ffb300 19.4%,#ffab00 25.1%,#ffb400 29.5%,#ffb500 46.2%,#ffab00 46.9%,#ff7600 47.6%,#ff7000 47.9%,#f70 48.4%,#ffaf00 49.1%,#ffb800 49.4%,#ffc000 50.4%,#ffbf00 51.6%,#fa0 54.6%,#ffb500 59.6%,#ffb300 100.0%)"></div><div style="height:3.00px;background:linear-gradient(90deg,#ffb200 0.0%,#ffb300 19.4%,#ffab00 25.1%,#ffb400 29.5%,#ffb500 46.2%,#ffab00 46.9%,#f70 47.6%,#ff7100 47.9%,#f70 48.4%,#ffaf00 49.1%,#ffb800 49.4%,#ffc000 50.4%,#fa0 54.6%,#ffb500 59.6%,#ffb300 100.0%)"></div><div style="height:3.00px;background:linear-gradient(90deg,#ffb200 0.0%,#ffb300 19.4%,#ffab00 25.1%,#ffb400 29.5%,#ffb500 46.2%,#ffab00 46.9%,#f70 47.6%,#ff7100 47.9%,#ff7800 48.4%,#ffaf00 49.1%,#ffb800 49.4%,#ffc000 50.4%,#fa0 54.6%,#ffb500 59.6%,#ffb300 100.0%)"></div><div style="height:3.00px;background:linear-gradient(90deg,#ffb300 0.0%,#ffb300 19.6%,#ffab00 25.1%,#ffb300 29.5%,#ffb500 46.2%,#ffab00 46.9%,#f70 47.6%,#ff7100 47.9%,#ff7800 48.4%,#ffaf00 49.1%,#ffb700 49.4%,#ffc000 50.4%,#fa0 54.6%,#ffb500 59.6%,#ffb300 100.0%)"></div><div style="height:3.00px;background:linear-gradient(90deg,#ffb300 0.0%,#ffb300 19.9%,#ffab00 25.3%,#ffb400 29.8%,#ffb500 46.2%,#ffab00 46.9%,#ff7800 47.6%,#ff7200 47.9%,#ff7800 48.4%,#ffaf00 49.1%,#ffb700 49.4%,#ffbf00 50.4%,#ffab00 54.6%,#ffb500 59.6%,#ffb300 100.0%)"></div><div style="height:3.00px;background:linear-gradient(90deg,#ffb300 0.0%,#ffb300 20.1%,#ffab00 25.3%,#ffb300 29.8%,#ffb500 46.2%,#ffac00 46.9%,#ff7800 47.6%,#ff7300 47.9%,#ff7900 48.4%,#ffaf00 49.1%,#ffb700 49.4%,#ffbf00 50.4%,#ffab00 54.6%,#ffb500 59.3%,#ffb300 100.0%)"></div><div style="height:6.00px;background:linear-gradient(90deg,#ffb300 0.0%,#ffb300 20.1%,#ffab00 25.3%,#ffb300 29.8%,#ffb400 46.4%,#ffac00 46.9%,#ff7900 47.6%,#ff7300 47.9%,#ff7900 48.4%,#ffaf00 49.1%,#ffb700 49.4%,#ffbf00 50.4%,#ffab00 54.6%,#ffb500 59.3%,#ffb300 100.0%)"></div><div style="height:3.00px;background:linear-gradient(90deg,#ffb300 0.0%,#ffb300 20.1%,#ffab00 25.3%,#ffb300 29.8%,#ffb400 46.4%,#ffac00 46.9%,#ff7900 47.6%,#ff7400 47.9%,#ff7a00 48.4%,#ffaf00 49.1%,#ffb700 49.4%,#ffbf00 50.4%,#ffab00 54.6%,#ffb500 59.3%,#ffb300 100.0%)"></div><div style="height:3.00px;background:linear-gradient(90deg,#ffb300 0.0%,#ffb300 20.1%,#ffab00 25.3%,#ffb300 29.8%,#ffb400 46.4%,#ffac00 46.9%,#ff7a00 47.6%,#ff7400 47.9%,#ff7a00 48.4%,#ffaf00 49.1%,#ffb700 49.4%,#ffbe00 50.4%,#ffab00 54.6%,#ffb500 59.3%,#ffb300 100.0%)"></div><div style="height:3.00px;background:linear-gradient(90deg,#ffb300 0.0%,#ffb300 20.3%,#ffab00 25.3%,#ffb300 30.0%,#ffb400 46.4%,#ffac00 46.9%,#ff7a00 47.6%,#ff7400 47.9%,#ff7a00 48.4%,#ffae00 49.1%,#ffb600 49.4%,#ffbe00 50.4%,#ffab00 54.6%,#ffb400 59.3%,#ffb200 100.0%)"></div><div style="height:3.00px;background:linear-gradient(90deg,#ffb300 0.0%,#ffb300 20.3%,#ffab00 25.3%,#ffb300 30.0%,#ffb400 46.4%,#ffac00 46.9%,#ff7b00 47.6%,#ff7500 48.1%,#ff7b00 48.4%,#ffae00 49.1%,#ffba00 49.6%,#ffbe00 50.4%,#ffab00 54.6%,#ffb400 59.3%,#ffb200 100.0%)"></div><div style="height:3.00px;background:linear-gradient(90deg,#ffb300 0.0%,#ffb300 20.6%,#ffab00 25.6%,#ffb300 30.0%,#ffb400 46.4%,#ffac00 46.9%,#ff7b00 47.6%,#ff7500 48.1%,#ff7b00 48.4%,#ffae00 49.1%,#ffba00 49.6%,#ffbe00 50.4%,#ffab00 54.6%,#ffb400 59.3%,#ffb200 100.0%)"></div><div style="height:3.00px;background:linear-gradient(90deg,#ffb300 0.0%,#ffb300 20.6%,#ffac00 25.6%,#ffb300 30.0%,#ffb400 46.4%,#ffac00 46.9%,#ff7b00 47.6%,#ff7600 48.1%,#ff7b00 48.4%,#ffae00 49.1%,#ffba00 49.6%,#ffbe00 50.4%,#ffac00 54.6%,#ffb400 59.3%,#ffb200 100.0%)"></div><div style="height:3.00px;background:linear-gradient(90deg,#ffb300 0.0%,#ffb300 20.6%,#ffac00 25.6%,#ffb300 30.0%,#ffb400 46.4%,#ffac00 46.9%,#ff7c00 47.6%,#ff7600 48.1%,#ff7c00 48.4%,#ffae00 49.1%,#ffba00 49.6%,#ffbe00 50.4%,#ffac00 54.6%,#ffb400 59.3%,#ffb200 100.0%)"></div><div style="height:3.00px;background:linear-gradient(90deg,#ffb200 0.0%,#ffb300 20.6%,#ffac00 25.6%,#ffb300 30.3%,#ffb400 46.4%,#ffac00 46.9%,#ff7c00 47.6%,#ff7600 48.1%,#ff7c00 48.4%,#ffae00 49.1%,#ffba00 49.6%,#ffbd00 50.4%,#ffac00 54.6%,#ffb400 59.3%,#ffb200 100.0%)"></div><div style="height:3.00px;background:linear-gradient(90deg,#ffb200 0.0%,#ffb300 20.6%,#ffac00 25.6%,#ffb300 30.3%,#ffb400 46.4%,#ffac00 46.9%,#ff7c00 47.6%,#f70 48.1%,#ff7c00 48.4%,#ffae00 49.1%,#ffb900 49.6%,#ffbd00 50.4%,#ffac00 54.6%,#ffb400 59.3%,#ffb200 100.0%)"></div><div style="height:3.00px;background:linear-gradient(90deg,#ffb200 0.0%,#ffb300 20.8%,#ffac00 25.6%,#ffb300 30.3%,#ffb300 46.4%,#ffac00 46.9%,#ff7d00 47.6%,#f70 48.1%,#ff7d00 48.4%,#ffae00 49.1%,#ffb900 49.6%,#ffbd00 50.4%,#ffac00 54.6%,#ffb400 59.3%,#ffb200 100.0%)"></div><div style="height:3.00px;background:linear-gradient(90deg,#ffb200 0.0%,#ffb300 20.8%,#ffac00 25.6%,#ffb300 30.5%,#ffb300 46.4%,#ffac00 46.9%,#ff7d00 47.6%,#ff7800 48.1%,#ff7d00 48.4%,#ffae00 49.1%,#ffb900 49.6%,#ffbd00 50.4%,#ffac00 54.6%,#ffb400 59.3%,#ffb200 100.0%)"></div><div style="height:6.00px;background:linear-gradient(90deg,#ffb200 0.0%,#ffb300 20.8%,#ffac00 25.6%,#ffb300 30.5%,#ffb300 46.4%,#ffac00 46.9%,#ff7e00 47.6%,#ff7800 48.1%,#ff7e00 48.4%,#ffae00 49.1%,#ffb900 49.6%,#ffbd00 50.4%,#ffac00 54.6%,#ffb400 59.3%,#ffb200 100.0%)"></div><div style="height:3.00px;background:linear-gradient(90deg,#ffb200 0.0%,#ffb300 20.8%,#ffac00 25.6%,#ffb300 30.5%,#ffb300 46.4%,#ffac00 46.9%,#ff7e00 47.6%,#ff7900 48.1%,#ff7e00 48.4%,#ffae00 49.1%,#ffb900 49.6%,#ffbc00 50.4%,#ffac00 54.6%,#ffb400 59.3%,#ffb200 100.0%)"></div><div style="height:3.00px;background:linear-gradient(90deg,#ffb200 0.0%,#ffb300 20.8%,#ffad00 25.6%,#ffb300 46.4%,#ffac00 46.9%,#ff7f00 47.6%,#ff7900 48.1%,#ff7e00 48.4%,#ffae00 49.1%,#ffbc00 50.4%,#ffac00 54.6%,#ffb400 59.3%,#ffb200 100.0%)"></div><div style="height:3.00px;background:linear-gradient(90deg,#ffb200 0.0%,#ffad00 25.8%,#ffb300 46.4%,#ffac00 46.9%,#ff7f00 47.6%,#ff7a00 48.1%,#ff7f00 48.4%,#ffae00 49.1%,#ffbc00 50.4%,#ffac00 54.6%,#ffb400 59.3%,#ffb200 100.0%)"></div><div style="height:3.00px;background:linear-gradient(90deg,#ffb200 0.0%,#ffad00 25.8%,#ffb300 46.4%,#ffac00 46.9%,#ff7f00 47.6%,#ff7a00 48.1%,#ff7f00 48.4%,#ffae00 49.1%,#ffbc00 50.4%,#ffad00 54.6%,#ffb400 59.3%,#ffb300 100.0%)"></div><div style="height:3.00px;background:linear-gradient(90deg,#ffb200 0.0%,#ffad00 25.8%,#ffb300 46.4%,#ffac00 46.9%,#ff8000 47.6%,#ff7a00 48.1%,#ff8000 48.4%,#ffae00 49.1%,#ffbc00 50.4%,#ffad00 54.6%,#ffb400 59.3%,#ffb300 100.0%)"></div><div style="height:6.00px;background:linear-gradient(90deg,#ffb200 0.0%,#ffad00 25.8%,#ffb300 46.4%,#ffac00 46.9%,#ff8000 47.6%,#ff7b00 48.1%,#ff8000 48.4%,#ffae00 49.1%,#ffbc00 50.4%,#ffad00 54.6%,#ffb400 59.3%,#ffb300 100.0%)"></div><div style="height:3.00px;background:linear-gradient(90deg,#ffb200 0.0%,#ffad00 25.8%,#ffb300 46.4%,#ffac00 46.9%,#ff8100 47.6%,#ff7b00 48.1%,#ff8100 48.4%,#ffae00 49.1%,#fb0 50.4%,#ffad00 54.6%,#ffb400 59.3%,#ffb300 100.0%)"></div><div style="height:3.00px;background:linear-gradient(90deg,#ffb200 0.0%,#ffad00 25.8%,#ffb300 46.4%,#ffac00 46.9%,#ff8100 47.6%,#ff7c00 48.1%,#ff8100 48.4%,#ffae00 49.1%,#fb0 50.4%,#ffad00 54.6%,#ffb400 59.3%,#ffb300 100.0%)"></div><div style="height:3.00px;background:linear-gradient(90deg,#ffb300 0.0%,#ffad00 25.8%,#ffb300 46.4%,#ffac00 46.9%,#ff8100 47.6%,#ff7c00 48.1%,#ff8100 48.4%,#ffae00 49.1%,#fb0 50.4%,#ffad00 54.6%,#ffb400 59.1%,#ffb300 100.0%)"></div><div style="height:3.00px;background:linear-gradient(90deg,#ffb300 0.0%,#ffad00 25.8%,#ffb300 46.4%,#ffac00 46.9%,#ff8200 47.6%,#ff7d00 48.1%,#ff8200 48.4%,#ffae00 49.1%,#fb0 50.4%,#ffad00 54.6%,#ffb300 59.1%,#ffb300 100.0%)"></div><div style="height:6.00px;background:linear-gradient(90deg,#ffb300 0.0%,#ffae00 25.8%,#ffb300 46.4%,#ffac00 46.9%,#ff8200 47.6%,#ff7d00 48.1%,#ff8200 48.4%,#ffae00 49.1%,#fb0 50.4%,#ffad00 54.6%,#ffb300 59.1%,#ffb300 100.0%)"></div><div style="height:6.00px;background:linear-gradient(90deg,#ffb300 0.0%,#ffb300 46.4%,#ffac00 46.9%,#ff8300 47.6%,#ff7e00 48.1%,#ff8300 48.4%,#ffae00 49.1%,#fb0 50.4%,#ffad00 54.6%,#ffb300 59.1%,#ffb300 100.0%)"></div><div style="height:3.00px;background:linear-gradient(90deg,#ffb300 0.0%,#ffb300 46.4%,#ffac00 46.9%,#ff8300 47.6%,#ff7e00 48.1%,#ff8300 48.4%,#ffae00 49.1%,#ffba00 50.4%,#ffad00 54.6%,#ffb300 59.1%,#ffb300 100.0%)"></div><div style="height:6.00px;background:linear-gradient(90deg,#ffb300 0.0%,#ffb300 46.4%,#ffac00 46.9%,#ff8400 47.6%,#ff7f00 48.1%,#ff8400 48.4%,#ffae00 49.1%,#ffb400 49.4%,#fb0 50.6%,#ffae00 54.6%,#ffb300 59.1%,#ffb300 100.0%)"></div><div style="height:3.00px;background:linear-gradient(90deg,#ffb300 0.0%,#ffb300 46.4%,#ffac00 46.9%,#ff8400 47.6%,#ff8000 48.1%,#ff8400 48.4%,#ffae00 49.1%,#ffb400 49.4%,#ffba00 50.6%,#ffae00 54.6%,#ffb300 59.1%,#ffb300 100.0%)"></div><div style="height:6.00px;background:linear-gradient(90deg,#ffb300 0.0%,#ffb300 46.4%,#ffac00 46.9%,#ff8500 47.6%,#ff8000 48.1%,#ff8500 48.4%,#ffae00 49.1%,#ffb400 49.4%,#ffba00 50.6%,#ffae00 54.6%,#ffb300 59.1%,#ffb300 100.0%)"></div><div style="height:3.00px;background:linear-gradient(90deg,#ffb300 0.0%,#ffb200 46.4%,#ffac00 46.9%,#ff8500 47.6%,#ff8100 48.1%,#ff8500 48.4%,#ffae00 49.1%,#ffb400 49.4%,#ffba00 50.6%,#ffae00 54.6%,#ffb300 100.0%)"></div><div style="height:6.00px;background:linear-gradient(90deg,#ffb300 0.0%,#ffb200 46.4%,#ffac00 46.9%,#ff8600 47.6%,#ff8100 48.1%,#ff8600 48.4%,#ffae00 49.1%,#ffb400 49.4%,#ffba00 50.6%,#ffae00 54.6%,#ffb300 100.0%)"></div><div style="height:3.00px;background:linear-gradient(90deg,#ffb300 0.0%,#ffb200 46.4%,#ffac00 46.9%,#ff8600 47.6%,#ff8200 48.1%,#ff8600 48.4%,#ffae00 49.1%,#ffb400 49.4%,#ffba00 50.6%,#ffae00 54.6%,#ffb300 100.0%)"></div><div style="height:6.00px;background:linear-gradient(90deg,#ffb300 0.0%,#ffb200 46.4%,#ffac00 46.9%,#ff8700 47.6%,#ff8200 48.1%,#ff8700 48.4%,#ffae00 49.1%,#ffb400 49.4%,#ffba00 50.6%,#ffae00 54.6%,#ffb300 100.0%)"></div><div style="height:3.00px;background:linear-gradient(90deg,#ffb300 0.0%,#ffb200 46.4%,#ffac00 46.9%,#ff8700 47.6%,#ff8300 48.1%,#ff8700 48.4%,#ffae00 49.1%,#ffb400 49.4%,#ffba00 50.6%,#ffae00 54.6%,#ffb300 100.0%)"></div><div style="height:3.00px;background:linear-gradient(90deg,#ffb300 0.0%,#ffb200 46.4%,#ffac00 46.9%,#ff8700 47.6%,#ff8300 48.1%,#f80 48.4%,#ffae00 49.1%,#ffb400 49.4%,#ffb900 50.6%,#ffae00 54.6%,#ffb300 100.0%)"></div><div style="height:6.00px;background:linear-gradient(90deg,#ffb300 0.0%,#ffb200 46.4%,#ffad00 46.9%,#f80 47.6%,#ff8400 48.1%,#f80 48.4%,#ffae00 49.1%,#ffb400 49.4%,#ffb900 50.6%,#ffae00 54.6%,#ffb200 100.0%)"></div><div style="height:3.00px;background:linear-gradient(90deg,#ffb300 0.0%,#ffb200 46.4%,#ffad00 46.9%,#f80 47.6%,#ff8400 48.1%,#ff8900 48.4%,#ffae00 49.1%,#ffb400 49.4%,#ffb900 50.6%,#ffae00 54.6%,#ffb200 100.0%)"></div><div style="height:6.00px;background:linear-gradient(90deg,#ffb300 0.0%,#ffb200 46.4%,#ffad00 46.9%,#ff8900 47.6%,#ff8500 48.1%,#ff8900 48.4%,#ffae00 49.1%,#ffb400 49.4%,#ffb900 50.6%,#ffae00 54.6%,#ffb200 100.0%)"></div><div style="height:3.00px;background:linear-gradient(90deg,#ffb300 0.0%,#ffb200 46.4%,#ffad00 46.9%,#ff8900 47.6%,#ff8500 48.1%,#ff8900 48.4%,#ffae00 49.1%,#ffb400 49.4%,#ffb900 50.6%,#ffaf00 54.6%,#ffb200 100.0%)"></div><div style="height:3.00px;background:linear-gradient(90deg,#ffb200 0.0%,#ffb200 46.4%,#ffad00 46.9%,#ff8a00 47.6%,#ff8600 48.1%,#ff8a00 48.4%,#ffae00 49.1%,#ffb400 49.4%,#ffb900 50.6%,#ffaf00 54.6%,#ffb200 100.0%)"></div><div style="height:6.00px;background:linear-gradient(90deg,#ffb200 0.0%,#ffb200 46.4%,#ffad00 46.9%,#ff8a00 47.6%,#ff8600 47.9%,#ff8a00 48.4%,#ffae00 49.1%,#ffb400 49.4%,#ffb900 50.6%,#ffaf00 54.6%,#ffb200 100.0%)"></div><div style="height:3.00px;background:linear-gradient(90deg,#ffb200 0.0%,#ffb200 46.4%,#ffad00 46.9%,#ff8b00 47.6%,#ff8700 47.9%,#ff8b00 48.4%,#ffae00 49.1%,#ffb300 49.4%,#ffb900 50.6%,#ffaf00 54.6%,#ffb200 100.0%)"></div><div style="height:3.00px;background:linear-gradient(90deg,#ffb200 0.0%,#ffb200 46.4%,#ffad00 46.9%,#ff8b00 47.6%,#ff8700 48.1%,#ffb300 49.4%,#ffb900 50.6%,#ffaf00 54.6%,#ffb200 100.0%)"></div><div style="height:3.00px;background:linear-gradient(90deg,#ffb200 0.0%,#ffb200 46.4%,#ffad00 46.9%,#ff8b00 47.6%,#ff8700 47.9%,#ff8b00 48.4%,#ffb300 49.4%,#ffb900 50.6%,#ffaf00 54.6%,#ffb200 100.0%)"></div><div style="height:6.00px;background:linear-gradient(90deg,#ffb200 0.0%,#ffb200 46.2%,#ffad00 46.9%,#ff8c00 47.6%,#f80 47.9%,#ff8c00 48.4%,#ffb300 49.4%,#ffb800 50.6%,#ffaf00 54.6%,#ffb200 100.0%)"></div><div style="height:3.00px;background:linear-gradient(90deg,#ffb200 0.0%,#ffb200 46.2%,#ffad00 46.9%,#ff8c00 47.6%,#ff8900 47.9%,#ff8c00 48.4%,#ffb300 49.4%,#ffb800 50.6%,#ffaf00 54.6%,#ffb200 100.0%)"></div><div style="height:6.00px;background:linear-gradient(90deg,#ffb200 0.0%,#ffb200 46.2%,#ffad00 46.9%,#ff8d00 47.6%,#ff8900 47.9%,#ff8d00 48.4%,#ffb300 49.4%,#ffb800 50.6%,#ffaf00 54.6%,#ffb200 100.0%)"></div><div style="height:3.00px;background:linear-gradient(90deg,#ffb200 0.0%,#ffb200 46.2%,#ffad00 46.9%,#ff8d00 47.6%,#ff8a00 47.9%,#ff8d00 48.4%,#ffb300 49.4%,#ffb800 50.6%,#ffaf00 54.6%,#ffb200 100.0%)"></div><div style="height:6.00px;background:linear-gradient(90deg,#ffb200 0.0%,#ffb200 46.2%,#ffad00 46.9%,#ff8e00 47.6%,#ff8a00 47.9%,#ff8e00 48.4%,#ffb300 49.4%,#ffb800 50.6%,#ffaf00 54.6%,#ffb200 100.0%)"></div><div style="height:3.00px;background:linear-gradient(90deg,#ffb200 0.0%,#ffb200 46.2%,#ffad00 46.9%,#ff8e00 47.6%,#ff8b00 47.9%,#ff8e00 48.4%,#ffb300 49.4%,#ffb800 50.6%,#ffaf00 54.6%,#ffb200 100.0%)"></div><div style="height:3.00px;background:linear-gradient(90deg,#ffb200 0.0%,#ffb200 46.2%,#ffad00 46.9%,#ff8e00 47.6%,#ff8b00 47.9%,#ff8f00 48.4%,#ffb300 49.4%,#ffb800 50.6%,#ffaf00 54.6%,#ffb200 100.0%)"></div></div></div>
<div class="hm" style="left:1460.7px;top:93.7px;width:402.8px;height:595.0px"><div style="margin:-4px 0 0 0;filter:blur(1.2px)"><div style="height:3.00px;background:linear-gradient(90deg,#ffb300 0.0%,#ffb000 20.1%,#ff9e00 21.8%,#ff5b00 24.3%,#ff4d00 25.3%,#ff5700 26.3%,#ff9100 28.3%,#fa0 29.5%,#ffd300 34.2%,#ffe300 38.2%,#ffdf00 44.2%,#ffd400 45.9%,#ffc900 46.4%,#ffb600 46.7%,#ff8000 46.9%,#ff1200 47.1%,#920000 47.4%,#800000 47.6%,#800000 49.4%,#d90000 49.6%,#ff7500 49.9%,#f1ff0e 50.1%,#69ff96 50.4%,#15ffea 50.6%,#00e2ff 50.9%,#00a1ff 51.1%,#0051ff 51.4%,#001fff 51.6%,#000dff 51.9%,#0008ff 52.4%,#0010ff 52.9%,#0027ff 53.1%,#005fff 53.3%,#00acff 53.6%,#00dfff 53.8%,#06fff9 54.1%,#49ffb6 54.3%,#a4ff5b 54.6%,#d9ff26 54.8%,#e8ff17 55.1%,#ecff13 56.1%,#fffc00 56.8%,#ffae00 57.8%,#ff9500 58.3%,#ff8900 59.1%,#ff8200 60.8%,#ff8400 69.0%,#ffa900 74.4%,#ffb100 77.2%,#ffb200 100.0%)"></div><div style="height:3.00px;background:linear-gradient(90deg,#ffb300 0.0%,#ffb000 20.1%,#ff9e00 21.8%,#ff5b00 24.3%,#ff4d00 25.3%,#ff5700 26.3%,#ff9100 28.3%,#fa0 29.5%,#ffd300 34.2%,#ffe300 38.2%,#ffdf00 44.2%,#ffd400 45.9%,#ffc900 46.4%,#ffb600 46.7%,#ff8100 46.9%,#ff1300 47.1%,#930000 47.4%,#800000 47.6%,#800000 49.4%,#da0000 49.6%,#ff7600 49.9%,#f1ff0e 50.1%,#69ff96 50.4%,#15ffea 50.6%,#00e2ff 50.9%,#00a1ff 51.1%,#0051ff 51.4%,#001fff 51.6%,#000dff 51.9%,#0008ff 52.4%,#0010ff 52.9%,#0027ff 53.1%,#005fff 53.3%,#00acff 53.6%,#00dfff 53.8%,#06fff9 54.1%,#49ffb6 54.3%,#a4ff5b 54.6%,#d9ff26 54.8%,#e8ff17 55.1%,#ecff13 56.1%,#fffc00 56.8%,#ffae00 57.8%,#ff9500 58.3%,#f80 59.1%,#ff8200 60.8%,#ff8400 69.0%,#ffa900 74.4%,#ffb100 77.2%,#ffb200 100.0%)"></div><div style="height:3.00px;background:linear-gradient(90deg,#ffb300 0.0%,#ffb000 20.1%,#ff9e00 21.8%,#ff5b00 24.3%,#ff4d00 25.3%,#ff5700 26.3%,#ff9100 28.3%,#fa0 29.5%,#ffd300 34.2%,#ffe300 38.2%,#ffdf00 44.2%,#ffd400 45.9%,#ffca00 46.4%,#ffb600 46.7%,#ff8100 46.9%,#ff1400 47.1%,#940000 47.4%,#800000 47.6%,#800000 49.4%,#db0000 49.6%,#f70 49.9%,#f1ff0e 50.1%,#69ff96 50.4%,#15ffea 50.6%,#00e2ff 50.9%,#00a1ff 51.1%,#0051ff 51.4%,#001fff 51.6%,#000dff 51.9%,#0008ff 52.4%,#0010ff 52.9%,#0027ff 53.1%,#005fff 53.3%,#00acff 53.6%,#00dfff 53.8%,#06fff9 54.1%,#49ffb6 54.3%,#a4ff5b 54.6%,#d9ff26 54.8%,#e8ff17 55.1%,#ecff13 56.1%,#fffc00 56.8%,#ffae00 57.8%,#ff9500 58.3%,#f80 59.1%,#ff8200 60.8%,#ff8400 69.0%,#ffa900 74.4%,#ffb100 77.2%,#ffb200 100.0%)"></div><div style="height:3.00px;background:linear-gradient(90deg,#ffb300 0.0%,#ffb000 20.1%,#ff9e00 21.8%,#ff5b00 24.3%,#ff4d00 25.3%,#ff5700 26.3%,#ff9100 28.3%,#fa0 29.5%,#ffd300 34.2%,#ffe300 38.2%,#ffdf00 44.2%,#ffd400 45.9%,#ffca00 46.4%,#ffb600 46.7%,#ff8200 46.9%,#ff1500 47.1%,#950000 47.4%,#800000 47.6%,#800000 49.4%,#dc0000 49.6%,#f70 49.9%,#f0ff0f 50.1%,#69ff96 50.4%,#15ffea 50.6%,#00e2ff 50.9%,#00a1ff 51.1%,#0051ff 51.4%,#001fff 51.6%,#000dff 51.9%,#0008ff 52.4%,#0010ff 52.9%,#0027ff 53.1%,#005fff 53.3%,#00acff 53.6%,#00dfff 53.8%,#06fff9 54.1%,#49ffb6 54.3%,#a4ff5b 54.6%,#d9ff26 54.8%,#e8ff17 55.1%,#ecff13 56.1%,#fffc00 56.8%,#ffae00 57.8%,#ff9500 58.3%,#f80 59.1%,#ff8200 60.8%,#ff8400 69.0%,#ffa900 74.4%,#ffb100 77.2%,#ffb200 100.0%)"></div><div style="height:3.00px;background:linear-gradient(90deg,#ffb300 0.0%,#ffb000 20.1%,#ff9e00 21.8%,#ff5b00 24.3%,#ff4d00 25.3%,#ff5700 26.3%,#ff9100 28.3%,#fa0 29.5%,#ffd300 34.2%,#ffe300 38.2%,#ffdf00 44.2%,#ffd400 45.9%,#ffca00 46.4%,#ffb600 46.7%,#ff8200 46.9%,#ff1600 47.1%,#960000 47.4%,#800000 47.6%,#800000 49.4%,#d00 49.6%,#ff7800 49.9%,#f0ff0f 50.1%,#69ff96 50.4%,#15ffea 50.6%,#00e2ff 50.9%,#00a1ff 51.1%,#0051ff 51.4%,#001fff 51.6%,#000dff 51.9%,#0008ff 52.4%,#0010ff 52.9%,#0027ff 53.1%,#005fff 53.3%,#00acff 53.6%,#00dfff 53.8%,#06fff9 54.1%,#49ffb6 54.3%,#a4ff5b 54.6%,#d9ff26 54.8%,#e8ff17 55.1%,#ecff13 56.1%,#fffc00 56.8%,#ffae00 57.8%,#ff9500 58.3%,#f80 59.1%,#ff8200 60.8%,#ff8400 69.0%,#ffa900 74.4%,#ffb100 77.2%,#ffb200 100.0%)"></div><div style="height:3.00px;background:linear-gradient(90deg,#ffb200 0.0%,#ffb000 20.1%,#ff9e00 21.8%,#ff5b00 24.3%,#ff4d00 25.3%,#ff5700 26.3%,#ff9100 28.3%,#fa0 29.5%,#ffd300 34.2%,#ffe300 38.2%,#ffdf00 44.2%,#ffd400 45.9%,#ffca00 46.4%,#ffb700 46.7%,#ff8300 46.9%,#ff1700 47.1%,#970000 47.4%,#800000 47.6%,#800000 49.4%,#de0000 49.6%,#ff7900 49.9%,#f0ff0f 50.1%,#69ff96 50.4%,#15ffea 50.6%,#00e2ff 50.9%,#00a1ff 51.1%,#0051ff 51.4%,#001fff 51.6%,#000dff 51.9%,#0008ff 52.4%,#0010ff 52.9%,#0027ff 53.1%,#005fff 53.3%,#00acff 53.6%,#00dfff 53.8%,#06fff9 54.1%,#49ffb6 54.3%,#a4ff5b 54.6%,#d9ff26 54.8%,#e8ff17 55.1%,#ecff13 56.1%,#fffc00 56.8%,#ffae00 57.8%,#ff9500 58.3%,#f80 59.1%,#ff8200 60.8%,#ff8400 69.0%,#ffa900 74.4%,#ffb100 77.2%,#ffb200 100.0%)"></div><div style="height:3.00px;background:linear-gradient(90deg,#ffb200 0.0%,#ffb000 20.1%,#ff9e00 21.8%,#ff5b00 24.3%,#ff4d00 25.3%,#ff5700 26.3%,#ff9100 28.3%,#fa0 29.5%,#ffd300 34.2%,#ffe300 38.2%,#ffdf00 44.2%,#ffd400 45.9%,#ffca00 46.4%,#ffb700 46.7%,#ff8300 46.9%,#ff1800 47.1%,#980000 47.4%,#800000 47.6%,#800000 49.4%,#df0000 49.6%,#ff7900 49.9%,#f0ff0f 50.1%,#68ff97 50.4%,#15ffea 50.6%,#00e2ff 50.9%,#00a1ff 51.1%,#0051ff 51.4%,#001fff 51.6%,#000dff 51.9%,#0008ff 52.4%,#0010ff 52.9%,#0027ff 53.1%,#005fff 53.3%,#00acff 53.6%,#00dfff 53.8%,#06fff9 54.1%,#49ffb6 54.3%,#a4ff5b 54.6%,#d9ff26 54.8%,#e8ff17 55.1%,#ecff13 56.1%,#fffc00 56.8%,#ffae00 57.8%,#ff9500 58.3%,#f80 59.1%,#ff8200 60.8%,#ff8400 69.0%,#ffa900 74.4%,#ffb100 77.2%,#ffb200 100.0%)"></div><div style="height:3.00px;background:linear-gradient(90deg,#ffb200 0.0%,#ffb000 20.1%,#ff9e00 21.8%,#ff5b00 24.3%,#ff4d00 25.3%,#ff5700 26.3%,#ff9100 28.3%,#fa0 29.5%,#ffd300 34.2%,#ffe300 38.2%,#ffdf00 44.2%,#ffd400 45.9%,#ffca00 46.4%,#ffb700 46.7%,#ff8400 46.9%,#ff1900 47.1%,#900 47.4%,#800000 47.6%,#800000 49.4%,#e10000 49.6%,#ff7a00 49.9%,#efff10 50.1%,#68ff97 50.4%,#15ffea 50.6%,#00e2ff 50.9%,#00a1ff 51.1%,#0051ff 51.4%,#001fff 51.6%,#000dff 51.9%,#0008ff 52.4%,#0010ff 52.9%,#0027ff 53.1%,#005fff 53.3%,#00acff 53.6%,#00dfff 53.8%,#06fff9 54.1%,#49ffb6 54.3%,#a4ff5b 54.6%,#d9ff26 54.8%,#e8ff17 55.1%,#ecff13 56.1%,#fffc00 56.8%,#ffae00 57.8%,#ff9500 58.3%,#f80 59.1%,#ff8200 60.8%,#ff8400 69.0%,#ffa900 74.4%,#ffb100 77.2%,#ffb200 100.0%)"></div><div style="height:3.00px;background:linear-gradient(90deg,#ffb200 0.0%,#ffb000 20.1%,#ff9e00 21.8%,#ff5b00 24.3%,#ff4d00 25.3%,#ff5700 26.3%,#ff9100 28.3%,#fa0 29.5%,#ffd300 34.2%,#ffe300 38.2%,#ffdf00 44.2%,#ffd400 45.9%,#ffca00 46.4%,#ffb700 46.7%,#ff8400 46.9%,#ff1a00 47.1%,#9a0000 47.4%,#800000 47.6%,#800000 49.4%,#e20000 49.6%,#ff7b00 49.9%,#efff10 50.1%,#68ff97 50.4%,#15ffea 50.6%,#00e2ff 50.9%,#00a1ff 51.1%,#0051ff 51.4%,#001fff 51.6%,#000dff 51.9%,#0008ff 52.4%,#0010ff 52.9%,#0027ff 53.1%,#005fff 53.3%,#00acff 53.6%,#00dfff 53.8%,#06fff9 54.1%,#49ffb6 54.3%,#a4ff5b 54.6%,#d9ff26 54.8%,#e8ff17 55.1%,#ecff13 56.1%,#fffc00 56.8%,#ffae00 57.8%,#ff9500 58.3%,#f80 59.1%,#ff8200 60.8%,#ff8400 69.0%,#ffa900 74.4%,#ffb100 77.2%,#ffb200 100.0%)"></div><div style="height:3.00px;background:linear-gradient(90deg,#ffb200 0.0%,#ffb000 20.1%,#ff9e00 21.8%,#ff5b00 24.3%,#ff4d00 25.3%,#ff5700 26.3%,#ff9100 28.3%,#fa0 29.5%,#ffd300 34.2%,#ffe300 38.2%,#ffdf00 44.2%,#ffd400 45.9%,#ffca00 46.4%,#ffb700 46.7%,#ff8500 46.9%,#ff1b00 47.1%,#9c0000 47.4%,#800000 47.6%,#800000 49.4%,#e30000 49.6%,#ff7b00 49.9%,#efff10 50.1%,#68ff97 50.4%,#15ffea 50.6%,#00e2ff 50.9%,#00a1ff 51.1%,#0051ff 51.4%,#001fff 51.6%,#000dff 51.9%,#0008ff 52.4%,#0010ff 52.9%,#0027ff 53.1%,#005fff 53.3%,#00acff 53.6%,#00dfff 53.8%,#06fff9 54.1%,#49ffb6 54.3%,#a4ff5b 54.6%,#d9ff26 54.8%,#e8ff17 55.1%,#ecff13 56.1%,#fffc00 56.8%,#ffae00 57.8%,#ff9500 58.3%,#f80 59.1%,#ff8200 60.8%,#ff8400 69.0%,#ffa900 74.4%,#ffb100 77.2%,#ffb200 100.0%)"></div><div style="height:3.00px;background:linear-gradient(90deg,#ffb200 0.0%,#ffb000 20.1%,#ff9e00 21.8%,#ff5b00 24.3%,#ff4d00 25.3%,#ff5700 26.3%,#ff9100 28.3%,#fa0 29.5%,#ffd300 34.2%,#ffe300 38.2%,#ffdf00 44.2%,#ffd400 45.9%,#ffca00 46.4%,#ffb800 46.7%,#ff8500 46.9%,#ff1c00 47.1%,#9d0000 47.4%,#800000 47.6%,#800000 49.4%,#e40000 49.6%,#ff7c00 49.9%,#ef1 50.1%,#68ff97 50.4%,#15ffea 50.6%,#00e2ff 50.9%,#00a1ff 51.1%,#0051ff 51.4%,#001fff 51.6%,#000dff 51.9%,#0008ff 52.4%,#0010ff 52.9%,#0027ff 53.1%,#005fff 53.3%,#00acff 53.6%,#00dfff 53.8%,#06fff9 54.1%,#49ffb6 54.3%,#a4ff5b 54.6%,#d9ff26 54.8%,#e8ff17 55.1%,#ecff13 56.1%,#fffc00 56.8%,#ffae00 57.8%,#ff9500 58.3%,#f80 59.1%,#ff8200 60.8%,#ff8400 69.0%,#ffa900 74.4%,#ffb100 77.2%,#ffb200 100.0%)"></div><div style="height:3.00px;background:linear-gradient(90deg,#ffb200 0.0%,#ffb000 20.1%,#ff9e00 21.8%,#ff5b00 24.3%,#ff4d00 25.3%,#ff5700 26.3%,#ff9100 28.3%,#fa0 29.5%,#ffd300 34.2%,#ffe300 38.2%,#ffdf00 44.2%,#ffd400 45.9%,#ffca00 46.4%,#ffb800 46.7%,#ff8600 46.9%,#ff1d00 47.1%,#9e0000 47.4%,#800000 47.6%,#800000 49.4%,#e50000 49.6%,#ff7d00 49.9%,#ef1 50.1%,#68ff97 50.4%,#15ffea 50.6%,#00e2ff 50.9%,#00a1ff 51.1%,#0051ff 51.4%,#001fff 51.6%,#000dff 51.9%,#0008ff 52.4%,#0010ff 52.9%,#0027ff 53.1%,#005fff 53.3%,#00acff 53.6%,#00dfff 53.8%,#06fff9 54.1%,#49ffb6 54.3%,#a4ff5b 54.6%,#d9ff26 54.8%,#e8ff17 55.1%,#ecff13 56.1%,#fffc00 56.8%,#ffae00 57.8%,#ff9500 58.3%,#f80 59.1%,#ff8200 60.8%,#ff8400 69.0%,#ffa900 74.4%,#ffb100 77.2%,#ffb200 100.0%)"></div><div style="height:3.00px;background:linear-gradient(90deg,#ffb200 0.0%,#ffb000 20.1%,#ff9e00 21.8%,#ff5b00 24.3%,#ff4d00 25.3%,#ff5700 26.3%,#ff9100 28.3%,#fa0 29.5%,#ffd300 34.2%,#ffe300 38.2%,#ffdf00 44.2%,#ffd400 45.9%,#ffca00 46.4%,#ffb800 46.7%,#ff8600 46.9%,#ff1e00 47.1%,#9f0000 47.4%,#800000 47.6%,#800000 49.4%,#e60000 49.6%,#ff7e00 49.9%,#ef1 50.1%,#68ff97 50.4%,#15ffea 50.6%,#00e2ff 50.9%,#00a1ff 51.1%,#0051ff 51.4%,#001fff 51.6%,#000dff 51.9%,#0008ff 52.4%,#0010ff 52.9%,#0027ff 53.1%,#005fff 53.3%,#00acff 53.6%,#00dfff 53.8%,#06fff9 54.1%,#49ffb6 54.3%,#a4ff5b 54.6%,#d9ff26 54.8%,#e8ff17 55.1%,#ecff13 56.1%,#fffc00 56.8%,#ffae00 57.8%,#ff9500 58.3%,#f80 59.1%,#ff8200 60.8%,#ff8400 69.0%,#ffa900 74.4%,#ffb100 77.2%,#ffb200 100.0%)"></div><div style="height:3.00px;background:linear-gradient(90deg,#ffb200 0.0%,#ffb000 20.1%,#ff9e00 21.8%,#ff5b00 24.3%,#ff4d00 25.3%,#ff5700 26.3%,#ff9100 28.3%,#fa0 29.5%,#ffd300 34.2%,#ffe300 38.2%,#ffdf00 44.2%,#ffd400 45.9%,#ffca00 46.4%,#ffb800 46.7%,#ff8700 46.9%,#ff1f00 47.1%,#a00000 47.4%,#800000 47.6%,#800000 49.4%,#e70000 49.6%,#ff7e00 49.9%,#ef1 50.1%,#68ff97 50.4%,#15ffea 50.6%,#00e2ff 50.9%,#00a1ff 51.1%,#0051ff 51.4%,#001fff 51.6%,#000dff 51.9%,#0008ff 52.4%,#0010ff 52.9%,#0027ff 53.1%,#005fff 53.3%,#00acff 53.6%,#00dfff 53.8%,#06fff9 54.1%,#49ffb6 54.3%,#a4ff5b 54.6%,#d9ff26 54.8%,#e8ff17 55.1%,#ecff13 56.1%,#fffc00 56.8%,#ffae00 57.8%,#ff9500 58.3%,#f80 59.1%,#ff8200 60.8%,#ff8400 69.0%,#ffa900 74.4%,#ffb100 77.2%,#ffb200 100.0%)"></div><div style="height:3.00px;background:linear-gradient(90deg,#ffb200 0.0%,#ffb000 20.1%,#ff9e00 21.8%,#ff5b00 24.3%,#ff4d00 25.3%,#ff5700 26.3%,#ff9100 28.3%,#fa0 29.5%,#ffd300 34.2%,#ffe400 38.2%,#ffdf00 44.2%,#ffd400 45.9%,#ffca00 46.4%,#ffb800 46.7%,#ff8700 46.9%,#ff2000 47.1%,#a10000 47.4%,#800000 47.6%,#800000 49.4%,#e80000 49.6%,#ff7f00 49.9%,#edff12 50.1%,#68ff97 50.4%,#15ffea 50.6%,#00e2ff 50.9%,#00a1ff 51.1%,#0051ff 51.4%,#001fff 51.6%,#000dff 51.9%,#0008ff 52.4%,#0010ff 52.9%,#0027ff 53.1%,#005fff 53.3%,#00acff 53.6%,#00dfff 53.8%,#06fff9 54.1%,#49ffb6 54.3%,#a4ff5b 54.6%,#d9ff26 54.8%,#e8ff17 55.1%,#ecff13 56.1%,#fffc00 56.8%,#ffae00 57.8%,#ff9500 58.3%,#f80 59.1%,#ff8200 60.8%,#ff8400 69.0%,#ffa900 74.4%,#ffb100 77.2%,#ffb200 100.0%)"></div><div style="height:3.00px;background:linear-gradient(90deg,#ffb200 0.0%,#ffaf00 20.1%,#ff9e00 21.8%,#ff5b00 24.3%,#ff4d00 25.3%,#ff5700 26.3%,#ff9100 28.3%,#fa0 29.5%,#ffd300 34.2%,#ffe400 38.2%,#ffdf00 44.2%,#ffd400 45.9%,#ffca00 46.4%,#ffb800 46.7%,#f80 46.9%,#ff2000 47.1%,#a20000 47.4%,#800000 47.6%,#800000 49.4%,#e90000 49.6%,#ff8000 49.9%,#edff12 50.1%,#68ff97 50.4%,#15ffea 50.6%,#00e2ff 50.9%,#00a1ff 51.1%,#0051ff 51.4%,#001fff 51.6%,#000dff 51.9%,#0008ff 52.4%,#0010ff 52.9%,#0027ff 53.1%,#005fff 53.3%,#00acff 53.6%,#00dfff 53.8%,#06fff9 54.1%,#49ffb6 54.3%,#a4ff5b 54.6%,#d9ff26 54.8%,#e8ff17 55.1%,#ecff13 56.1%,#fffc00 56.8%,#ffae00 57.8%,#ff9500 58.3%,#f80 59.1%,#ff8200 60.8%,#ff8400 69.0%,#ffa900 74.4%,#ffb100 77.2%,#ffb200 100.0%)"></div><div style="height:3.00px;background:linear-gradient(90deg,#ffb200 0.0%,#ffaf00 20.1%,#ff9e00 21.8%,#ff5a00 24.3%,#ff4d00 25.3%,#ff5700 26.3%,#ff9100 28.3%,#fa0 29.5%,#ffd400 34.2%,#ffe400 38.2%,#ffdf00 44.2%,#ffd400 45.9%,#ffca00 46.4%,#ffb900 46.7%,#f80 46.9%,#ff2100 47.1%,#a30000 47.4%,#800000 47.6%,#800000 49.4%,#ea0000 49.6%,#ff8000 49.9%,#edff12 50.1%,#68ff97 50.4%,#15ffea 50.6%,#00e2ff 50.9%,#00a1ff 51.1%,#0051ff 51.4%,#001fff 51.6%,#000dff 51.9%,#0008ff 52.4%,#0010ff 52.9%,#0027ff 53.1%,#005fff 53.3%,#00acff 53.6%,#00dfff 53.8%,#06fff9 54.1%,#49ffb6 54.3%,#a4ff5b 54.6%,#d9ff26 54.8%,#e8ff17 55.1%,#ecff13 56.1%,#fffc00 56.8%,#ffae00 57.8%,#ff9500 58.3%,#f80 59.1%,#ff8200 60.8%,#ff8400 69.0%,#ffa900 74.4%,#ffb100 77.2%,#ffb200 100.0%)"></div><div style="height:3.00px;background:linear-gradient(90deg,#ffb200 0.0%,#ffaf00 20.1%,#ff9d00 21.8%,#ff5a00 24.3%,#ff4c00 25.3%,#ff5600 26.3%,#ff9700 28.5%,#ffab00 29.5%,#ffd400 34.2%,#ffe400 38.2%,#ffe000 44.2%,#ffd500 45.9%,#ffcb00 46.4%,#ffb900 46.7%,#ff8900 46.9%,#ff2300 47.1%,#a50000 47.4%,#800000 47.6%,#800000 49.4%,#eb0000 49.6%,#ff8100 49.9%,#ecff13 50.1%,#67ff98 50.4%,#15ffea 50.6%,#00e2ff 50.9%,#00a1ff 51.1%,#0051ff 51.4%,#001fff 51.6%,#000dff 51.9%,#0008ff 52.4%,#0010ff 52.9%,#0027ff 53.1%,#005fff 53.3%,#00acff 53.6%,#00dfff 53.8%,#06fff9 54.1%,#49ffb6 54.3%,#a4ff5b 54.6%,#d9ff26 54.8%,#e8ff17 55.1%,#ecff13 56.1%,#fffc00 56.8%,#ffae00 57.8%,#ff9500 58.3%,#f80 59.1%,#ff8200 60.8%,#ff8400 69.0%,#ffa900 74.4%,#ffb100 77.2%,#ffb200 100.0%)"></div><div style="height:3.00px;background:linear-gradient(90deg,#ffb200 0.0%,#ffac00 20.1%,#ff9b00 21.8%,#ff5800 24.3%,#ff4a00 25.3%,#f50 26.3%,#ffa400 29.0%,#fb0 30.8%,#ffe700 37.0%,#ffe700 43.9%,#fd0 45.7%,#ffd000 46.4%,#ffbe00 46.7%,#ff8e00 46.9%,#ff2700 47.1%,#a90000 47.4%,#800000 47.6%,#800000 49.4%,#ed0000 49.6%,#ff8200 49.9%,#ecff13 50.1%,#67ff98 50.4%,#15ffea 50.6%,#00e2ff 50.9%,#00a1ff 51.1%,#0051ff 51.4%,#001fff 51.6%,#000dff 51.9%,#0008ff 52.4%,#0010ff 52.9%,#0027ff 53.1%,#005fff 53.3%,#00acff 53.6%,#00dfff 53.8%,#06fff9 54.1%,#49ffb6 54.3%,#a4ff5b 54.6%,#d9ff26 54.8%,#e8ff17 55.1%,#ecff13 56.1%,#fffc00 56.8%,#ffae00 57.8%,#ff9500 58.3%,#f80 59.1%,#ff8200 60.8%,#ff8400 69.0%,#ffa900 74.4%,#ffb100 77.2%,#ffb200 100.0%)"></div><div style="height:3.00px;background:linear-gradient(90deg,#ffb200 0.0%,#ffa700 20.1%,#ff9600 21.8%,#ff5300 24.3%,#ff4600 25.3%,#ff5800 26.6%,#ffb600 29.3%,#ffd000 31.0%,#fffe00 36.5%,#f0ff0f 40.9%,#f4ff0b 43.7%,#fffe00 45.4%,#fff200 46.2%,#ffea00 46.4%,#ffd600 46.7%,#ffa300 46.9%,#ff3b00 47.1%,#ba0000 47.4%,#800000 47.6%,#800000 49.4%,#f00000 49.6%,#ff8400 49.9%,#eaff15 50.1%,#6f9 50.4%,#14ffeb 50.6%,#00e1ff 50.9%,#00a0ff 51.1%,#0050ff 51.4%,#001fff 51.6%,#000cff 51.9%,#0007ff 52.4%,#0010ff 52.9%,#0026ff 53.1%,#005fff 53.3%,#00abff 53.6%,#00dfff 53.8%,#06fff9 54.1%,#49ffb6 54.3%,#a4ff5b 54.6%,#d9ff26 54.8%,#e8ff17 55.1%,#ecff13 56.1%,#fffc00 56.8%,#ffae00 57.8%,#ff9500 58.3%,#f80 59.1%,#ff8200 60.8%,#ff8400 69.0%,#ffa900 74.4%,#ffb100 77.2%,#ffb200 100.0%)"></div><div style="height:3.00px;background:linear-gradient(90deg,#ffb200 0.0%,#ffa400 7.7%,#ff9f00 20.3%,#ff8e00 21.8%,#ff4c00 24.3%,#ff3f00 25.3%,#ff4800 26.1%,#ff5f00 26.8%,#ffc300 28.8%,#ffe000 29.5%,#ff0 31.3%,#d9ff26 35.0%,#a7ff58 38.5%,#9dff62 40.7%,#9fff60 43.2%,#acff53 44.9%,#caff35 46.2%,#d7ff28 46.4%,#f0ff0f 46.7%,#ffd600 46.9%,#ff6800 47.1%,#e10000 47.4%,#800 47.6%,#800000 47.9%,#810000 49.4%,#f60000 49.6%,#ff8900 49.9%,#e5ff1a 50.1%,#60ff9f 50.4%,#0dfff2 50.6%,#00dbff 50.9%,#009aff 51.1%,#004bff 51.4%,#001aff 51.6%,#0008ff 51.9%,#0003ff 52.4%,#000cff 52.9%,#02f 53.1%,#005aff 53.3%,#00a6ff 53.6%,#00daff 53.8%,#01fffe 54.1%,#45ffba 54.3%,#a2ff5d 54.6%,#d9ff26 54.8%,#e8ff17 55.1%,#ecff13 56.1%,#fffc00 56.8%,#ffae00 57.8%,#ff9500 58.3%,#f80 59.1%,#ff8200 60.8%,#ff8400 69.0%,#ffa900 74.4%,#ffb100 77.2%,#ffb200 100.0%)"></div><div style="height:3.00px;background:linear-gradient(90deg,#ffb200 0.0%,#ff9f00 7.9%,#f90 20.3%,#ff8900 21.8%,#ff4600 24.3%,#ff3b00 25.3%,#f40 26.1%,#ff5d00 26.8%,#ffde00 29.0%,#fffc00 29.8%,#fbff04 30.0%,#e9ff16 31.0%,#baff45 35.2%,#7dff82 38.5%,#70ff8f 40.4%,#72ff8d 43.2%,#81ff7e 44.9%,#a6ff59 46.2%,#b6ff49 46.4%,#d1ff2e 46.7%,#fff200 46.9%,#ff8100 47.1%,#f70000 47.4%,#9b0000 47.6%,#800000 47.9%,#800000 49.1%,#860000 49.4%,#fc0000 49.6%,#ff9600 49.9%,#c9ff36 50.1%,#2dffd2 50.4%,#00cbff 50.6%,#005eff 51.1%,#0019ff 51.4%,#0000ed 51.6%,#0000de 51.9%,#0000da 52.4%,#0000e2 52.9%,#0000f5 53.1%,#0026ff 53.3%,#0068ff 53.6%,#00c2ff 54.1%,#18ffe7 54.3%,#8bff74 54.6%,#d1ff2e 54.8%,#e5ff1a 55.1%,#ecff13 56.1%,#fffc00 56.8%,#ffae00 57.8%,#ff9500 58.3%,#f80 59.1%,#ff8200 60.8%,#ff8400 69.0%,#ffa900 74.4%,#ffb100 77.2%,#ffb200 100.0%)"></div><div style="height:3.00px;background:linear-gradient(90deg,#ffb200 0.0%,#ff9c00 7.9%,#ff9600 20.3%,#ff8600 21.8%,#f40 24.3%,#ff3800 25.3%,#ff4200 26.1%,#ff5c00 26.8%,#ffe000 29.0%,#ff0 29.8%,#e6ff19 31.0%,#b9ff46 35.2%,#7bff84 38.5%,#6eff91 40.2%,#6eff91 42.9%,#7aff85 44.7%,#97ff68 45.9%,#b2ff4d 46.4%,#ceff31 46.7%,#fff500 46.9%,#ff8400 47.1%,#f90000 47.4%,#9d0000 47.6%,#800000 47.9%,#800000 49.1%,#870000 49.4%,#fe0000 49.6%,#f90 49.9%,#c1ff3e 50.1%,#20ffdf 50.4%,#00bfff 50.6%,#0098ff 50.9%,#006eff 51.4%,#005fff 51.9%,#06f 53.1%,#0094ff 53.8%,#00b4ff 54.1%,#0cfff3 54.3%,#85ff7a 54.6%,#cfff30 54.8%,#e5ff1a 55.1%,#ecff13 56.1%,#fffc00 56.8%,#ffae00 57.8%,#ff9500 58.3%,#f80 59.1%,#ff8200 60.8%,#ff8400 69.0%,#ffa900 74.4%,#ffb100 77.2%,#ffb200 100.0%)"></div><div style="height:3.00px;background:linear-gradient(90deg,#ffb200 0.0%,#ff9b00 7.9%,#ff9500 20.3%,#ff8500 21.8%,#ff4300 24.3%,#ff3700 25.3%,#ff4100 26.1%,#ff5b00 26.8%,#ffd200 28.8%,#fffe00 29.8%,#e9ff16 31.0%,#c8ff37 35.2%,#8dff72 38.5%,#80ff7f 40.4%,#80ff7f 43.2%,#8cff73 44.9%,#aeff51 46.2%,#beff41 46.4%,#d9ff26 46.7%,#ffec00 46.9%,#ff7c00 47.1%,#f20000 47.4%,#960000 47.6%,#800000 47.9%,#800000 49.1%,#840000 49.4%,#f80000 49.6%,#f80 49.9%,#ecff13 50.1%,#6dff92 50.4%,#25ffda 50.6%,#0bfff4 50.9%,#0ff 51.6%,#03fffc 53.8%,#15ffea 54.1%,#51ffae 54.3%,#a7ff58 54.6%,#daff25 54.8%,#e8ff17 55.1%,#ecff13 56.1%,#fffc00 56.8%,#ffae00 57.8%,#ff9500 58.3%,#f80 59.1%,#ff8200 60.8%,#ff8400 69.0%,#ffa900 74.4%,#ffb100 77.2%,#ffb200 100.0%)"></div><div style="height:3.00px;background:linear-gradient(90deg,#ffb200 0.0%,#ff9b00 7.9%,#ff9500 20.3%,#ff8500 21.8%,#ff4300 24.3%,#ff3700 25.3%,#ff4000 26.1%,#ff5a00 26.8%,#ffde00 29.0%,#fffc00 29.8%,#fbff04 30.0%,#eaff15 31.3%,#d6ff29 35.2%,#9fff60 38.5%,#90ff6f 40.9%,#92ff6d 43.7%,#9fff60 45.2%,#baff45 46.2%,#c8ff37 46.4%,#e3ff1c 46.7%,#ffe300 46.9%,#ff7400 47.1%,#eb0000 47.4%,#900000 47.6%,#800000 47.9%,#800000 49.1%,#820000 49.4%,#f60000 49.6%,#ff8500 49.9%,#f1ff0e 50.1%,#7f8 50.4%,#30ffcf 50.6%,#17ffe8 50.9%,#0ffff0 51.4%,#0dfff2 53.6%,#0efff1 53.8%,#1fffe0 54.1%,#58ffa7 54.3%,#abff54 54.6%,#dcff23 54.8%,#e9ff16 55.1%,#ecff13 56.1%,#fffb00 56.8%,#ffae00 57.8%,#ff9500 58.3%,#f80 59.1%,#ff8200 60.8%,#ff8400 69.0%,#ffa900 74.4%,#ffb100 77.2%,#ffb200 100.0%)"></div><div style="height:3.00px;background:linear-gradient(90deg,#ffb200 0.0%,#ff9b00 7.9%,#ff9600 20.3%,#ff8500 21.8%,#ff4300 24.3%,#ff3700 25.3%,#ff4100 26.1%,#ff5a00 26.8%,#ffde00 29.0%,#fff400 29.5%,#fcff03 30.0%,#ebff14 31.3%,#daff25 35.2%,#a3ff5c 38.5%,#95ff6a 40.9%,#97ff68 43.7%,#a2ff5d 45.2%,#bdff42 46.2%,#cbff34 46.4%,#e5ff1a 46.7%,#ffe100 46.9%,#ff7300 47.1%,#ea0000 47.4%,#8f0000 47.6%,#800000 47.9%,#800000 49.1%,#820000 49.4%,#f60000 49.6%,#ff8500 49.9%,#f2ff0d 50.1%,#7f8 50.4%,#31ffce 50.6%,#18ffe7 50.9%,#10ffef 51.4%,#0efff1 53.6%,#0ffff0 53.8%,#20ffdf 54.1%,#58ffa7 54.3%,#abff54 54.6%,#dcff23 54.8%,#e9ff16 55.1%,#ecff13 56.1%,#fffb00 56.8%,#ffae00 57.8%,#ff9500 58.3%,#ff8900 59.1%,#ff8200 60.8%,#ff8400 69.0%,#ffa900 74.4%,#ffb100 77.2%,#ffb200 100.0%)"></div><div style="height:3.00px;background:linear-gradient(90deg,#ffb200 0.0%,#ff9c00 7.9%,#ff9600 20.3%,#ff8600 21.8%,#f40 24.3%,#ff3800 25.3%,#ff4100 26.1%,#ff5b00 26.8%,#ffde00 29.0%,#fcff03 30.0%,#ecff13 31.3%,#dbff24 35.2%,#a5ff5a 38.5%,#97ff68 40.9%,#9f6 43.7%,#a4ff5b 45.2%,#beff41 46.2%,#cf3 46.4%,#e6ff19 46.7%,#ffe000 46.9%,#ff7300 47.1%,#eb0000 47.4%,#8f0000 47.6%,#800000 47.9%,#800000 49.1%,#830000 49.4%,#f70000 49.6%,#ff8600 49.9%,#f2ff0d 50.1%,#7f8 50.4%,#31ffce 50.6%,#18ffe7 50.9%,#10ffef 51.4%,#0efff1 53.6%,#0ffff0 53.8%,#20ffdf 54.1%,#59ffa6 54.3%,#abff54 54.6%,#dcff23 54.8%,#e9ff16 55.1%,#edff12 56.1%,#fffb00 56.8%,#ffae00 57.8%,#ff9500 58.3%,#ff8900 59.1%,#ff8200 60.8%,#ff8500 69.0%,#ffa900 74.4%,#ffb100 77.2%,#ffb300 100.0%)"></div><div style="height:3.00px;background:linear-gradient(90deg,#ffb200 0.0%,#ff9f00 7.9%,#ff9400 20.3%,#ff8300 21.8%,#ff4100 24.3%,#ff3500 25.3%,#ff3900 25.8%,#ff4e00 26.6%,#ff7100 27.3%,#ffd900 29.0%,#fff600 29.8%,#fdff02 30.3%,#e6ff19 32.3%,#daff25 35.2%,#a8ff57 38.5%,#9aff65 40.9%,#9cff63 43.7%,#a6ff59 45.2%,#bfff40 46.2%,#cdff32 46.4%,#e6ff19 46.7%,#ffe100 46.9%,#ff7300 47.1%,#e90000 47.4%,#8c0000 47.6%,#800000 47.9%,#800000 49.1%,#830000 49.4%,#f70000 49.6%,#ff8600 49.9%,#f2ff0d 50.1%,#78ff87 50.4%,#32ffcd 50.6%,#19ffe6 50.9%,#12ffed 51.4%,#17ffe8 53.8%,#28ffd7 54.1%,#61ff9e 54.3%,#b4ff4b 54.6%,#e5ff1a 54.8%,#f2ff0d 55.1%,#f3ff0c 55.8%,#fffe00 56.6%,#ffe400 57.1%,#ffa800 57.8%,#ff9000 58.3%,#ff8400 59.1%,#ff7e00 60.5%,#ff8000 68.2%,#ff8f00 71.2%,#ffa800 74.2%,#ffb100 76.9%,#ffb300 100.0%)"></div><div style="height:3.00px;background:linear-gradient(90deg,#ffb200 0.0%,#ffa000 7.9%,#ff7e00 10.9%,#ff3700 20.8%,#ff2500 22.1%,#ff0300 23.3%,#de0000 25.1%,#e60000 25.8%,#f70000 26.3%,#ff0300 26.6%,#ff2000 27.0%,#ff8d00 28.5%,#ffbc00 29.3%,#ffd900 30.0%,#ffec00 31.0%,#fcff03 31.5%,#d8ff27 31.8%,#a8ff57 32.0%,#8bff74 32.3%,#80ff7f 32.5%,#72ff8d 35.5%,#51ffae 38.2%,#47ffb8 39.7%,#45ffba 43.7%,#53ffac 45.7%,#6bff94 46.4%,#85ff7a 46.7%,#c6ff39 46.9%,#ffae00 47.1%,#fc0000 47.4%,#870000 47.6%,#800000 47.9%,#800000 49.4%,#f40000 49.6%,#ff8100 49.9%,#fbff04 50.1%,#87ff78 50.4%,#46ffb9 50.6%,#30ffcf 50.9%,#2effd1 51.1%,#3effc1 51.6%,#87ff78 52.9%,#a2ff5d 53.8%,#b6ff49 54.1%,#efff10 54.3%,#ffbe00 54.6%,#ff8e00 54.8%,#ff8000 55.1%,#ff7600 56.6%,#ff6100 57.1%,#ff2100 58.1%,#ff1200 58.8%,#ff0e00 59.8%,#ff0c00 65.5%,#ff1300 67.5%,#ff4a00 70.0%,#ff6300 72.2%,#ffac00 73.9%,#ffbc00 75.7%,#ffc100 86.1%,#ffb400 92.3%,#ffb300 100.0%)"></div><div style="height:3.00px;background:linear-gradient(90deg,#ffb200 0.0%,#ffae00 5.2%,#ffa400 7.7%,#ff9300 8.7%,#ff5400 10.9%,#ff3700 13.2%,#fe0000 16.4%,#ce0000 19.1%,#b10000 21.6%,#800000 23.6%,#800000 23.8%,#800000 26.1%,#ad0000 26.8%,#ec0000 27.5%,#ff0400 27.8%,#ff5e00 28.8%,#ff8200 29.3%,#ffa500 30.0%,#ffbe00 31.0%,#ffcb00 31.3%,#ffed00 31.5%,#bfff40 31.8%,#5fa 32.0%,#12ffed 32.3%,#00f9ff 32.5%,#00edff 33.5%,#00e2ff 36.2%,#00cdff 37.0%,#0098ff 38.0%,#007fff 38.7%,#0071ff 41.2%,#0054ff 43.2%,#0056ff 44.7%,#0063ff 45.7%,#0078ff 46.2%,#008eff 46.4%,#00b8ff 46.7%,#18ffe7 46.9%,#d9ff26 47.1%,#ff3100 47.4%,#900000 47.6%,#800000 47.9%,#800000 49.4%,#ea0000 49.6%,#ff6900 49.9%,#ffc600 50.1%,#f7ff08 50.4%,#d7ff28 50.6%,#d0ff2f 50.9%,#e6ff19 51.4%,#feff01 51.6%,#ff9400 52.4%,#ff5a00 52.9%,#f30 53.3%,#ff0900 54.1%,#e90000 54.3%,#c00000 54.6%,#a80000 54.8%,#a10000 55.1%,#9b0000 56.6%,#800000 57.6%,#800000 67.7%,#910000 68.2%,#e40000 69.7%,#f80000 70.5%,#ff0200 71.2%,#ff0e00 72.0%,#ff2400 72.5%,#ff3900 72.7%,#ff8e00 73.4%,#ffb100 73.9%,#ffc400 74.7%,#ffd000 76.2%,#ffd300 86.4%,#ffb500 92.1%,#ffb300 100.0%)"></div><div style="height:3.00px;background:linear-gradient(90deg,#ffb200 0.0%,#ffb000 5.7%,#ffa800 7.7%,#ff9600 8.7%,#ff5400 10.9%,#ff3600 13.2%,#fe0000 16.1%,#c80000 19.1%,#ab0000 21.6%,#800000 23.6%,#800000 26.1%,#860000 26.3%,#ba0000 27.0%,#fa0000 27.8%,#ff7500 29.3%,#ff9600 30.0%,#ffaf00 31.0%,#ffbc00 31.3%,#ffe000 31.5%,#c9ff36 31.8%,#59ffa6 32.0%,#14ffeb 32.3%,#00f9ff 32.5%,#0ef 33.5%,#00e9ff 35.5%,#00d2ff 36.5%,#00b0ff 37.0%,#0020ff 38.2%,#00f 38.7%,#0000f7 39.0%,#0000e0 41.2%,#0000a4 42.7%,#00009a 43.9%,#00009f 44.9%,#00a 45.4%,#0000c6 45.9%,#0008ff 46.4%,#0048ff 46.7%,#00bfff 46.9%,#9cff63 47.1%,#ff5600 47.4%,#a40000 47.6%,#800000 47.9%,#800000 49.4%,#e50000 49.6%,#ff5700 49.9%,#ff9500 50.1%,#ffad00 50.4%,#ffb200 50.6%,#ffa600 51.1%,#ff9500 51.4%,#ff7b00 51.6%,#ff0a00 52.4%,#e70000 52.6%,#a10000 53.3%,#800000 54.1%,#800000 68.0%,#840000 68.2%,#cf0000 69.5%,#e40000 70.0%,#fc0000 71.5%,#ff0600 72.0%,#ff1e00 72.5%,#f30 72.7%,#ff8d00 73.4%,#ffb100 73.9%,#ffc500 74.7%,#ffcf00 75.7%,#ffd600 78.4%,#ffd500 86.4%,#ffb600 92.1%,#ffb300 100.0%)"></div><div style="height:3.00px;background:linear-gradient(90deg,#ffb200 0.0%,#ffb100 6.0%,#ffa900 7.7%,#ff9800 8.7%,#ff5600 10.9%,#ff3800 13.2%,#ff0100 16.1%,#ca0000 19.1%,#ac0000 21.6%,#800000 23.6%,#800000 26.1%,#870000 26.3%,#ba0000 27.0%,#fb0000 27.8%,#ff7300 29.3%,#ff9500 30.0%,#ffad00 31.0%,#ffba00 31.3%,#ffde00 31.5%,#cbff34 31.8%,#5bffa4 32.0%,#15ffea 32.3%,#00fbff 32.5%,#00efff 33.5%,#00ebff 35.5%,#00d4ff 36.5%,#00b1ff 37.0%,#001eff 38.2%,#0000fd 38.7%,#0000eb 39.5%,#00d 41.2%,#0000ce 41.7%,#0000a0 42.7%,#000095 43.9%,#00009a 44.9%,#0000a5 45.4%,#0000c1 45.9%,#0004ff 46.4%,#0045ff 46.7%,#00bdff 46.9%,#9aff65 47.1%,#ff5700 47.4%,#a40000 47.6%,#800000 47.9%,#800000 49.4%,#e50000 49.6%,#ff5600 49.9%,#ff9100 50.1%,#ffa500 50.4%,#ffa800 50.6%,#ff9a00 51.1%,#ff8900 51.4%,#ff6f00 51.6%,#fd0000 52.4%,#dc0000 52.6%,#a80000 53.1%,#850000 53.6%,#800000 53.8%,#800000 68.0%,#830000 68.2%,#cf0000 69.5%,#e40000 70.0%,#fc0000 71.5%,#ff0600 72.0%,#ff1d00 72.5%,#f30 72.7%,#ff8d00 73.4%,#ffb100 73.9%,#ffc500 74.7%,#ffcf00 75.7%,#ffd600 78.4%,#ffd500 86.4%,#ffb600 92.1%,#ffb300 100.0%)"></div><div style="height:3.00px;background:linear-gradient(90deg,#ffb200 0.0%,#ffb100 6.0%,#fa0 7.7%,#f90 8.7%,#ff5700 10.9%,#ff3800 13.2%,#ff0200 16.1%,#c60000 19.4%,#ac0000 21.6%,#800000 23.6%,#800000 26.1%,#870000 26.3%,#a70000 26.8%,#fb0000 27.8%,#ff5300 28.8%,#ff7500 29.3%,#ff9600 30.0%,#ffae00 31.0%,#fb0 31.3%,#ffdf00 31.5%,#c9ff36 31.8%,#5affa5 32.0%,#14ffeb 32.3%,#00f9ff 32.5%,#0ef 33.5%,#00ebff 35.5%,#00d5ff 36.5%,#00b2ff 37.0%,#001fff 38.2%,#0000fd 38.7%,#0000eb 39.5%,#0000de 41.2%,#0000ce 41.7%,#0000a0 42.7%,#000095 43.9%,#00009b 44.9%,#0000a6 45.4%,#0000c2 45.9%,#0004ff 46.4%,#0045ff 46.7%,#00bdff 46.9%,#9f6 47.1%,#ff5800 47.4%,#a50000 47.6%,#800000 47.9%,#800000 49.4%,#e70000 49.6%,#ff5700 49.9%,#ff9300 50.1%,#ffa700 50.4%,#ffab00 50.6%,#ff9d00 51.1%,#ff8c00 51.4%,#ff7200 51.6%,#ff0100 52.4%,#ab0000 53.1%,#800 53.6%,#800000 53.8%,#800000 68.0%,#820000 68.2%,#ce0000 69.5%,#e30000 70.0%,#fc0000 71.5%,#ff0600 72.0%,#ff1d00 72.5%,#f30 72.7%,#ff8d00 73.4%,#ffb100 73.9%,#ffc500 74.7%,#ffcf00 75.7%,#ffd600 78.4%,#ffd500 86.4%,#ffb600 92.1%,#ffb300 100.0%)"></div><div style="height:3.00px;background:linear-gradient(90deg,#ffb200 0.0%,#ffb200 6.0%,#fa0 7.7%,#f90 8.7%,#ff5700 10.9%,#ff3900 13.2%,#ff0200 16.1%,#e00 17.4%,#c20000 19.4%,#a70000 21.6%,#800000 23.3%,#850000 26.3%,#ba0000 27.0%,#fc0000 27.8%,#ff5700 28.8%,#ff7a00 29.3%,#ff9d00 30.0%,#ffb500 31.0%,#ffc200 31.3%,#ffe600 31.5%,#c3ff3c 31.8%,#53ffac 32.0%,#0efff1 32.3%,#00f3ff 32.5%,#00ebff 32.8%,#00e9ff 33.5%,#00ebff 35.5%,#00d5ff 36.5%,#00b3ff 37.0%,#02f 38.2%,#0002ff 38.7%,#0000f8 39.0%,#0000e2 41.2%,#0000a5 42.7%,#00009b 43.4%,#0000a4 45.2%,#0000b5 45.7%,#0000e0 46.2%,#0008ff 46.4%,#0048ff 46.7%,#00bfff 46.9%,#9aff65 47.1%,#ff5800 47.4%,#a50000 47.6%,#800000 47.9%,#800000 49.4%,#ea0000 49.6%,#ff5d00 49.9%,#ff9e00 50.1%,#ffb800 50.4%,#ffc000 50.6%,#ffb600 51.1%,#ffa500 51.4%,#ff8b00 51.6%,#ff1a00 52.4%,#f70000 52.6%,#b00000 53.3%,#820000 54.1%,#800000 54.3%,#800000 68.2%,#ca0000 69.5%,#e00000 70.0%,#f20000 70.7%,#ff0600 72.0%,#ff1d00 72.5%,#f30 72.7%,#ff8d00 73.4%,#ffb100 73.9%,#ffc500 74.7%,#ffd000 75.9%,#ffd500 86.4%,#ffb600 92.1%,#ffb300 100.0%)"></div><div style="height:3.00px;background:linear-gradient(90deg,#ffb200 0.0%,#ffb200 6.0%,#ffab00 7.7%,#ff9a00 8.7%,#ff5f00 10.7%,#ff3e00 13.2%,#ff0200 16.6%,#ec0000 17.6%,#b60000 19.4%,#9d0000 21.3%,#800000 22.8%,#800000 26.3%,#a20000 26.8%,#e70000 27.5%,#ff0200 27.8%,#ff6500 28.8%,#ff8c00 29.3%,#ffb100 30.0%,#ffca00 31.0%,#ffd700 31.3%,#fff900 31.5%,#b4ff4b 31.8%,#49ffb6 32.0%,#07fff8 32.3%,#0ef 32.5%,#00e7ff 32.8%,#00e8ff 33.5%,#00f8ff 35.2%,#00f4ff 36.2%,#00d8ff 37.0%,#008eff 38.0%,#006bff 38.7%,#0060ff 39.5%,#0059ff 41.4%,#0037ff 42.9%,#0032ff 44.7%,#003eff 45.7%,#0057ff 46.2%,#0071ff 46.4%,#00a0ff 46.7%,#04fffb 46.9%,#caff35 47.1%,#ff3b00 47.4%,#960000 47.6%,#800000 47.9%,#800000 49.4%,#f60000 49.6%,#ff7900 49.9%,#ffd300 50.1%,#f4ff0b 50.4%,#d8ff27 50.6%,#d0ff2f 50.9%,#d4ff2b 51.1%,#fbff04 51.6%,#ffe200 51.9%,#ff7500 52.6%,#ff4100 53.1%,#fe0000 53.8%,#de0000 54.1%,#860000 54.6%,#800000 54.8%,#800000 68.5%,#c30000 69.5%,#e80000 70.2%,#fd0000 71.2%,#ff0900 72.0%,#ff1f00 72.5%,#ff3400 72.7%,#ff8a00 73.4%,#ffae00 73.9%,#ffc300 74.7%,#ffd400 76.4%,#ffd600 86.1%,#ffb700 91.6%,#ffb200 100.0%)"></div><div style="height:3.00px;background:linear-gradient(90deg,#ffb200 0.0%,#ffb300 6.2%,#ffac00 8.2%,#ff8b00 10.7%,#ff7c00 13.4%,#ff5b00 16.9%,#ff4d00 17.6%,#ff0f00 19.4%,#f00 20.6%,#e50000 22.1%,#970000 24.1%,#8c0000 24.6%,#900000 25.1%,#a10000 25.6%,#c80000 26.3%,#fe0000 27.0%,#ff8400 28.5%,#ffb800 29.3%,#ffd700 30.0%,#fe0 31.3%,#fffe00 31.5%,#dbff24 31.8%,#af5 32.0%,#8cff73 32.3%,#81ff7e 32.8%,#b0ff4f 36.0%,#a3ff5c 39.2%,#b2ff4d 43.2%,#a2ff5d 46.2%,#a7ff58 46.4%,#b9ff46 46.7%,#f1ff0e 46.9%,#ff8c00 47.1%,#e00000 47.4%,#800000 47.6%,#800000 49.1%,#870000 49.4%,#ff0b00 49.6%,#ffa500 49.9%,#d7ff28 50.1%,#7f8 50.4%,#3fffc0 50.6%,#26ffd9 50.9%,#1fffe0 51.1%,#2dffd2 51.6%,#a0ff5f 53.3%,#b6ff49 53.6%,#daff25 53.8%,#ffe700 54.1%,#ff3b00 54.6%,#f00 54.8%,#de0000 55.1%,#bc0000 55.6%,#930000 56.6%,#840000 57.3%,#8d0000 58.1%,#bd0000 59.6%,#cd0000 60.5%,#ca0000 61.8%,#af0000 64.3%,#b20000 66.0%,#ca0000 67.5%,#f70000 68.7%,#ff0500 69.0%,#ff3900 70.0%,#ff4b00 70.5%,#f60 72.5%,#ffa900 73.9%,#ffc900 76.7%,#ffca00 77.9%,#fb0 81.1%,#ffc900 85.6%,#ffb300 90.3%,#ffb200 100.0%)"></div><div style="height:3.00px;background:linear-gradient(90deg,#ffb200 0.0%,#ffb200 14.1%,#fa0 16.6%,#ff9d00 17.6%,#ff6400 19.4%,#ff5400 21.3%,#ff4600 22.1%,#fc0000 24.1%,#f30000 24.6%,#fe0000 25.3%,#ff4300 26.8%,#ffb500 28.5%,#ffdc00 29.3%,#fff500 30.3%,#fffe00 32.3%,#fff300 33.3%,#ffc400 35.2%,#ffbc00 36.0%,#ffc900 39.2%,#ffac00 43.2%,#ffca00 45.9%,#ffc900 46.4%,#ffbd00 46.7%,#ff9500 46.9%,#ff3700 47.1%,#ba0000 47.4%,#800000 47.6%,#800000 49.1%,#8c0000 49.4%,#ff1500 49.6%,#ffb900 49.9%,#b5ff4a 50.1%,#49ffb6 50.4%,#09fff6 50.6%,#00eaff 50.9%,#00daff 51.4%,#00dcff 52.1%,#00e6ff 52.9%,#00f8ff 53.3%,#0ffff0 53.6%,#3dffc2 53.8%,#8dff72 54.1%,#f5ff0a 54.3%,#ffae00 54.6%,#ff7200 54.8%,#ff4c00 55.1%,#fe0000 55.8%,#cb0000 56.3%,#a30000 56.8%,#940000 57.3%,#a60000 57.8%,#f90000 58.8%,#ff4300 59.8%,#ff5700 60.5%,#ff5200 61.8%,#ff2700 64.3%,#ff2600 65.5%,#ff5600 68.2%,#ff9f00 70.7%,#ffa000 73.4%,#ffc100 76.9%,#ffbf00 78.2%,#ffa700 81.4%,#ffbe00 85.4%,#fa0 89.6%,#ffba00 93.5%,#ffad00 97.5%,#ffb200 100.0%)"></div><div style="height:3.00px;background:linear-gradient(90deg,#ffb200 0.0%,#ffaf00 10.2%,#ffb600 14.1%,#ffb000 16.4%,#ffa100 17.6%,#ff6900 19.4%,#ff5a00 21.8%,#ff2600 24.1%,#ff2100 24.6%,#ff3100 25.3%,#ff5f00 26.6%,#ffe800 29.3%,#ff0 30.5%,#fffe00 31.8%,#fff400 32.8%,#ffb900 35.2%,#ffb200 36.0%,#ffc200 39.2%,#ffa300 42.2%,#ffa000 43.2%,#ffce00 46.2%,#ffcb00 46.4%,#ffbe00 46.7%,#ff9600 46.9%,#ff3a00 47.1%,#bf0000 47.4%,#800000 47.6%,#800000 49.1%,#8f0000 49.4%,#ff1900 49.6%,#ffc000 49.9%,#adff52 50.1%,#42ffbd 50.4%,#04fffb 50.6%,#00e6ff 50.9%,#00d7ff 51.4%,#00daff 52.6%,#00e5ff 53.1%,#00f2ff 53.3%,#0ffff0 53.6%,#48ffb7 53.8%,#a4ff5b 54.1%,#ffef00 54.3%,#f90 54.6%,#ff6100 54.8%,#ff1500 55.3%,#f20000 55.6%,#8e0000 56.3%,#800000 56.6%,#800000 57.6%,#900000 57.8%,#ff0100 58.8%,#ff4300 59.6%,#ff5a00 60.0%,#ff6400 60.5%,#ff6100 61.5%,#ff2c00 64.0%,#ff2500 65.3%,#ff3200 66.3%,#ff5900 68.0%,#ffa500 70.7%,#ff9d00 73.4%,#ffc300 76.9%,#ffc100 78.2%,#ffa400 81.4%,#ffbf00 85.4%,#ffa800 89.6%,#fb0 93.5%,#ffab00 97.5%,#ffb200 100.0%)"></div><div style="height:3.00px;background:linear-gradient(90deg,#ffb200 0.0%,#ffb200 16.1%,#ffa100 17.6%,#ff6900 19.4%,#ff5b00 22.1%,#ff3500 24.1%,#f30 24.6%,#ff3c00 25.1%,#ff7900 26.8%,#ffe200 29.0%,#fffe00 30.3%,#ff0 31.8%,#fff500 32.8%,#ffb300 35.7%,#ffc200 39.2%,#ffa000 42.7%,#ffac00 43.7%,#ffe900 45.2%,#fff200 45.9%,#ffe500 46.4%,#ffd200 46.7%,#ffa400 46.9%,#ff4500 47.1%,#c80000 47.4%,#800000 47.6%,#800000 49.1%,#920000 49.4%,#ff1d00 49.6%,#ffc400 49.9%,#af5 50.1%,#41ffbe 50.4%,#06fff9 50.6%,#00ebff 50.9%,#00dcff 51.4%,#0df 52.4%,#00e4ff 52.9%,#00fdff 53.3%,#21ffde 53.6%,#63ff9c 53.8%,#c8ff37 54.1%,#ffce00 54.3%,#ff8000 54.6%,#ff4b00 54.8%,#f90000 55.3%,#8d0000 56.1%,#800000 56.3%,#800000 57.3%,#860000 57.6%,#fa0000 58.6%,#ff1200 58.8%,#ff4900 59.6%,#ff5c00 60.0%,#ff6500 60.5%,#ff6100 61.5%,#ff2c00 64.0%,#ff2600 65.3%,#ff3200 66.3%,#ff5f00 68.2%,#ffa500 70.7%,#ff9d00 73.4%,#ffc300 76.9%,#ffc100 78.2%,#ffa400 81.4%,#ffbf00 85.4%,#ffa800 89.6%,#fb0 93.5%,#ffab00 97.5%,#ffb200 100.0%)"></div><div style="height:3.00px;background:linear-gradient(90deg,#ffb200 0.0%,#ffb200 16.1%,#ffa200 17.6%,#ff6a00 19.4%,#ff5e00 22.1%,#ff3800 24.3%,#ff4a00 25.3%,#ff8600 27.0%,#ffe300 29.0%,#ff0 30.3%,#ff0 31.8%,#fff500 32.8%,#ffb300 35.7%,#ffc200 39.2%,#ffa100 42.7%,#ffb200 43.7%,#fffe00 44.9%,#eaff15 45.4%,#e8ff17 45.7%,#f3ff0c 46.2%,#fffd00 46.4%,#ffe400 46.7%,#ffb300 46.9%,#ff5000 47.1%,#d00000 47.4%,#800000 47.6%,#800000 49.1%,#950000 49.4%,#ff2100 49.6%,#ffc800 49.9%,#a8ff57 50.1%,#43ffbc 50.4%,#0bfff4 50.6%,#00f1ff 50.9%,#00e3ff 51.4%,#00e3ff 52.1%,#00e7ff 52.6%,#00f6ff 53.1%,#0bfff4 53.3%,#35ffca 53.6%,#82ff7d 53.8%,#ebff14 54.1%,#ffb100 54.3%,#ff6a00 54.6%,#ff3600 54.8%,#ff0b00 55.1%,#e20000 55.3%,#900 55.8%,#800000 56.1%,#800000 57.1%,#860000 57.3%,#f90000 58.3%,#ff0f00 58.6%,#ff5000 59.6%,#ff6700 60.5%,#ff5f00 61.8%,#ff2b00 64.3%,#ff2800 65.3%,#ff3400 66.3%,#ff5b00 68.0%,#ffa600 70.7%,#ff9d00 73.4%,#ffc300 76.9%,#ffc100 78.2%,#ffa400 81.4%,#ffbf00 85.4%,#ffa800 89.6%,#fb0 93.5%,#ffab00 97.5%,#ffb200 100.0%)"></div><div style="height:3.00px;background:linear-gradient(90deg,#ffb200 0.0%,#ffb100 16.4%,#ffa400 17.6%,#ff7300 19.4%,#ff6700 22.1%,#ff4500 24.1%,#ff4300 24.6%,#ff5200 25.3%,#ff8000 26.8%,#ffeb00 29.3%,#fffe00 30.3%,#ff0 31.8%,#fff600 32.8%,#ffb300 35.7%,#ffc200 39.2%,#ffa100 42.7%,#ffa500 43.2%,#ffb300 43.7%,#fbff04 44.9%,#e3ff1c 45.4%,#e0ff1f 45.7%,#ecff13 46.2%,#fbff04 46.4%,#ffea00 46.7%,#ffb800 46.9%,#f50 47.1%,#d40000 47.4%,#800000 47.6%,#800000 49.1%,#970000 49.4%,#ff2400 49.6%,#ffca00 49.9%,#a7ff58 50.1%,#45ffba 50.4%,#0ffff0 50.6%,#00f7ff 50.9%,#00eaff 51.4%,#00eaff 52.1%,#0ef 52.6%,#0ff 53.1%,#18ffe7 53.3%,#4affb5 53.6%,#9fff60 53.8%,#fff600 54.1%,#ff9b00 54.3%,#ff5a00 54.6%,#fd0000 55.1%,#b10000 55.6%,#920000 55.8%,#800000 56.1%,#800000 56.8%,#8f0000 57.1%,#ff0400 58.1%,#ff2d00 58.6%,#ff5700 59.3%,#ff7200 60.3%,#ff7100 61.3%,#ff3e00 63.8%,#ff3500 65.0%,#ff4900 66.5%,#ffa600 70.7%,#ffa000 73.4%,#ffc000 76.7%,#ffc000 77.9%,#ffa600 81.4%,#ffbd00 85.6%,#ffa900 89.6%,#ffba00 93.8%,#ffac00 97.8%,#ffb200 100.0%)"></div><div style="height:3.00px;background:linear-gradient(90deg,#ffb100 0.0%,#ffb100 16.9%,#ffa900 17.9%,#ff9000 19.4%,#ff8300 22.1%,#ff6500 24.1%,#ff6200 24.8%,#ff8700 26.8%,#ffe600 29.3%,#fffd00 30.8%,#ff0 32.3%,#fff800 33.0%,#ffe900 33.7%,#ffba00 35.2%,#ffae00 36.0%,#ffc300 39.7%,#ffa100 42.9%,#ffa700 43.4%,#ffb900 43.9%,#fffd00 44.9%,#e3ff1c 45.7%,#ecff13 46.2%,#faff05 46.4%,#ffec00 46.7%,#fb0 46.9%,#ff5a00 47.1%,#db0000 47.4%,#830000 47.6%,#800000 49.1%,#9a0000 49.4%,#ff2600 49.6%,#fc0 49.9%,#a6ff59 50.1%,#47ffb8 50.4%,#14ffeb 50.6%,#00fcff 50.9%,#00f4ff 51.1%,#00efff 51.9%,#00faff 52.9%,#07fff8 53.1%,#2fd 53.3%,#5affa5 53.6%,#b4ff4b 53.8%,#ffe600 54.1%,#ff9500 54.3%,#ff5d00 54.6%,#ff0a00 55.1%,#e50000 55.3%,#ae0000 55.8%,#a00000 56.1%,#9e0000 56.3%,#b80000 56.8%,#ef0000 57.3%,#ff0f00 57.6%,#ff4c00 58.1%,#ff7400 58.6%,#ff9600 59.3%,#ffa100 60.0%,#ff9700 61.0%,#ff6b00 63.0%,#ff6400 64.0%,#ff8f00 67.2%,#ffb800 75.2%,#ffb100 79.4%,#ffb600 87.6%,#ffae00 91.1%,#ffb800 95.3%,#ffaf00 100.0%)"></div><div style="height:3.00px;background:linear-gradient(90deg,#ffb100 0.0%,#ffb400 17.6%,#ff9f00 21.8%,#ff7d00 24.6%,#ff7a00 25.3%,#ff8d00 26.8%,#ffdf00 29.3%,#fffe00 31.3%,#fff900 33.3%,#ffe700 34.0%,#ffba00 35.2%,#ffa800 36.2%,#fa0 37.2%,#ffc600 40.0%,#ffbf00 40.9%,#ffa100 42.9%,#ffa300 43.4%,#ffb300 43.9%,#fff600 44.9%,#f8ff07 45.2%,#e7ff18 45.7%,#edff12 46.2%,#f9ff06 46.4%,#fe0 46.7%,#ffbf00 46.9%,#ff5f00 47.1%,#e20000 47.4%,#8a0000 47.6%,#800000 47.9%,#800000 49.1%,#9d0000 49.4%,#ff2900 49.6%,#ffce00 49.9%,#a7ff58 50.1%,#4affb5 50.4%,#19ffe6 50.6%,#03fffc 50.9%,#00faff 51.1%,#00f6ff 52.1%,#01fffe 52.9%,#0ffff0 53.1%,#2fffd0 53.3%,#6dff92 53.6%,#c9ff36 53.8%,#ffd600 54.1%,#ff8f00 54.3%,#ff5e00 54.6%,#ff1400 55.1%,#f50000 55.3%,#c00 55.8%,#c70000 56.1%,#cd0000 56.3%,#f30000 56.8%,#ff0f00 57.1%,#ff6e00 57.8%,#ffa200 58.3%,#ffc000 58.8%,#ffd100 59.6%,#ffcb00 60.3%,#ff9000 62.3%,#ff8300 63.3%,#ff8e00 64.3%,#ffbc00 66.3%,#ffc200 67.0%,#ffbd00 67.7%,#ffa100 69.5%,#ff9b00 70.5%,#ffc200 74.2%,#ffa600 77.9%,#ffbd00 81.4%,#ffa900 84.9%,#fb0 88.6%,#fa0 92.1%,#ffba00 95.8%,#ffab00 100.0%)"></div><div style="height:3.00px;background:linear-gradient(90deg,#ffb000 0.0%,#ffb500 3.2%,#ffaf00 7.2%,#ffb700 10.7%,#ffad00 14.4%,#ffb900 18.1%,#ff8500 25.6%,#ff9c00 27.3%,#ffd000 29.0%,#ffe500 30.0%,#fffe00 31.8%,#fdff02 32.8%,#fff100 33.7%,#ffb900 35.2%,#ffa300 36.2%,#ffa400 37.2%,#ffc400 39.2%,#ffcb00 40.2%,#ffc600 40.9%,#ff9f00 43.2%,#ffae00 43.9%,#ff0 45.2%,#ebff14 45.7%,#eaff15 45.9%,#f9ff06 46.4%,#fff000 46.7%,#ffc200 46.9%,#ff6500 47.1%,#e80000 47.4%,#910000 47.6%,#800000 47.9%,#800000 49.1%,#a00000 49.4%,#ff2b00 49.6%,#ffcf00 49.9%,#a7ff58 50.1%,#4dffb2 50.4%,#1effe1 50.6%,#09fff6 50.9%,#00fdff 51.4%,#03fffc 52.6%,#1cffe3 53.1%,#41ffbe 53.3%,#87ff78 53.6%,#e7ff18 53.8%,#ffbe00 54.1%,#ff7d00 54.3%,#ff4f00 54.6%,#ff0a00 55.1%,#ef0000 55.3%,#d40000 55.8%,#d60000 56.1%,#f70000 56.6%,#ff1200 56.8%,#ffa800 58.1%,#ffc000 58.3%,#ffde00 58.8%,#ffe800 59.3%,#ffe500 59.8%,#ffd700 60.3%,#f80 62.3%,#ff8000 63.0%,#ff9100 64.0%,#ffce00 65.8%,#ffdb00 66.7%,#ffd100 67.5%,#ff9e00 69.2%,#ff8e00 70.2%,#ff9700 71.2%,#ffc400 73.0%,#ffd100 73.9%,#ffc900 74.9%,#ffa300 76.7%,#f90 77.7%,#ff9c00 78.4%,#ffc000 80.4%,#ffc900 81.4%,#ff9f00 85.1%,#ffc300 88.8%,#ffa500 92.3%,#ffbe00 96.0%,#ffa800 100.0%)"></div><div style="height:3.00px;background:linear-gradient(90deg,#ffb000 0.0%,#ffb500 3.2%,#ffaf00 7.2%,#ffb700 10.7%,#ffad00 14.4%,#ffb900 18.4%,#f80 25.6%,#ff9700 27.0%,#ffdb00 30.3%,#fff300 32.5%,#ffe600 33.7%,#ffaf00 35.5%,#ffa200 36.2%,#ffa300 37.2%,#ffc400 39.2%,#ffcb00 40.2%,#ffc600 40.9%,#ff9e00 43.2%,#ffad00 43.9%,#fffe00 45.2%,#ecff13 45.7%,#ebff14 45.9%,#f9ff06 46.4%,#fff000 46.7%,#ffc300 46.9%,#ff6700 47.1%,#eb0000 47.4%,#930000 47.6%,#800000 47.9%,#800000 49.1%,#a20000 49.4%,#ff2d00 49.6%,#ffd000 49.9%,#a8ff57 50.1%,#50ffaf 50.4%,#23ffdc 50.6%,#0ffff0 50.9%,#04fffb 51.6%,#0bfff4 52.6%,#15ffea 52.9%,#2affd5 53.1%,#56ffa9 53.3%,#a4ff5b 53.6%,#fff900 53.8%,#ffa400 54.1%,#ff6900 54.3%,#ff3d00 54.6%,#fd0000 55.1%,#db0000 55.6%,#d90000 55.8%,#f30000 56.3%,#ff0c00 56.6%,#ff9800 57.8%,#ffc800 58.3%,#ffe300 58.8%,#ffeb00 59.3%,#ffd900 60.3%,#ff9000 62.0%,#ff8000 63.0%,#ff9200 64.0%,#ffd000 65.8%,#fd0 66.7%,#ffd300 67.5%,#ff9e00 69.2%,#ff8e00 70.2%,#ff9700 71.2%,#ffc500 73.0%,#ffd200 73.9%,#ffca00 74.9%,#ffa300 76.7%,#ff9800 77.7%,#ff9c00 78.4%,#ffc100 80.4%,#ffc900 81.4%,#ff9f00 85.1%,#ffc300 88.8%,#ffa400 92.3%,#ffbf00 96.3%,#ffa800 100.0%)"></div><div style="height:3.00px;background:linear-gradient(90deg,#ffb000 0.0%,#ffb500 3.2%,#ffaf00 7.2%,#ffb700 10.7%,#ffad00 14.4%,#ffb900 18.4%,#ff8a00 25.6%,#ff9500 27.0%,#ffd300 31.5%,#ffdb00 32.8%,#ffd100 33.7%,#fa0 35.5%,#ffa100 36.2%,#ffa300 37.2%,#ffc400 39.2%,#ffcb00 40.2%,#ffc600 40.9%,#ff9e00 43.2%,#ffac00 43.9%,#fffc00 45.2%,#ecff13 45.9%,#f9ff06 46.4%,#fff100 46.7%,#ffc400 46.9%,#ff6900 47.1%,#ed0000 47.4%,#960000 47.6%,#800000 47.9%,#800000 49.1%,#a50000 49.4%,#ff2f00 49.6%,#ffd100 49.9%,#af5 50.1%,#54ffab 50.4%,#28ffd7 50.6%,#15ffea 50.9%,#0bfff4 51.6%,#0efff1 52.4%,#20ffdf 52.9%,#3affc5 53.1%,#6dff92 53.3%,#c1ff3e 53.6%,#ffdc00 53.8%,#ff8d00 54.1%,#f50 54.3%,#ff0c00 54.8%,#f30000 55.1%,#dc0000 55.6%,#e00000 55.8%,#ff0400 56.3%,#ffb900 58.1%,#ffdb00 58.6%,#ffec00 59.3%,#ffd900 60.3%,#ff9000 62.0%,#ff8000 63.0%,#ff9200 64.0%,#ffd100 65.8%,#fd0 66.7%,#ffd300 67.5%,#ff9e00 69.2%,#ff8e00 70.2%,#ff9700 71.2%,#ffc500 73.0%,#ffd200 73.9%,#ffca00 74.9%,#ffa300 76.7%,#ff9800 77.7%,#ff9c00 78.4%,#ffc100 80.4%,#ffc900 81.4%,#ff9f00 85.1%,#ffc300 88.8%,#ffa400 92.3%,#ffbf00 96.3%,#ffa800 100.0%)"></div><div style="height:3.00px;background:linear-gradient(90deg,#ffb000 0.0%,#ffb500 3.2%,#ffaf00 7.2%,#ffb700 10.7%,#ffad00 14.4%,#ffb900 18.4%,#ff8c00 25.6%,#ffa800 29.3%,#ffc900 32.3%,#ffc600 33.5%,#ffa600 35.5%,#ff9f00 36.5%,#ffa300 37.2%,#ffc400 39.2%,#ffcb00 40.2%,#ffc600 40.9%,#ff9e00 43.2%,#ffab00 43.9%,#fffb00 45.2%,#ecff13 45.9%,#f9ff06 46.4%,#fff100 46.7%,#ffc500 46.9%,#ff6a00 47.1%,#ef0000 47.4%,#980000 47.6%,#800000 47.9%,#800000 49.1%,#a70000 49.4%,#ff3100 49.6%,#ffd200 49.9%,#abff54 50.1%,#58ffa7 50.4%,#2dffd2 50.6%,#1bffe4 50.9%,#1fe 51.6%,#16ffe9 52.4%,#2cffd3 52.9%,#4affb5 53.1%,#85ff7a 53.3%,#deff21 53.6%,#ffc100 53.8%,#f70 54.1%,#f40 54.3%,#ff0100 54.8%,#ec0000 55.1%,#e00000 55.3%,#e00000 55.6%,#fb0000 56.1%,#ffbe00 58.1%,#fd0 58.6%,#ffec00 59.3%,#ffd900 60.3%,#ff9000 62.0%,#ff8000 63.0%,#ff9200 64.0%,#ffd100 65.8%,#fd0 66.7%,#ffd300 67.5%,#ff9e00 69.2%,#ff8e00 70.2%,#ff9700 71.2%,#ffc500 73.0%,#ffd200 73.9%,#ffca00 74.9%,#ffa300 76.7%,#ff9800 77.7%,#ff9c00 78.4%,#ffc100 80.4%,#ffc900 81.4%,#ff9f00 85.1%,#ffc300 88.8%,#ffa400 92.3%,#ffbf00 96.3%,#ffa800 100.0%)"></div><div style="height:3.00px;background:linear-gradient(90deg,#ffb100 0.0%,#ffb500 10.4%,#ffaf00 14.4%,#ffb600 18.6%,#ffa900 21.6%,#ff8a00 25.3%,#ffc100 32.8%,#ffbf00 33.7%,#ffa500 36.0%,#ffa200 37.0%,#ffc900 40.4%,#ffa200 43.4%,#ffb700 44.2%,#fff700 45.2%,#faff05 45.4%,#f0ff0f 45.9%,#fdff02 46.4%,#fe0 46.7%,#ffc300 46.9%,#ff6a00 47.1%,#f00000 47.4%,#900 47.6%,#800000 47.9%,#800000 49.1%,#a00 49.4%,#f30 49.6%,#ffd200 49.9%,#adff52 50.1%,#5cffa3 50.4%,#32ffcd 50.6%,#21ffde 50.9%,#17ffe8 51.6%,#1effe1 52.4%,#38ffc7 52.9%,#5cffa3 53.1%,#9dff62 53.3%,#faff05 53.6%,#ffa800 53.8%,#ff6400 54.1%,#ff3400 54.3%,#ff1200 54.6%,#f70000 54.8%,#e80000 55.1%,#e20000 55.3%,#f40000 55.8%,#ff0a00 56.1%,#ff7600 57.1%,#ffb500 57.8%,#ffd500 58.3%,#ffe600 59.1%,#ffd600 60.0%,#ff9500 61.8%,#f80 62.8%,#ff9200 63.5%,#ffcb00 65.5%,#ffd400 66.3%,#ffd000 67.0%,#ffa300 69.0%,#ff9800 70.0%,#ff9b00 70.7%,#ffbf00 72.7%,#ffc800 73.7%,#ffa200 77.4%,#ffc000 81.4%,#ffa700 85.1%,#ffbd00 89.1%,#ffa900 92.6%,#ffbc00 96.5%,#fa0 100.0%)"></div><div style="height:3.00px;background:linear-gradient(90deg,#ffb200 0.0%,#ffb300 20.3%,#ffac00 21.8%,#ff8c00 24.3%,#ff8700 25.3%,#ffa700 28.3%,#ffac00 30.8%,#ffbe00 33.5%,#ffa300 37.2%,#ffa900 38.2%,#ffc500 40.2%,#ffc700 40.9%,#ffa600 43.4%,#ffb800 44.2%,#ff0 45.4%,#f6ff09 45.9%,#f9ff06 46.2%,#fffc00 46.4%,#ffea00 46.7%,#ffc000 46.9%,#ff6800 47.1%,#ef0000 47.4%,#900 47.6%,#800000 47.9%,#800000 49.1%,#ad0000 49.4%,#ff3500 49.6%,#ffd200 49.9%,#afff50 50.1%,#60ff9f 50.4%,#37ffc8 50.6%,#26ffd9 50.9%,#1effe1 51.6%,#26ffd9 52.4%,#31ffce 52.6%,#45ffba 52.9%,#6eff91 53.1%,#b5ff4a 53.3%,#ffea00 53.6%,#ff9200 53.8%,#ff5200 54.1%,#ff2700 54.3%,#ff0800 54.6%,#f20000 54.8%,#e60000 55.1%,#e50000 55.3%,#ff0100 55.8%,#f80 57.1%,#ffb300 57.6%,#ffd100 58.1%,#ffe100 58.8%,#ffd600 59.6%,#ff9a00 61.3%,#ff8d00 62.3%,#ff9700 63.0%,#ffc400 64.8%,#ffce00 65.8%,#ffc800 66.5%,#ffa600 68.2%,#ff9f00 69.2%,#ffbf00 72.7%,#ffac00 76.2%,#ffb500 79.4%,#ffaf00 86.8%,#ffb800 90.3%,#ffac00 93.8%,#ffb900 97.3%,#ffad00 100.0%)"></div><div style="height:3.00px;background:linear-gradient(90deg,#ffb300 0.0%,#ffb000 11.4%,#ffb500 14.6%,#ffaf00 17.9%,#ffb500 20.8%,#ffae00 22.1%,#ff8900 24.3%,#ff8300 25.3%,#ffae00 28.3%,#ffa900 31.3%,#ffbf00 34.2%,#ffa200 37.7%,#ffc700 41.2%,#ffac00 43.2%,#ffac00 43.7%,#ffb900 44.2%,#fffa00 45.4%,#feff01 46.2%,#fff700 46.4%,#ffe600 46.7%,#ffbd00 46.9%,#ff6700 47.1%,#ef0000 47.4%,#900 47.6%,#800000 47.9%,#800000 49.1%,#b00000 49.4%,#ff3700 49.6%,#ffd100 49.9%,#b2ff4d 50.1%,#64ff9b 50.4%,#3dffc2 50.6%,#2cffd3 50.9%,#24ffdb 51.4%,#28ffd7 52.1%,#3bffc4 52.6%,#53ffac 52.9%,#81ff7e 53.1%,#ceff31 53.3%,#ffd100 53.6%,#ff7e00 53.8%,#ff4300 54.1%,#ff1b00 54.3%,#f00 54.6%,#e00 54.8%,#e80000 55.1%,#f80000 55.6%,#ff0d00 55.8%,#ffb100 57.3%,#ffd200 57.8%,#ffe000 58.3%,#ffd900 59.1%,#f90 60.8%,#ff8a00 61.8%,#ff9500 62.5%,#ffca00 64.3%,#ffd300 65.0%,#ffcd00 65.8%,#ff9e00 67.7%,#ff9800 68.5%,#ff9f00 69.2%,#ffc200 71.0%,#ffc800 71.7%,#ffa200 74.9%,#ffc000 78.2%,#ffa700 81.4%,#ffbd00 84.6%,#ffa900 87.8%,#fb0 91.3%,#fa0 94.5%,#ffba00 97.8%,#ffb000 100.0%)"></div><div style="height:3.00px;background:linear-gradient(90deg,#ffb300 0.0%,#ffb600 7.9%,#ffaf00 11.2%,#ffb700 14.6%,#ffad00 17.9%,#ffb700 21.1%,#ffb000 22.1%,#f80 24.3%,#ff8200 25.1%,#ff8700 25.8%,#ffb100 28.3%,#ffa700 31.5%,#ffc200 34.5%,#ffa100 37.7%,#ffa600 38.7%,#ffc900 41.2%,#ffae00 43.7%,#ffb900 44.2%,#fff700 45.4%,#ff0 45.9%,#fff500 46.4%,#ffe300 46.7%,#fb0 46.9%,#f60 47.1%,#f00000 47.4%,#9a0000 47.6%,#800000 47.9%,#800000 49.1%,#b20000 49.4%,#ff3800 49.6%,#ffd100 49.9%,#b4ff4b 50.1%,#68ff97 50.4%,#42ffbd 50.6%,#32ffcd 50.9%,#2affd5 51.4%,#30ffcf 52.1%,#46ffb9 52.6%,#61ff9e 52.9%,#94ff6b 53.1%,#e5ff1a 53.3%,#ffba00 53.6%,#ff6c00 53.8%,#ff3600 54.1%,#ff1200 54.3%,#fa0000 54.6%,#ed0000 54.8%,#eb0000 55.1%,#ff0300 55.6%,#ff4c00 56.3%,#ffbd00 57.3%,#ffda00 57.8%,#ffe300 58.3%,#ffd500 59.1%,#ff9000 60.8%,#ff8600 61.5%,#ff9100 62.3%,#ffce00 64.0%,#ffd900 64.8%,#fc0 65.8%,#ff9800 67.5%,#ff9100 68.2%,#ff9a00 69.0%,#ffc800 70.7%,#ffd000 71.5%,#ffca00 72.2%,#ffa200 73.9%,#f90 74.7%,#ff9d00 75.4%,#ffbf00 77.2%,#ffc900 78.2%,#ffa000 81.4%,#ffc300 84.9%,#ffa400 88.1%,#ffbf00 91.3%,#ffa800 94.8%,#ffbc00 98.0%,#ffb200 100.0%)"></div><div style="height:3.00px;background:linear-gradient(90deg,#ffb300 0.0%,#ffb600 7.9%,#ffaf00 11.2%,#ffb700 14.6%,#ffad00 17.9%,#ffb800 21.1%,#ffb100 22.1%,#ff8900 24.3%,#ff8300 25.1%,#f80 25.8%,#ffb200 28.3%,#ffa600 31.5%,#ffc200 34.5%,#ffa100 37.7%,#ffa600 38.7%,#ffc900 41.2%,#ffad00 43.7%,#ffb800 44.2%,#fff600 45.4%,#ff0 45.9%,#fff400 46.4%,#ffe300 46.7%,#ffbc00 46.9%,#ff6800 47.1%,#f20000 47.4%,#9d0000 47.6%,#800000 47.9%,#800000 49.1%,#b40000 49.4%,#ff3900 49.6%,#ffd000 49.9%,#b7ff48 50.1%,#6cff93 50.4%,#47ffb8 50.6%,#37ffc8 50.9%,#30ffcf 51.4%,#37ffc8 52.1%,#50ffaf 52.6%,#6fff90 52.9%,#a7ff58 53.1%,#fcff03 53.3%,#ffa500 53.6%,#ff5c00 53.8%,#ff2b00 54.1%,#ff0b00 54.3%,#f70000 54.6%,#e00 54.8%,#f00000 55.1%,#fb0000 55.3%,#ff0e00 55.6%,#ffc100 57.3%,#ffdc00 57.8%,#ffe400 58.3%,#ffd500 59.1%,#ff9000 60.8%,#ff8600 61.5%,#ff9100 62.3%,#ffce00 64.0%,#ffd900 64.8%,#fc0 65.8%,#ff9800 67.5%,#ff9100 68.2%,#ff9a00 69.0%,#ffc800 70.7%,#ffd000 71.5%,#ffca00 72.2%,#ffa200 73.9%,#f90 74.7%,#ff9d00 75.4%,#ffbf00 77.2%,#ffc900 78.2%,#ffa000 81.4%,#ffc300 84.9%,#ffa400 88.1%,#ffbf00 91.3%,#ffa800 94.8%,#ffbc00 98.0%,#ffb200 100.0%)"></div><div style="height:3.00px;background:linear-gradient(90deg,#ffb300 0.0%,#ffb600 7.9%,#ffaf00 11.2%,#ffb700 14.6%,#ffad00 17.9%,#ffb800 21.1%,#ffb100 22.1%,#ff8e00 24.1%,#ff8500 25.1%,#ff8a00 25.8%,#ffb200 28.3%,#ffa600 31.5%,#ffc200 34.5%,#ffa100 37.7%,#ffa600 38.7%,#ffc900 41.2%,#ffad00 43.7%,#ffb700 44.2%,#fff400 45.4%,#fffe00 45.9%,#fff400 46.4%,#ffe300 46.7%,#ffbd00 46.9%,#ff6900 47.1%,#f40000 47.4%,#9f0000 47.6%,#800000 47.9%,#800000 49.1%,#b60000 49.4%,#ff3a00 49.6%,#ffcf00 49.9%,#baff45 50.1%,#70ff8f 50.4%,#4cffb3 50.6%,#3cffc3 50.9%,#36ffc9 51.4%,#3fffc0 52.1%,#5cffa3 52.6%,#7eff81 52.9%,#bf4 53.1%,#ffec00 53.3%,#ff9200 53.6%,#ff4e00 53.8%,#f20 54.1%,#ff0600 54.3%,#f50000 54.6%,#f00000 54.8%,#ff0500 55.3%,#ffc500 57.3%,#ffde00 57.8%,#ffe400 58.3%,#ffd500 59.1%,#ff9000 60.8%,#ff8600 61.5%,#ff9100 62.3%,#ffce00 64.0%,#ffd900 64.8%,#fc0 65.8%,#ff9800 67.5%,#ff9100 68.2%,#ff9a00 69.0%,#ffc800 70.7%,#ffd000 71.5%,#ffca00 72.2%,#ffa200 73.9%,#f90 74.7%,#ff9d00 75.4%,#ffbf00 77.2%,#ffc900 78.2%,#ffa000 81.4%,#ffc300 84.9%,#ffa400 88.1%,#ffbf00 91.3%,#ffa800 94.8%,#ffbc00 98.0%,#ffb200 100.0%)"></div><div style="height:3.00px;background:linear-gradient(90deg,#ffb400 0.0%,#ffb500 7.9%,#ffaf00 11.2%,#ffb700 14.6%,#ffad00 17.9%,#ffb700 21.1%,#ffae00 22.3%,#ff8c00 24.3%,#ff8700 25.3%,#ffb200 28.3%,#ffa700 31.5%,#ffc100 34.5%,#ffbc00 35.5%,#ffa100 37.7%,#ffa500 38.7%,#ffc800 41.2%,#ffae00 43.7%,#ffc100 44.4%,#fff300 45.4%,#fffc00 45.9%,#fff300 46.4%,#ffe300 46.7%,#ffbd00 46.9%,#ff6a00 47.1%,#f60000 47.4%,#a00000 47.6%,#800000 47.9%,#800000 49.1%,#b80000 49.4%,#ff3c00 49.6%,#ffcf00 49.9%,#bdff42 50.1%,#75ff8a 50.4%,#51ffae 50.6%,#42ffbd 50.9%,#3bffc4 51.4%,#47ffb8 52.1%,#67ff98 52.6%,#8dff72 52.9%,#cdff32 53.1%,#ffd800 53.3%,#ff8100 53.6%,#ff4200 53.8%,#ff1a00 54.1%,#ff0200 54.3%,#f50000 54.6%,#fc0000 55.1%,#ff0e00 55.3%,#ffb500 57.1%,#ffd600 57.6%,#ffe200 58.1%,#ffdb00 58.8%,#ff9700 60.5%,#f80 61.5%,#ff9400 62.3%,#ffce00 64.0%,#ffd700 64.8%,#ffcf00 65.5%,#ff9d00 67.2%,#ff9300 68.0%,#ff9800 68.7%,#ffc200 70.5%,#ffcd00 71.5%,#ffc700 72.2%,#ffa300 73.9%,#ff9c00 74.7%,#ff9f00 75.4%,#ffbe00 77.2%,#ffc600 78.2%,#ffa200 81.4%,#ffc100 84.9%,#ffa600 88.1%,#ffbe00 91.6%,#ffa900 94.8%,#fb0 98.0%,#ffb200 100.0%)"></div><div style="height:3.00px;background:linear-gradient(90deg,#ffb400 0.0%,#ffb300 21.1%,#ffad00 22.3%,#ff8b00 25.3%,#ffb300 29.0%,#ffab00 32.0%,#ffbd00 35.2%,#ffa400 38.5%,#ffc600 41.4%,#ffb200 43.7%,#ffc300 44.4%,#fff100 45.4%,#fff900 45.9%,#ffef00 46.4%,#ffdf00 46.7%,#ffb900 46.9%,#ff6800 47.1%,#f50000 47.4%,#a00000 47.6%,#800000 47.9%,#800000 49.1%,#b00 49.4%,#ff3d00 49.6%,#ffce00 49.9%,#c0ff3f 50.1%,#79ff86 50.4%,#56ffa9 50.6%,#47ffb8 50.9%,#41ffbe 51.4%,#47ffb8 51.9%,#5bffa4 52.4%,#72ff8d 52.6%,#9bff64 52.9%,#e0ff1f 53.1%,#ffc500 53.3%,#ff7200 53.6%,#ff3800 53.8%,#ff1400 54.1%,#f00 54.3%,#f60000 54.6%,#ff0400 55.1%,#ff2d00 55.6%,#ff9400 56.6%,#ffbf00 57.1%,#ffd700 57.6%,#fd0 58.1%,#ffcf00 58.8%,#f90 60.3%,#ff8e00 61.0%,#ff9500 61.8%,#ffc600 63.5%,#ffd000 64.3%,#ffca00 65.0%,#ffa400 66.7%,#ff9c00 67.5%,#ffc300 71.0%,#ffa600 74.2%,#fb0 77.7%,#ffac00 81.4%,#ffb800 84.9%,#ffad00 88.6%,#ffb800 92.1%,#ffac00 95.3%,#ffb900 98.5%,#ffb500 100.0%)"></div><div style="height:3.00px;background:linear-gradient(90deg,#ffb400 0.0%,#ffb300 18.6%,#ffac00 22.3%,#ff8d00 25.8%,#ffb600 29.5%,#ffab00 32.8%,#ffbd00 35.7%,#ffa400 38.7%,#ffc500 41.7%,#ffb700 43.7%,#ffc600 44.4%,#fe0 45.4%,#fff500 45.9%,#ffeb00 46.4%,#ffdb00 46.7%,#ffb600 46.9%,#f60 47.1%,#f40000 47.4%,#a00000 47.6%,#800000 47.9%,#800000 49.1%,#be0000 49.4%,#ff3f00 49.6%,#ffcd00 49.9%,#c3ff3c 50.1%,#7dff82 50.4%,#5affa5 50.6%,#4cffb3 50.9%,#47ffb8 51.4%,#4effb1 51.9%,#64ff9b 52.4%,#7eff81 52.6%,#af5 52.9%,#f1ff0e 53.1%,#ffb400 53.3%,#ff6500 53.6%,#ff3000 53.8%,#ff1000 54.1%,#fe0000 54.3%,#f80000 54.6%,#fd0000 54.8%,#ff0b00 55.1%,#ff3600 55.6%,#f80 56.3%,#ffb700 56.8%,#ffd300 57.3%,#ffda00 57.8%,#fc0 58.6%,#ff9700 60.0%,#ff8f00 60.8%,#f90 61.5%,#ffc500 63.0%,#ffcf00 63.8%,#ffc900 64.5%,#ffa200 66.3%,#ff9c00 67.0%,#ffc300 70.0%,#ffa600 73.0%,#fb0 75.9%,#ffac00 78.9%,#ffb700 81.6%,#ffae00 84.6%,#ffb700 87.6%,#ffae00 90.3%,#ffb800 93.3%,#ffad00 96.3%,#ffb700 100.0%)"></div><div style="height:3.00px;background:linear-gradient(90deg,#ffb400 0.0%,#ffb000 8.7%,#ffb600 11.9%,#ffaf00 14.9%,#ffb700 18.1%,#ffa900 23.1%,#ff8e00 26.1%,#fb0 30.0%,#ffa700 33.0%,#ffc000 36.2%,#ffa500 38.5%,#ffa400 39.5%,#ffc600 41.9%,#ffbd00 43.9%,#ffec00 45.4%,#fff100 45.9%,#ffe600 46.4%,#ffd700 46.7%,#ffb300 46.9%,#ff6400 47.1%,#f30000 47.4%,#9f0000 47.6%,#800000 47.9%,#800000 49.1%,#c10000 49.4%,#ff4000 49.6%,#fc0 49.9%,#c6ff39 50.1%,#81ff7e 50.4%,#5fffa0 50.6%,#4dffb2 51.1%,#4fffb0 51.6%,#5effa1 52.1%,#6eff91 52.4%,#89ff76 52.6%,#b8ff47 52.9%,#fffc00 53.1%,#ffa400 53.3%,#ff5a00 53.6%,#ff2900 53.8%,#ff0d00 54.1%,#fe0000 54.3%,#fb0000 54.6%,#ff0400 54.8%,#ff2700 55.3%,#ff5900 55.8%,#ff9500 56.3%,#ffc300 56.8%,#ffd000 57.1%,#ffda00 57.6%,#ffd300 58.1%,#ff9a00 59.6%,#ff8c00 60.3%,#ff9300 61.0%,#fc0 62.8%,#ffd400 63.5%,#ffc900 64.3%,#ff9d00 65.8%,#ff9500 66.5%,#ff9d00 67.2%,#ffc400 68.7%,#fc0 69.5%,#ffc600 70.2%,#ffa400 71.7%,#ff9c00 72.5%,#ffa100 73.2%,#ffc600 75.4%,#ffc300 76.2%,#ffa600 77.9%,#ffa100 78.7%,#ffc200 81.6%,#ffa500 84.6%,#ffbe00 87.6%,#ffa800 90.8%,#ffbc00 93.5%,#fa0 96.8%,#ffba00 100.0%)"></div><div style="height:3.00px;background:linear-gradient(90deg,#ffb400 0.0%,#ffb000 8.7%,#ffb600 11.9%,#ffae00 14.9%,#ffb700 18.1%,#fa0 23.1%,#ff8f00 26.1%,#fb0 30.0%,#ffa700 33.0%,#ffc000 36.2%,#ffa500 38.5%,#ffa300 39.5%,#ffc600 41.9%,#ffbd00 43.9%,#ffc700 44.4%,#ffeb00 45.4%,#fff000 45.9%,#ffe600 46.4%,#ffd600 46.7%,#ffb300 46.9%,#f60 47.1%,#f50000 47.4%,#a10000 47.6%,#800000 47.9%,#810000 49.1%,#c30000 49.4%,#ff4100 49.6%,#ffcb00 49.9%,#c9ff36 50.1%,#85ff7a 50.4%,#64ff9b 50.6%,#52ffad 51.1%,#5fa 51.6%,#65ff9a 52.1%,#7f8 52.4%,#94ff6b 52.6%,#c6ff39 52.9%,#ffec00 53.1%,#ff9500 53.3%,#ff5000 53.6%,#ff2400 53.8%,#ff0b00 54.1%,#f00 54.3%,#f00 54.6%,#ff1a00 55.1%,#ff4700 55.6%,#ffb300 56.6%,#ffc600 56.8%,#ffd200 57.1%,#ffdb00 57.6%,#ffcb00 58.3%,#ff9a00 59.6%,#ff8b00 60.3%,#ff9400 61.0%,#ffcd00 62.8%,#ffd500 63.5%,#ffc900 64.3%,#ff9c00 65.8%,#ff9400 66.5%,#ff9d00 67.2%,#ffc500 68.7%,#ffcd00 69.5%,#ffc600 70.2%,#ffa300 71.7%,#ff9b00 72.5%,#ffa000 73.2%,#ffc700 75.4%,#ffc300 76.2%,#ffa500 77.9%,#ffa000 78.7%,#ffc200 81.6%,#ffa500 84.6%,#ffbf00 87.6%,#ffa800 90.8%,#ffbc00 93.5%,#fa0 96.8%,#ffba00 100.0%)"></div><div style="height:3.00px;background:linear-gradient(90deg,#ffb400 0.0%,#ffb000 8.7%,#ffb600 11.9%,#ffae00 14.9%,#ffb700 18.1%,#fa0 23.1%,#ff9000 26.1%,#fb0 30.0%,#ffa700 33.0%,#ffc000 36.2%,#ffa500 38.5%,#ffa300 39.5%,#ffc600 41.9%,#ffbd00 43.9%,#ffc700 44.4%,#ffea00 45.4%,#fff000 45.9%,#ffe500 46.4%,#ffd600 46.7%,#ffb400 46.9%,#ff6700 47.1%,#f70000 47.4%,#a30000 47.6%,#800000 47.9%,#820000 49.1%,#c40000 49.4%,#ff4200 49.6%,#ffca00 49.9%,#cf3 50.1%,#8aff75 50.4%,#69ff96 50.6%,#5bffa4 50.9%,#58ffa7 51.4%,#62ff9d 51.9%,#80ff7f 52.4%,#9fff60 52.6%,#d4ff2b 52.9%,#fd0 53.1%,#ff8900 53.3%,#ff4700 53.6%,#ff1f00 53.8%,#ff0a00 54.1%,#ff0200 54.3%,#ff0500 54.6%,#f20 55.1%,#ff4e00 55.6%,#ff9f00 56.3%,#ffc800 56.8%,#ffd400 57.1%,#ffdb00 57.6%,#ffcb00 58.3%,#ff9a00 59.6%,#ff8b00 60.3%,#ff9400 61.0%,#ffcd00 62.8%,#ffd500 63.5%,#ffc900 64.3%,#ff9c00 65.8%,#ff9400 66.5%,#ff9d00 67.2%,#ffc500 68.7%,#ffcd00 69.5%,#ffc600 70.2%,#ffa300 71.7%,#ff9b00 72.5%,#ffa000 73.2%,#ffc700 75.4%,#ffc300 76.2%,#ffa500 77.9%,#ffa000 78.7%,#ffc200 81.6%,#ffa500 84.6%,#ffbf00 87.6%,#ffa800 90.8%,#ffbc00 93.5%,#fa0 96.8%,#ffba00 100.0%)"></div><div style="height:3.00px;background:linear-gradient(90deg,#ffb400 0.0%,#ffb000 8.7%,#ffb600 11.9%,#ffae00 14.9%,#ffb700 18.1%,#ffab00 23.1%,#ff9100 26.1%,#fb0 30.0%,#ffa700 33.0%,#ffc000 36.2%,#ffa500 38.5%,#ffa300 39.5%,#ffc600 41.9%,#ffbc00 43.9%,#ffc600 44.4%,#ffe900 45.4%,#ffef00 45.9%,#ffe500 46.4%,#ffd600 46.7%,#ffb400 46.9%,#ff6800 47.1%,#f90000 47.4%,#a50000 47.6%,#800000 47.9%,#840000 49.1%,#c60000 49.4%,#ff4200 49.6%,#ffc800 49.9%,#cfff30 50.1%,#8eff71 50.4%,#6dff92 50.6%,#60ff9f 50.9%,#5dffa2 51.4%,#68ff97 51.9%,#8f7 52.4%,#af5 52.6%,#e1ff1e 52.9%,#ffcf00 53.1%,#ff7d00 53.3%,#ff4000 53.6%,#ff1c00 53.8%,#ff0a00 54.1%,#ff0400 54.3%,#ff0900 54.6%,#ff2900 55.1%,#ffba00 56.6%,#ffd500 57.1%,#ffdc00 57.6%,#ffcb00 58.3%,#ff9a00 59.6%,#ff8b00 60.3%,#ff9400 61.0%,#ffcd00 62.8%,#ffd500 63.5%,#ffc900 64.3%,#ff9c00 65.8%,#ff9400 66.5%,#ff9d00 67.2%,#ffc500 68.7%,#ffcd00 69.5%,#ffc600 70.2%,#ffa300 71.7%,#ff9b00 72.5%,#ffa000 73.2%,#ffc700 75.4%,#ffc300 76.2%,#ffa500 77.9%,#ffa000 78.7%,#ffc200 81.6%,#ffa500 84.6%,#ffbf00 87.6%,#ffa800 90.8%,#ffbc00 93.5%,#fa0 96.8%,#ffba00 100.0%)"></div><div style="height:3.00px;background:linear-gradient(90deg,#ffb400 0.0%,#ffb500 18.4%,#fa0 22.8%,#ff9500 26.1%,#ffb800 29.8%,#ffa900 33.3%,#ffbe00 36.2%,#ffa400 39.5%,#ffc400 41.9%,#ffbf00 43.9%,#ffe900 45.4%,#ffed00 45.9%,#ffe300 46.4%,#ffd400 46.7%,#ffb200 46.9%,#ff6700 47.1%,#f90000 47.4%,#a60000 47.6%,#810000 47.9%,#800000 48.9%,#870000 49.1%,#c80000 49.4%,#f40 49.6%,#ffc700 49.9%,#d2ff2d 50.1%,#92ff6d 50.4%,#72ff8d 50.6%,#65ff9a 50.9%,#63ff9c 51.4%,#6fff90 51.9%,#91ff6e 52.4%,#b4ff4b 52.6%,#ef1 52.9%,#ffc200 53.1%,#ff7300 53.3%,#ff3a00 53.6%,#ff1a00 53.8%,#ff0a00 54.1%,#ff0700 54.3%,#ff0e00 54.6%,#ff3000 55.1%,#ffbe00 56.6%,#fc0 56.8%,#ffd800 57.3%,#ffcd00 58.1%,#ff9800 59.6%,#ff8f00 60.3%,#ff9b00 61.0%,#ffc900 62.5%,#ffd100 63.3%,#ffc700 64.0%,#ffa100 65.5%,#f90 66.3%,#ffc700 69.2%,#ffa200 72.2%,#ffc000 75.4%,#ffa700 78.4%,#ffbc00 81.4%,#fa0 84.6%,#ffba00 87.6%,#ffab00 90.8%,#ffb900 93.8%,#ffac00 97.0%,#ffb800 100.0%)"></div><div style="height:3.00px;background:linear-gradient(90deg,#ffb300 0.0%,#ffb200 20.1%,#ff9800 25.6%,#ffb700 30.5%,#ffab00 34.0%,#ffbd00 36.7%,#ffa500 39.7%,#ffc200 42.2%,#ffc300 43.9%,#ffe900 45.4%,#ffec00 45.9%,#ffe000 46.4%,#ffd100 46.7%,#ffb000 46.9%,#f60 47.1%,#f80000 47.4%,#a50000 47.6%,#800000 47.9%,#800000 48.9%,#890000 49.1%,#cb0000 49.4%,#ff4500 49.6%,#ffc600 49.9%,#d5ff2a 50.1%,#96ff69 50.4%,#76ff89 50.6%,#6aff95 50.9%,#68ff97 51.4%,#75ff8a 51.9%,#9aff65 52.4%,#bfff40 52.6%,#faff05 52.9%,#ff6a00 53.3%,#ff3600 53.6%,#ff1800 53.8%,#ff0b00 54.1%,#ff0a00 54.3%,#ff1200 54.6%,#ff3600 55.1%,#ff9b00 56.1%,#ffc300 56.6%,#ffce00 56.8%,#ffd500 57.3%,#ffcd00 57.8%,#ff9a00 59.3%,#ff9200 60.0%,#ff9e00 60.8%,#ffc300 62.0%,#ffcd00 62.8%,#ffc700 63.5%,#ffa400 65.0%,#ff9d00 65.8%,#ffc300 68.7%,#ffa700 71.5%,#fb0 74.4%,#ffad00 77.4%,#ffb500 80.1%,#ffaf00 92.1%,#ffb700 94.8%,#ffae00 97.8%,#ffb600 100.0%)"></div><div style="height:3.00px;background:linear-gradient(90deg,#ffb200 0.0%,#ffb500 20.6%,#ff9a00 24.8%,#ffb900 31.3%,#fa0 34.5%,#ffbd00 37.2%,#ffa500 40.0%,#ffc300 42.4%,#ffc600 43.9%,#ffeb00 45.7%,#fd0 46.4%,#ffce00 46.7%,#ffad00 46.9%,#ff6400 47.1%,#f70000 47.4%,#a50000 47.6%,#800000 47.9%,#800000 48.9%,#8b0000 49.1%,#cd0000 49.4%,#ff4600 49.6%,#ffc500 49.9%,#d8ff27 50.1%,#9aff65 50.4%,#7bff84 50.6%,#6eff91 50.9%,#6dff92 51.4%,#7cff83 51.9%,#a2ff5d 52.4%,#c8ff37 52.6%,#fff900 52.9%,#ff6200 53.3%,#ff3200 53.6%,#ff1700 53.8%,#ff0c00 54.1%,#ff0d00 54.3%,#ff2700 54.8%,#ffb900 56.3%,#ffc700 56.6%,#ffd200 57.1%,#fc0 57.6%,#ffa100 58.8%,#ff9200 59.6%,#f90 60.3%,#ffc600 61.8%,#ffce00 62.5%,#ffc500 63.3%,#ffa400 64.5%,#ff9b00 65.3%,#ffa200 66.0%,#ffc600 68.0%,#ffa200 71.0%,#ffc000 73.7%,#ffa700 76.4%,#ffbc00 79.2%,#fa0 81.9%,#ffba00 84.6%,#ffac00 87.3%,#ffb900 90.1%,#ffad00 92.8%,#ffb800 95.3%,#ffad00 98.3%,#ffb400 100.0%)"></div><div style="height:3.00px;background:linear-gradient(90deg,#ffb200 0.0%,#ffb000 12.4%,#ffb600 15.1%,#ffae00 17.9%,#ffb700 20.6%,#ff9a00 24.6%,#ffa800 29.0%,#fb0 31.5%,#ffa800 34.7%,#ffbf00 37.2%,#ffa400 40.2%,#ffc200 42.4%,#ffcb00 44.2%,#ffea00 45.7%,#ffdb00 46.4%,#fc0 46.7%,#ffac00 46.9%,#ff6400 47.1%,#f80000 47.4%,#a50000 47.6%,#810000 47.9%,#800000 48.9%,#8e0000 49.1%,#cf0000 49.4%,#ff4700 49.6%,#ffc400 49.9%,#dbff24 50.1%,#9eff61 50.4%,#7fff80 50.6%,#70ff8f 51.1%,#78ff87 51.6%,#91ff6e 52.1%,#af5 52.4%,#d2ff2d 52.6%,#fe0 52.9%,#ff5b00 53.3%,#ff2e00 53.6%,#ff1700 53.8%,#ff0e00 54.1%,#f10 54.3%,#ff2d00 54.8%,#ff5900 55.3%,#ffab00 56.1%,#ffbe00 56.3%,#ffca00 56.6%,#ffd200 57.1%,#ffc900 57.6%,#ff9c00 58.8%,#ff9000 59.6%,#ff9600 60.0%,#ffc500 61.5%,#ffd100 62.3%,#ffc800 63.0%,#ffa300 64.3%,#ff9800 65.0%,#ff9e00 65.8%,#ffc400 67.2%,#ffca00 68.0%,#ffa400 70.0%,#ff9d00 70.7%,#ffc500 73.4%,#ffa200 76.2%,#ffc100 78.9%,#ffa500 81.9%,#ffbe00 84.6%,#ffa800 87.3%,#ffbc00 90.1%,#fa0 92.8%,#ffba00 95.5%,#ffac00 98.3%,#ffb300 100.0%)"></div><div style="height:3.00px;background:linear-gradient(90deg,#ffb200 0.0%,#ffb000 12.4%,#ffb600 15.1%,#ffae00 17.9%,#ffb700 20.6%,#ff9b00 24.6%,#ffa800 29.0%,#fb0 31.5%,#ffa800 34.7%,#ffbf00 37.2%,#ffa400 40.2%,#ffc200 42.4%,#ffcb00 44.2%,#ffe900 45.7%,#ffdb00 46.4%,#fc0 46.7%,#ffac00 46.9%,#ff6500 47.1%,#fa0000 47.4%,#a70000 47.6%,#830000 47.9%,#800000 48.9%,#900000 49.1%,#d10000 49.4%,#ff4800 49.6%,#ffc300 49.9%,#df2 50.1%,#a2ff5d 50.4%,#83ff7c 50.6%,#75ff8a 51.1%,#7eff81 51.6%,#98ff67 52.1%,#b2ff4d 52.4%,#dbff24 52.6%,#ffe400 52.9%,#ff9700 53.1%,#ff5600 53.3%,#ff2c00 53.6%,#ff1700 53.8%,#ff1000 54.1%,#ff1500 54.3%,#ff3200 54.8%,#ff5e00 55.3%,#ffae00 56.1%,#ffc000 56.3%,#fc0 56.6%,#ffd300 57.1%,#ffc900 57.6%,#ff9c00 58.8%,#ff9000 59.6%,#ff9600 60.0%,#ffc500 61.5%,#ffd100 62.3%,#ffc800 63.0%,#ffa300 64.3%,#ff9800 65.0%,#ff9e00 65.8%,#ffc400 67.2%,#ffca00 68.0%,#ffa400 70.0%,#ff9d00 70.7%,#ffc500 73.4%,#ffa200 76.2%,#ffc100 78.9%,#ffa500 81.9%,#ffbe00 84.6%,#ffa800 87.3%,#ffbc00 90.1%,#fa0 92.8%,#ffba00 95.5%,#ffac00 98.3%,#ffb300 100.0%)"></div><div style="height:3.00px;background:linear-gradient(90deg,#ffb200 0.0%,#ffb000 12.4%,#ffb600 15.1%,#ffae00 17.9%,#ffb700 20.6%,#ff9b00 24.6%,#ffa800 29.0%,#fb0 31.5%,#ffa800 34.7%,#ffbf00 37.2%,#ffa400 40.2%,#ffc200 42.4%,#ffcb00 44.2%,#ffe800 45.7%,#ffda00 46.4%,#fc0 46.7%,#ffac00 46.9%,#f60 47.1%,#fc0000 47.4%,#a90000 47.6%,#850000 47.9%,#800000 48.1%,#800000 48.9%,#910000 49.1%,#d30000 49.4%,#ff4900 49.6%,#ffc200 49.9%,#e0ff1f 50.1%,#a5ff5a 50.4%,#8f7 50.6%,#7aff85 51.1%,#83ff7c 51.6%,#9fff60 52.1%,#b9ff46 52.4%,#e4ff1b 52.6%,#ffda00 52.9%,#ff8f00 53.1%,#ff5100 53.3%,#ff2a00 53.6%,#ff1700 53.8%,#ff1300 54.1%,#ff1900 54.3%,#ff3700 54.8%,#ffb000 56.1%,#ffc200 56.3%,#ffd200 56.8%,#ffd000 57.3%,#ff9c00 58.8%,#ff9000 59.6%,#ff9600 60.0%,#ffc500 61.5%,#ffd100 62.3%,#ffc800 63.0%,#ffa300 64.3%,#ff9800 65.0%,#ff9e00 65.8%,#ffc400 67.2%,#ffca00 68.0%,#ffa400 70.0%,#ff9d00 70.7%,#ffc500 73.4%,#ffa200 76.2%,#ffc100 78.9%,#ffa500 81.9%,#ffbe00 84.6%,#ffa800 87.3%,#ffbc00 90.1%,#fa0 92.8%,#ffba00 95.5%,#ffac00 98.3%,#ffb300 100.0%)"></div><div style="height:3.00px;background:linear-gradient(90deg,#ffb200 0.0%,#ffb600 15.1%,#ffaf00 17.9%,#ffb600 20.6%,#ff9c00 24.6%,#ffa900 29.0%,#fb0 31.8%,#ffa900 34.7%,#ffbe00 37.5%,#ffa500 40.2%,#ffc100 42.4%,#ffcb00 44.2%,#ffe800 45.7%,#ffda00 46.4%,#ffcb00 46.7%,#ffac00 46.9%,#ff6700 47.1%,#fd0000 47.4%,#ab0000 47.6%,#860000 47.9%,#800000 48.1%,#800000 48.9%,#930000 49.1%,#d50000 49.4%,#ff4a00 49.6%,#ffc100 49.9%,#e3ff1c 50.1%,#a9ff56 50.4%,#8cff73 50.6%,#7eff81 51.1%,#8f7 51.6%,#a5ff5a 52.1%,#c1ff3e 52.4%,#ecff13 52.6%,#ffd100 52.9%,#f80 53.1%,#ff4c00 53.3%,#ff2900 53.6%,#ff1800 53.8%,#ff1500 54.1%,#ff1c00 54.3%,#ff3c00 54.8%,#ffb300 56.1%,#ffc300 56.3%,#ffd200 56.8%,#ffcf00 57.3%,#ff9c00 58.8%,#ff9100 59.6%,#ff9d00 60.3%,#ffc600 61.5%,#ffd000 62.3%,#fc0 62.8%,#ffa300 64.3%,#f90 65.0%,#ffa000 65.8%,#ffbf00 67.0%,#ffc900 67.7%,#ffc400 68.5%,#ffa400 70.0%,#ff9f00 70.7%,#ffc400 73.4%,#ffa300 76.2%,#ffc000 78.9%,#ffa700 81.9%,#ffbd00 84.6%,#ffa900 87.3%,#fb0 90.1%,#ffab00 92.8%,#ffb900 95.8%,#ffad00 98.3%,#ffb300 100.0%)"></div><div style="height:3.00px;background:linear-gradient(90deg,#ffb200 0.0%,#ffb300 20.8%,#ff9b00 25.1%,#ffb800 31.8%,#ffab00 35.0%,#ffbc00 37.7%,#ffa600 40.4%,#ffca00 43.9%,#ffe800 45.7%,#ffd800 46.4%,#ffca00 46.7%,#ffab00 46.9%,#f60 47.1%,#fd0000 47.4%,#ab0000 47.6%,#860000 47.9%,#800000 48.1%,#800000 48.9%,#950000 49.1%,#d70000 49.4%,#ff4b00 49.6%,#ffc000 49.9%,#e6ff19 50.1%,#adff52 50.4%,#90ff6f 50.6%,#83ff7c 51.1%,#8dff72 51.6%,#acff53 52.1%,#c8ff37 52.4%,#f4ff0b 52.6%,#ffc900 52.9%,#ff8100 53.1%,#ff4900 53.3%,#ff2800 53.6%,#ff1900 53.8%,#ff1800 54.1%,#ff2000 54.3%,#ff4100 54.8%,#ffb600 56.1%,#ffc400 56.3%,#ffcf00 56.8%,#ffc900 57.3%,#f90 58.8%,#ff9400 59.3%,#ff9e00 60.0%,#ffc300 61.3%,#fc0 62.0%,#ffc300 62.8%,#ffa500 64.0%,#ff9d00 64.8%,#ffc400 67.5%,#ffa500 70.2%,#ffbd00 73.0%,#fa0 75.7%,#ffb900 78.7%,#ffae00 81.4%,#ffb600 84.6%,#ffaf00 87.6%,#ffb600 90.6%,#ffaf00 93.3%,#ffb600 96.3%,#ffb100 100.0%)"></div><div style="height:3.00px;background:linear-gradient(90deg,#ffb200 0.0%,#ffb100 21.6%,#ff9a00 25.3%,#ffaf00 28.3%,#ffae00 30.3%,#ffb800 32.8%,#ffab00 35.5%,#ffbc00 38.0%,#ffa700 40.7%,#fc0 43.9%,#ffe500 45.2%,#ffe900 45.7%,#ffd700 46.4%,#ffc800 46.7%,#ffa900 46.9%,#ff6500 47.1%,#fc0000 47.4%,#a00 47.6%,#860000 47.9%,#800000 48.1%,#800000 48.9%,#970000 49.1%,#d90000 49.4%,#ff4c00 49.6%,#ffbf00 49.9%,#e9ff16 50.1%,#b0ff4f 50.4%,#94ff6b 50.6%,#87ff78 51.1%,#93ff6c 51.6%,#b2ff4d 52.1%,#cfff30 52.4%,#fcff03 52.6%,#ff7b00 53.1%,#ff4600 53.3%,#ff2700 53.6%,#ff1b00 53.8%,#ff1b00 54.1%,#ff3200 54.6%,#ffba00 56.1%,#ffc500 56.3%,#fc0 56.8%,#ff9c00 58.6%,#ff9600 59.1%,#ff9f00 59.8%,#ffc300 61.0%,#ffcb00 61.8%,#ff9e00 64.3%,#ffc300 67.0%,#ffa500 69.5%,#ffbd00 72.2%,#fa0 74.7%,#ffb900 77.4%,#ffae00 79.9%,#ffb600 82.4%,#ffb000 84.6%,#ffb600 92.1%,#ffaf00 94.5%,#ffb600 97.0%,#ffaf00 100.0%)"></div><div style="height:3.00px;background:linear-gradient(90deg,#ffb100 0.0%,#ffb100 22.3%,#ff9800 25.6%,#ffb300 28.3%,#ffac00 30.8%,#ffba00 33.3%,#ffa900 35.7%,#ffbd00 38.5%,#ffa600 40.9%,#ffce00 43.9%,#ffe700 45.2%,#ffe900 45.7%,#ffd600 46.4%,#ffc600 46.7%,#ffa700 46.9%,#ff6400 47.1%,#fc0000 47.4%,#a00 47.6%,#860000 47.9%,#800000 48.1%,#810000 48.9%,#900 49.1%,#db0000 49.4%,#ff4d00 49.6%,#ffbe00 49.9%,#ebff14 50.1%,#b4ff4b 50.4%,#98ff67 50.6%,#8cff73 51.1%,#a4ff5b 51.9%,#b7ff48 52.1%,#d5ff2a 52.4%,#fffb00 52.6%,#ff7600 53.1%,#ff4300 53.3%,#ff2700 53.6%,#ff1c00 53.8%,#ff1d00 54.1%,#ff3600 54.6%,#ffad00 55.8%,#ffbd00 56.1%,#ffca00 56.6%,#ffc500 57.1%,#ff9d00 58.3%,#ff9500 58.8%,#f90 59.3%,#ffc400 60.8%,#ffcd00 61.5%,#ffc700 62.0%,#ffa000 63.5%,#ff9b00 64.0%,#ff9f00 64.5%,#ffc700 66.5%,#ffc200 67.2%,#ffa700 68.5%,#ffa000 69.2%,#ffc300 71.7%,#ffa400 74.4%,#ffc000 76.9%,#ffa700 79.4%,#ffbd00 82.1%,#ffa900 84.6%,#fb0 87.1%,#ffab00 89.6%,#ffb900 92.3%,#ffac00 94.8%,#ffb800 97.5%,#ffae00 100.0%)"></div><div style="height:3.00px;background:linear-gradient(90deg,#ffb100 0.0%,#ffb200 22.3%,#ff9800 25.6%,#ffb300 28.3%,#ffab00 30.8%,#fb0 33.3%,#ffa900 35.7%,#ffbd00 38.5%,#ffa600 40.9%,#ffaf00 41.9%,#ffe700 45.2%,#ffe900 45.7%,#ffd500 46.4%,#ffc600 46.7%,#ffa700 46.9%,#ff6500 47.1%,#fe0000 47.4%,#ac0000 47.6%,#800 47.9%,#800000 48.1%,#830000 48.9%,#9b0000 49.1%,#d00 49.4%,#ff4e00 49.6%,#ffbd00 49.9%,#ef1 50.1%,#b7ff48 50.4%,#9cff63 50.6%,#90ff6f 51.1%,#a9ff56 51.9%,#bdff42 52.1%,#dbff24 52.4%,#fff400 52.6%,#ff7100 53.1%,#ff4100 53.3%,#ff2700 53.6%,#ff1e00 53.8%,#ff2000 54.1%,#ff3a00 54.6%,#ffaf00 55.8%,#ffbe00 56.1%,#ffcb00 56.6%,#ffc500 57.1%,#ff9c00 58.3%,#ff9500 58.8%,#f90 59.3%,#ffc400 60.8%,#ffcd00 61.5%,#ffc700 62.0%,#ffa000 63.5%,#ff9b00 64.0%,#ff9f00 64.5%,#ffc700 66.5%,#ffc200 67.2%,#ffa600 68.5%,#ffa000 69.2%,#ffc300 71.7%,#ffa300 74.2%,#ffc000 76.9%,#ffa600 79.4%,#ffbd00 82.1%,#ffa900 84.6%,#fb0 87.1%,#ffab00 89.6%,#ffba00 92.3%,#ffac00 94.8%,#ffb800 97.5%,#ffad00 100.0%)"></div><div style="height:3.00px;background:linear-gradient(90deg,#ffb100 0.0%,#ffb200 22.3%,#f90 25.6%,#ffb300 28.3%,#ffab00 30.8%,#fb0 33.3%,#ffa900 35.7%,#ffbd00 38.5%,#ffa600 40.9%,#ffaf00 41.9%,#ffe600 45.2%,#ffe800 45.7%,#ffde00 46.2%,#ffc600 46.7%,#ffa800 46.9%,#f60 47.1%,#ff0100 47.4%,#ae0000 47.6%,#8a0000 47.9%,#800000 48.1%,#850000 48.9%,#9d0000 49.1%,#df0000 49.4%,#ff4f00 49.6%,#ffbc00 49.9%,#f0ff0f 50.1%,#bf4 50.4%,#9fff60 50.6%,#95ff6a 50.9%,#94ff6b 51.1%,#a1ff5e 51.6%,#c2ff3d 52.1%,#e1ff1e 52.4%,#ffed00 52.6%,#ff6d00 53.1%,#ff3f00 53.3%,#ff2800 53.6%,#ff2000 53.8%,#ff2300 54.1%,#ff3e00 54.6%,#ffb100 55.8%,#ffc000 56.1%,#ffcb00 56.6%,#ffc500 57.1%,#ff9c00 58.3%,#ff9500 58.8%,#f90 59.3%,#ffc400 60.8%,#ffcd00 61.5%,#ffc700 62.0%,#ffa000 63.5%,#ff9b00 64.0%,#ff9f00 64.5%,#ffc700 66.5%,#ffc200 67.2%,#ffa600 68.5%,#ffa000 69.2%,#ffc300 71.7%,#ffa300 74.2%,#ffc000 76.9%,#ffa600 79.4%,#ffbd00 82.1%,#ffa900 84.6%,#fb0 87.1%,#ffab00 89.6%,#ffba00 92.3%,#ffac00 94.8%,#ffb800 97.5%,#ffad00 100.0%)"></div><div style="height:3.00px;background:linear-gradient(90deg,#ffb100 0.0%,#ffb200 22.3%,#f90 25.6%,#ffb300 28.3%,#ffab00 30.8%,#fb0 33.3%,#ffa900 35.7%,#ffbd00 38.5%,#ffa600 40.9%,#ffaf00 41.9%,#ffe500 45.2%,#ffe700 45.7%,#fd0 46.2%,#ffc500 46.7%,#ffa800 46.9%,#ff6700 47.1%,#ff0300 47.4%,#b00000 47.6%,#8c0000 47.9%,#800000 48.1%,#870000 48.9%,#9f0000 49.1%,#e00000 49.4%,#ff5000 49.6%,#fb0 49.9%,#f3ff0c 50.1%,#beff41 50.4%,#a3ff5c 50.6%,#9f6 50.9%,#98ff67 51.1%,#a5ff5a 51.6%,#c8ff37 52.1%,#e7ff18 52.4%,#ffe700 52.6%,#ff6900 53.1%,#ff3e00 53.3%,#ff2800 53.6%,#f20 53.8%,#ff2600 54.1%,#ff4100 54.6%,#ffb300 55.8%,#ffc100 56.1%,#fc0 56.6%,#ffc500 57.1%,#ff9c00 58.3%,#ff9500 58.8%,#f90 59.3%,#ffc400 60.8%,#ffcd00 61.5%,#ffc700 62.0%,#ffa000 63.5%,#ff9b00 64.0%,#ff9f00 64.5%,#ffc700 66.5%,#ffc200 67.2%,#ffa600 68.5%,#ffa000 69.2%,#ffc300 71.7%,#ffa300 74.2%,#ffc000 76.9%,#ffa600 79.4%,#ffbd00 82.1%,#ffa900 84.6%,#fb0 87.1%,#ffab00 89.6%,#ffba00 92.3%,#ffac00 94.8%,#ffb800 97.5%,#ffad00 100.0%)"></div><div style="height:3.00px;background:linear-gradient(90deg,#ffb200 0.0%,#ffb400 18.1%,#ffb000 22.6%,#ff9c00 25.6%,#ffb300 28.5%,#ffad00 31.0%,#ffb900 33.5%,#fa0 36.0%,#ffbc00 38.5%,#ffa700 41.2%,#ffc900 43.7%,#ffe600 45.2%,#ffe800 45.7%,#fd0 46.2%,#ffc500 46.7%,#ffa700 46.9%,#ff6700 47.1%,#ff0300 47.4%,#b10000 47.6%,#8c0000 47.9%,#810000 48.1%,#810000 48.6%,#800 48.9%,#a10000 49.1%,#e20000 49.4%,#ff5100 49.6%,#ffba00 49.9%,#f5ff0a 50.1%,#c1ff3e 50.4%,#a7ff58 50.6%,#9dff62 50.9%,#9cff63 51.1%,#af5 51.6%,#cdff32 52.1%,#edff12 52.4%,#ffe100 52.6%,#f60 53.1%,#ff3d00 53.3%,#ff2900 53.6%,#ff2400 53.8%,#ff2900 54.1%,#ff4500 54.6%,#ffb400 55.8%,#ffc100 56.1%,#ffca00 56.6%,#ffc200 57.1%,#ff9c00 58.3%,#ff9700 58.8%,#ff9c00 59.3%,#ffc000 60.5%,#ffcb00 61.3%,#ffc700 61.8%,#ff9e00 63.8%,#ffc400 66.5%,#ffa300 69.0%,#ffc000 71.5%,#ffa700 74.2%,#ffbc00 76.7%,#fa0 79.4%,#ffb900 81.9%,#ffac00 84.6%,#ffb800 87.1%,#ffae00 89.8%,#ffb700 92.6%,#ffae00 95.0%,#ffb600 97.8%,#ffaf00 100.0%)"></div><div style="height:3.00px;background:linear-gradient(90deg,#ffb200 0.0%,#ffb300 19.6%,#ff9e00 25.8%,#ffb300 29.0%,#ffae00 31.5%,#ffb800 34.0%,#ffac00 36.5%,#fb0 38.7%,#ffa800 41.4%,#ffb600 42.7%,#ffea00 45.4%,#ffde00 46.2%,#ffc400 46.7%,#ffa700 46.9%,#ff6700 47.1%,#ff0300 47.4%,#b10000 47.6%,#8c0000 47.9%,#810000 48.1%,#820000 48.6%,#890000 48.9%,#a20000 49.1%,#e40000 49.4%,#ff5200 49.6%,#ffba00 49.9%,#f8ff07 50.1%,#c5ff3a 50.4%,#af5 50.6%,#a0ff5f 50.9%,#a0ff5f 51.1%,#aeff51 51.6%,#d2ff2d 52.1%,#f2ff0d 52.4%,#ffdc00 52.6%,#ff6300 53.1%,#ff3c00 53.3%,#ff2a00 53.6%,#ff2600 53.8%,#ff2b00 54.1%,#ff4800 54.6%,#ffb600 55.8%,#ffc600 56.3%,#ffc300 56.8%,#ff9f00 58.1%,#f90 58.6%,#ff9c00 59.1%,#ffc300 60.5%,#ffc900 61.0%,#ffc600 61.5%,#ffa000 63.5%,#ffc200 66.0%,#ffa600 68.5%,#ffbd00 71.0%,#ffab00 73.4%,#ffb800 75.9%,#ffae00 78.4%,#ffb500 80.9%,#ffb100 100.0%)"></div><div style="height:3.00px;background:linear-gradient(90deg,#ffb300 0.0%,#ffb400 20.1%,#ffa000 26.1%,#ffb500 29.3%,#ffad00 32.0%,#ffb800 34.5%,#ffab00 36.7%,#fb0 39.2%,#ffa800 41.4%,#ffb300 42.7%,#ffec00 45.4%,#ffde00 46.2%,#ffc400 46.7%,#ffa600 46.9%,#f60 47.1%,#ff0400 47.4%,#b10000 47.6%,#8c0000 47.9%,#820000 48.1%,#830000 48.6%,#8b0000 48.9%,#a40000 49.1%,#e60000 49.4%,#ff5300 49.6%,#ffb900 49.9%,#faff05 50.1%,#c8ff37 50.4%,#aeff51 50.6%,#a4ff5b 51.1%,#c1ff3e 51.9%,#d6ff29 52.1%,#f7ff08 52.4%,#ffd700 52.6%,#ff6000 53.1%,#ff3c00 53.3%,#ff2b00 53.6%,#ff2800 53.8%,#ff2e00 54.1%,#ff4b00 54.6%,#ffa800 55.6%,#ffb700 55.8%,#ffc500 56.3%,#ffbf00 56.8%,#ff9d00 58.1%,#ff9a00 58.6%,#ffc800 60.8%,#ffc600 61.3%,#ffa400 62.8%,#ff9f00 63.3%,#ffc300 65.8%,#ffa400 68.2%,#ffbf00 70.5%,#ffa800 73.0%,#fb0 75.2%,#ffab00 77.7%,#ffb900 80.1%,#ffad00 82.4%,#ffb800 84.9%,#ffae00 87.1%,#ffb700 89.3%,#ffaf00 91.8%,#ffb600 94.0%,#ffaf00 96.5%,#ffb300 100.0%)"></div><div style="height:3.00px;background:linear-gradient(90deg,#ffb300 0.0%,#ffb000 17.6%,#ffb600 20.1%,#ffa100 26.6%,#ffb700 29.5%,#ffac00 32.0%,#ffba00 34.5%,#fa0 37.0%,#ffbc00 39.2%,#ffa700 41.7%,#ffb600 42.9%,#ffe700 44.9%,#ffec00 45.4%,#ffde00 46.2%,#ffc300 46.7%,#ffa600 46.9%,#ff6700 47.1%,#ff0400 47.4%,#b20000 47.6%,#8d0000 47.9%,#820000 48.1%,#840000 48.6%,#8c0000 48.9%,#a60000 49.1%,#e80000 49.4%,#ff5400 49.6%,#ffb900 49.9%,#fcff03 50.1%,#cbff34 50.4%,#b1ff4e 50.6%,#a7ff58 51.1%,#c5ff3a 51.9%,#dbff24 52.1%,#fcff03 52.4%,#ffd200 52.6%,#ff5e00 53.1%,#ff3c00 53.3%,#ff2c00 53.6%,#ff2a00 53.8%,#ff3000 54.1%,#ff4e00 54.6%,#fa0 55.6%,#ffb900 55.8%,#ffc400 56.3%,#f90 58.3%,#ff9d00 58.8%,#ffbf00 60.0%,#ffc900 60.8%,#ffc400 61.3%,#ffa100 62.8%,#ff9e00 63.3%,#ffc500 65.5%,#ffa200 68.0%,#ffc100 70.5%,#ffa500 72.7%,#ffbf00 75.2%,#ffa700 77.7%,#ffbd00 79.9%,#ffa900 82.4%,#fb0 84.6%,#ffab00 87.1%,#ffb900 89.6%,#ffad00 91.8%,#ffb800 94.3%,#ffae00 96.8%,#ffb500 100.0%)"></div><div style="height:3.00px;background:linear-gradient(90deg,#ffb300 0.0%,#ffb000 17.6%,#ffb600 20.1%,#ffa100 26.6%,#ffb700 29.5%,#ffac00 32.0%,#ffba00 34.5%,#fa0 37.0%,#ffbc00 39.2%,#ffa700 41.7%,#ffb200 42.7%,#ffec00 45.4%,#fd0 46.2%,#ffc300 46.7%,#ffa600 46.9%,#ff6800 47.1%,#ff0600 47.4%,#b40000 47.6%,#8f0000 47.9%,#840000 48.1%,#860000 48.6%,#8e0000 48.9%,#a80000 49.1%,#ea0000 49.4%,#f50 49.6%,#ffb800 49.9%,#feff01 50.1%,#ceff31 50.4%,#b4ff4b 50.6%,#abff54 51.1%,#c9ff36 51.9%,#dfff20 52.1%,#fffe00 52.4%,#ffcd00 52.6%,#ff5c00 53.1%,#ff3c00 53.3%,#ff2e00 53.6%,#ff2c00 53.8%,#f30 54.1%,#ff5100 54.6%,#ffac00 55.6%,#ffba00 55.8%,#ffc400 56.3%,#f90 58.3%,#ff9d00 58.8%,#ffbf00 60.0%,#ffc900 60.8%,#ffc400 61.3%,#ffa100 62.8%,#ff9e00 63.3%,#ffc500 65.5%,#ffa200 68.0%,#ffc100 70.5%,#ffa500 72.7%,#ffbf00 75.2%,#ffa700 77.7%,#ffbd00 79.9%,#ffa900 82.4%,#fb0 84.6%,#ffab00 87.1%,#ffb900 89.6%,#ffad00 91.8%,#ffb800 94.3%,#ffae00 96.8%,#ffb500 100.0%)"></div><div style="height:3.00px;background:linear-gradient(90deg,#ffb300 0.0%,#ffb000 17.6%,#ffb600 20.1%,#ffa200 26.6%,#ffb700 29.5%,#ffac00 32.0%,#ffba00 34.5%,#fa0 37.0%,#ffbc00 39.2%,#ffa700 41.7%,#ffb200 42.7%,#ffeb00 45.4%,#ffdc00 46.2%,#ffc300 46.7%,#ffa600 46.9%,#ff6900 47.1%,#ff0800 47.4%,#b60000 47.6%,#910000 47.9%,#860000 48.1%,#800 48.6%,#900000 48.9%,#a00 49.1%,#eb0000 49.4%,#ff5600 49.6%,#ffb700 49.9%,#fffe00 50.1%,#d1ff2e 50.4%,#b8ff47 50.6%,#afff50 50.9%,#b4ff4b 51.4%,#cdff32 51.9%,#fffa00 52.4%,#ff5b00 53.1%,#ff3c00 53.3%,#ff2f00 53.6%,#ff2e00 53.8%,#ff3500 54.1%,#ff5300 54.6%,#ffad00 55.6%,#fb0 55.8%,#ffc500 56.3%,#f90 58.3%,#ff9d00 58.8%,#ffbf00 60.0%,#ffc900 60.8%,#ffc400 61.3%,#ffa100 62.8%,#ff9e00 63.3%,#ffc500 65.5%,#ffa200 68.0%,#ffc100 70.5%,#ffa500 72.7%,#ffbf00 75.2%,#ffa700 77.7%,#ffbd00 79.9%,#ffa900 82.4%,#fb0 84.6%,#ffab00 87.1%,#ffb900 89.6%,#ffad00 91.8%,#ffb800 94.3%,#ffae00 96.8%,#ffb500 100.0%)"></div><div style="height:3.00px;background:linear-gradient(90deg,#ffb300 0.0%,#ffb500 20.1%,#ffa200 26.6%,#ffb700 29.5%,#ffac00 32.0%,#ffb900 34.5%,#ffab00 37.0%,#ffbc00 39.2%,#ffa800 41.7%,#ffb600 42.9%,#ffe500 44.9%,#ffea00 45.4%,#ffdc00 46.2%,#ffc200 46.7%,#ffa600 46.9%,#ff6900 47.1%,#ff0a00 47.4%,#b80000 47.6%,#930000 47.9%,#800 48.1%,#890000 48.6%,#920000 48.9%,#ac0000 49.1%,#ed0000 49.4%,#ff5700 49.6%,#ffb600 49.9%,#fffc00 50.1%,#d4ff2b 50.4%,#bf4 50.6%,#b2ff4d 51.1%,#d1ff2e 51.9%,#fff500 52.4%,#ff5900 53.1%,#ff3c00 53.3%,#ff3000 53.6%,#ff3000 53.8%,#ff4500 54.3%,#ffae00 55.6%,#fb0 55.8%,#ffc400 56.3%,#ff9a00 58.3%,#ffa300 59.1%,#ffc500 60.3%,#ffc900 60.8%,#ff9f00 63.0%,#ffa100 63.5%,#ffc400 65.5%,#ffa300 68.0%,#ffc100 70.2%,#ffa600 72.7%,#ffbe00 75.2%,#ffa800 77.4%,#ffbc00 79.9%,#fa0 82.4%,#ffba00 84.6%,#ffac00 87.1%,#ffb800 89.6%,#ffad00 91.8%,#ffb700 94.3%,#ffae00 96.8%,#ffb400 100.0%)"></div><div style="height:3.00px;background:linear-gradient(90deg,#ffb300 0.0%,#ffb400 20.3%,#ffa400 25.8%,#ffb600 30.0%,#ffae00 32.5%,#ffb800 35.0%,#ffac00 37.2%,#fb0 39.5%,#ffa900 41.9%,#ffb800 43.2%,#ffe600 44.9%,#ffec00 45.4%,#fd0 46.2%,#ffc300 46.7%,#ffa600 46.9%,#ff6b00 47.1%,#ff0c00 47.4%,#ba0000 47.6%,#940000 47.9%,#800 48.4%,#940000 48.9%,#ae0000 49.1%,#f00000 49.4%,#ff5800 49.6%,#ffb600 49.9%,#fffa00 50.1%,#d6ff29 50.4%,#beff41 50.6%,#b5ff4a 51.1%,#c5ff3a 51.6%,#ebff14 52.1%,#fff200 52.4%,#ff5800 53.1%,#ff3d00 53.3%,#ff3200 53.6%,#ff3200 53.8%,#ff4700 54.3%,#ffaf00 55.6%,#fb0 55.8%,#ffc200 56.3%,#ff9f00 57.8%,#ff9c00 58.3%,#ffc700 60.5%,#ffa100 63.0%,#ffc200 65.3%,#ffa600 67.7%,#ffbd00 70.0%,#fa0 72.5%,#ffba00 74.7%,#ffad00 77.2%,#ffb700 79.4%,#ffaf00 81.9%,#ffb500 84.4%,#ffb000 87.1%,#ffb400 100.0%)"></div><div style="height:3.00px;background:linear-gradient(90deg,#ffb300 0.0%,#ffb300 21.3%,#ffa400 24.8%,#ffb600 30.5%,#ffae00 33.0%,#ffb800 35.2%,#ffac00 37.5%,#ffba00 39.7%,#ffa900 41.9%,#ffb600 43.2%,#ffe600 44.9%,#ffed00 45.4%,#ffde00 46.2%,#ffc300 46.7%,#ffa700 46.9%,#ff6c00 47.1%,#ff0f00 47.4%,#bd0000 47.6%,#980000 47.9%,#8d0000 48.1%,#8c0000 48.4%,#980000 48.9%,#b30000 49.1%,#f50000 49.4%,#ff5c00 49.6%,#ffb700 49.9%,#fff800 50.1%,#d9ff26 50.4%,#c1ff3e 50.6%,#b9ff46 51.1%,#c9ff36 51.6%,#efff10 52.1%,#fe0 52.4%,#ff5700 53.1%,#ff3d00 53.3%,#f30 53.6%,#ff3400 53.8%,#ff4a00 54.3%,#ffa000 55.3%,#ffb000 55.6%,#ffbf00 56.1%,#ffbc00 56.6%,#ff9d00 58.1%,#ffa000 58.6%,#ffc500 60.3%,#ffa200 62.8%,#ffc100 65.0%,#ffa600 67.2%,#ffbd00 69.5%,#fa0 72.0%,#ffba00 74.2%,#ffad00 76.4%,#ffb700 78.7%,#ffaf00 80.9%,#ffb500 82.9%,#ffb400 100.0%)"></div><div style="height:3.00px;background:linear-gradient(90deg,#ffb300 0.0%,#ffb400 21.6%,#ffa200 24.8%,#ffb700 30.8%,#ffad00 33.3%,#ffb900 35.5%,#ffab00 37.7%,#fb0 40.0%,#ffa900 42.2%,#ffb300 43.2%,#ffe700 44.9%,#fe0 45.4%,#ffe700 45.9%,#ffc300 46.7%,#ffa800 46.9%,#ff6e00 47.1%,#ff1200 47.4%,#c10000 47.6%,#9b0000 47.9%,#900000 48.1%,#8f0000 48.4%,#9c0000 48.9%,#b70000 49.1%,#f90000 49.4%,#ffb700 49.9%,#fff700 50.1%,#dbff24 50.4%,#c4ff3b 50.6%,#bcff43 51.1%,#cf3 51.6%,#f2ff0d 52.1%,#ffea00 52.4%,#ff5700 53.1%,#ff3e00 53.3%,#ff3400 53.6%,#ff3600 53.8%,#ff4c00 54.3%,#ffa200 55.3%,#ffb100 55.6%,#ffbe00 56.1%,#ff9d00 58.1%,#ffc200 59.8%,#ffc600 60.3%,#ffa100 62.5%,#ffc200 64.8%,#ffa400 67.0%,#ffc000 69.2%,#ffa700 71.5%,#ffbd00 73.7%,#ffa900 75.9%,#fb0 78.2%,#ffab00 80.4%,#ffba00 82.6%,#ffac00 84.9%,#ffb800 87.1%,#ffad00 89.6%,#ffb700 91.6%,#ffae00 94.0%,#ffb600 96.0%,#ffaf00 98.5%,#ffb400 100.0%)"></div><div style="height:3.00px;background:linear-gradient(90deg,#ffb300 0.0%,#ffb400 21.8%,#ffa200 24.8%,#ffb700 30.8%,#ffad00 33.3%,#ffb900 35.5%,#ffab00 37.7%,#fb0 40.0%,#ffa900 42.2%,#ffb300 43.2%,#ffe700 44.9%,#fe0 45.4%,#ffe700 45.9%,#ffc300 46.7%,#ffa800 46.9%,#ff7100 47.1%,#ff1700 47.4%,#c60000 47.6%,#a00000 47.9%,#950000 48.1%,#940000 48.4%,#a10000 48.9%,#bc0000 49.1%,#fe0000 49.4%,#ff6100 49.6%,#ffb800 49.9%,#fff500 50.1%,#deff21 50.4%,#c7ff38 50.6%,#bfff40 51.1%,#cfff30 51.6%,#f5ff0a 52.1%,#ffe700 52.4%,#ff8100 52.9%,#ff5600 53.1%,#ff3e00 53.3%,#ff3600 53.6%,#ff4000 54.1%,#ff6100 54.6%,#ffa300 55.3%,#ffb200 55.6%,#ffbe00 56.1%,#ff9d00 58.1%,#ffc200 59.8%,#ffc600 60.3%,#ffa100 62.5%,#ffc300 64.8%,#ffa400 67.0%,#ffc000 69.2%,#ffa600 71.5%,#ffbd00 73.7%,#ffa900 75.9%,#ffbc00 78.2%,#fa0 80.4%,#ffba00 82.6%,#ffac00 84.9%,#ffb900 87.1%,#ffad00 89.6%,#ffb700 91.6%,#ffae00 94.0%,#ffb700 96.0%,#ffaf00 98.5%,#ffb400 100.0%)"></div><div style="height:3.00px;background:linear-gradient(90deg,#ffb300 0.0%,#ffb400 21.8%,#ffa200 24.8%,#ffb700 31.0%,#ffad00 33.3%,#ffb900 35.5%,#ffab00 37.7%,#fb0 40.0%,#ffa900 42.2%,#ffb300 43.2%,#ffe600 44.9%,#ffed00 45.4%,#ffe600 45.9%,#ffd200 46.4%,#ffc300 46.7%,#ffa900 46.9%,#ff7300 47.1%,#ff1b00 47.4%,#cb0000 47.6%,#a50000 47.9%,#9a0000 48.1%,#9c0000 48.6%,#a60000 48.9%,#c10000 49.1%,#ff0300 49.4%,#ff6400 49.6%,#ffb800 49.9%,#fff400 50.1%,#e0ff1f 50.4%,#c9ff36 50.6%,#c2ff3d 51.1%,#d2ff2d 51.6%,#f9ff06 52.1%,#ffe400 52.4%,#ff7f00 52.9%,#ff5600 53.1%,#ff3f00 53.3%,#ff3700 53.6%,#ff4200 54.1%,#ff6300 54.6%,#ffa400 55.3%,#ffb300 55.6%,#ffbe00 56.1%,#ffa000 57.6%,#ff9d00 58.1%,#ffc200 59.8%,#ffc600 60.3%,#ffa100 62.5%,#ffc300 64.8%,#ffa400 67.0%,#ffc000 69.2%,#ffa600 71.5%,#ffbd00 73.7%,#ffa900 75.9%,#ffbc00 78.2%,#fa0 80.4%,#ffba00 82.6%,#ffac00 84.9%,#ffb900 87.1%,#ffad00 89.6%,#ffb700 91.6%,#ffae00 94.0%,#ffb700 96.0%,#ffaf00 98.5%,#ffb400 100.0%)"></div><div style="height:3.00px;background:linear-gradient(90deg,#ffb300 0.0%,#ffb400 21.8%,#ffa300 24.8%,#ffb700 31.0%,#ffad00 33.3%,#ffb900 35.5%,#ffab00 37.7%,#fb0 40.0%,#ffa900 42.2%,#ffb300 43.2%,#ffe600 44.9%,#ffec00 45.4%,#ffe500 45.9%,#ffd200 46.4%,#ffc300 46.7%,#fa0 46.9%,#ff7500 47.1%,#ff1f00 47.4%,#d00000 47.6%,#a00 47.9%,#9e0000 48.1%,#a10000 48.6%,#ab0000 48.9%,#c60000 49.1%,#ff0800 49.4%,#ff6700 49.6%,#ffb800 49.9%,#fff200 50.1%,#e3ff1c 50.4%,#cf3 50.6%,#c5ff3a 51.1%,#d5ff2a 51.6%,#fcff03 52.1%,#ffe100 52.4%,#ff7d00 52.9%,#f50 53.1%,#ff4000 53.3%,#ff3900 53.6%,#ff3b00 53.8%,#ff5200 54.3%,#ffa500 55.3%,#ffb300 55.6%,#ffbf00 56.1%,#ffa100 57.6%,#ff9d00 58.1%,#ffc200 59.8%,#ffc600 60.3%,#ffa100 62.5%,#ffc300 64.8%,#ffa400 67.0%,#ffc000 69.2%,#ffa600 71.5%,#ffbd00 73.7%,#ffa900 75.9%,#ffbc00 78.2%,#fa0 80.4%,#ffba00 82.6%,#ffac00 84.9%,#ffb900 87.1%,#ffad00 89.6%,#ffb700 91.6%,#ffae00 94.0%,#ffb700 96.0%,#ffaf00 98.5%,#ffb400 100.0%)"></div><div style="height:3.00px;background:linear-gradient(90deg,#ffb300 0.0%,#ffb300 21.8%,#ffa300 24.8%,#ffb600 31.0%,#ffae00 33.5%,#ffb800 35.7%,#ffac00 38.0%,#ffba00 40.2%,#fa0 42.4%,#ffb700 43.4%,#ffe500 44.9%,#ffec00 45.4%,#fd0 46.2%,#ffc400 46.7%,#ffab00 46.9%,#ff7800 47.1%,#ff2300 47.4%,#d40000 47.6%,#ae0000 47.9%,#a20000 48.1%,#a50000 48.6%,#af0000 48.9%,#ca0000 49.1%,#ff0c00 49.4%,#ff6a00 49.6%,#ffb800 49.9%,#fff100 50.1%,#e5ff1a 50.4%,#cfff30 50.6%,#c8ff37 51.1%,#d8ff27 51.6%,#ff0 52.1%,#ffde00 52.4%,#ff7c00 52.9%,#f50 53.1%,#ff4100 53.3%,#ff3a00 53.6%,#ff3d00 53.8%,#ff5400 54.3%,#ff9300 55.1%,#ffb300 55.6%,#ffbe00 56.1%,#ff9e00 57.8%,#ffa100 58.3%,#ffc500 60.0%,#ffc200 60.5%,#ffa200 62.3%,#ffc100 64.5%,#ffa600 66.7%,#ffbe00 69.0%,#ffa900 71.2%,#fb0 73.4%,#ffab00 75.7%,#ffb900 78.2%,#ffad00 80.4%,#ffb700 82.6%,#ffae00 84.9%,#ffb600 87.1%,#ffaf00 89.3%,#ffb600 91.6%,#ffb000 94.0%,#ffb300 100.0%)"></div><div style="height:3.00px;background:linear-gradient(90deg,#ffb200 0.0%,#ffb100 21.8%,#ffa400 25.3%,#ffb600 31.5%,#ffae00 33.7%,#ffb700 36.0%,#ffad00 38.2%,#ffba00 40.2%,#fa0 42.4%,#ffb600 43.4%,#ffe500 44.9%,#ffed00 45.4%,#ffde00 46.2%,#ffc400 46.7%,#ffac00 46.9%,#ff7a00 47.1%,#ff2700 47.4%,#d80000 47.6%,#b20000 47.9%,#a60000 48.1%,#a90000 48.6%,#b30000 48.9%,#cf0000 49.1%,#ff1000 49.4%,#ff6c00 49.6%,#ffb900 49.9%,#fff000 50.1%,#e7ff18 50.4%,#d1ff2e 50.6%,#caff35 51.1%,#dbff24 51.6%,#fffc00 52.1%,#ffdb00 52.4%,#ff7b00 52.9%,#f50 53.1%,#ff4200 53.3%,#ff3c00 53.6%,#ff3f00 53.8%,#ff5600 54.3%,#ffa700 55.3%,#ffb300 55.6%,#ffbc00 56.1%,#ff9f00 57.8%,#ffc400 60.0%,#ffa400 62.3%,#ffbf00 64.3%,#ffa700 66.5%,#ffbc00 68.7%,#fa0 71.0%,#ffb900 73.2%,#ffad00 75.2%,#ffb700 77.4%,#ffaf00 79.7%,#ffb500 81.9%,#ffb200 100.0%)"></div><div style="height:3.00px;background:linear-gradient(90deg,#ffb200 0.0%,#ffb400 19.4%,#ffaf00 23.1%,#ffa300 25.6%,#ffb000 27.8%,#ffb600 31.8%,#ffae00 34.0%,#ffb800 36.2%,#ffad00 38.5%,#ffba00 40.4%,#ffab00 42.7%,#ffba00 43.7%,#ffe500 44.9%,#ffed00 45.4%,#ffdf00 46.2%,#ffc500 46.7%,#ffad00 46.9%,#ff7c00 47.1%,#ff2a00 47.4%,#dc0000 47.6%,#b60000 47.9%,#a00 48.1%,#ad0000 48.6%,#b70000 48.9%,#d30000 49.1%,#ff1500 49.4%,#ff6f00 49.6%,#ffb900 49.9%,#fe0 50.1%,#e9ff16 50.4%,#d4ff2b 50.6%,#cdff32 51.1%,#deff21 51.6%,#fffa00 52.1%,#ffd800 52.4%,#ff7900 52.9%,#f50 53.1%,#ff4200 53.3%,#ff3d00 53.6%,#ff4000 53.8%,#ff5800 54.3%,#ffa700 55.3%,#ffb300 55.6%,#ffba00 56.1%,#ffa000 57.8%,#ffc300 59.8%,#ffa400 62.0%,#ffc000 64.3%,#ffa700 66.3%,#ffbd00 68.5%,#ffa900 70.5%,#ffba00 72.7%,#ffac00 74.9%,#ffb900 76.9%,#ffad00 79.2%,#ffb700 81.1%,#ffae00 83.4%,#ffb600 85.4%,#ffaf00 87.3%,#ffb500 89.6%,#ffb000 100.0%)"></div><div style="height:3.00px;background:linear-gradient(90deg,#ffb200 0.0%,#ffb500 19.4%,#ffaf00 23.3%,#ffa200 25.6%,#ffb200 28.0%,#ffae00 30.0%,#ffb700 32.0%,#ffad00 34.2%,#ffb800 36.2%,#ffac00 38.5%,#ffba00 40.4%,#ffab00 42.7%,#ffb900 43.7%,#ffea00 45.2%,#ffec00 45.7%,#ffd400 46.4%,#ffae00 46.9%,#ff7e00 47.1%,#ff2e00 47.4%,#e00000 47.6%,#ba0000 47.9%,#ae0000 48.1%,#b10000 48.6%,#b00 48.9%,#d80000 49.1%,#ff1900 49.4%,#ff7200 49.6%,#ffba00 49.9%,#ffed00 50.1%,#ecff13 50.4%,#d6ff29 50.6%,#d0ff2f 51.1%,#e1ff1e 51.6%,#fff700 52.1%,#ffd600 52.4%,#ff7800 52.9%,#f50 53.1%,#ff4300 53.3%,#ff3e00 53.6%,#ff4c00 54.1%,#ffa800 55.3%,#ffb800 55.8%,#ffa100 57.8%,#ffc300 59.8%,#ffa400 61.8%,#ffc000 64.0%,#ffa600 66.3%,#ffbe00 68.2%,#ffa800 70.5%,#ffbc00 72.5%,#fa0 74.7%,#ffba00 76.7%,#ffab00 78.9%,#ffb900 81.1%,#ffac00 83.1%,#ffb800 85.4%,#ffad00 87.3%,#ffb700 89.6%,#ffae00 91.6%,#ffb600 93.8%,#ffaf00 95.8%,#ffb600 98.0%,#ffb000 100.0%)"></div><div style="height:3.00px;background:linear-gradient(90deg,#ffb200 0.0%,#ffb500 19.4%,#ffaf00 23.3%,#ffa300 25.6%,#ffb200 28.0%,#ffae00 30.0%,#ffb700 32.0%,#ffad00 34.2%,#ffb800 36.2%,#ffac00 38.5%,#ffba00 40.4%,#ffab00 42.7%,#ffb900 43.7%,#ffea00 45.2%,#ffec00 45.7%,#ffd400 46.4%,#ffae00 46.9%,#ff8000 47.1%,#ff3200 47.4%,#e50000 47.6%,#bf0000 47.9%,#b30000 48.1%,#b60000 48.6%,#c00000 48.9%,#dc0000 49.1%,#ff1d00 49.4%,#ff7400 49.6%,#ffba00 49.9%,#ffec00 50.1%,#ef1 50.4%,#d9ff26 50.6%,#d2ff2d 51.1%,#f3ff0c 51.9%,#fff500 52.1%,#ffd300 52.4%,#f70 52.9%,#f50 53.1%,#f40 53.3%,#ff4000 53.6%,#f40 53.8%,#ff5c00 54.3%,#f90 55.1%,#ffb300 55.6%,#ffb900 56.1%,#ffa200 57.3%,#ffa100 57.8%,#ffc300 59.8%,#ffa400 61.8%,#ffc000 64.0%,#ffa600 66.3%,#ffbe00 68.2%,#ffa800 70.5%,#ffbc00 72.5%,#fa0 74.7%,#ffba00 76.7%,#ffab00 78.9%,#ffb900 81.1%,#ffac00 83.1%,#ffb800 85.4%,#ffad00 87.3%,#ffb700 89.6%,#ffae00 91.6%,#ffb600 93.8%,#ffaf00 95.8%,#ffb600 98.0%,#ffb000 100.0%)"></div><div style="height:3.00px;background:linear-gradient(90deg,#ffb200 0.0%,#ffb500 19.4%,#ffaf00 23.3%,#ffa300 25.6%,#ffb200 28.0%,#ffae00 30.0%,#ffb700 32.0%,#ffad00 34.2%,#ffb800 36.2%,#ffac00 38.5%,#ffba00 40.4%,#ffab00 42.7%,#ffb900 43.7%,#ffe300 44.9%,#ffec00 45.4%,#ffde00 46.2%,#ffc500 46.7%,#ffaf00 46.9%,#ff8200 47.1%,#ff3600 47.4%,#ea0000 47.6%,#c30000 47.9%,#b70000 48.1%,#ba0000 48.6%,#c50000 48.9%,#e10000 49.1%,#f20 49.4%,#f70 49.6%,#ffba00 49.9%,#ffea00 50.1%,#f0ff0f 50.4%,#dbff24 50.6%,#d5ff2a 51.1%,#f5ff0a 51.9%,#fff200 52.1%,#ffd100 52.4%,#f70 52.9%,#ff5600 53.1%,#ff4500 53.3%,#ff4100 53.6%,#ff4f00 54.1%,#ff9a00 55.1%,#ffb400 55.6%,#ffb900 56.1%,#ffa200 57.3%,#ffa100 57.8%,#ffc300 59.8%,#ffa400 61.8%,#ffc000 64.0%,#ffa600 66.3%,#ffbe00 68.2%,#ffa800 70.5%,#ffbc00 72.5%,#fa0 74.7%,#ffba00 76.7%,#ffab00 78.9%,#ffb900 81.1%,#ffac00 83.1%,#ffb800 85.4%,#ffad00 87.3%,#ffb700 89.6%,#ffae00 91.6%,#ffb600 93.8%,#ffaf00 95.8%,#ffb600 98.0%,#ffb000 100.0%)"></div><div style="height:3.00px;background:linear-gradient(90deg,#ffb200 0.0%,#ffb400 19.4%,#ffaf00 23.3%,#ffa400 25.6%,#ffb200 28.0%,#ffae00 30.0%,#ffb700 32.3%,#ffae00 34.2%,#ffb800 36.5%,#ffac00 38.5%,#ffba00 40.7%,#ffab00 42.7%,#ffb800 43.7%,#ffe900 45.2%,#ffeb00 45.7%,#ffd300 46.4%,#ffaf00 46.9%,#ff8400 47.1%,#ff3a00 47.4%,#ef0000 47.6%,#c80000 47.9%,#bc0000 48.1%,#bf0000 48.6%,#ca0000 48.9%,#e60000 49.1%,#ff2600 49.4%,#ff7900 49.6%,#ffba00 49.9%,#ffe900 50.1%,#f2ff0d 50.4%,#df2 50.6%,#d6ff29 50.9%,#deff21 51.4%,#f8ff07 51.9%,#fff000 52.1%,#ffcf00 52.4%,#ff7600 52.9%,#ff5600 53.1%,#ff4600 53.3%,#ff4300 53.6%,#ff5100 54.1%,#ff9b00 55.1%,#ffb400 55.6%,#ffb900 56.1%,#ffa200 57.3%,#ffa100 57.8%,#ffc300 59.8%,#ffa400 61.8%,#ffc000 64.0%,#ffa600 66.0%,#ffbe00 68.2%,#ffa800 70.5%,#ffbc00 72.5%,#fa0 74.7%,#ffba00 76.7%,#ffac00 78.9%,#ffb900 80.9%,#ffad00 83.1%,#ffb800 85.4%,#ffae00 87.3%,#ffb700 89.6%,#ffaf00 91.6%,#ffb600 93.8%,#ffb000 100.0%)"></div><div style="height:3.00px;background:linear-gradient(90deg,#ffb200 0.0%,#ffb300 19.9%,#ffa500 25.8%,#ffb200 28.3%,#ffb600 32.5%,#ffae00 34.5%,#ffb700 36.5%,#ffad00 38.7%,#ffb900 40.7%,#ffac00 42.7%,#ffb200 43.4%,#ffe800 45.2%,#ffeb00 45.7%,#ffd400 46.4%,#ffb000 46.9%,#ff8600 47.1%,#ff3d00 47.4%,#f30000 47.6%,#c00 47.9%,#c00000 48.1%,#c30000 48.6%,#ce0000 48.9%,#ea0000 49.1%,#ff2a00 49.4%,#ff7b00 49.6%,#fb0 49.9%,#ffe800 50.1%,#f4ff0b 50.4%,#e0ff1f 50.6%,#daff25 51.1%,#faff05 51.9%,#fe0 52.1%,#ffcd00 52.4%,#ff7500 52.9%,#ff5600 53.1%,#ff4700 53.3%,#f40 53.6%,#ff5200 54.1%,#ff9c00 55.1%,#ffb400 55.6%,#ffb800 56.1%,#ffa200 57.6%,#ffc100 59.6%,#ffa500 61.8%,#ffbe00 63.8%,#ffa800 66.0%,#ffbc00 68.0%,#fa0 70.2%,#ffba00 72.2%,#ffac00 74.4%,#ffb800 76.4%,#ffae00 78.7%,#ffb600 80.6%,#ffaf00 82.9%,#ffb500 84.9%,#ffb200 100.0%)"></div><div style="height:3.00px;background:linear-gradient(90deg,#ffb300 0.0%,#ffb300 20.6%,#ffa600 26.1%,#ffb300 28.8%,#ffb600 32.8%,#ffaf00 34.7%,#ffb700 36.7%,#ffad00 39.0%,#ffb900 40.9%,#ffac00 42.9%,#ffb600 43.7%,#ffe700 45.2%,#ffeb00 45.7%,#ffd500 46.4%,#ffb200 46.9%,#f80 47.1%,#f70000 47.6%,#d00000 47.9%,#c40000 48.1%,#c70000 48.6%,#d20000 48.9%,#ef0000 49.1%,#ff2e00 49.4%,#ff7e00 49.6%,#fb0 49.9%,#ffe700 50.1%,#f5ff0a 50.4%,#e2ff1d 50.6%,#dcff23 51.1%,#fcff03 51.9%,#ffeb00 52.1%,#ffcb00 52.4%,#ff7500 52.9%,#ff5700 53.1%,#ff4800 53.3%,#ff4500 53.6%,#ff5400 54.1%,#ff9c00 55.1%,#ffb300 55.6%,#ffb600 56.1%,#ffa200 57.6%,#ffc100 59.6%,#ffa600 61.5%,#ffbe00 63.8%,#ffa800 65.8%,#fb0 67.7%,#ffab00 69.7%,#ffb900 72.0%,#ffad00 73.9%,#ffb700 75.9%,#ffae00 77.9%,#ffb600 79.9%,#ffb000 82.1%,#ffb300 100.0%)"></div><div style="height:3.00px;background:linear-gradient(90deg,#ffb300 0.0%,#ffb400 20.8%,#ffa700 26.3%,#ffb400 29.0%,#ffaf00 31.0%,#ffb600 33.0%,#ffae00 35.0%,#ffb700 37.0%,#ffad00 39.0%,#ffb900 41.2%,#ffad00 42.9%,#ffb500 43.7%,#ffe700 45.2%,#ffeb00 45.7%,#ffd500 46.4%,#ffb300 46.9%,#ff8a00 47.1%,#fc0000 47.6%,#d50000 47.9%,#c80000 48.1%,#cb0000 48.6%,#d60000 48.9%,#f30000 49.1%,#ff3100 49.4%,#ff8000 49.6%,#fb0 49.9%,#ffe600 50.1%,#f7ff08 50.4%,#e4ff1b 50.6%,#deff21 51.1%,#feff01 51.9%,#ffe900 52.1%,#ffc900 52.4%,#ff7400 52.9%,#ff5700 53.1%,#ff4900 53.3%,#ff4600 53.6%,#f50 54.1%,#ff9d00 55.1%,#ffb200 55.6%,#ffb500 56.1%,#ffa300 57.6%,#ffc000 59.3%,#ffa600 61.5%,#ffbe00 63.5%,#ffa800 65.5%,#ffbc00 67.5%,#fa0 69.5%,#fb0 71.5%,#ffab00 73.7%,#ffb900 75.7%,#ffac00 77.7%,#ffb800 79.7%,#ffad00 81.6%,#ffb700 83.6%,#ffae00 85.6%,#ffb600 87.6%,#ffaf00 89.8%,#ffb600 91.8%,#ffaf00 93.8%,#ffb500 100.0%)"></div><div style="height:3.00px;background:linear-gradient(90deg,#ffb300 0.0%,#ffb400 20.8%,#ffa700 26.3%,#ffb400 29.0%,#ffaf00 31.0%,#ffb600 33.0%,#ffae00 35.0%,#ffb700 37.0%,#ffad00 39.0%,#ffb900 41.2%,#ffad00 42.9%,#ffb400 43.7%,#ffe600 45.2%,#ffeb00 45.7%,#ffd500 46.4%,#ffb300 46.9%,#ff8c00 47.1%,#ff0100 47.6%,#d90000 47.9%,#cd0000 48.1%,#d00000 48.6%,#db0000 48.9%,#f70000 49.1%,#ff3500 49.4%,#ff8200 49.6%,#ffbc00 49.9%,#ffe500 50.1%,#f9ff06 50.4%,#e6ff19 50.6%,#dfff20 50.9%,#e7ff18 51.4%,#fffd00 51.9%,#ffe700 52.1%,#ffc700 52.4%,#ff7400 52.9%,#ff5800 53.1%,#ff4a00 53.3%,#ff4800 53.6%,#ff5700 54.1%,#ff9e00 55.1%,#ffb200 55.6%,#ffb500 56.1%,#ffa300 57.6%,#ffc000 59.3%,#ffa600 61.5%,#ffbe00 63.5%,#ffa800 65.5%,#ffbc00 67.5%,#ffa900 69.5%,#fb0 71.5%,#ffab00 73.7%,#ffba00 75.7%,#ffac00 77.7%,#ffb800 79.7%,#ffad00 81.6%,#ffb700 83.6%,#ffae00 85.6%,#ffb700 87.6%,#ffaf00 89.8%,#ffb600 91.8%,#ffaf00 93.8%,#ffb500 100.0%)"></div><div style="height:3.00px;background:linear-gradient(90deg,#ffb300 0.0%,#ffb400 20.8%,#ffa700 26.3%,#ffb400 29.0%,#ffaf00 31.0%,#ffb600 33.0%,#ffae00 35.0%,#ffb700 37.0%,#ffad00 39.0%,#ffb900 41.2%,#ffad00 42.9%,#ffb400 43.7%,#ffe600 45.2%,#ffea00 45.7%,#ffd500 46.4%,#ffb300 46.9%,#ff8e00 47.1%,#ff0600 47.6%,#de0000 47.9%,#d10000 48.1%,#d00000 48.4%,#df0000 48.9%,#fc0000 49.1%,#ff3a00 49.4%,#ff8400 49.6%,#ffbc00 49.9%,#ffe400 50.1%,#fbff04 50.4%,#e8ff17 50.6%,#e2ff1d 50.9%,#e9ff16 51.4%,#fffb00 51.9%,#ffc600 52.4%,#ff7400 52.9%,#ff5800 53.1%,#ff4b00 53.3%,#ff4900 53.6%,#ff5800 54.1%,#ff9f00 55.1%,#ffb300 55.6%,#ffb500 56.1%,#ffa300 57.6%,#ffc000 59.3%,#ffa600 61.5%,#ffbe00 63.5%,#ffa800 65.5%,#ffbc00 67.5%,#ffa900 69.5%,#fb0 71.5%,#ffab00 73.7%,#ffba00 75.7%,#ffac00 77.7%,#ffb800 79.7%,#ffad00 81.6%,#ffb700 83.6%,#ffae00 85.6%,#ffb700 87.6%,#ffaf00 89.8%,#ffb600 91.8%,#ffaf00 93.8%,#ffb500 100.0%)"></div><div style="height:3.00px;background:linear-gradient(90deg,#ffb300 0.0%,#ffb400 20.8%,#ffa700 26.3%,#ffb400 29.0%,#ffaf00 31.0%,#ffb600 33.0%,#ffae00 35.0%,#ffb700 37.0%,#ffad00 39.0%,#ffb900 41.2%,#ffad00 42.9%,#ffb400 43.7%,#ffe500 45.2%,#ffe900 45.7%,#ffd400 46.4%,#ffb400 46.9%,#ff8f00 47.1%,#ff0a00 47.6%,#e30000 47.9%,#d60000 48.1%,#d90000 48.6%,#e40000 48.9%,#ff0200 49.1%,#ff3e00 49.4%,#ff8600 49.6%,#ffbc00 49.9%,#ffe300 50.1%,#fcff03 50.4%,#eaff15 50.6%,#e4ff1b 50.9%,#ebff14 51.4%,#fffa00 51.9%,#ffc400 52.4%,#ff7300 52.9%,#ff5900 53.1%,#ff4c00 53.3%,#ff4a00 53.6%,#ff5900 54.1%,#ff9f00 55.1%,#ffb300 55.6%,#ffb500 56.1%,#ffa300 57.6%,#ffc000 59.3%,#ffa600 61.5%,#ffbe00 63.5%,#ffa800 65.5%,#ffbc00 67.5%,#ffa900 69.5%,#fb0 71.5%,#ffab00 73.7%,#ffba00 75.7%,#ffac00 77.7%,#ffb800 79.7%,#ffad00 81.6%,#ffb700 83.6%,#ffae00 85.6%,#ffb700 87.6%,#ffaf00 89.8%,#ffb600 91.8%,#ffaf00 93.8%,#ffb500 100.0%)"></div><div style="height:3.00px;background:linear-gradient(90deg,#ffb300 0.0%,#ffb400 20.8%,#ffa800 26.3%,#ffb400 29.0%,#ffb000 31.3%,#ffb600 33.0%,#ffaf00 35.2%,#ffb700 37.2%,#ffad00 39.2%,#ffb800 41.2%,#ffad00 42.9%,#ffb400 43.7%,#ffe400 45.2%,#ffe900 45.7%,#ffd400 46.4%,#ffb500 46.9%,#ff9100 47.1%,#ff0f00 47.6%,#e70000 47.9%,#db0000 48.1%,#d00 48.6%,#e80000 48.9%,#ff0600 49.1%,#ff4100 49.4%,#f80 49.6%,#ffbc00 49.9%,#feff01 50.4%,#ecff13 50.6%,#e6ff19 50.9%,#f7ff08 51.6%,#fff800 51.9%,#ffc300 52.4%,#ff7300 52.9%,#ff5900 53.1%,#ff4d00 53.3%,#ff4c00 53.6%,#ff5b00 54.1%,#ffa000 55.1%,#ffb300 55.6%,#ffb400 56.1%,#ffa400 57.6%,#ffc000 59.3%,#ffa600 61.3%,#ffbd00 63.3%,#ffa900 65.5%,#fb0 67.5%,#fa0 69.5%,#ffba00 71.5%,#ffac00 73.4%,#ffb800 75.4%,#ffad00 77.4%,#ffb700 79.4%,#ffaf00 81.6%,#ffb600 83.6%,#ffaf00 85.6%,#ffb500 87.6%,#ffb000 89.6%,#ffb400 100.0%)"></div><div style="height:3.00px;background:linear-gradient(90deg,#ffb300 0.0%,#ffb300 21.3%,#fa0 26.3%,#ffb500 33.3%,#ffaf00 35.5%,#ffb700 37.5%,#ffae00 39.5%,#ffb800 41.2%,#ffae00 43.2%,#ffb900 43.9%,#ffe300 45.2%,#ffe900 45.7%,#ffd500 46.4%,#ffb600 46.9%,#ff9300 47.1%,#ff1300 47.6%,#ec0000 47.9%,#df0000 48.1%,#d00 48.4%,#ed0000 48.9%,#ff0a00 49.1%,#ff4500 49.4%,#ff8a00 49.6%,#ffbc00 49.9%,#fffe00 50.4%,#ef1 50.6%,#e8ff17 50.9%,#f9ff06 51.6%,#fff600 51.9%,#ffc100 52.4%,#ff7300 52.9%,#ff5a00 53.1%,#ff4d00 53.6%,#ff5c00 54.1%,#ffa000 55.1%,#ffb200 55.6%,#ffa400 57.3%,#ffbf00 59.3%,#ffa700 61.3%,#ffbd00 63.3%,#ffa900 65.3%,#fb0 67.2%,#ffab00 69.2%,#ffb900 71.2%,#ffad00 73.2%,#ffb700 75.2%,#ffae00 77.2%,#ffb600 79.2%,#ffb000 81.1%,#ffb300 100.0%)"></div><div style="height:3.00px;background:linear-gradient(90deg,#ffb200 0.0%,#ffb300 21.8%,#ffa900 24.6%,#ffb400 29.8%,#ffaf00 35.7%,#ffb600 37.7%,#ffae00 39.5%,#ffb800 41.4%,#ffaf00 43.2%,#ffb800 43.9%,#ffe200 45.2%,#ffe800 45.7%,#ffd500 46.4%,#ffb700 46.9%,#ff9500 47.1%,#ff1800 47.6%,#f00000 47.9%,#e30000 48.1%,#e20000 48.4%,#f10000 48.9%,#ff0f00 49.1%,#ff8c00 49.6%,#ffbd00 49.9%,#fffd00 50.4%,#f0ff0f 50.6%,#ebff14 51.1%,#fbff04 51.6%,#fff400 51.9%,#ffdf00 52.1%,#ff7300 52.9%,#ff5a00 53.1%,#ff4e00 53.6%,#ff5d00 54.1%,#ffa000 55.1%,#ffb100 55.6%,#ffa500 57.3%,#ffbe00 59.1%,#ffa800 61.0%,#ffbc00 63.0%,#ffa900 65.0%,#fb0 67.0%,#ffab00 69.0%,#ffb900 71.0%,#ffad00 72.7%,#ffb800 74.7%,#ffae00 76.7%,#ffb700 78.7%,#ffaf00 80.6%,#ffb600 82.4%,#ffb000 84.4%,#ffb500 86.4%,#ffb100 100.0%)"></div><div style="height:3.00px;background:linear-gradient(90deg,#ffb200 0.0%,#ffb300 21.8%,#ffa800 24.6%,#ffb500 30.0%,#ffaf00 31.8%,#ffb600 34.0%,#ffaf00 35.7%,#ffb700 37.7%,#ffae00 39.7%,#ffb800 41.4%,#ffaf00 43.2%,#ffb800 43.9%,#ffe200 45.2%,#ffe800 45.7%,#ffd500 46.4%,#ffb700 46.9%,#ff9700 47.1%,#ff1c00 47.6%,#f50000 47.9%,#e80000 48.1%,#e60000 48.4%,#f50000 48.9%,#ff1300 49.1%,#ff8e00 49.6%,#ffbd00 49.9%,#fffb00 50.4%,#f2ff0d 50.6%,#edff12 51.1%,#fdff02 51.6%,#fff200 51.9%,#fd0 52.1%,#ff7300 52.9%,#ff5b00 53.1%,#ff4f00 53.6%,#ff5e00 54.1%,#ffa000 55.1%,#ffb100 55.6%,#ffa600 57.3%,#ffbe00 59.1%,#ffa700 61.0%,#ffbd00 63.0%,#ffa900 65.0%,#fb0 67.0%,#ffab00 68.7%,#ffba00 70.7%,#ffac00 72.7%,#ffb900 74.7%,#ffad00 76.4%,#ffb800 78.4%,#ffae00 80.4%,#ffb700 82.4%,#ffae00 84.4%,#ffb600 86.4%,#ffaf00 88.1%,#ffb600 90.1%,#ffb000 92.1%,#ffb500 94.0%,#ffb000 100.0%)"></div><div style="height:3.00px;background:linear-gradient(90deg,#ffb200 0.0%,#ffb300 21.8%,#ffa800 24.6%,#ffb500 30.0%,#ffaf00 31.8%,#ffb600 34.0%,#ffaf00 35.7%,#ffb700 37.7%,#ffae00 39.7%,#ffb800 41.4%,#ffaf00 43.2%,#ffb800 43.9%,#ffe100 45.2%,#ffe700 45.7%,#ffd500 46.4%,#ffb800 46.9%,#ff9800 47.1%,#ff2000 47.6%,#f90000 47.9%,#ec0000 48.1%,#eb0000 48.4%,#fa0000 48.9%,#ff1700 49.1%,#ff9000 49.6%,#ffbd00 49.9%,#fffa00 50.4%,#f3ff0c 50.6%,#efff10 51.1%,#ff0 51.6%,#fff100 51.9%,#ffdc00 52.1%,#ff7300 52.9%,#ff5c00 53.1%,#ff5000 53.6%,#ff6000 54.1%,#ffa100 55.1%,#ffb100 55.6%,#ffa600 57.3%,#ffbe00 59.1%,#ffa700 61.0%,#ffbd00 63.0%,#ffa900 65.0%,#fb0 67.0%,#ffab00 68.7%,#ffba00 70.7%,#ffac00 72.7%,#ffb900 74.7%,#ffad00 76.4%,#ffb800 78.4%,#ffae00 80.4%,#ffb700 82.4%,#ffae00 84.4%,#ffb600 86.4%,#ffaf00 88.1%,#ffb600 90.1%,#ffb000 92.1%,#ffb500 94.0%,#ffb000 100.0%)"></div><div style="height:3.00px;background:linear-gradient(90deg,#ffb200 0.0%,#ffb300 21.8%,#ffa900 24.6%,#ffb500 30.0%,#ffaf00 31.8%,#ffb600 34.0%,#ffaf00 35.7%,#ffb700 37.7%,#ffae00 39.7%,#ffb800 41.4%,#ffaf00 43.2%,#ffb700 43.9%,#ffe100 45.2%,#ffe700 45.7%,#ffd500 46.4%,#ffb800 46.9%,#ff9a00 47.1%,#ff2500 47.6%,#fe0000 47.9%,#f10000 48.1%,#ef0000 48.4%,#f00 48.9%,#ff1c00 49.1%,#ff9200 49.6%,#ffbd00 49.9%,#fff800 50.4%,#f5ff0a 50.6%,#f0ff0f 51.1%,#fffe00 51.6%,#ffda00 52.1%,#ff7300 52.9%,#ff5c00 53.1%,#ff5100 53.6%,#ff6100 54.1%,#ffa200 55.1%,#ffb100 55.6%,#ffa600 57.3%,#ffbe00 59.1%,#ffa700 61.0%,#ffbd00 63.0%,#ffa900 65.0%,#fb0 67.0%,#ffab00 68.7%,#ffba00 70.7%,#ffac00 72.7%,#ffb900 74.7%,#ffad00 76.4%,#ffb800 78.4%,#ffae00 80.4%,#ffb700 82.4%,#ffae00 84.4%,#ffb600 86.4%,#ffaf00 88.1%,#ffb600 90.1%,#ffb000 92.1%,#ffb500 94.0%,#ffb000 100.0%)"></div><div style="height:3.00px;background:linear-gradient(90deg,#ffb200 0.0%,#ffb300 21.8%,#ffa900 24.6%,#ffb500 30.0%,#ffb000 31.8%,#ffb600 34.0%,#ffaf00 35.7%,#ffb700 37.7%,#ffae00 39.7%,#ffb800 41.4%,#ffaf00 43.2%,#ffb700 43.9%,#ffe000 45.2%,#ffe600 45.7%,#ffd400 46.4%,#ffb800 46.9%,#ff9b00 47.1%,#ff2900 47.6%,#ff0400 47.9%,#f60000 48.1%,#ff0400 48.9%,#ff2000 49.1%,#ff9300 49.6%,#ffbd00 49.9%,#fff700 50.4%,#f7ff08 50.6%,#f2ff0d 51.1%,#fffc00 51.6%,#ffd900 52.1%,#ff7300 52.9%,#ff5d00 53.1%,#ff5200 53.6%,#ff6200 54.1%,#ffa200 55.1%,#ffb100 55.6%,#ffa600 57.3%,#ffbe00 59.1%,#ffa800 61.0%,#ffbc00 63.0%,#ffa900 65.0%,#fb0 66.7%,#ffab00 68.7%,#ffba00 70.7%,#ffac00 72.7%,#ffb800 74.7%,#ffad00 76.4%,#ffb700 78.4%,#ffae00 80.4%,#ffb700 82.4%,#ffaf00 84.4%,#ffb600 86.1%,#ffaf00 88.1%,#ffb500 90.1%,#ffb100 100.0%)"></div><div style="height:3.00px;background:linear-gradient(90deg,#ffb200 0.0%,#ffb300 18.9%,#ffa900 24.8%,#ffb400 30.0%,#ffaf00 36.0%,#ffb600 38.0%,#ffae00 39.7%,#ffb700 41.7%,#ffb000 43.2%,#ffb700 43.9%,#ffdf00 45.2%,#ffe500 45.7%,#ffd500 46.4%,#ffb900 46.9%,#ff9d00 47.1%,#ff2e00 47.6%,#ff0800 47.9%,#fa0000 48.1%,#fc0000 48.6%,#ff0800 48.9%,#ff2500 49.1%,#ff9500 49.6%,#ffbe00 49.9%,#fff600 50.4%,#f8ff07 50.6%,#f4ff0b 51.1%,#fffa00 51.6%,#ffd700 52.1%,#ff7300 52.9%,#ff5e00 53.1%,#ff5400 53.6%,#ff6300 54.1%,#ffa200 55.1%,#ffb100 55.6%,#ffa700 57.3%,#ffbe00 59.1%,#ffa800 61.0%,#ffbc00 62.8%,#fa0 64.8%,#ffba00 66.7%,#ffac00 68.7%,#ffb800 70.5%,#ffad00 72.5%,#ffb700 74.4%,#ffae00 76.2%,#ffb600 78.2%,#ffaf00 80.1%,#ffb500 82.1%,#ffb200 100.0%)"></div><div style="height:3.00px;background:linear-gradient(90deg,#ffb300 0.0%,#ffb300 19.4%,#ffa900 25.1%,#ffb400 30.3%,#ffaf00 36.2%,#ffb600 38.0%,#ffae00 40.0%,#ffb700 41.7%,#ffb000 43.2%,#ffb700 43.9%,#ffde00 45.2%,#ffe500 45.7%,#ffd500 46.4%,#ffba00 46.9%,#ff9f00 47.1%,#ff3200 47.6%,#ff0d00 47.9%,#f00 48.1%,#fd0000 48.4%,#ff0d00 48.9%,#ff2900 49.1%,#ff9600 49.6%,#ffbe00 49.9%,#fff400 50.4%,#faff05 50.6%,#f4ff0b 50.9%,#fff900 51.6%,#ffd600 52.1%,#ff7300 52.9%,#ff5e00 53.1%,#f50 53.6%,#ff6400 54.1%,#ff9400 54.8%,#ffab00 55.3%,#ffb100 55.8%,#ffa800 57.3%,#ffbd00 58.8%,#ffa900 60.8%,#fb0 62.8%,#ffab00 64.5%,#ffba00 66.5%,#ffac00 68.5%,#ffb800 70.2%,#ffad00 72.2%,#ffb700 73.9%,#ffaf00 75.9%,#ffb600 77.9%,#ffaf00 79.7%,#ffb500 81.6%,#ffb300 100.0%)"></div><div style="height:3.00px;background:linear-gradient(90deg,#ffb300 0.0%,#ffb400 19.6%,#ffa800 25.3%,#ffb500 30.5%,#ffaf00 36.2%,#ffb600 38.2%,#ffae00 40.0%,#ffb700 41.9%,#ffb100 43.4%,#ffbc00 44.2%,#fd0 45.2%,#ffe400 45.7%,#ffd500 46.4%,#fb0 46.9%,#ffa000 47.1%,#ff3600 47.6%,#f10 47.9%,#ff0400 48.1%,#ff0200 48.4%,#f10 48.9%,#ff2d00 49.1%,#ff9800 49.6%,#ffbe00 49.9%,#fff300 50.4%,#fbff04 50.6%,#f6ff09 50.9%,#fdff02 51.4%,#ffe900 51.9%,#ffb800 52.4%,#ff7300 52.9%,#ff5f00 53.1%,#ff5600 53.6%,#ff6500 54.1%,#ff9500 54.8%,#ffab00 55.3%,#ffb000 55.8%,#ffa700 57.1%,#ffbd00 58.8%,#ffa900 60.8%,#fb0 62.5%,#ffab00 64.5%,#ffba00 66.3%,#ffac00 68.2%,#ffb900 70.0%,#ffad00 72.0%,#ffb800 73.7%,#ffae00 75.7%,#ffb700 77.4%,#ffae00 79.4%,#ffb600 81.1%,#ffaf00 83.1%,#ffb600 84.9%,#ffb000 86.8%,#ffb500 88.6%,#ffb000 90.6%,#ffb400 100.0%)"></div><div style="height:3.00px;background:linear-gradient(90deg,#ffb300 0.0%,#ffb400 19.6%,#ffa800 25.3%,#ffb500 30.5%,#ffaf00 36.2%,#ffb600 38.2%,#ffae00 40.0%,#ffb700 41.9%,#ffb100 43.4%,#ffbc00 44.2%,#ffdc00 45.2%,#ffe400 45.7%,#ffd500 46.4%,#fb0 46.9%,#ffa100 47.1%,#ff3a00 47.6%,#ff1600 47.9%,#ff0900 48.1%,#ff0700 48.4%,#ff1600 48.9%,#ff3100 49.1%,#ff9a00 49.6%,#ffbe00 49.9%,#fff200 50.4%,#fdff02 50.6%,#f7ff08 50.9%,#ff0 51.4%,#ffe800 51.9%,#ffb700 52.4%,#ff7400 52.9%,#ff6000 53.1%,#ff5700 53.3%,#ff5700 53.6%,#f60 54.1%,#ff9500 54.8%,#ffab00 55.3%,#ffb000 55.8%,#ffa700 57.1%,#ffbd00 58.8%,#ffa900 60.8%,#fb0 62.5%,#ffab00 64.5%,#ffba00 66.3%,#ffac00 68.2%,#ffb900 70.0%,#ffad00 72.0%,#ffb800 73.7%,#ffae00 75.7%,#ffb700 77.4%,#ffae00 79.4%,#ffb600 81.1%,#ffaf00 83.1%,#ffb600 84.9%,#ffaf00 86.8%,#ffb500 88.6%,#ffb000 90.6%,#ffb400 100.0%)"></div><div style="height:3.00px;background:linear-gradient(90deg,#ffb300 0.0%,#ffb400 19.6%,#ffa800 25.3%,#ffb500 30.5%,#ffaf00 36.2%,#ffb600 38.2%,#ffae00 40.0%,#ffb700 41.9%,#ffb100 43.4%,#ffbc00 44.2%,#ffdc00 45.2%,#ffe300 45.7%,#ffdc00 46.2%,#fb0 46.9%,#ffa200 47.1%,#ff7500 47.4%,#ff3e00 47.6%,#ff1a00 47.9%,#ff0c00 48.1%,#ff0a00 48.4%,#ff1900 48.9%,#ff3400 49.1%,#ff9b00 49.6%,#ffbe00 49.9%,#fff100 50.4%,#feff01 50.6%,#f9ff06 50.9%,#fffe00 51.4%,#ffe600 51.9%,#ffb600 52.4%,#ff7400 52.9%,#ff6000 53.1%,#ff5800 53.3%,#ff5800 53.6%,#ff6700 54.1%,#ff9600 54.8%,#ffab00 55.3%,#ffb000 55.8%,#ffa700 57.1%,#ffbd00 58.8%,#ffa900 60.8%,#fb0 62.5%,#ffab00 64.5%,#ffba00 66.3%,#ffac00 68.2%,#ffb900 70.0%,#ffad00 72.0%,#ffb800 73.7%,#ffae00 75.7%,#ffb700 77.4%,#ffae00 79.4%,#ffb600 81.1%,#ffaf00 83.1%,#ffb600 84.9%,#ffaf00 86.8%,#ffb500 88.6%,#ffb000 90.6%,#ffb400 100.0%)"></div><div style="height:3.00px;background:linear-gradient(90deg,#ffb300 0.0%,#ffb400 19.6%,#ffa800 25.3%,#ffb500 30.5%,#ffaf00 36.2%,#ffb600 38.2%,#ffae00 40.0%,#ffb700 41.9%,#ffb100 43.4%,#ffbc00 44.2%,#ffdb00 45.2%,#ffe300 45.7%,#ffdc00 46.2%,#fb0 46.9%,#ffa300 47.1%,#ff7600 47.4%,#ff3f00 47.6%,#ff1b00 47.9%,#ff0e00 48.1%,#ff0c00 48.4%,#ff1b00 48.9%,#ff3600 49.1%,#ff9b00 49.6%,#ffd800 50.1%,#fffe00 50.6%,#fbff04 50.9%,#fffc00 51.4%,#ffe500 51.9%,#ffb500 52.4%,#ff7400 52.9%,#ff6100 53.1%,#ff5900 53.3%,#ff5900 53.6%,#ff6800 54.1%,#ff9700 54.8%,#ffab00 55.3%,#ffb000 55.8%,#ffa700 57.1%,#ffbd00 58.8%,#ffa900 60.8%,#fb0 62.5%,#ffab00 64.5%,#ffba00 66.3%,#ffac00 68.2%,#ffb900 70.0%,#ffad00 72.0%,#ffb800 73.7%,#ffae00 75.7%,#ffb700 77.4%,#ffae00 79.4%,#ffb600 81.1%,#ffaf00 83.1%,#ffb600 84.9%,#ffaf00 86.8%,#ffb500 88.6%,#ffb000 90.6%,#ffb400 100.0%)"></div><div style="height:3.00px;background:linear-gradient(90deg,#ffb300 0.0%,#ffb300 19.9%,#ffa900 25.3%,#ffb500 30.8%,#ffaf00 36.5%,#ffb600 38.2%,#ffaf00 40.2%,#ffb700 41.9%,#ffb100 43.4%,#fb0 44.2%,#ffdb00 45.2%,#ffe200 45.7%,#ffdc00 46.2%,#ffbc00 46.9%,#ffa300 47.1%,#ff7800 47.4%,#ff4100 47.6%,#ff1d00 47.9%,#ff1000 48.1%,#ff0e00 48.4%,#ff1d00 48.9%,#ff3800 49.1%,#ff9c00 49.6%,#ffbe00 49.9%,#fe0 50.4%,#fffd00 50.6%,#fcff03 50.9%,#fffb00 51.4%,#ffe400 51.9%,#ffb400 52.4%,#ff7400 52.9%,#ff6200 53.1%,#ff5a00 53.3%,#ff5a00 53.6%,#ff6900 54.1%,#ff9700 54.8%,#ffab00 55.3%,#ffb000 55.8%,#ffa800 57.1%,#ffbc00 58.8%,#fa0 60.8%,#fb0 62.5%,#ffab00 64.5%,#ffb900 66.3%,#ffac00 68.2%,#ffb800 70.0%,#ffad00 71.7%,#ffb700 73.7%,#ffae00 75.4%,#ffb600 77.4%,#ffaf00 79.2%,#ffb600 81.1%,#ffb000 82.9%,#ffb400 100.0%)"></div><div style="height:3.00px;background:linear-gradient(90deg,#ffb200 0.0%,#ffb300 20.1%,#ffa900 25.6%,#ffb400 31.0%,#ffb200 43.4%,#fb0 44.2%,#ffd900 45.2%,#ffe100 45.7%,#ffdb00 46.2%,#ffbc00 46.9%,#ffa400 47.1%,#ff7900 47.4%,#ff4300 47.6%,#ff1f00 47.9%,#f10 48.1%,#ff0f00 48.4%,#ff1e00 48.9%,#ff3900 49.1%,#ff9c00 49.6%,#ffbd00 49.9%,#ffed00 50.4%,#fffb00 50.6%,#feff01 50.9%,#fff900 51.4%,#ffe300 51.9%,#ffcf00 52.1%,#ff7500 52.9%,#ff6200 53.1%,#ff5b00 53.3%,#ff5b00 53.6%,#ff6a00 54.1%,#ff9700 54.8%,#ffab00 55.3%,#ffaf00 55.8%,#ffa800 57.1%,#ffbc00 58.8%,#fa0 60.5%,#ffba00 62.5%,#ffac00 64.3%,#ffb900 66.3%,#ffad00 68.0%,#ffb800 69.7%,#ffae00 71.7%,#ffb700 73.4%,#ffaf00 75.2%,#ffb600 77.2%,#ffb000 78.9%,#ffb500 80.9%,#ffb300 100.0%)"></div><div style="height:3.00px;background:linear-gradient(90deg,#ffb200 0.0%,#ffb300 20.3%,#ffa900 25.6%,#ffb400 31.3%,#ffb000 36.7%,#ffb600 38.5%,#ffaf00 40.4%,#ffb600 41.9%,#ffb400 43.7%,#ffe000 45.7%,#ffdb00 46.2%,#ffbd00 46.9%,#ffa500 47.1%,#ff7b00 47.4%,#ff4500 47.6%,#ff2100 47.9%,#ff1300 48.1%,#f10 48.4%,#ff1f00 48.9%,#ff3b00 49.1%,#ff9d00 49.6%,#ffbd00 49.9%,#ffec00 50.4%,#ff0 50.9%,#fff800 51.4%,#ffe100 51.9%,#ffce00 52.1%,#ff7500 52.9%,#ff6300 53.1%,#ff5c00 53.3%,#ff6100 53.8%,#ff9700 54.8%,#fa0 55.3%,#ffa900 57.1%,#fb0 58.6%,#fa0 60.5%,#ffba00 62.3%,#ffac00 64.3%,#ffb900 66.0%,#ffad00 67.7%,#ffb800 69.7%,#ffae00 71.5%,#ffb700 73.2%,#ffaf00 74.9%,#ffb600 76.9%,#ffaf00 78.7%,#ffb500 80.4%,#ffb000 82.4%,#ffb200 100.0%)"></div><div style="height:3.00px;background:linear-gradient(90deg,#ffb200 0.0%,#ffb300 20.6%,#ffa900 25.8%,#ffb500 31.3%,#ffb000 36.7%,#ffb600 38.7%,#ffaf00 40.4%,#ffb700 42.2%,#ffb400 43.7%,#ffe000 45.7%,#ffdb00 46.2%,#ffbd00 46.9%,#ffa600 47.1%,#ff7c00 47.4%,#ff4700 47.6%,#ff2300 47.9%,#ff1500 48.1%,#ff1200 48.4%,#ff2100 48.9%,#ff3c00 49.1%,#ff9d00 49.6%,#ffbd00 49.9%,#ffeb00 50.4%,#fffe00 50.9%,#fff700 51.4%,#ffe000 51.9%,#ffcd00 52.1%,#ff7500 52.9%,#ff6400 53.1%,#ff5c00 53.3%,#ff6200 53.8%,#ff9800 54.8%,#fa0 55.3%,#ffa900 57.1%,#fb0 58.6%,#ffab00 60.5%,#ffba00 62.3%,#ffac00 64.0%,#ffb900 66.0%,#ffad00 67.7%,#ffb800 69.5%,#ffae00 71.2%,#ffb700 73.2%,#ffae00 74.9%,#ffb600 76.7%,#ffaf00 78.4%,#ffb600 80.4%,#ffaf00 82.1%,#ffb500 83.9%,#ffb000 85.6%,#ffb100 100.0%)"></div><div style="height:3.00px;background:linear-gradient(90deg,#ffb200 0.0%,#ffb300 20.6%,#fa0 25.8%,#ffb500 31.3%,#ffb000 36.7%,#ffb600 38.7%,#ffaf00 40.4%,#ffb700 42.2%,#ffb400 43.7%,#ffdf00 45.7%,#ffda00 46.2%,#ffbd00 46.9%,#ffa600 47.1%,#ff7d00 47.4%,#ff4900 47.6%,#ff2500 47.9%,#ff1700 48.1%,#ff1400 48.4%,#ff2300 48.9%,#ff3e00 49.1%,#ff9e00 49.6%,#ffbd00 49.9%,#ffea00 50.4%,#fffc00 50.9%,#fff500 51.4%,#ffdf00 51.9%,#fc0 52.1%,#ff7500 52.9%,#ff6400 53.1%,#ff5d00 53.3%,#ff6300 53.8%,#ff9800 54.8%,#fa0 55.3%,#ffa900 57.1%,#fb0 58.6%,#ffab00 60.5%,#ffba00 62.3%,#ffac00 64.0%,#ffb900 66.0%,#ffad00 67.7%,#ffb800 69.5%,#ffae00 71.2%,#ffb700 73.2%,#ffae00 74.9%,#ffb600 76.7%,#ffaf00 78.4%,#ffb600 80.4%,#ffaf00 82.1%,#ffb500 83.9%,#ffb000 85.6%,#ffb100 100.0%)"></div><div style="height:3.00px;background:linear-gradient(90deg,#ffb200 0.0%,#ffb300 20.6%,#fa0 25.8%,#ffb200 28.0%,#ffb500 35.0%,#ffb000 36.7%,#ffb600 38.5%,#ffaf00 40.4%,#ffb700 42.2%,#ffb400 43.7%,#ffdf00 45.7%,#ffda00 46.2%,#ffbd00 46.9%,#ffa700 47.1%,#ff7e00 47.4%,#ff4a00 47.6%,#ff2700 47.9%,#ff1900 48.1%,#ff1600 48.4%,#ff2500 48.9%,#ff4000 49.1%,#ff9e00 49.6%,#ffbd00 49.9%,#ffe900 50.4%,#fffb00 50.9%,#fff400 51.4%,#ffde00 51.9%,#ffcb00 52.1%,#ff7600 52.9%,#ff6500 53.1%,#ff5e00 53.3%,#ff6400 53.8%,#f90 54.8%,#ffab00 55.3%,#ffa900 57.1%,#fb0 58.6%,#ffab00 60.5%,#ffba00 62.3%,#ffac00 64.0%,#ffb900 66.0%,#ffad00 67.7%,#ffb800 69.5%,#ffae00 71.2%,#ffb700 73.2%,#ffae00 74.9%,#ffb600 76.7%,#ffaf00 78.4%,#ffb600 80.4%,#ffaf00 82.1%,#ffb500 83.9%,#ffb000 85.6%,#ffb100 100.0%)"></div><div style="height:3.00px;background:linear-gradient(90deg,#ffb200 0.0%,#ffb300 20.6%,#fa0 25.8%,#ffb200 28.0%,#ffb000 36.7%,#ffb600 38.7%,#ffaf00 40.4%,#ffb600 42.2%,#ffb400 43.7%,#ffdc00 45.4%,#fd0 45.9%,#ffd300 46.4%,#ffbd00 46.9%,#ffa700 47.1%,#ff7f00 47.4%,#ff4c00 47.6%,#ff2800 47.9%,#ff1a00 48.1%,#ff1800 48.4%,#ff2700 48.9%,#ff4200 49.1%,#ff9f00 49.6%,#ffbd00 49.9%,#ffe800 50.4%,#fffa00 50.9%,#fff300 51.4%,#fd0 51.9%,#ffca00 52.1%,#ff7600 52.9%,#ff5f00 53.3%,#ff6500 53.8%,#f90 54.8%,#ffab00 55.3%,#ffa900 57.1%,#fb0 58.6%,#ffab00 60.5%,#ffba00 62.3%,#ffac00 64.0%,#ffb900 66.0%,#ffad00 67.7%,#ffb800 69.5%,#ffae00 71.2%,#ffb700 73.2%,#ffae00 74.9%,#ffb600 76.7%,#ffaf00 78.4%,#ffb600 80.4%,#ffb000 82.1%,#ffb500 83.9%,#ffb100 100.0%)"></div><div style="height:3.00px;background:linear-gradient(90deg,#ffb300 0.0%,#ffb300 20.8%,#fa0 25.8%,#ffb200 28.3%,#ffb500 38.7%,#ffaf00 40.4%,#ffb400 43.7%,#ffdb00 45.4%,#fd0 45.9%,#ffd200 46.4%,#ffbd00 46.9%,#ffa800 47.1%,#ff8100 47.4%,#ff4e00 47.6%,#ff2a00 47.9%,#ff1c00 48.1%,#ff1a00 48.4%,#ff2800 48.9%,#ff4300 49.1%,#ff9f00 49.6%,#ffbc00 49.9%,#ffe700 50.4%,#fff800 50.9%,#fff200 51.4%,#ffdc00 51.9%,#ffca00 52.1%,#ff7600 52.9%,#ff6000 53.3%,#f60 53.8%,#f90 54.8%,#fa0 55.3%,#fa0 57.1%,#ffba00 58.6%,#ffab00 60.5%,#ffb900 62.3%,#ffac00 64.0%,#ffb800 65.8%,#ffad00 67.5%,#ffb700 69.5%,#ffae00 71.2%,#ffb600 73.0%,#ffaf00 74.7%,#ffb600 76.4%,#ffb000 78.4%,#ffb500 80.1%,#ffb200 100.0%)"></div><div style="height:3.00px;background:linear-gradient(90deg,#ffb300 0.0%,#ffb300 21.1%,#ffab00 26.1%,#ffb400 31.8%,#ffaf00 40.7%,#ffb600 43.9%,#ffda00 45.4%,#ffdc00 45.9%,#ffd200 46.4%,#ffbd00 46.9%,#ffa900 47.1%,#ff8200 47.4%,#ff5000 47.6%,#ff2c00 47.9%,#ff1e00 48.1%,#ff1b00 48.4%,#ff2a00 48.9%,#ff4500 49.1%,#ffa000 49.6%,#ffbc00 49.9%,#ffe600 50.4%,#fff700 50.9%,#fff000 51.4%,#ffdb00 51.9%,#ffc900 52.1%,#f70 52.9%,#ff6100 53.3%,#ff6700 53.8%,#f90 54.8%,#fa0 55.3%,#ffab00 57.1%,#ffba00 58.6%,#ffac00 60.3%,#ffb900 62.0%,#ffad00 64.0%,#ffb800 65.8%,#ffae00 67.5%,#ffb700 69.2%,#ffae00 71.0%,#ffb600 72.7%,#ffaf00 74.4%,#ffb500 76.2%,#ffb000 78.2%,#ffb200 100.0%)"></div><div style="height:3.00px;background:linear-gradient(90deg,#ffb300 0.0%,#ffb300 21.3%,#ffab00 26.3%,#ffb300 28.5%,#ffb500 39.0%,#ffaf00 40.7%,#ffb700 43.9%,#ffd900 45.4%,#ffdb00 45.9%,#ffd200 46.4%,#ffbe00 46.9%,#ffa900 47.1%,#ff8400 47.4%,#ff5200 47.6%,#ff2e00 47.9%,#ff2000 48.1%,#ff1d00 48.4%,#ff2b00 48.9%,#ff4600 49.1%,#ffa000 49.6%,#ffbc00 49.9%,#ffe500 50.4%,#fff600 50.9%,#ffef00 51.4%,#ffda00 51.9%,#ffc800 52.1%,#f70 52.9%,#ff6200 53.3%,#ff6800 53.8%,#f90 54.8%,#fa0 55.3%,#fa0 56.8%,#ffba00 58.6%,#ffac00 60.3%,#ffb900 62.0%,#ffad00 63.8%,#ffb800 65.5%,#ffae00 67.2%,#ffb700 69.0%,#ffae00 70.7%,#ffb600 72.5%,#ffaf00 74.2%,#ffb600 76.2%,#ffaf00 77.9%,#ffb500 79.7%,#ffb000 81.4%,#ffb300 100.0%)"></div><div style="height:3.00px;background:linear-gradient(90deg,#ffb300 0.0%,#ffb300 21.3%,#ffab00 26.3%,#ffb300 28.5%,#ffb500 39.0%,#ffaf00 40.7%,#ffb700 43.9%,#ffd900 45.4%,#ffdb00 45.9%,#ffd200 46.4%,#ffbe00 46.9%,#fa0 47.1%,#ff8500 47.4%,#ff5300 47.6%,#ff3000 47.9%,#f20 48.1%,#ff1f00 48.4%,#ff2d00 48.9%,#ff4800 49.1%,#ffa100 49.6%,#ffbc00 49.9%,#ffe400 50.4%,#fff500 50.9%,#fe0 51.4%,#ffd900 51.9%,#ffc700 52.1%,#f70 52.9%,#ff6200 53.3%,#ff6800 53.8%,#ff9a00 54.8%,#fa0 55.3%,#fa0 56.8%,#ffba00 58.6%,#ffac00 60.3%,#ffb900 62.0%,#ffad00 63.8%,#ffb800 65.5%,#ffae00 67.2%,#ffb700 69.0%,#ffae00 70.7%,#ffb600 72.5%,#ffaf00 74.2%,#ffb600 75.9%,#ffaf00 77.9%,#ffb500 79.7%,#ffb000 81.4%,#ffb300 100.0%)"></div><div style="height:3.00px;background:linear-gradient(90deg,#ffb300 0.0%,#ffb300 21.3%,#ffab00 26.3%,#ffb300 28.5%,#ffb500 39.0%,#ffaf00 40.7%,#ffb600 43.9%,#ffd800 45.4%,#ffdb00 45.9%,#ffd100 46.4%,#ffbe00 46.9%,#fa0 47.1%,#ff3200 47.9%,#ff2400 48.1%,#ff2100 48.4%,#ff2f00 48.9%,#ff4a00 49.1%,#ffa100 49.6%,#ffbc00 49.9%,#ffe300 50.4%,#fff400 50.9%,#ffed00 51.4%,#ffd800 51.9%,#ffc600 52.1%,#ff7800 52.9%,#ff6300 53.3%,#ff6900 53.8%,#ff9a00 54.8%,#fa0 55.3%,#fa0 56.8%,#ffba00 58.6%,#ffac00 60.3%,#ffb900 62.0%,#ffad00 63.8%,#ffb800 65.5%,#ffae00 67.2%,#ffb700 69.0%,#ffae00 70.7%,#ffb600 72.5%,#ffaf00 74.2%,#ffb600 75.9%,#ffaf00 77.9%,#ffb500 79.7%,#ffb000 81.4%,#ffb300 100.0%)"></div><div style="height:3.00px;background:linear-gradient(90deg,#ffb300 0.0%,#ffb300 21.3%,#ffac00 26.3%,#ffb300 28.5%,#ffb500 39.0%,#ffaf00 40.7%,#ffb600 43.9%,#ffd800 45.4%,#ffda00 45.9%,#ffd100 46.4%,#ffbe00 46.9%,#fa0 47.1%,#ff3400 47.9%,#ff2500 48.1%,#f20 48.4%,#ff3100 48.9%,#ff4b00 49.1%,#ffa200 49.6%,#ffbc00 49.9%,#ffe200 50.4%,#fff200 50.9%,#ffec00 51.4%,#ffd700 51.9%,#ffc600 52.1%,#ff7800 52.9%,#ff6400 53.3%,#ff6a00 53.8%,#ff9a00 54.8%,#fa0 55.3%,#fa0 56.8%,#ffba00 58.6%,#ffac00 60.3%,#ffb900 62.0%,#ffad00 63.8%,#ffb800 65.5%,#ffae00 67.2%,#ffb700 69.0%,#ffae00 70.7%,#ffb600 72.5%,#ffaf00 74.2%,#ffb600 75.9%,#ffaf00 77.9%,#ffb500 79.7%,#ffb000 81.4%,#ffb300 100.0%)"></div><div style="height:3.00px;background:linear-gradient(90deg,#ffb300 0.0%,#ffb300 21.3%,#ffac00 26.3%,#ffb300 28.5%,#ffb500 39.0%,#ffb000 40.7%,#ffb700 43.9%,#ffd700 45.4%,#ffda00 45.9%,#ffd100 46.4%,#ffbe00 46.9%,#ffab00 47.1%,#ff3600 47.9%,#ff2700 48.1%,#ff2400 48.4%,#ff3200 48.9%,#ff4d00 49.1%,#ffa200 49.6%,#fb0 49.9%,#ffe100 50.4%,#fff100 50.9%,#ffeb00 51.4%,#ffd600 51.9%,#ffc500 52.1%,#ff7900 52.9%,#ff6500 53.3%,#ff6b00 53.8%,#ff9b00 54.8%,#fa0 55.3%,#fa0 56.8%,#ffb900 58.6%,#ffac00 60.3%,#ffb800 62.0%,#ffad00 63.8%,#ffb800 65.5%,#ffae00 67.2%,#ffb700 69.0%,#ffaf00 70.7%,#ffb600 72.5%,#ffaf00 74.2%,#ffb600 75.9%,#ffb000 77.7%,#ffb500 79.4%,#ffb300 100.0%)"></div><div style="height:3.00px;background:linear-gradient(90deg,#ffb200 0.0%,#ffb000 40.9%,#ffb700 43.9%,#ffd600 45.4%,#ffd900 45.9%,#ffd000 46.4%,#ffbe00 46.9%,#ffab00 47.1%,#ff3800 47.9%,#ff2900 48.1%,#ff2600 48.4%,#ff3400 48.9%,#ff4e00 49.1%,#ffa200 49.6%,#fb0 49.9%,#ffe000 50.4%,#fff000 50.9%,#ffea00 51.4%,#ffd500 51.9%,#ffc400 52.1%,#ff7900 52.9%,#ff6500 53.3%,#ff6b00 53.8%,#ff9b00 54.8%,#fa0 55.3%,#ffab00 56.8%,#ffb900 58.3%,#ffad00 60.3%,#ffb800 62.0%,#ffad00 63.8%,#ffb700 65.5%,#ffae00 67.2%,#ffb600 68.7%,#ffaf00 70.5%,#ffb600 72.2%,#ffb000 73.9%,#ffb500 75.7%,#ffb000 77.4%,#ffb300 100.0%)"></div><div style="height:3.00px;background:linear-gradient(90deg,#ffb200 0.0%,#ffb000 40.9%,#ffb700 43.9%,#ffd600 45.4%,#ffd800 45.9%,#ffd000 46.4%,#ffbe00 46.9%,#ffac00 47.1%,#ff3900 47.9%,#ff2b00 48.1%,#ff2800 48.4%,#ff3500 48.9%,#ff5000 49.1%,#ffa300 49.6%,#fb0 49.9%,#ffdf00 50.4%,#ffef00 50.9%,#ffe900 51.4%,#ffd400 51.9%,#ffc400 52.1%,#ff7900 52.9%,#f60 53.3%,#ff6c00 53.8%,#ff9b00 54.8%,#fa0 55.3%,#ffab00 56.8%,#ffb900 58.3%,#ffad00 60.0%,#ffb800 61.8%,#ffae00 63.5%,#ffb700 65.3%,#ffae00 67.0%,#ffb600 68.7%,#ffaf00 70.5%,#ffb600 72.2%,#ffaf00 73.9%,#ffb500 75.7%,#ffb000 77.4%,#ffb300 100.0%)"></div><div style="height:3.00px;background:linear-gradient(90deg,#ffb200 0.0%,#ffb000 40.9%,#ffb700 43.9%,#ffd500 45.4%,#ffd800 45.9%,#ffbe00 46.9%,#ffad00 47.1%,#ff3b00 47.9%,#ff2d00 48.1%,#ff2a00 48.4%,#ff3700 48.9%,#ff5100 49.1%,#ffa300 49.6%,#fb0 49.9%,#ffdf00 50.4%,#fe0 50.9%,#ffe800 51.4%,#ffd400 51.9%,#ffc300 52.1%,#ff7a00 52.9%,#ff6700 53.3%,#ff6d00 53.8%,#ff9b00 54.8%,#ffa900 55.3%,#ffac00 56.8%,#ffb800 58.3%,#ffad00 60.0%,#ffb800 61.8%,#ffae00 63.5%,#ffb700 65.3%,#ffae00 67.0%,#ffb600 68.7%,#ffaf00 70.5%,#ffb600 72.0%,#ffaf00 73.7%,#ffb500 75.4%,#ffb000 77.2%,#ffb500 78.9%,#ffb300 100.0%)"></div><div style="height:3.00px;background:linear-gradient(90deg,#ffb200 0.0%,#ffb000 40.9%,#ffb700 43.9%,#ffd500 45.4%,#ffd700 45.9%,#ffbe00 46.9%,#ffad00 47.1%,#ff3d00 47.9%,#ff2f00 48.1%,#ff2b00 48.4%,#ff3900 48.9%,#ff5300 49.1%,#ffa400 49.6%,#fb0 49.9%,#ffde00 50.4%,#ffed00 50.9%,#ffe700 51.4%,#ffd300 51.9%,#ffc200 52.1%,#ff7a00 52.9%,#ff6800 53.3%,#ff6e00 53.8%,#ff9b00 54.8%,#fa0 55.3%,#ffac00 56.8%,#ffb800 58.3%,#ffad00 60.0%,#ffb800 61.8%,#ffae00 63.5%,#ffb700 65.3%,#ffae00 67.0%,#ffb600 68.7%,#ffaf00 70.5%,#ffb600 72.0%,#ffaf00 73.7%,#ffb500 75.4%,#ffb000 77.2%,#ffb500 78.9%,#ffb300 100.0%)"></div><div style="height:3.00px;background:linear-gradient(90deg,#ffb200 0.0%,#ffb000 40.9%,#ffb700 43.9%,#ffd400 45.4%,#ffd700 45.9%,#ffc800 46.7%,#ffad00 47.1%,#ff3f00 47.9%,#ff3000 48.1%,#ff2d00 48.4%,#ff3b00 48.9%,#f50 49.1%,#ffa400 49.6%,#fb0 49.9%,#fd0 50.4%,#ffec00 50.9%,#ffe600 51.4%,#ffd200 51.9%,#ffc200 52.1%,#ff7a00 52.9%,#ff6800 53.3%,#ff6e00 53.8%,#ff9c00 54.8%,#fa0 55.3%,#ffac00 56.8%,#ffb800 58.3%,#ffad00 60.0%,#ffb800 61.8%,#ffae00 63.5%,#ffb700 65.3%,#ffae00 67.0%,#ffb600 68.7%,#ffaf00 70.5%,#ffb600 72.0%,#ffaf00 73.7%,#ffb500 75.4%,#ffb000 77.2%,#ffb500 78.9%,#ffb300 100.0%)"></div><div style="height:3.00px;background:linear-gradient(90deg,#ffb200 0.0%,#ffb000 40.9%,#ffb700 43.9%,#ffd400 45.4%,#ffd600 45.9%,#ffc800 46.7%,#ffad00 47.1%,#ff8e00 47.4%,#ff6200 47.6%,#ff4100 47.9%,#ff3200 48.1%,#ff2f00 48.4%,#ff3d00 48.9%,#ff5700 49.1%,#ffa500 49.6%,#fb0 49.9%,#ffdc00 50.4%,#ffeb00 50.9%,#ffe500 51.4%,#ffd100 51.9%,#ffc100 52.1%,#ff7b00 52.9%,#ff6900 53.3%,#ff6f00 53.8%,#ff9c00 54.8%,#fa0 55.3%,#ffac00 56.8%,#ffb800 58.3%,#ffad00 60.0%,#ffb800 61.8%,#ffae00 63.5%,#ffb700 65.3%,#ffae00 67.0%,#ffb600 68.7%,#ffaf00 70.5%,#ffb600 72.0%,#ffaf00 73.7%,#ffb500 75.4%,#ffb000 77.2%,#ffb300 100.0%)"></div><div style="height:3.00px;background:linear-gradient(90deg,#ffb200 0.0%,#ffb000 41.2%,#ffb700 43.9%,#ffd600 45.9%,#ffc800 46.7%,#ffae00 47.1%,#ff8f00 47.4%,#ff4300 47.9%,#ff3400 48.1%,#ff3100 48.4%,#ff3e00 48.9%,#ff5800 49.1%,#ffa500 49.6%,#fb0 49.9%,#ffdc00 50.4%,#ffea00 50.9%,#ffe400 51.4%,#ffd100 51.9%,#ffc100 52.1%,#ff7b00 52.9%,#ff6a00 53.3%,#ff7000 53.8%,#ff9c00 54.8%,#fa0 55.3%,#ffb800 58.3%,#ffad00 60.0%,#ffb700 61.8%,#ffae00 63.5%,#ffb700 65.3%,#ffaf00 66.7%,#ffb600 68.5%,#ffaf00 70.2%,#ffb600 72.0%,#ffb000 73.7%,#ffb500 75.4%,#ffb300 100.0%)"></div><div style="height:3.00px;background:linear-gradient(90deg,#ffb200 0.0%,#ffb000 41.2%,#ffb700 43.9%,#ffd500 45.9%,#ffc800 46.7%,#ffae00 47.1%,#ff9100 47.4%,#ff4500 47.9%,#ff3600 48.1%,#f30 48.4%,#ff4000 48.9%,#ff5a00 49.1%,#ffa500 49.6%,#fb0 49.9%,#ffdb00 50.4%,#ffe900 50.9%,#ffe300 51.4%,#ffd000 51.9%,#ffc000 52.1%,#ff7c00 52.9%,#ff6b00 53.3%,#ff7100 53.8%,#ff9c00 54.8%,#ffa900 55.3%,#ffb800 58.3%,#ffad00 60.0%,#ffb700 61.8%,#ffae00 63.3%,#ffb600 65.0%,#ffaf00 66.7%,#ffb600 68.5%,#ffaf00 70.2%,#ffb500 71.7%,#ffb000 73.4%,#ffb200 100.0%)"></div><div style="height:3.00px;background:linear-gradient(90deg,#ffb300 0.0%,#ffb000 41.2%,#ffb800 43.9%,#ffd500 45.9%,#ffc700 46.7%,#ffaf00 47.1%,#ff9200 47.4%,#ff4700 47.9%,#ff3800 48.1%,#ff3400 48.4%,#ff4200 48.9%,#ff5b00 49.1%,#ffa600 49.6%,#ffba00 49.9%,#ffda00 50.4%,#ffe800 50.9%,#ffe200 51.4%,#ffcf00 51.9%,#ffbf00 52.1%,#ff7c00 52.9%,#ff6b00 53.3%,#ff7100 53.8%,#ff9c00 54.8%,#ffa900 55.3%,#ffb800 58.3%,#ffae00 60.0%,#ffb700 61.5%,#ffae00 63.3%,#ffb600 65.0%,#ffaf00 66.7%,#ffb600 68.2%,#ffaf00 70.0%,#ffb500 71.7%,#ffb000 73.4%,#ffb500 74.9%,#ffb200 100.0%)"></div><div style="height:3.00px;background:linear-gradient(90deg,#ffb300 0.0%,#ffb000 41.2%,#ffb800 43.9%,#ffd400 45.9%,#ffc700 46.7%,#ffaf00 47.1%,#ff9200 47.4%,#ff4800 47.9%,#ff3a00 48.1%,#ff3600 48.4%,#ff4300 48.9%,#ff5d00 49.1%,#ffa600 49.6%,#ffba00 49.9%,#ffd900 50.4%,#ffe700 50.9%,#ffe100 51.4%,#ffcf00 51.9%,#ff7c00 52.9%,#ff6c00 53.3%,#ff7200 53.8%,#ff9c00 54.8%,#ffa900 55.3%,#ffb800 58.3%,#ffae00 60.0%,#ffb700 61.5%,#ffae00 63.3%,#ffb600 65.0%,#ffaf00 66.7%,#ffb600 68.2%,#ffaf00 70.0%,#ffb500 71.7%,#ffb000 73.4%,#ffb500 74.9%,#ffb200 100.0%)"></div><div style="height:3.00px;background:linear-gradient(90deg,#ffb300 0.0%,#ffb000 41.2%,#ffb700 43.9%,#ffd400 45.9%,#ffc700 46.7%,#ffaf00 47.1%,#ff9300 47.4%,#ff4a00 47.9%,#ff3c00 48.1%,#ff3800 48.4%,#ff4500 48.9%,#ff5e00 49.1%,#ffa600 49.6%,#ffba00 49.9%,#ffd900 50.4%,#ffe600 50.9%,#ffe000 51.4%,#ffce00 51.9%,#ff7d00 52.9%,#ff6d00 53.3%,#ff7300 53.8%,#ff9d00 54.8%,#ffa900 55.3%,#ffb800 58.3%,#ffae00 60.0%,#ffb700 61.5%,#ffae00 63.3%,#ffb600 65.0%,#ffaf00 66.7%,#ffb600 68.2%,#ffaf00 70.0%,#ffb500 71.7%,#ffb000 73.4%,#ffb500 74.9%,#ffb200 100.0%)"></div><div style="height:3.00px;background:linear-gradient(90deg,#ffb300 0.0%,#ffb000 41.2%,#ffb700 43.9%,#ffd400 45.9%,#ffc700 46.7%,#ffb000 47.1%,#ff9400 47.4%,#ff4c00 47.9%,#ff3d00 48.1%,#ff3a00 48.4%,#ff4700 48.9%,#ff6000 49.1%,#ffa700 49.6%,#ffba00 49.9%,#ffd800 50.4%,#ffe600 50.9%,#ffe000 51.4%,#ffcd00 51.9%,#ff7d00 52.9%,#ff6d00 53.3%,#ff7300 53.8%,#ff9d00 54.8%,#fa0 55.3%,#ffb800 58.3%,#ffae00 60.0%,#ffb700 61.5%,#ffae00 63.3%,#ffb600 65.0%,#ffaf00 66.7%,#ffb600 68.2%,#ffaf00 70.0%,#ffb500 71.7%,#ffb000 73.4%,#ffb500 74.9%,#ffb200 100.0%)"></div><div style="height:3.00px;background:linear-gradient(90deg,#ffb300 0.0%,#ffb000 41.2%,#ffb700 43.9%,#ffd300 45.9%,#ffc700 46.7%,#ffb000 47.1%,#ff9500 47.4%,#ff4e00 47.9%,#ff3f00 48.1%,#ff3c00 48.4%,#ff4900 48.9%,#ff6200 49.1%,#ffa700 49.6%,#ffba00 49.9%,#ffd800 50.4%,#ffe500 50.9%,#ffdf00 51.4%,#ffcd00 51.9%,#ff7e00 52.9%,#ff6e00 53.3%,#ff7400 53.8%,#ff9d00 54.8%,#fa0 55.3%,#ffb700 58.3%,#ffae00 60.0%,#ffb700 61.5%,#ffaf00 63.3%,#ffb600 65.0%,#ffaf00 66.5%,#ffb600 68.2%,#ffb000 70.0%,#ffb500 71.7%,#ffb200 100.0%)"></div><div style="height:3.00px;background:linear-gradient(90deg,#ffb300 0.0%,#ffb100 41.4%,#ffb800 43.9%,#ffd200 45.9%,#ffc600 46.7%,#ffb000 47.1%,#ff9600 47.4%,#ff5000 47.9%,#ff4100 48.1%,#ff3e00 48.4%,#ff4a00 48.9%,#ff6300 49.1%,#ffa800 49.6%,#ffba00 49.9%,#ffd700 50.4%,#ffe400 50.9%,#ffde00 51.4%,#fc0 51.9%,#ff7e00 52.9%,#ff6f00 53.3%,#ff7400 53.8%,#ff9d00 54.8%,#ffa900 55.3%,#ffb700 58.1%,#ffae00 59.8%,#ffb700 61.5%,#ffaf00 63.3%,#ffb600 64.8%,#ffaf00 66.5%,#ffb500 68.2%,#ffb000 70.0%,#ffb500 71.5%,#ffb200 100.0%)"></div><div style="height:3.00px;background:linear-gradient(90deg,#ffb300 0.0%,#ffb100 41.4%,#ffb800 43.9%,#ffd200 45.9%,#ffc600 46.7%,#ffb100 47.1%,#ff9700 47.4%,#ff5100 47.9%,#ff4300 48.1%,#ff3f00 48.4%,#ff4c00 48.9%,#ff6400 49.1%,#ffa800 49.6%,#ffba00 49.9%,#ffd600 50.4%,#ffe300 50.9%,#fd0 51.4%,#ffcb00 51.9%,#ff7e00 52.9%,#ff6f00 53.3%,#ff7500 53.8%,#ff9d00 54.8%,#ffa900 55.3%,#ffb700 58.1%,#ffae00 59.8%,#ffb600 61.5%,#ffaf00 63.3%,#ffb600 64.8%,#ffaf00 66.5%,#ffb500 68.0%,#ffb000 69.7%,#ffb200 100.0%)"></div><div style="height:3.00px;background:linear-gradient(90deg,#ffb300 0.0%,#ffb100 41.4%,#ffb800 43.9%,#ffd100 45.9%,#ffc600 46.7%,#ffb100 47.1%,#ff9800 47.4%,#ff5300 47.9%,#ff4500 48.1%,#ff4100 48.4%,#ff4e00 48.9%,#f60 49.1%,#ffa800 49.6%,#ffba00 49.9%,#ffd600 50.4%,#ffe200 50.9%,#ffdc00 51.4%,#ffcb00 51.9%,#ff7f00 52.9%,#ff7000 53.3%,#ff7600 53.8%,#ff9d00 54.8%,#ffa900 55.3%,#ffb700 58.1%,#ffaf00 59.8%,#ffb600 61.5%,#ffaf00 63.0%,#ffb600 64.8%,#ffb000 66.5%,#ffb500 68.0%,#ffb000 69.7%,#ffb200 100.0%)"></div><div style="height:3.00px;background:linear-gradient(90deg,#ffb300 0.0%,#ffb100 41.4%,#ffb800 43.9%,#ffd100 45.9%,#ffc600 46.7%,#ffb100 47.1%,#f90 47.4%,#f50 47.9%,#ff4700 48.1%,#ff4300 48.4%,#ff5000 48.9%,#ff6800 49.1%,#ffa900 49.6%,#ffba00 49.9%,#ffd500 50.4%,#ffe200 50.9%,#ffdc00 51.4%,#ffca00 51.9%,#ff7f00 52.9%,#ff7000 53.3%,#ff7600 53.8%,#ff9d00 54.8%,#ffa900 55.3%,#ffb700 58.1%,#ffaf00 59.8%,#ffb600 61.5%,#ffaf00 63.0%,#ffb600 64.8%,#ffb000 66.5%,#ffb500 68.0%,#ffb000 69.7%,#ffb200 100.0%)"></div><div style="height:3.00px;background:linear-gradient(90deg,#ffb300 0.0%,#ffb100 41.4%,#ffb800 43.9%,#ffd100 45.9%,#ffc600 46.7%,#ffb100 47.1%,#f90 47.4%,#ff5700 47.9%,#ff4800 48.1%,#ff4500 48.4%,#ff5100 48.9%,#ff6900 49.1%,#ffa900 49.6%,#ffba00 49.9%,#ffd500 50.4%,#ffe100 50.9%,#ffdb00 51.4%,#ffca00 51.9%,#ff7f00 52.9%,#ff7100 53.3%,#f70 53.8%,#ff9e00 54.8%,#ffa900 55.3%,#ffb700 58.1%,#ffaf00 59.8%,#ffb600 61.5%,#ffaf00 63.0%,#ffb600 64.8%,#ffb000 66.5%,#ffb500 68.0%,#ffb000 69.7%,#ffb200 100.0%)"></div><div style="height:3.00px;background:linear-gradient(90deg,#ffb300 0.0%,#ffb100 41.4%,#ffb800 43.9%,#ffd000 45.9%,#ffc500 46.7%,#ffb100 47.1%,#ff9a00 47.4%,#ff5700 47.9%,#ff4900 48.1%,#ff4600 48.4%,#ff5200 48.9%,#ff6a00 49.1%,#ffa900 49.6%,#ffba00 49.9%,#ffd400 50.4%,#ffe000 50.9%,#ffda00 51.4%,#ffc900 51.9%,#ff8000 52.9%,#ff7200 53.3%,#f70 53.8%,#fa0 55.3%,#ffb700 58.1%,#ffaf00 59.8%,#ffb600 61.5%,#ffaf00 63.0%,#ffb600 64.8%,#ffb000 66.5%,#ffb500 68.0%,#ffb000 69.7%,#ffb200 100.0%)"></div><div style="height:3.00px;background:linear-gradient(90deg,#ffb300 0.0%,#ffb100 41.4%,#ffb800 43.9%,#ffd000 45.9%,#ffc500 46.7%,#ffb200 47.1%,#ff9a00 47.4%,#ff5800 47.9%,#ff4a00 48.1%,#ff4600 48.4%,#ff5300 48.9%,#ff6a00 49.1%,#ffa900 49.6%,#ffb900 49.9%,#ffd300 50.4%,#ffdf00 50.9%,#ffda00 51.4%,#ffc900 51.9%,#ff8000 52.9%,#ff7200 53.3%,#ff7800 53.8%,#ffa900 55.3%,#ffb600 58.1%,#ffaf00 59.8%,#ffb600 61.5%,#ffaf00 63.0%,#ffb600 64.8%,#ffb000 66.3%,#ffb500 68.0%,#ffb300 100.0%)"></div><div style="height:3.00px;background:linear-gradient(90deg,#ffb300 0.0%,#ffb100 41.4%,#ffb800 43.9%,#ffcf00 45.9%,#ffc500 46.7%,#ffb200 47.1%,#ff9a00 47.4%,#ff5900 47.9%,#ff4b00 48.1%,#ff4700 48.4%,#ff5300 48.9%,#ff6b00 49.1%,#ffa900 49.6%,#ffb900 49.9%,#ffd300 50.4%,#ffdf00 50.9%,#ffd900 51.4%,#ffc800 51.9%,#ff8100 52.9%,#ff7300 53.3%,#ff7900 53.8%,#ffa900 55.3%,#ffb600 58.1%,#ffaf00 59.8%,#ffb600 61.3%,#ffaf00 63.0%,#ffb500 64.8%,#ffb000 66.3%,#ffb300 100.0%)"></div><div style="height:3.00px;background:linear-gradient(90deg,#ffb200 0.0%,#ffb100 41.7%,#ffb800 43.9%,#ffcf00 45.9%,#ffc500 46.7%,#ffb200 47.1%,#ff9b00 47.4%,#ff5a00 47.9%,#ff4c00 48.1%,#ff4800 48.4%,#ff5400 48.9%,#ff6b00 49.1%,#ffa900 49.6%,#ffb900 49.9%,#ffd200 50.4%,#ffde00 50.9%,#ffd800 51.4%,#ffc800 51.9%,#ff8100 52.9%,#ff7300 53.3%,#ff7900 53.8%,#ffa900 55.3%,#ffb600 58.1%,#ffaf00 59.8%,#ffb600 61.3%,#ffb000 63.0%,#ffb500 64.5%,#ffb000 66.3%,#ffb300 100.0%)"></div><div style="height:3.00px;background:linear-gradient(90deg,#ffb200 0.0%,#ffb100 41.7%,#ffb800 43.9%,#ffcf00 45.9%,#ffc500 46.7%,#ffb200 47.1%,#ff9b00 47.4%,#ff5b00 47.9%,#ff4d00 48.1%,#ff4900 48.4%,#f50 48.9%,#ffa900 49.6%,#ffb900 49.9%,#ffd200 50.4%,#fd0 50.9%,#ffd800 51.4%,#ffc700 51.9%,#ff8100 52.9%,#ff7400 53.3%,#ff7a00 53.8%,#ffa900 55.3%,#ffb600 58.1%,#ffaf00 59.8%,#ffb600 61.3%,#ffb000 63.0%,#ffb500 64.5%,#ffb000 66.3%,#ffb300 100.0%)"></div><div style="height:3.00px;background:linear-gradient(90deg,#ffb200 0.0%,#ffb100 41.7%,#ffb800 43.9%,#ffce00 45.9%,#ffc400 46.7%,#ffb200 47.1%,#ff9b00 47.4%,#ff5c00 47.9%,#ff4e00 48.1%,#ff4a00 48.4%,#ff5600 48.9%,#ffa900 49.6%,#ffb900 49.9%,#ffd100 50.4%,#ffdc00 50.9%,#ffd700 51.4%,#ffc700 51.9%,#ff8200 52.9%,#ff7400 53.3%,#ff7a00 53.8%,#ffa900 55.3%,#ffb600 58.1%,#ffaf00 59.8%,#ffb600 61.3%,#ffb000 63.0%,#ffb500 64.5%,#ffb000 66.3%,#ffb300 100.0%)"></div><div style="height:3.00px;background:linear-gradient(90deg,#ffb200 0.0%,#ffb100 41.7%,#ffb800 43.9%,#ffce00 45.9%,#ffc400 46.7%,#ffb200 47.1%,#ff9c00 47.4%,#ff5c00 47.9%,#ff4e00 48.1%,#ff4b00 48.4%,#ff5600 48.9%,#ffa900 49.6%,#ffb900 49.9%,#ffd100 50.4%,#ffdc00 50.9%,#ffd600 51.4%,#ffc600 51.9%,#ff8200 52.9%,#ff7500 53.3%,#ff7b00 53.8%,#fa0 55.3%,#ffb600 58.1%,#ffaf00 59.8%,#ffb600 61.3%,#ffb000 63.0%,#ffb500 64.5%,#ffb000 66.3%,#ffb300 100.0%)"></div><div style="height:3.00px;background:linear-gradient(90deg,#ffb200 0.0%,#ffb100 41.7%,#ffb800 43.9%,#ffce00 45.9%,#ffc400 46.7%,#ffb200 47.1%,#ff9c00 47.4%,#ff5d00 47.9%,#ff4f00 48.1%,#ff4c00 48.4%,#ff5700 48.9%,#ffa900 49.6%,#ffb900 49.9%,#ffd000 50.4%,#ffdb00 50.9%,#ffd600 51.4%,#ffc600 51.9%,#ff8200 52.9%,#ff7600 53.3%,#ff7b00 53.8%,#fa0 55.3%,#ffb600 58.1%,#ffaf00 59.8%,#ffb600 61.3%,#ffb000 63.0%,#ffb500 64.5%,#ffb300 100.0%)"></div><div style="height:3.00px;background:linear-gradient(90deg,#ffb200 0.0%,#ffb100 41.7%,#ffb800 43.9%,#ffcd00 45.9%,#ffc400 46.7%,#ffb200 47.1%,#ff9c00 47.4%,#ff5e00 47.9%,#ff5000 48.1%,#ff4c00 48.4%,#ff5800 48.9%,#ffa900 49.6%,#ffb800 49.9%,#ffd000 50.4%,#ffdb00 50.9%,#ffd500 51.4%,#ffc500 51.9%,#ff8300 52.9%,#ff7600 53.3%,#ff7c00 53.8%,#ffa900 55.3%,#ffb600 58.1%,#ffaf00 59.8%,#ffb500 61.3%,#ffb000 63.0%,#ffb300 100.0%)"></div><div style="height:3.00px;background:linear-gradient(90deg,#ffb200 0.0%,#ffb100 41.7%,#ffb800 43.9%,#ffcd00 45.9%,#ffc300 46.7%,#ffb200 47.1%,#ff9d00 47.4%,#ff5f00 47.9%,#ff4d00 48.4%,#ff5900 48.9%,#ffa900 49.6%,#ffb800 49.9%,#ffcf00 50.4%,#ffda00 50.9%,#ffd500 51.4%,#ffc500 51.9%,#ff8300 52.9%,#f70 53.3%,#ff7c00 53.8%,#ffa900 55.3%,#ffb600 58.1%,#ffb000 59.6%,#ffb500 61.3%,#ffb000 62.8%,#ffb300 100.0%)"></div><div style="height:3.00px;background:linear-gradient(90deg,#ffb200 0.0%,#ffb100 41.7%,#ffb800 43.9%,#fc0 45.9%,#ffc300 46.7%,#ffb200 47.1%,#ff9d00 47.4%,#ff6000 47.9%,#ff4e00 48.4%,#ff5900 48.9%,#ffa900 49.6%,#ffb800 49.9%,#ffcf00 50.4%,#ffd900 50.9%,#ffd400 51.4%,#ffc400 51.9%,#ff8300 52.9%,#f70 53.3%,#ff7d00 53.8%,#ffa900 55.3%,#ffb600 58.1%,#ffb000 59.6%,#ffb500 61.3%,#ffb000 62.8%,#ffb300 100.0%)"></div><div style="height:3.00px;background:linear-gradient(90deg,#ffb200 0.0%,#ffb100 41.7%,#ffb800 43.9%,#fc0 45.9%,#ffc300 46.7%,#ffb200 47.1%,#ff9d00 47.4%,#ff6000 47.9%,#ff4f00 48.4%,#ff5a00 48.9%,#ffa900 49.6%,#ffb800 49.9%,#ffcf00 50.4%,#ffd900 50.9%,#ffd300 51.4%,#ffc400 51.9%,#ff8400 52.9%,#ff7800 53.3%,#ff7d00 53.8%,#fa0 55.3%,#ffb600 58.1%,#ffb000 59.6%,#ffb500 61.3%,#ffb000 62.8%,#ffb300 100.0%)"></div><div style="height:3.00px;background:linear-gradient(90deg,#ffb200 0.0%,#ffb100 41.7%,#ffb800 43.9%,#fc0 45.9%,#ffc300 46.7%,#ffb200 47.1%,#ff9d00 47.4%,#ff6100 47.9%,#ff5000 48.4%,#ff5b00 48.9%,#fa0 49.6%,#ffb800 49.9%,#ffce00 50.4%,#ffd800 50.9%,#ffd300 51.4%,#ffc400 51.9%,#ff8400 52.9%,#ff7800 53.3%,#ff7e00 53.8%,#fa0 55.3%,#ffb600 58.1%,#ffb000 59.6%,#ffb500 61.3%,#ffb000 62.8%,#ffb300 100.0%)"></div><div style="height:3.00px;background:linear-gradient(90deg,#ffb200 0.0%,#ffb100 41.7%,#ffb800 43.9%,#ffcb00 45.9%,#ffc300 46.7%,#ffb200 47.1%,#ff9e00 47.4%,#ff6200 47.9%,#ff5100 48.4%,#ff5c00 48.9%,#fa0 49.6%,#ffb800 49.9%,#ffce00 50.4%,#ffd800 50.9%,#ffc300 51.9%,#ff8400 52.9%,#ff7900 53.3%,#ff7e00 53.8%,#fa0 55.3%,#ffb500 58.1%,#ffb000 59.6%,#ffb500 61.3%,#ffb300 100.0%)"></div><div style="height:3.00px;background:linear-gradient(90deg,#ffb200 0.0%,#ffb100 41.7%,#ffb800 43.9%,#ffcb00 45.9%,#ffc200 46.7%,#ffb200 47.1%,#ff9e00 47.4%,#ff6300 47.9%,#ff5200 48.4%,#ff5c00 48.9%,#fa0 49.6%,#ffb800 49.9%,#ffcd00 50.4%,#ffd700 50.9%,#ffc300 51.9%,#ff8500 52.9%,#ff7900 53.3%,#ff7f00 53.8%,#fa0 55.3%,#ffb500 57.8%,#ffb000 59.6%,#ffb300 100.0%)"></div><div style="height:3.00px;background:linear-gradient(90deg,#ffb200 0.0%,#ffb100 41.7%,#ffb800 43.9%,#ffcb00 45.9%,#ffc200 46.7%,#ffb200 47.1%,#ff9e00 47.4%,#ff6300 47.9%,#ff5200 48.4%,#ff5d00 48.9%,#fa0 49.6%,#ffb700 49.9%,#ffcd00 50.4%,#ffd600 50.9%,#ffc200 51.9%,#ff8500 52.9%,#ff7a00 53.3%,#ff7f00 53.8%,#fa0 55.3%,#ffb500 57.8%,#ffb300 100.0%)"></div><div style="height:3.00px;background:linear-gradient(90deg,#ffb200 0.0%,#ffb100 41.7%,#ffb800 43.9%,#ffca00 45.9%,#ffc200 46.7%,#ffb200 47.1%,#ff9e00 47.4%,#ff6400 47.9%,#ff5300 48.4%,#ff5e00 48.9%,#fa0 49.6%,#ffb700 49.9%,#fc0 50.4%,#ffd600 50.9%,#ffc200 51.9%,#ff8500 52.9%,#ff7a00 53.3%,#ff8000 53.8%,#fa0 55.3%,#ffb500 57.8%,#ffb200 100.0%)"></div><div style="height:3.00px;background:linear-gradient(90deg,#ffb200 0.0%,#ffb100 41.7%,#ffb700 43.9%,#ffca00 45.9%,#ffc200 46.7%,#ffb200 47.1%,#ff9f00 47.4%,#ff6500 47.9%,#ff5400 48.4%,#ff5f00 48.9%,#fa0 49.6%,#ffb700 49.9%,#fc0 50.4%,#ffd500 50.9%,#ffc200 51.9%,#ff8600 52.9%,#ff7b00 53.3%,#ff8000 53.8%,#fa0 55.3%,#ffb500 57.8%,#ffb200 100.0%)"></div><div style="height:3.00px;background:linear-gradient(90deg,#ffb200 0.0%,#ffb100 41.7%,#ffb700 43.9%,#ffca00 45.9%,#ffc200 46.7%,#ffb200 47.1%,#ff9f00 47.4%,#f60 47.9%,#f50 48.4%,#ff6000 48.9%,#fa0 49.6%,#ffb700 49.9%,#fc0 50.4%,#ffd500 50.9%,#ffc100 51.9%,#ff8600 52.9%,#ff7b00 53.3%,#ff8100 53.8%,#fa0 55.3%,#ffb500 57.8%,#ffb200 100.0%)"></div><div style="height:3.00px;background:linear-gradient(90deg,#ffb200 0.0%,#ffb100 41.7%,#ffb700 43.9%,#ffc900 45.9%,#ffc200 46.7%,#ffb200 47.1%,#ff9f00 47.4%,#f60 47.9%,#ff5600 48.4%,#ff6000 48.9%,#fa0 49.6%,#ffb700 49.9%,#ffcb00 50.4%,#ffd400 50.9%,#ffc100 51.9%,#ff8600 52.9%,#ff7c00 53.3%,#ff8100 53.8%,#fa0 55.3%,#ffb500 57.8%,#ffb200 100.0%)"></div><div style="height:3.00px;background:linear-gradient(90deg,#ffb200 0.0%,#ffb200 41.9%,#ffb700 43.9%,#ffc900 45.9%,#ffc100 46.7%,#ffb200 47.1%,#ff9f00 47.4%,#ff6700 47.9%,#ff5700 48.4%,#ff6100 48.9%,#fa0 49.6%,#ffb700 49.9%,#ffcb00 50.4%,#ffd400 50.9%,#ffc100 51.9%,#ff8700 52.9%,#ff7c00 53.3%,#ff8100 53.8%,#fa0 55.3%,#ffb500 57.8%,#ffb200 100.0%)"></div><div style="height:3.00px;background:linear-gradient(90deg,#ffb300 0.0%,#ffb200 41.9%,#ffb700 43.9%,#ffc900 45.9%,#ffc100 46.7%,#ffb200 47.1%,#ffa000 47.4%,#ff6800 47.9%,#ff5700 48.4%,#ff6200 48.9%,#fa0 49.6%,#ffb700 49.9%,#ffcb00 50.4%,#ffd300 50.9%,#ffc000 51.9%,#ff8700 52.9%,#ff7d00 53.3%,#ff8200 53.8%,#fa0 55.3%,#ffb500 57.8%,#ffb200 100.0%)"></div><div style="height:3.00px;background:linear-gradient(90deg,#ffb300 0.0%,#ffb200 41.9%,#ffb700 43.9%,#ffc900 45.9%,#ffc100 46.7%,#ffb200 47.1%,#ffa000 47.4%,#ff6900 47.9%,#ff5800 48.4%,#ff6300 48.9%,#fa0 49.6%,#ffb700 49.9%,#ffca00 50.4%,#ffd300 50.9%,#ffc000 51.9%,#ff8700 52.9%,#ff7d00 53.3%,#ff8200 53.8%,#fa0 55.3%,#ffb500 57.8%,#ffb200 100.0%)"></div><div style="height:3.00px;background:linear-gradient(90deg,#ffb300 0.0%,#ffb200 41.9%,#ffb700 43.9%,#ffc800 45.9%,#ffc100 46.7%,#ffb200 47.1%,#ffa000 47.4%,#ff6a00 47.9%,#ff5900 48.4%,#ff6300 48.9%,#fa0 49.6%,#ffb700 49.9%,#ffca00 50.4%,#ffd200 50.9%,#ffc000 51.9%,#f80 52.9%,#ff7d00 53.3%,#ff8300 53.8%,#fa0 55.3%,#ffb500 57.8%,#ffb200 100.0%)"></div><div style="height:3.00px;background:linear-gradient(90deg,#ffb300 0.0%,#ffb200 41.9%,#ffb700 43.9%,#ffc800 45.9%,#ffc100 46.7%,#ffb200 47.1%,#ffa000 47.4%,#ff6a00 47.9%,#ff5a00 48.4%,#ff6400 48.9%,#fa0 49.6%,#ffb700 49.9%,#ffca00 50.4%,#ffd200 50.9%,#ffbf00 51.9%,#f80 52.9%,#ff7e00 53.3%,#ff8300 53.8%,#fa0 55.3%,#ffb500 57.8%,#ffb200 100.0%)"></div><div style="height:3.00px;background:linear-gradient(90deg,#ffb300 0.0%,#ffb200 41.9%,#ffb700 43.9%,#ffc800 45.9%,#ffc000 46.7%,#ffb200 47.1%,#ffa100 47.4%,#ff6b00 47.9%,#ff5b00 48.4%,#ff6500 48.9%,#ffab00 49.6%,#ffb700 49.9%,#ffc900 50.4%,#ffd100 50.9%,#ffbf00 51.9%,#f80 52.9%,#ff7e00 53.3%,#ff8300 53.8%,#fa0 55.3%,#ffb500 57.8%,#ffb200 100.0%)"></div><div style="height:3.00px;background:linear-gradient(90deg,#ffb300 0.0%,#ffb200 41.9%,#ffb700 43.9%,#ffc700 45.9%,#ffc000 46.7%,#ffb200 47.1%,#ffa100 47.4%,#ff6c00 47.9%,#ff5c00 48.4%,#f60 48.9%,#ffab00 49.6%,#ffb700 49.9%,#ffc900 50.4%,#ffd100 50.9%,#ffbf00 51.9%,#ff8900 52.9%,#ff7f00 53.3%,#ff8400 53.8%,#fa0 55.3%,#ffb500 57.8%,#ffb200 100.0%)"></div><div style="height:3.00px;background:linear-gradient(90deg,#ffb300 0.0%,#ffb200 41.9%,#ffb700 43.9%,#ffc700 45.9%,#ffc000 46.7%,#ffb200 47.1%,#ffa100 47.4%,#ff6d00 47.9%,#ff5d00 48.4%,#f60 48.9%,#ffab00 49.6%,#ffb600 49.9%,#ffc900 50.4%,#ffd100 50.9%,#ffbe00 51.9%,#ff8900 52.9%,#ff7f00 53.3%,#ff8400 53.8%,#fa0 55.3%,#ffb400 57.8%,#ffb200 100.0%)"></div><div style="height:3.00px;background:linear-gradient(90deg,#ffb300 0.0%,#ffb200 41.9%,#ffb700 43.9%,#ffc700 45.9%,#ffc000 46.7%,#ffb200 47.1%,#ffa100 47.4%,#ff6d00 47.9%,#ff5d00 48.4%,#ff6700 48.9%,#ffab00 49.6%,#ffb600 49.9%,#ffd000 50.9%,#ffbe00 51.9%,#ff8900 52.9%,#ff8000 53.3%,#ff8500 53.8%,#fa0 55.3%,#ffb400 57.8%,#ffb200 100.0%)"></div><div style="height:3.00px;background:linear-gradient(90deg,#ffb300 0.0%,#ffb200 41.9%,#ffb700 43.9%,#ffc700 45.9%,#ffc000 46.7%,#ffb200 47.1%,#ffa200 47.4%,#ff6e00 47.9%,#ff5e00 48.4%,#ff6800 48.9%,#ffab00 49.6%,#ffb600 49.9%,#ffd000 50.9%,#ffbe00 51.9%,#ff8a00 52.9%,#ff8000 53.3%,#ff8500 53.8%,#fa0 55.3%,#ffb400 57.8%,#ffb200 100.0%)"></div><div style="height:3.00px;background:linear-gradient(90deg,#ffb300 0.0%,#ffb200 41.9%,#ffb700 43.9%,#ffc600 45.9%,#ffc000 46.7%,#ffb200 47.1%,#ffa200 47.4%,#ff6f00 47.9%,#ff5f00 48.4%,#ff6900 48.9%,#ffab00 49.6%,#ffb600 49.9%,#ffcf00 50.9%,#ffbe00 51.9%,#ff8a00 52.9%,#ff8000 53.3%,#ff8500 53.8%,#fa0 55.3%,#ffb400 57.8%,#ffb200 100.0%)"></div><div style="height:3.00px;background:linear-gradient(90deg,#ffb300 0.0%,#ffb200 41.9%,#ffb700 43.9%,#ffc600 45.9%,#ffbf00 46.7%,#ffb200 47.1%,#ffa200 47.4%,#ff7000 47.9%,#ff6000 48.4%,#ff6900 48.9%,#ffab00 49.6%,#ffb600 49.9%,#ffcf00 50.9%,#ffbd00 51.9%,#ff8a00 52.9%,#ff8100 53.3%,#ff8600 53.8%,#fa0 55.3%,#ffb400 57.8%,#ffb200 100.0%)"></div><div style="height:3.00px;background:linear-gradient(90deg,#ffb300 0.0%,#ffb200 41.9%,#ffb700 43.9%,#ffc600 45.9%,#ffb200 47.1%,#ffa200 47.4%,#ff7000 47.9%,#ff6100 48.4%,#ff6a00 48.9%,#ffab00 49.6%,#ffb600 49.9%,#ffcf00 50.9%,#ffbd00 51.9%,#ff8a00 52.9%,#ff8100 53.3%,#ff8600 53.8%,#fa0 55.3%,#ffb400 57.8%,#ffb200 100.0%)"></div><div style="height:3.00px;background:linear-gradient(90deg,#ffb300 0.0%,#ffb200 41.9%,#ffc600 45.9%,#ffb200 47.1%,#ffa300 47.4%,#ff7100 47.9%,#ff6200 48.4%,#ff6b00 48.9%,#ffab00 49.6%,#ffb600 49.9%,#ffce00 50.9%,#ffbd00 51.9%,#ff8b00 52.9%,#ff8200 53.3%,#ff8700 53.8%,#fa0 55.3%,#ffb400 57.8%,#ffb200 100.0%)"></div><div style="height:3.00px;background:linear-gradient(90deg,#ffb300 0.0%,#ffb200 41.9%,#ffc500 45.9%,#ffb200 47.1%,#ffa300 47.4%,#ff7200 47.9%,#ff6300 48.4%,#ff6c00 48.9%,#ffab00 49.6%,#ffc700 50.4%,#ffce00 50.9%,#ffbd00 51.9%,#ff8b00 52.9%,#ff8200 53.3%,#ff8700 53.8%,#fa0 55.3%,#ffb400 57.8%,#ffb200 100.0%)"></div><div style="height:3.00px;background:linear-gradient(90deg,#ffb300 0.0%,#ffb200 41.9%,#ffc500 45.9%,#ffb300 47.1%,#ffa300 47.4%,#ff7300 47.9%,#ff6300 48.4%,#ff6c00 48.9%,#ffab00 49.6%,#ffc600 50.4%,#ffcd00 50.9%,#ffbc00 51.9%,#ff8b00 52.9%,#ff8200 53.3%,#ff8700 53.8%,#fa0 55.3%,#ffb400 57.8%,#ffb200 100.0%)"></div><div style="height:3.00px;background:linear-gradient(90deg,#ffb300 0.0%,#ffb200 41.9%,#ffc500 45.9%,#ffb300 47.1%,#ffa300 47.4%,#ff7300 47.9%,#ff6400 48.4%,#ff6d00 48.9%,#ffab00 49.6%,#ffc600 50.4%,#ffcd00 50.9%,#ffbc00 51.9%,#ff8c00 52.9%,#ff8300 53.3%,#f80 53.8%,#fa0 55.3%,#ffb400 57.8%,#ffb200 100.0%)"></div><div style="height:3.00px;background:linear-gradient(90deg,#ffb300 0.0%,#ffb200 41.9%,#ffc500 45.9%,#ffb300 47.1%,#ffa300 47.4%,#ff7400 47.9%,#ff6500 48.4%,#ff6e00 48.9%,#ffac00 49.6%,#ffc600 50.4%,#ffcd00 50.9%,#ffbc00 51.9%,#ff8c00 52.9%,#ff8300 53.3%,#f80 53.8%,#fa0 55.3%,#ffb400 57.8%,#ffb200 100.0%)"></div><div style="height:3.00px;background:linear-gradient(90deg,#ffb300 0.0%,#ffb200 41.9%,#ffc400 45.9%,#ffb300 47.1%,#ffa400 47.4%,#ff7500 47.9%,#f60 48.4%,#ff6f00 48.9%,#ffac00 49.6%,#ffc500 50.4%,#fc0 50.9%,#ffbc00 51.9%,#ff8c00 52.9%,#ff8400 53.3%,#f80 53.8%,#ffab00 55.3%,#ffb400 57.8%,#ffb200 100.0%)"></div><div style="height:3.00px;background:linear-gradient(90deg,#ffb300 0.0%,#ffb200 41.9%,#ffc400 45.9%,#ffb300 47.1%,#ffa400 47.4%,#ff7500 47.9%,#ff6700 48.4%,#ff7000 48.9%,#ffac00 49.6%,#ffc500 50.4%,#fc0 50.9%,#fb0 51.9%,#ff8c00 52.9%,#ff8400 53.3%,#ffab00 55.3%,#ffb400 57.8%,#ffb200 100.0%)"></div><div style="height:3.00px;background:linear-gradient(90deg,#ffb300 0.0%,#ffb200 41.9%,#ffc400 45.9%,#ffb300 47.1%,#ffa400 47.4%,#ff7600 47.9%,#ff6800 48.4%,#ff7000 48.9%,#ffac00 49.6%,#ffc500 50.4%,#fc0 50.9%,#fb0 51.9%,#ff8d00 52.9%,#ff8400 53.3%,#ffab00 55.3%,#ffb400 57.8%,#ffb200 100.0%)"></div><div style="height:3.00px;background:linear-gradient(90deg,#ffb300 0.0%,#ffb200 42.2%,#ffc400 45.9%,#ffb300 47.1%,#ffa400 47.4%,#f70 47.9%,#ff6800 48.4%,#ff7100 48.9%,#ffac00 49.6%,#ffc500 50.4%,#ffcb00 50.9%,#fb0 51.9%,#ff8d00 52.9%,#ff8500 53.3%,#ffab00 55.3%,#ffb400 57.8%,#ffb200 100.0%)"></div><div style="height:3.00px;background:linear-gradient(90deg,#ffb300 0.0%,#ffb200 42.2%,#ffc400 45.9%,#ffb300 47.1%,#ffa500 47.4%,#ff7800 47.9%,#ff6900 48.4%,#ff7200 48.9%,#ffac00 49.6%,#ffc400 50.4%,#ffcb00 50.9%,#fb0 51.9%,#ff8d00 52.9%,#ff8500 53.3%,#ffab00 55.3%,#ffb400 57.8%,#ffb200 100.0%)"></div><div style="height:3.00px;background:linear-gradient(90deg,#ffb300 0.0%,#ffb200 42.2%,#ffc300 45.9%,#ffb300 47.1%,#ffa500 47.4%,#ff7800 47.9%,#ff6a00 48.4%,#ff7300 48.9%,#ffac00 49.6%,#ffc400 50.4%,#ffcb00 50.9%,#fb0 51.9%,#ff8d00 52.9%,#ff8500 53.3%,#ffab00 55.3%,#ffb400 57.8%,#ffb200 100.0%)"></div><div style="height:3.00px;background:linear-gradient(90deg,#ffb300 0.0%,#ffb200 42.2%,#ffc300 45.9%,#ffb300 47.1%,#ffa500 47.4%,#ff7900 47.9%,#ff6b00 48.4%,#ff7300 48.9%,#ffac00 49.6%,#ffc400 50.4%,#ffca00 50.9%,#ffba00 51.9%,#ff8e00 52.9%,#ff8600 53.3%,#ffab00 55.3%,#ffb400 57.8%,#ffb200 100.0%)"></div><div style="height:3.00px;background:linear-gradient(90deg,#ffb300 0.0%,#ffb200 42.2%,#ffc300 45.9%,#ffb300 47.1%,#ffa500 47.4%,#ff7a00 47.9%,#ff6c00 48.4%,#ff7400 48.9%,#ffac00 49.6%,#ffc400 50.4%,#ffca00 50.9%,#ffba00 51.9%,#ff8e00 52.9%,#ff8600 53.3%,#ffab00 55.3%,#ffb400 57.8%,#ffb200 100.0%)"></div><div style="height:3.00px;background:linear-gradient(90deg,#ffb300 0.0%,#ffb200 42.2%,#ffc300 45.9%,#ffb300 47.1%,#ffa500 47.4%,#ff7a00 47.9%,#ff6d00 48.4%,#ff7500 48.9%,#ffac00 49.6%,#ffc400 50.4%,#ffca00 50.9%,#ffba00 51.9%,#ff8e00 52.9%,#ff8600 53.3%,#ffab00 55.3%,#ffb300 57.6%,#ffb200 100.0%)"></div><div style="height:3.00px;background:linear-gradient(90deg,#ffb300 0.0%,#ffb200 42.2%,#ffc300 45.9%,#ffb300 47.1%,#ffa600 47.4%,#ff7b00 47.9%,#ff6d00 48.4%,#ff7600 48.9%,#ffac00 49.6%,#ffc300 50.4%,#ffc900 50.9%,#ffba00 51.9%,#ff8e00 52.9%,#ff8700 53.3%,#ffab00 55.3%,#ffb300 57.6%,#ffb300 100.0%)"></div><div style="height:3.00px;background:linear-gradient(90deg,#ffb300 0.0%,#ffb200 42.2%,#ffc200 45.9%,#ffb300 47.1%,#ffa600 47.4%,#ff7c00 47.9%,#ff6e00 48.4%,#ff7600 48.9%,#ffac00 49.6%,#ffc300 50.4%,#ffc900 50.9%,#ffba00 51.9%,#ff8f00 52.9%,#ff8700 53.3%,#ffab00 55.3%,#ffb300 57.6%,#ffb300 100.0%)"></div><div style="height:3.00px;background:linear-gradient(90deg,#ffb200 0.0%,#ffb200 42.2%,#ffc200 45.9%,#ffb300 47.1%,#ffa600 47.4%,#ff7d00 47.9%,#ff6f00 48.4%,#f70 48.9%,#ffad00 49.6%,#ffc300 50.4%,#ffc900 50.9%,#ffba00 51.9%,#ff8f00 52.9%,#ff8700 53.3%,#ffab00 55.3%,#ffb300 57.6%,#ffb300 100.0%)"></div><div style="height:3.00px;background:linear-gradient(90deg,#ffb200 0.0%,#ffb200 42.2%,#ffc200 45.9%,#ffb300 47.1%,#ffa600 47.4%,#ff7d00 47.9%,#ff7000 48.4%,#ff7800 48.9%,#ffad00 49.6%,#ffc300 50.4%,#ffc900 50.9%,#ffb900 51.9%,#ff8f00 52.9%,#f80 53.3%,#ffab00 55.3%,#ffb300 57.6%,#ffb300 100.0%)"></div><div style="height:3.00px;background:linear-gradient(90deg,#ffb200 0.0%,#ffb200 42.2%,#ffc200 45.9%,#ffb300 47.1%,#ffa600 47.4%,#ff7e00 47.9%,#ff7100 48.4%,#ff7900 48.9%,#ffad00 49.6%,#ffc300 50.4%,#ffc800 50.9%,#ffb900 51.9%,#ff8f00 52.9%,#f80 53.3%,#ffab00 55.3%,#ffb300 57.6%,#ffb300 100.0%)"></div><div style="height:3.00px;background:linear-gradient(90deg,#ffb200 0.0%,#ffb200 42.2%,#ffc200 45.9%,#ffb300 47.1%,#ffa700 47.4%,#ff7f00 47.9%,#ff7200 48.4%,#ff7900 48.9%,#ffad00 49.6%,#ffc200 50.4%,#ffc800 50.9%,#ffb900 51.9%,#ff9000 52.9%,#f80 53.3%,#ffab00 55.3%,#ffb300 57.6%,#ffb300 100.0%)"></div><div style="height:3.00px;background:linear-gradient(90deg,#ffb200 0.0%,#ffb200 42.2%,#ffc100 45.9%,#ffb300 47.1%,#ffa700 47.4%,#ff8000 47.9%,#ff7200 48.4%,#ff7a00 48.9%,#ffad00 49.6%,#ffc200 50.4%,#ffc800 50.9%,#ffb900 51.9%,#ff9000 52.9%,#ff8900 53.3%,#ffab00 55.3%,#ffb300 57.6%,#ffb300 100.0%)"></div><div style="height:3.00px;background:linear-gradient(90deg,#ffb200 0.0%,#ffb200 42.2%,#ffc100 45.9%,#ffb300 47.1%,#ffa700 47.4%,#ff8000 47.9%,#ff7300 48.4%,#ff7b00 48.9%,#ffad00 49.6%,#ffc200 50.4%,#ffc700 50.9%,#ffb900 51.9%,#ff9000 52.9%,#ff8900 53.3%,#ffab00 55.3%,#ffb300 57.6%,#ffb300 100.0%)"></div><div style="height:3.00px;background:linear-gradient(90deg,#ffb200 0.0%,#ffb200 42.2%,#ffc100 45.9%,#ffb300 47.1%,#ffa700 47.4%,#ff8100 47.9%,#ff7400 48.4%,#ff7c00 48.9%,#ffad00 49.6%,#ffc700 50.9%,#ffb900 51.9%,#ff9000 52.9%,#ff8900 53.3%,#ffab00 55.3%,#ffb300 57.6%,#ffb300 100.0%)"></div><div style="height:3.00px;background:linear-gradient(90deg,#ffb200 0.0%,#ffb200 42.2%,#ffc100 45.9%,#ffb300 47.1%,#ffa800 47.4%,#ff8200 47.9%,#ff7500 48.4%,#ff7c00 48.9%,#ffad00 49.6%,#ffc700 50.9%,#ffb800 51.9%,#ff9100 52.9%,#ff8900 53.3%,#ffab00 55.3%,#ffb300 57.6%,#ffb300 100.0%)"></div></div></div>
<svg width="1993" height="816" viewBox="0 0 1993 816">
<defs><linearGradient id="cb" x1="0" y1="0" x2="0" y2="1"><stop offset="0.000" stop-color="#800000"/><stop offset="0.050" stop-color="#b30000"/><stop offset="0.100" stop-color="#e50000"/><stop offset="0.150" stop-color="#ff1a00"/><stop offset="0.200" stop-color="#ff4c00"/><stop offset="0.250" stop-color="#ff8000"/><stop offset="0.300" stop-color="#ffb300"/><stop offset="0.350" stop-color="#ffe500"/><stop offset="0.400" stop-color="#e5ff1a"/><stop offset="0.450" stop-color="#b3ff4c"/><stop offset="0.500" stop-color="#80ff80"/><stop offset="0.550" stop-color="#4cffb3"/><stop offset="0.600" stop-color="#1affe5"/><stop offset="0.650" stop-color="#00e5ff"/><stop offset="0.700" stop-color="#00b3ff"/><stop offset="0.750" stop-color="#0080ff"/><stop offset="0.800" stop-color="#004cff"/><stop offset="0.850" stop-color="#001aff"/><stop offset="0.900" stop-color="#0000e5"/><stop offset="0.950" stop-color="#0000b3"/><stop offset="1.000" stop-color="#000080"/></linearGradient></defs>
<rect x="1882" y="98.5" width="39" height="585.5" fill="url(#cb)" stroke="#222" stroke-width="1.2"/>
<path d="M1920.6 98V684.6" stroke="#222" stroke-width="2"/>
<path d="M1911 274.3H1921" stroke="#222" stroke-width="2"/>
<path d="M1911 450.2H1921" stroke="#222" stroke-width="2"/>
<path d="M1911 625.6H1921" stroke="#222" stroke-width="2"/>
<rect x="144.0" y="96.4" width="397.4" height="589.6" fill="none" stroke="#1e1e1e" stroke-width="5.4"/>
<path d="M177.9 99.1V116.5M177.9 683.3V666.2" stroke="#1e1e1e" stroke-width="5.6"/>
<path d="M289.6 99.1V116.5M289.6 683.3V666.2" stroke="#1e1e1e" stroke-width="5.6"/>
<path d="M401.2 99.1V116.5M401.2 683.3V666.2" stroke="#1e1e1e" stroke-width="5.6"/>
<path d="M512.9 99.1V116.5M512.9 683.3V666.2" stroke="#1e1e1e" stroke-width="5.6"/>
<path d="M146.7 139.5H163.0M538.7 139.5H522.4" stroke="#1e1e1e" stroke-width="5.4"/>
<path d="M146.7 255.4H163.0M538.7 255.4H522.4" stroke="#1e1e1e" stroke-width="5.4"/>
<path d="M146.7 371.3H163.0M538.7 371.3H522.4" stroke="#1e1e1e" stroke-width="5.4"/>
<path d="M146.7 487.2H163.0M538.7 487.2H522.4" stroke="#1e1e1e" stroke-width="5.4"/>
<path d="M146.7 603.1H163.0M538.7 603.1H522.4" stroke="#1e1e1e" stroke-width="5.4"/>
<rect x="583.7" y="96.4" width="397.4" height="589.6" fill="none" stroke="#1e1e1e" stroke-width="5.4"/>
<path d="M617.6 99.1V116.5M617.6 683.3V666.2" stroke="#1e1e1e" stroke-width="5.6"/>
<path d="M729.3 99.1V116.5M729.3 683.3V666.2" stroke="#1e1e1e" stroke-width="5.6"/>
<path d="M840.9 99.1V116.5M840.9 683.3V666.2" stroke="#1e1e1e" stroke-width="5.6"/>
<path d="M952.6 99.1V116.5M952.6 683.3V666.2" stroke="#1e1e1e" stroke-width="5.6"/>
<path d="M586.4 139.5H602.7M978.4 139.5H962.1" stroke="#1e1e1e" stroke-width="5.4"/>
<path d="M586.4 255.4H602.7M978.4 255.4H962.1" stroke="#1e1e1e" stroke-width="5.4"/>
<path d="M586.4 371.3H602.7M978.4 371.3H962.1" stroke="#1e1e1e" stroke-width="5.4"/>
<path d="M586.4 487.2H602.7M978.4 487.2H962.1" stroke="#1e1e1e" stroke-width="5.4"/>
<path d="M586.4 603.1H602.7M978.4 603.1H962.1" stroke="#1e1e1e" stroke-width="5.4"/>
<rect x="1023.6" y="96.4" width="397.4" height="589.6" fill="none" stroke="#1e1e1e" stroke-width="5.4"/>
<path d="M1057.5 99.1V116.5M1057.5 683.3V666.2" stroke="#1e1e1e" stroke-width="5.6"/>
<path d="M1169.2 99.1V116.5M1169.2 683.3V666.2" stroke="#1e1e1e" stroke-width="5.6"/>
<path d="M1280.8 99.1V116.5M1280.8 683.3V666.2" stroke="#1e1e1e" stroke-width="5.6"/>
<path d="M1392.5 99.1V116.5M1392.5 683.3V666.2" stroke="#1e1e1e" stroke-width="5.6"/>
<path d="M1026.3 139.5H1042.6M1418.3 139.5H1402.0" stroke="#1e1e1e" stroke-width="5.4"/>
<path d="M1026.3 255.4H1042.6M1418.3 255.4H1402.0" stroke="#1e1e1e" stroke-width="5.4"/>
<path d="M1026.3 371.3H1042.6M1418.3 371.3H1402.0" stroke="#1e1e1e" stroke-width="5.4"/>
<path d="M1026.3 487.2H1042.6M1418.3 487.2H1402.0" stroke="#1e1e1e" stroke-width="5.4"/>
<path d="M1026.3 603.1H1042.6M1418.3 603.1H1402.0" stroke="#1e1e1e" stroke-width="5.4"/>
<rect x="1463.4" y="96.4" width="397.4" height="589.6" fill="none" stroke="#1e1e1e" stroke-width="5.4"/>
<path d="M1497.3 99.1V116.5M1497.3 683.3V666.2" stroke="#1e1e1e" stroke-width="5.6"/>
<path d="M1609.0 99.1V116.5M1609.0 683.3V666.2" stroke="#1e1e1e" stroke-width="5.6"/>
<path d="M1720.6 99.1V116.5M1720.6 683.3V666.2" stroke="#1e1e1e" stroke-width="5.6"/>
<path d="M1832.3 99.1V116.5M1832.3 683.3V666.2" stroke="#1e1e1e" stroke-width="5.6"/>
<path d="M1466.1 139.5H1482.4M1858.1 139.5H1841.8" stroke="#1e1e1e" stroke-width="5.4"/>
<path d="M1466.1 255.4H1482.4M1858.1 255.4H1841.8" stroke="#1e1e1e" stroke-width="5.4"/>
<path d="M1466.1 371.3H1482.4M1858.1 371.3H1841.8" stroke="#1e1e1e" stroke-width="5.4"/>
<path d="M1466.1 487.2H1482.4M1858.1 487.2H1841.8" stroke="#1e1e1e" stroke-width="5.4"/>
<path d="M1466.1 603.1H1482.4M1858.1 603.1H1841.8" stroke="#1e1e1e" stroke-width="5.4"/>
<line x1="146.7" y1="140.8" x2="538.7" y2="140.8" stroke="#4472c4" stroke-width="4" stroke-dasharray="15.5 11.2" stroke-dashoffset="1.0"/>
<line x1="586.4" y1="140.6" x2="978.4" y2="140.6" stroke="#4472c4" stroke-width="4" stroke-dasharray="15.5 11.2" stroke-dashoffset="-2.3"/>
<line x1="1026.3" y1="142.4" x2="1413.2" y2="139.1" stroke="#4472c4" stroke-width="4" stroke-dasharray="15.5 11.2" stroke-dashoffset="-1.2"/>
<line x1="1466.1" y1="140.6" x2="1858.1" y2="140.6" stroke="#4472c4" stroke-width="4" stroke-dasharray="15.5 11.2" stroke-dashoffset="2.3"/>
<polygon points="212.0,-5.0 256.8,-5.0 256.8,37.9 279.0,37.9 234.5,75.9 189.1,37.9 212.0,37.9" fill="#7030a0"/>
<polygon points="409.4,-5.0 433.6,-5.0 433.6,52.3 445.5,52.3 421.6,76.6 397.8,52.3 409.4,52.3" fill="#70ad47"/>
<polygon points="667.0,1.1 711.7,1.1 711.7,39.3 734.0,39.3 689.3,77.5 644.2,39.3 667.0,39.3" fill="#7030a0"/>
<polygon points="853.1,6.1 876.3,6.1 876.3,59.2 888.1,59.2 864.4,82.4 840.9,59.2 853.1,59.2" fill="#70ad47"/>
<polygon points="1085.0,1.2 1129.9,1.2 1129.9,39.2 1152.1,39.2 1107.4,77.3 1062.1,39.2 1085.0,39.2" fill="#cbb2dd"/>
<polygon points="1193.1,3.2 1238.1,3.2 1238.1,41.0 1260.6,41.0 1215.6,79.4 1170.6,41.0 1193.1,41.0" fill="#7030a0"/>
<polygon points="1541.0,4.3 1586.0,4.3 1586.0,42.4 1607.9,42.4 1563.2,80.0 1518.2,42.4 1541.0,42.4" fill="#cbb2dd"/>
<polygon points="1638.3,4.0 1683.2,4.0 1683.2,42.4 1705.4,42.4 1660.6,80.0 1616.0,42.4 1638.3,42.4" fill="#7030a0"/>
<text x="130.5" y="732.3" font-size="36" >1603</text>
<text x="248.6" y="732.3" font-size="36" >1613</text>
<text x="356.5" y="732.3" font-size="36" >1623</text>
<text x="465.8" y="732.3" font-size="36" >1633</text>
<text x="568.9" y="732.3" font-size="36" >1603</text>
<text x="687.4" y="732.3" font-size="36" >1613</text>
<text x="796.3" y="732.3" font-size="36" >1623</text>
<text x="904.4" y="732.3" font-size="36" >1633</text>
<text x="1015.5" y="732.3" font-size="36" >1603</text>
<text x="1134.1" y="732.3" font-size="36" >1613</text>
<text x="1242.9" y="732.3" font-size="36" >1623</text>
<text x="1350.4" y="732.3" font-size="36" >1633</text>
<text x="1454.9" y="732.3" font-size="36" >1603</text>
<text x="1573.4" y="732.3" font-size="36" >1613</text>
<text x="1682.2" y="732.3" font-size="36" >1623</text>
<text x="1790.4" y="732.3" font-size="36" >1633</text>
<text x="85.8" y="155.2" font-size="40.8" >0</text>
<text x="44.4" y="272.3" font-size="36" >-1.15</text>
<text x="53.5" y="387.0" font-size="36" >-2.3</text>
<text x="30.3" y="501.5" font-size="36" >-3.45</text>
<text x="55.5" y="622.1" font-size="36" >-4.6</text>
<text transform="translate(216.9,806.4) scale(0.95,1)" font-size="50.4">Energy (meV)</text>
<text transform="translate(631.9,806.4) scale(0.95,1)" font-size="50.4">Energy (meV)</text>
<text transform="translate(1083.9,806.4) scale(0.95,1)" font-size="50.4">Energy (meV)</text>
<text transform="translate(1514.4,806.4) scale(0.95,1)" font-size="50.4">Energy (meV)</text>
<text transform="translate(34.6,452.5) rotate(-90) scale(1.033,1)" font-size="46">Δt (ps)</text>
<text x="1925.8" y="121.7" font-size="36" >3</text>
<text x="1936.6" y="282.4" font-size="36" >0</text>
<text x="1925.4" y="459.5" font-size="36" >-3</text>
<text x="1925.5" y="628.2" font-size="36" >-6</text>
<text x="1906" y="89.8" font-size="39">x10<tspan font-size="26" dy="-13">-3</tspan></text>
<text transform="translate(178.1,562.4) scale(0.958,1)" font-size="44">τ = 0.5 ps</text>
<text transform="translate(605.0,562.4) scale(0.958,1)" font-size="44">τ = 0.4 ps</text>
<text transform="translate(1046.5,562.4) scale(0.958,1)" font-size="44">τ = 1 ps</text>
<text transform="translate(1487.5,562.4) scale(0.958,1)" font-size="44">τ = 1 ps</text>
<text x="458.6" y="637.0" font-size="47" font-weight="bold">a</text>
<text x="882.7" y="637.0" font-size="47" font-weight="bold">b</text>
<text x="1333.2" y="637.0" font-size="47" font-weight="bold">c</text>
<text x="1776.6" y="637.0" font-size="47" font-weight="bold">d</text>
</svg>
</body></html>
